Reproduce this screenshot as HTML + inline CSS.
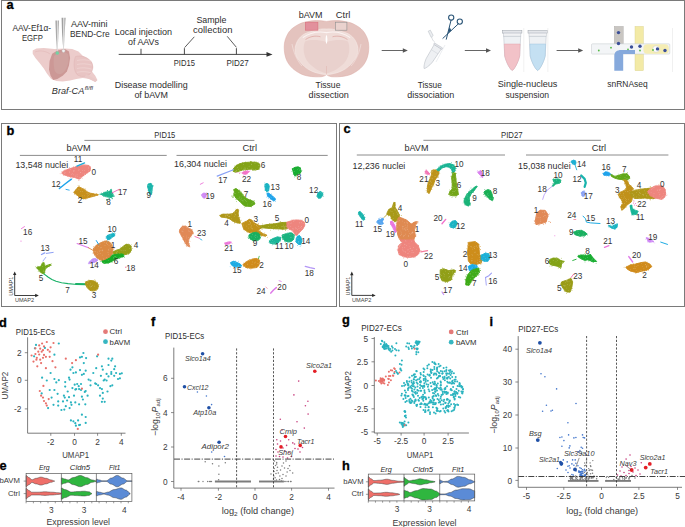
<!DOCTYPE html>
<html><head><meta charset="utf-8"><style>
html,body{margin:0;padding:0;background:#fff;width:685px;height:527px;overflow:hidden}
svg{display:block;font-family:"Liberation Sans", sans-serif}
</style></head><body>
<svg width="685" height="527" viewBox="0 0 685 527">
<rect x="1.5" y="0.5" width="683" height="109" fill="none" stroke="#7a7a7a" stroke-width="1"/>
<rect x="1.5" y="123.5" width="335" height="183" fill="none" stroke="#7a7a7a" stroke-width="1"/>
<rect x="339.5" y="123.5" width="345" height="183" fill="none" stroke="#7a7a7a" stroke-width="1"/>
<text x="6.6" y="9.3" font-size="12.8" fill="#000" text-anchor="start" font-weight="bold" stroke="#000" stroke-width="0.3">a</text>
<text x="12.5" y="30.6" font-size="8.6" fill="#2e2e2e" text-anchor="start" font-weight="normal" textLength="38.5" lengthAdjust="spacingAndGlyphs">AAV-Ef1α-</text>
<text x="21.9" y="40.6" font-size="8.6" fill="#2e2e2e" text-anchor="start" font-weight="normal" textLength="21" lengthAdjust="spacingAndGlyphs">EGFP</text>
<text x="71" y="26.8" font-size="8.6" fill="#2e2e2e" text-anchor="start" font-weight="normal" textLength="36.5" lengthAdjust="spacingAndGlyphs">AAV-mini</text>
<text x="70" y="36.8" font-size="8.6" fill="#2e2e2e" text-anchor="start" font-weight="normal" textLength="39.6" lengthAdjust="spacingAndGlyphs">BEND-Cre</text>
<polygon points="32.7,50.5 36.4,48.4 43.8,47.9 54.3,48.9 64.8,48.4 72.2,48.9 78.5,51.6 82.7,55.8 87.9,58.4 92.1,62.6 93.2,67.3 91.1,70.5 95.3,75.8 97.4,80.0 95.3,82.1 90.0,78.9 82.7,77.9 76.4,78.9 70.1,80.5 62.7,81.5 56.4,81.0 51.1,78.9 46.9,73.6 43.8,68.4 39.6,63.1 35.4,57.9 32.7,53.7" fill="#eccccb"/>
<path d="M75.5,56.5 C81,55 87.5,57 91,61.5 C93.8,65.5 93.2,71 90,74 C86,77 80.5,77.3 77,74.5 C73.8,71 73.2,62 75.5,56.5 Z" fill="#e8c4c3" stroke="#dcaeae" stroke-width="0.4"/>
<path d="M77,60.5 C82,59.3 87,59.7 91.5,61.1" fill="none" stroke="#f2dcdb" stroke-width="0.5"/>
<path d="M77,64.5 C82,63.3 87,63.7 91.5,65.1" fill="none" stroke="#f2dcdb" stroke-width="0.5"/>
<path d="M77,68.5 C82,67.3 87,67.7 91.5,69.1" fill="none" stroke="#f2dcdb" stroke-width="0.5"/>
<path d="M77,72.3 C82,71.1 87,71.5 91.5,72.89999999999999" fill="none" stroke="#f2dcdb" stroke-width="0.5"/>
<path d="M86,74.5 C90,76 94,78.5 97.4,80.2 L95.3,82.1 C92,80 88,78.5 84.5,77.5 Z" fill="#e9c9c8" stroke="none" stroke-width="1"/>
<path d="M35,52 C40,50 46,51 50,54" fill="none" stroke="#dcaeae" stroke-width="0.4"/>
<polygon points="52.2,53.7 57.4,50.5 64.8,48.9 69.0,51.6 70.1,57.9 69.0,65.2 66.9,71.5 62.7,75.8 57.4,78.9 53.2,80.0 50.6,75.8 49.0,69.4 49.6,61.0" fill="#cc9896"/>
<path d="M54,56 C58,52 65,51 68,54 C69.5,60 68,67 64,72 C61,75 56,75 54.5,70 C53.5,65 53.5,60 54,56 Z" fill="#cfa29f" stroke="none" stroke-width="1"/>
<defs><linearGradient id="ng" x1="0" x2="1"><stop offset="0" stop-color="#f2f2f2"/><stop offset="0.35" stop-color="#9c9c9c"/><stop offset="0.6" stop-color="#e6e6e6"/><stop offset="1" stop-color="#8a8a8a"/></linearGradient></defs>
<path d="M54.9,20.4 L58.9,20.4 L57.7,51.5 L57.0,51.5 Z" fill="url(#ng)" stroke="none" stroke-width="1"/>
<path d="M61,17.8 L65.5,17.8 L63.9,49 L63.2,49 Z" fill="url(#ng)" stroke="none" stroke-width="1"/>
<circle cx="57.3" cy="53.0" r="1.8" fill="#74d1a4"/>
<circle cx="63.5" cy="50.8" r="1.6" fill="#f2f2f2"/>
<circle cx="63.5" cy="50.8" r="1.6" fill="none" stroke="#bbb" stroke-width="0.4"/>
<text x="51.8" y="94" font-size="8.6" fill="#2e2e2e" text-anchor="start" font-weight="normal" font-style="italic" textLength="32.5" lengthAdjust="spacingAndGlyphs">Braf-CA</text>
<text x="84.8" y="89.6" font-size="5.8" fill="#2e2e2e" text-anchor="start" font-weight="normal" font-style="italic" textLength="8.2" lengthAdjust="spacingAndGlyphs">fl/fl</text>
<line x1="118.7" y1="54.4" x2="268.5" y2="54.4" stroke="#333" stroke-width="0.9"/>
<path d="M272.5,54.4 L266.5,52.1 L266.5,56.7 Z" fill="#333" stroke="none" stroke-width="1"/>
<line x1="141" y1="54.4" x2="141" y2="48.8" stroke="#333" stroke-width="0.9"/>
<line x1="184.4" y1="54.4" x2="184.4" y2="48.2" stroke="#333" stroke-width="0.9"/>
<line x1="236.4" y1="54.4" x2="236.4" y2="48.2" stroke="#333" stroke-width="0.9"/>
<line x1="184.6" y1="47.6" x2="194.3" y2="36.8" stroke="#333" stroke-width="0.8"/>
<line x1="236.4" y1="47.3" x2="227.2" y2="36.3" stroke="#333" stroke-width="0.8"/>
<text x="114.7" y="34.8" font-size="8.6" fill="#2e2e2e" text-anchor="start" font-weight="normal" textLength="57.3" lengthAdjust="spacingAndGlyphs">Local injection</text>
<text x="128" y="45.0" font-size="8.6" fill="#2e2e2e" text-anchor="start" font-weight="normal" textLength="31" lengthAdjust="spacingAndGlyphs">of AAVs</text>
<text x="196.4" y="23.3" font-size="8.6" fill="#2e2e2e" text-anchor="start" font-weight="normal" textLength="30" lengthAdjust="spacingAndGlyphs">Sample</text>
<text x="193" y="32.8" font-size="8.6" fill="#2e2e2e" text-anchor="start" font-weight="normal" textLength="39.4" lengthAdjust="spacingAndGlyphs">collection</text>
<text x="173.8" y="66.3" font-size="8.6" fill="#2e2e2e" text-anchor="start" font-weight="normal" textLength="21.1" lengthAdjust="spacingAndGlyphs">PID15</text>
<text x="226.4" y="66.3" font-size="8.6" fill="#2e2e2e" text-anchor="start" font-weight="normal" textLength="22.3" lengthAdjust="spacingAndGlyphs">PID27</text>
<text x="114.7" y="87.6" font-size="8.6" fill="#2e2e2e" text-anchor="start" font-weight="normal" textLength="73.1" lengthAdjust="spacingAndGlyphs">Disease modelling</text>
<text x="134.4" y="97.6" font-size="8.6" fill="#2e2e2e" text-anchor="start" font-weight="normal" textLength="33.6" lengthAdjust="spacingAndGlyphs">of bAVM</text>
<text x="298.8" y="18.3" font-size="8.6" fill="#2e2e2e" text-anchor="start" font-weight="normal" textLength="23.8" lengthAdjust="spacingAndGlyphs">bAVM</text>
<text x="335.8" y="18.3" font-size="8.6" fill="#2e2e2e" text-anchor="start" font-weight="normal" textLength="14.6" lengthAdjust="spacingAndGlyphs">Ctrl</text>
<path d="M326.2,21.4 C320,20.2 312,20.4 307.7,21.6 C303,22.4 300.5,23.3 298,24.7 C293,27.5 290,30 288.3,33 C285.6,37.5 284.2,42 284.2,46.9 C284.2,52 285,56.5 286.9,60.8 C289,65 292,68.3 295.3,70.5 C299.5,73.5 303.5,75.4 307.7,76 C313,76.9 318,77 321.6,76.7 C323.8,76.4 325.4,75.6 326.5,74.6 C327.6,75.6 329.2,76.4 331.3,76.7 C335,77 340,76.9 345.2,76 C349.5,75.4 353.5,73.5 357.7,70.5 C361,68.3 364,65 366,60.8 C368,56.5 368.8,52 368.8,46.9 C368.8,42 367.5,37.5 364.6,33 C362.9,30 360,27.5 354.9,24.7 C352.4,23.3 350,22.4 345.2,21.6 C341,20.4 333,20.2 326.8,21.4 Z" fill="#e4c3be" stroke="#dba8a2" stroke-width="0.5"/>
<path d="M326.5,29 C322,28.6 319,29.4 316.1,30.3 C311,31.5 306.5,32.8 303.6,34.4 C299,37.5 296.5,41.5 295.3,46.9 C294.5,52 296,56.8 299.4,60.8 C302.5,65 306,68.3 310.5,70.5 C315.5,73 321,74.2 326.5,74.6 C332,74.2 337.5,73 342.5,70.5 C347,68.3 350.5,65 353.6,60.8 C357,56.8 358.5,52 357.7,46.9 C356.5,41.5 354,37.5 349.4,34.4 C346.5,32.8 342,31.5 336.9,30.3 C334,29.4 331,28.6 326.5,29 Z" fill="#efdcd8" stroke="#f6ecea" stroke-width="0.6"/>
<path d="M305,41.5 C310,39.5 318,39.6 326.5,42 C335,39.6 343,39.5 348,41.5 C350.5,48 349.5,56 345,62 C340,68 333,72 326.5,73.3 C320,72 313,68 308,62 C303.5,56 302.5,48 305,41.5 Z" fill="#e9d1cd" stroke="none" stroke-width="1"/>
<path d="M302.8,37.6 C310,32.6 319,31.2 326.5,32.6 C334,31.2 343,32.6 350.2,37.6" fill="none" stroke="#fbf3f2" stroke-width="1.1"/>
<path d="M305.5,39.6 C310,36.2 316,35.4 320.5,36.8" fill="none" stroke="#d99893" stroke-width="0.6"/>
<path d="M347.5,39.6 C343,36.2 337,35.4 332.5,36.8" fill="none" stroke="#d99893" stroke-width="0.6"/>
<path d="M326.5,34.6 C325.3,37.5 325.3,41.5 326.5,44.3 C327.7,41.5 327.7,37.5 326.5,34.6 Z" fill="#ffffff" stroke="none" stroke-width="1"/>
<path d="M326.5,66 L326.5,74.3" fill="none" stroke="#deb2ad" stroke-width="0.5"/>
<path d="M292,44 C293.5,52 296.5,60 302,66" fill="none" stroke="#f7eceb" stroke-width="0.5"/>
<path d="M361,44 C359.5,52 356.5,60 351,66" fill="none" stroke="#f7eceb" stroke-width="0.5"/>
<rect x="305.3" y="22.2" width="12.6" height="8.0" fill="#e2909c" stroke="#d9707e" stroke-width="0.6"/>
<rect x="335.3" y="22.2" width="11.6" height="8.0" fill="#ead2ce" stroke="#8e8e8e" stroke-width="0.6"/>
<text x="315.5" y="87.6" font-size="8.6" fill="#2e2e2e" text-anchor="start" font-weight="normal" textLength="24.9" lengthAdjust="spacingAndGlyphs">Tissue</text>
<text x="308.6" y="97.6" font-size="8.6" fill="#2e2e2e" text-anchor="start" font-weight="normal" textLength="40.3" lengthAdjust="spacingAndGlyphs">dissection</text>
<line x1="381.7" y1="50.5" x2="403.8" y2="50.5" stroke="#555" stroke-width="0.9"/>
<path d="M407.8,50.5 L402.8,48.3 L402.8,52.7 Z" fill="#555" stroke="none" stroke-width="1"/>
<line x1="464.8" y1="50.5" x2="487" y2="50.5" stroke="#555" stroke-width="0.9"/>
<path d="M491,50.5 L486,48.3 L486,52.7 Z" fill="#555" stroke="none" stroke-width="1"/>
<line x1="556.6" y1="50.5" x2="579.2" y2="50.5" stroke="#555" stroke-width="0.9"/>
<path d="M583.2,50.5 L578.2,48.3 L578.2,52.7 Z" fill="#555" stroke="none" stroke-width="1"/>
<g transform="translate(432,56) rotate(32)">
<path d="M-4.2,-11 L4.2,-11 L3.6,5 C3,10 1,14 0,14.8 C-1,14 -3,10 -3.6,5 Z" fill="#eef0f3" stroke="#b4bac2" stroke-width="0.5"/>
<path d="M-3.9,-5 L3.9,-5" fill="none" stroke="#c6cbd2" stroke-width="0.4"/>
<rect x="-4.8" y="-12.4" width="9.6" height="1.6" fill="#e6e8ec" stroke="#a8aeb6" stroke-width="0.4"/>
</g>
<line x1="436" y1="62" x2="445" y2="45" stroke="#d8dde3" stroke-width="0.5"/>
<path d="M428.2,31.2 L430.4,30.2 L433.2,35.6 L431.2,37.4 Z" fill="#eceef1" stroke="#aab0b8" stroke-width="0.45"/>
<path d="M431.8,37.2 C432.2,39.5 433.2,41 434.8,42.2" fill="none" stroke="#b0b6be" stroke-width="0.45"/>
<path d="M451.2,19.6 L446.2,39.6" fill="none" stroke="#2b5577" stroke-width="1.0"/>
<path d="M458.6,23.6 L442.6,38.6" fill="none" stroke="#2b5577" stroke-width="1.0"/>
<path d="M449.5,27 L447.8,33.5 L451.5,30.5 Z" fill="#2b5577" stroke="none" stroke-width="1"/>
<circle cx="451.2" cy="17.6" r="2.6" fill="none" stroke="#2b5577" stroke-width="1.1"/>
<circle cx="459.8" cy="21.6" r="2.6" fill="none" stroke="#2b5577" stroke-width="1.1"/>
<text x="417.7" y="87.6" font-size="8.6" fill="#2e2e2e" text-anchor="start" font-weight="normal" textLength="24.1" lengthAdjust="spacingAndGlyphs">Tissue</text>
<text x="407.2" y="97.6" font-size="8.6" fill="#2e2e2e" text-anchor="start" font-weight="normal" textLength="47.1" lengthAdjust="spacingAndGlyphs">dissociation</text>
<path d="M503.7,36 L520.7,36 L519.7,56 C517.7,64 513.7,70 512.2,70.5 C510.7,70 506.7,64 504.7,56 Z" fill="#eef1f4" stroke="#b6bcc4" stroke-width="0.5"/>
<path d="M504.3,44 L520.1,44 L519.7,56 C517.7,64 513.7,70 512.2,70.5 C510.7,70 506.7,64 504.7,56 Z" fill="#f2c2c8" stroke="#e09aa4" stroke-width="0.4"/>
<rect x="502.5" y="30.5" width="19.4" height="2.6" fill="#e4e6ea" stroke="#9aa0a8" stroke-width="0.5"/>
<rect x="503.5" y="33.1" width="17.4" height="3" fill="#f1f2f4" stroke="#b0b6be" stroke-width="0.4"/>
<path d="M529.2,36 L546.2,36 L545.2,56 C543.2,64 539.2,70 537.7,70.5 C536.2,70 532.2,64 530.2,56 Z" fill="#eef1f4" stroke="#b6bcc4" stroke-width="0.5"/>
<path d="M529.8000000000001,44 L545.6,44 L545.2,56 C543.2,64 539.2,70 537.7,70.5 C536.2,70 532.2,64 530.2,56 Z" fill="#c4e0f2" stroke="#94bedc" stroke-width="0.4"/>
<rect x="528.0" y="30.5" width="19.4" height="2.6" fill="#e4e6ea" stroke="#9aa0a8" stroke-width="0.5"/>
<rect x="529.0" y="33.1" width="17.4" height="3" fill="#f1f2f4" stroke="#b0b6be" stroke-width="0.4"/>
<line x1="523.8" y1="28" x2="523.8" y2="72" stroke="#e6e6e6" stroke-width="0.6"/>
<line x1="547.9" y1="28" x2="547.9" y2="72" stroke="#e6e6e6" stroke-width="0.6"/>
<text x="497.8" y="87.4" font-size="8.6" fill="#2e2e2e" text-anchor="start" font-weight="normal" textLength="59.6" lengthAdjust="spacingAndGlyphs">Single-nucleus</text>
<text x="505.5" y="97.6" font-size="8.6" fill="#2e2e2e" text-anchor="start" font-weight="normal" textLength="43.5" lengthAdjust="spacingAndGlyphs">suspension</text>
<rect x="614.3" y="26.4" width="8.9" height="17.4" fill="#c9c6c2" stroke="#a9a6a2" stroke-width="0.4"/>
<rect x="635" y="26.4" width="8.4" height="44.3" fill="#f3eaa6" stroke="#d8cf8c" stroke-width="0.4"/>
<rect x="591.5" y="43.8" width="78.3" height="10.3" fill="#f3f5f7" stroke="#c4c8cc" stroke-width="0.5" rx="1"/>
<rect x="643.4" y="44.2" width="25.4" height="9.5" fill="#f5edb4" stroke="none" stroke-width="1" rx="4"/>
<circle cx="656" cy="49" r="3.2" fill="#fff" stroke="#bbb" stroke-width="0.4"/>
<path d="M614.3,70.7 L614.3,56 C614.3,52 617,50 621,50 L635,50 L635,54.1 L623.2,54.1 L623.2,70.7 Z" fill="#86a9dc" stroke="none" stroke-width="1"/>
<circle cx="618.5" cy="32.6" r="1.7" fill="#3b4f98"/>
<circle cx="618.5" cy="43.5" r="1.7" fill="#3b4f98"/>
<circle cx="631.5" cy="47.0" r="1.7" fill="#3b4f98"/>
<circle cx="640.0" cy="46.2" r="1.7" fill="#3b4f98"/>
<circle cx="657.5" cy="48.9" r="1.7" fill="#3b4f98"/>
<circle cx="665.0" cy="50.5" r="1.7" fill="#3b4f98"/>
<circle cx="598.8" cy="50.5" r="0.9" fill="#55bb44"/>
<circle cx="611.0" cy="47.7" r="0.9" fill="#55bb44"/>
<circle cx="628.0" cy="49.3" r="0.9" fill="#55bb44"/>
<circle cx="640.0" cy="50.5" r="0.9" fill="#55bb44"/>
<circle cx="653.0" cy="50.0" r="0.9" fill="#55bb44"/>
<line x1="672.5" y1="28" x2="672.5" y2="72" stroke="#e6e6e6" stroke-width="0.6"/>
<text x="607.3" y="87.4" font-size="8.6" fill="#2e2e2e" text-anchor="start" font-weight="normal" textLength="40.3" lengthAdjust="spacingAndGlyphs">snRNAseq</text>
<text x="6.6" y="134.9" font-size="12.8" fill="#000" text-anchor="start" font-weight="bold" stroke="#000" stroke-width="0.3">b</text>
<text x="343.4" y="133.0" font-size="12.8" fill="#000" text-anchor="start" font-weight="bold" stroke="#000" stroke-width="0.3">c</text>
<text x="154.3" y="137.9" font-size="8.6" fill="#2e2e2e" text-anchor="start" font-weight="normal" textLength="21" lengthAdjust="spacingAndGlyphs">PID15</text>
<line x1="84.4" y1="140.4" x2="254.4" y2="140.4" stroke="#666" stroke-width="0.75"/>
<text x="66.5" y="151.3" font-size="8.6" fill="#2e2e2e" text-anchor="start" font-weight="normal" textLength="24.1" lengthAdjust="spacingAndGlyphs">bAVM</text>
<line x1="19.9" y1="155.4" x2="166.7" y2="155.4" stroke="#666" stroke-width="0.75"/>
<text x="242.4" y="151.0" font-size="8.6" fill="#2e2e2e" text-anchor="start" font-weight="normal" textLength="14.6" lengthAdjust="spacingAndGlyphs">Ctrl</text>
<line x1="176.5" y1="155.4" x2="327.7" y2="155.4" stroke="#666" stroke-width="0.75"/>
<text x="15.4" y="167.6" font-size="8.6" fill="#2e2e2e" text-anchor="start" font-weight="normal" textLength="52.8" lengthAdjust="spacingAndGlyphs">13,548 nuclei</text>
<text x="174" y="167.3" font-size="8.6" fill="#2e2e2e" text-anchor="start" font-weight="normal" textLength="53" lengthAdjust="spacingAndGlyphs">16,304 nuclei</text>
<text x="501.0" y="137.9" font-size="8.6" fill="#2e2e2e" text-anchor="start" font-weight="normal" textLength="21.5" lengthAdjust="spacingAndGlyphs">PID27</text>
<line x1="423.4" y1="140.3" x2="600.9" y2="140.3" stroke="#666" stroke-width="0.75"/>
<text x="404.5" y="151.4" font-size="8.6" fill="#2e2e2e" text-anchor="start" font-weight="normal" textLength="23.9" lengthAdjust="spacingAndGlyphs">bAVM</text>
<line x1="356.8" y1="155.0" x2="505" y2="155.0" stroke="#666" stroke-width="0.75"/>
<text x="591.7" y="151.0" font-size="8.6" fill="#2e2e2e" text-anchor="start" font-weight="normal" textLength="14.5" lengthAdjust="spacingAndGlyphs">Ctrl</text>
<line x1="526" y1="155.0" x2="668.4" y2="155.0" stroke="#666" stroke-width="0.75"/>
<text x="352.6" y="168.6" font-size="8.6" fill="#2e2e2e" text-anchor="start" font-weight="normal" textLength="52.7" lengthAdjust="spacingAndGlyphs">12,236 nuclei</text>
<text x="518.1" y="168.6" font-size="8.6" fill="#2e2e2e" text-anchor="start" font-weight="normal" textLength="52.6" lengthAdjust="spacingAndGlyphs">15,038 nuclei</text>
<polygon points="61.6,173.1 63.8,171.0 69.2,168.8 76.9,166.6 84.6,164.9 89.0,165.5 90.6,167.7 90.0,171.0 86.8,173.1 82.4,176.4 79.1,179.2 74.7,177.5 69.2,176.4 63.8,174.8" fill="#ee857e" stroke="#ee857e" stroke-width="0.9" stroke-linejoin="round"/>
<g fill="#ee857e"><circle cx="75.5" cy="166.6" r="0.42"/><circle cx="85.2" cy="174.0" r="0.42"/><circle cx="62.5" cy="172.0" r="0.42"/><circle cx="76.7" cy="166.9" r="0.42"/><circle cx="70.8" cy="177.1" r="0.42"/><circle cx="69.5" cy="167.4" r="0.42"/><circle cx="89.8" cy="170.0" r="0.42"/><circle cx="65.0" cy="169.6" r="0.42"/><circle cx="81.7" cy="166.1" r="0.42"/><circle cx="90.3" cy="166.4" r="0.42"/><circle cx="80.2" cy="178.5" r="0.42"/><circle cx="72.6" cy="178.0" r="0.42"/><circle cx="69.3" cy="176.6" r="0.42"/><circle cx="75.5" cy="167.0" r="0.42"/><circle cx="83.9" cy="175.9" r="0.42"/><circle cx="85.4" cy="165.8" r="0.42"/><circle cx="87.3" cy="172.8" r="0.42"/><circle cx="67.1" cy="173.7" r="0.42"/><circle cx="82.5" cy="178.1" r="0.42"/><circle cx="64.2" cy="174.1" r="0.42"/><circle cx="79.9" cy="180.1" r="0.42"/><circle cx="87.0" cy="173.2" r="0.42"/><circle cx="70.9" cy="176.7" r="0.42"/><circle cx="73.8" cy="177.6" r="0.42"/><circle cx="80.0" cy="164.5" r="0.42"/><circle cx="63.6" cy="170.9" r="0.42"/><circle cx="78.6" cy="180.3" r="0.42"/><circle cx="60.1" cy="173.8" r="0.42"/><circle cx="81.7" cy="166.2" r="0.42"/><circle cx="63.4" cy="172.3" r="0.42"/><circle cx="85.2" cy="174.6" r="0.42"/><circle cx="69.0" cy="178.1" r="0.42"/><circle cx="67.3" cy="176.5" r="0.42"/><circle cx="89.4" cy="170.2" r="0.42"/><circle cx="86.6" cy="171.3" r="0.42"/><circle cx="89.2" cy="170.5" r="0.42"/><circle cx="75.5" cy="168.7" r="0.42"/><circle cx="89.9" cy="171.0" r="0.42"/><circle cx="87.8" cy="165.3" r="0.42"/><circle cx="84.6" cy="174.5" r="0.42"/><circle cx="83.1" cy="175.3" r="0.42"/><circle cx="83.4" cy="164.0" r="0.42"/><circle cx="63.7" cy="172.5" r="0.42"/><circle cx="63.6" cy="175.4" r="0.42"/><circle cx="85.7" cy="174.3" r="0.42"/><circle cx="80.4" cy="166.4" r="0.42"/><circle cx="79.4" cy="166.7" r="0.42"/><circle cx="61.9" cy="171.4" r="0.42"/><circle cx="81.1" cy="167.0" r="0.42"/><circle cx="76.5" cy="167.5" r="0.42"/><circle cx="80.9" cy="178.5" r="0.42"/><circle cx="82.8" cy="164.7" r="0.42"/><circle cx="70.8" cy="177.2" r="0.42"/><circle cx="83.5" cy="175.5" r="0.42"/><circle cx="75.9" cy="167.6" r="0.42"/><circle cx="73.6" cy="166.4" r="0.42"/><circle cx="72.4" cy="169.1" r="0.42"/><circle cx="83.6" cy="175.1" r="0.42"/><circle cx="68.8" cy="170.0" r="0.42"/><circle cx="77.9" cy="166.9" r="0.42"/></g>
<g fill="#fff" fill-opacity="0.45"><circle cx="73.8" cy="170.8" r="0.35"/><circle cx="88.3" cy="167.1" r="0.35"/><circle cx="88.5" cy="168.1" r="0.35"/><circle cx="80.8" cy="172.3" r="0.35"/><circle cx="70.0" cy="169.8" r="0.35"/><circle cx="78.7" cy="169.0" r="0.35"/><circle cx="85.1" cy="165.5" r="0.35"/><circle cx="80.8" cy="172.4" r="0.35"/><circle cx="79.4" cy="169.8" r="0.35"/><circle cx="75.4" cy="176.1" r="0.35"/><circle cx="77.1" cy="176.6" r="0.35"/><circle cx="79.8" cy="177.2" r="0.35"/><circle cx="69.4" cy="172.4" r="0.35"/><circle cx="73.9" cy="171.7" r="0.35"/><circle cx="64.1" cy="172.1" r="0.35"/><circle cx="70.8" cy="169.4" r="0.35"/><circle cx="71.8" cy="174.2" r="0.35"/><circle cx="78.6" cy="170.1" r="0.35"/><circle cx="65.2" cy="172.8" r="0.35"/><circle cx="82.4" cy="170.3" r="0.35"/><circle cx="72.4" cy="173.5" r="0.35"/><circle cx="84.3" cy="170.3" r="0.35"/><circle cx="84.8" cy="173.8" r="0.35"/><circle cx="74.1" cy="170.2" r="0.35"/><circle cx="76.0" cy="175.0" r="0.35"/><circle cx="73.8" cy="174.8" r="0.35"/><circle cx="75.0" cy="168.4" r="0.35"/><circle cx="77.1" cy="174.8" r="0.35"/><circle cx="88.8" cy="170.3" r="0.35"/><circle cx="69.2" cy="171.5" r="0.35"/><circle cx="80.8" cy="177.6" r="0.35"/><circle cx="84.6" cy="174.4" r="0.35"/><circle cx="82.9" cy="173.0" r="0.35"/><circle cx="64.6" cy="173.3" r="0.35"/></g>
<polyline points="76.9,166.2 84.6,162.9" fill="none" stroke="#1caedc" stroke-width="1.3" stroke-linecap="round" stroke-linejoin="round"/>
<polyline points="59.4,188.5 65.0,184.0 71.4,179.2" fill="none" stroke="#1ea4eb" stroke-width="1.5" stroke-linecap="round" stroke-linejoin="round"/>
<polyline points="66.0,189.4 69.2,190.1" fill="none" stroke="#1ea4eb" stroke-width="0.9" stroke-linecap="round" stroke-linejoin="round"/>
<polygon points="74.2,191.8 76.9,188.5 78.5,186.8 81.3,187.9 84.6,190.1 89.0,192.9 94.4,194.0 98.3,194.8 94.4,196.1 87.9,197.8 83.5,198.9 79.6,197.2 76.4,194.5 74.2,192.9" fill="#c7901b" stroke="#c7901b" stroke-width="0.9" stroke-linejoin="round"/>
<g fill="#c7901b"><circle cx="75.1" cy="192.5" r="0.42"/><circle cx="76.0" cy="190.1" r="0.42"/><circle cx="78.7" cy="196.5" r="0.42"/><circle cx="81.4" cy="198.5" r="0.42"/><circle cx="90.2" cy="196.0" r="0.42"/><circle cx="94.5" cy="195.9" r="0.42"/><circle cx="83.1" cy="198.6" r="0.42"/><circle cx="78.1" cy="185.6" r="0.42"/><circle cx="76.0" cy="190.0" r="0.42"/><circle cx="81.1" cy="198.3" r="0.42"/><circle cx="84.1" cy="189.5" r="0.42"/><circle cx="91.7" cy="194.1" r="0.42"/><circle cx="89.5" cy="193.2" r="0.42"/><circle cx="98.7" cy="194.6" r="0.42"/><circle cx="85.9" cy="199.4" r="0.42"/><circle cx="84.4" cy="197.8" r="0.42"/><circle cx="96.2" cy="193.4" r="0.42"/><circle cx="81.1" cy="188.1" r="0.42"/><circle cx="76.3" cy="195.0" r="0.42"/><circle cx="87.1" cy="198.6" r="0.42"/><circle cx="82.0" cy="188.4" r="0.42"/><circle cx="83.5" cy="188.2" r="0.42"/><circle cx="86.9" cy="191.0" r="0.42"/><circle cx="79.3" cy="197.0" r="0.42"/><circle cx="84.2" cy="189.4" r="0.42"/><circle cx="91.9" cy="194.0" r="0.42"/><circle cx="88.4" cy="192.1" r="0.42"/><circle cx="73.3" cy="192.4" r="0.42"/><circle cx="96.9" cy="193.3" r="0.42"/><circle cx="94.5" cy="195.8" r="0.42"/><circle cx="78.7" cy="197.9" r="0.42"/><circle cx="74.6" cy="193.7" r="0.42"/><circle cx="84.0" cy="188.8" r="0.42"/><circle cx="75.5" cy="193.2" r="0.42"/><circle cx="82.1" cy="188.9" r="0.42"/><circle cx="88.6" cy="196.7" r="0.42"/><circle cx="85.6" cy="190.0" r="0.42"/><circle cx="93.7" cy="193.6" r="0.42"/><circle cx="77.8" cy="187.3" r="0.42"/><circle cx="89.2" cy="192.6" r="0.42"/><circle cx="74.1" cy="192.1" r="0.42"/><circle cx="97.4" cy="195.5" r="0.42"/><circle cx="74.7" cy="194.3" r="0.42"/><circle cx="78.4" cy="187.8" r="0.42"/><circle cx="79.5" cy="186.0" r="0.42"/><circle cx="78.3" cy="187.4" r="0.42"/><circle cx="84.0" cy="198.2" r="0.42"/><circle cx="88.5" cy="196.4" r="0.42"/><circle cx="85.7" cy="189.0" r="0.42"/><circle cx="89.0" cy="197.3" r="0.42"/></g>
<g fill="#fff" fill-opacity="0.45"><circle cx="86.1" cy="191.1" r="0.35"/><circle cx="91.5" cy="195.0" r="0.35"/><circle cx="89.8" cy="194.4" r="0.35"/><circle cx="82.2" cy="195.5" r="0.35"/><circle cx="88.6" cy="193.5" r="0.35"/><circle cx="81.7" cy="188.9" r="0.35"/><circle cx="80.6" cy="191.4" r="0.35"/><circle cx="82.2" cy="191.7" r="0.35"/><circle cx="87.3" cy="196.1" r="0.35"/><circle cx="82.7" cy="197.0" r="0.35"/><circle cx="76.9" cy="190.1" r="0.35"/><circle cx="93.0" cy="195.6" r="0.35"/><circle cx="78.7" cy="189.1" r="0.35"/><circle cx="84.2" cy="195.8" r="0.35"/><circle cx="93.9" cy="195.9" r="0.35"/><circle cx="86.9" cy="193.7" r="0.35"/><circle cx="79.1" cy="189.8" r="0.35"/><circle cx="87.5" cy="193.9" r="0.35"/><circle cx="88.7" cy="195.6" r="0.35"/></g>
<polygon points="101.0,194.2 104.0,193.0 108.7,191.5 110.6,190.6 112.4,192.4 113.2,195.8 111.6,197.6 108.7,197.2 105.4,196.6 102.6,195.4" fill="#19b48b" stroke="#19b48b" stroke-width="0.9" stroke-linejoin="round"/>
<g fill="#19b48b"><circle cx="101.2" cy="193.2" r="0.42"/><circle cx="112.1" cy="194.2" r="0.42"/><circle cx="106.3" cy="192.2" r="0.42"/><circle cx="112.4" cy="194.0" r="0.42"/><circle cx="114.2" cy="195.9" r="0.42"/><circle cx="105.1" cy="191.8" r="0.42"/><circle cx="102.1" cy="194.0" r="0.42"/><circle cx="101.6" cy="192.9" r="0.42"/><circle cx="110.8" cy="190.1" r="0.42"/><circle cx="105.4" cy="192.0" r="0.42"/><circle cx="102.5" cy="194.4" r="0.42"/><circle cx="111.2" cy="189.1" r="0.42"/><circle cx="103.5" cy="196.7" r="0.42"/><circle cx="113.0" cy="194.2" r="0.42"/><circle cx="103.3" cy="193.7" r="0.42"/><circle cx="112.6" cy="193.6" r="0.42"/><circle cx="112.0" cy="191.8" r="0.42"/><circle cx="112.7" cy="192.8" r="0.42"/><circle cx="107.0" cy="191.7" r="0.42"/><circle cx="110.5" cy="191.8" r="0.42"/><circle cx="112.1" cy="197.1" r="0.42"/><circle cx="107.0" cy="191.7" r="0.42"/><circle cx="112.8" cy="193.8" r="0.42"/><circle cx="105.5" cy="192.7" r="0.42"/><circle cx="102.1" cy="194.2" r="0.42"/><circle cx="113.0" cy="194.3" r="0.42"/><circle cx="111.6" cy="193.6" r="0.42"/></g>
<g fill="#fff" fill-opacity="0.45"><circle cx="102.2" cy="193.9" r="0.35"/><circle cx="103.0" cy="195.0" r="0.35"/><circle cx="104.4" cy="196.1" r="0.35"/><circle cx="108.7" cy="193.0" r="0.35"/><circle cx="112.8" cy="194.7" r="0.35"/><circle cx="109.0" cy="196.9" r="0.35"/><circle cx="106.8" cy="196.2" r="0.35"/></g>
<circle cx="100.2" cy="194.3" r="0.7" fill="#19b48b"/>
<circle cx="110.9" cy="189.6" r="0.7" fill="#19b48b"/>
<circle cx="111.5" cy="190.2" r="0.7" fill="#19b48b"/>
<circle cx="113.8" cy="196.3" r="0.7" fill="#19b48b"/>
<circle cx="112.2" cy="198.6" r="0.7" fill="#19b48b"/>
<circle cx="106.8" cy="199.8" r="0.7" fill="#19b48b"/>
<circle cx="109.2" cy="198.6" r="0.7" fill="#19b48b"/>
<circle cx="104" cy="192.5" r="0.7" fill="#19b48b"/>
<circle cx="107.5" cy="190.6" r="0.7" fill="#19b48b"/>
<polyline points="112.0,192.9 119.0,189.4" fill="none" stroke="#f374bf" stroke-width="1.0" stroke-linecap="round" stroke-linejoin="round"/>
<polygon points="148.0,184.0 151.0,183.3 152.6,186.0 152.0,190.0 151.5,194.4 149.5,194.0 148.5,190.0 147.6,187.0" fill="#19b4aa" stroke="#19b4aa" stroke-width="0.9" stroke-linejoin="round"/>
<g fill="#19b4aa"><circle cx="147.9" cy="186.1" r="0.42"/><circle cx="151.0" cy="186.9" r="0.42"/><circle cx="149.9" cy="184.8" r="0.42"/><circle cx="150.5" cy="183.7" r="0.42"/><circle cx="149.5" cy="192.2" r="0.42"/><circle cx="148.6" cy="189.5" r="0.42"/><circle cx="151.8" cy="194.0" r="0.42"/><circle cx="152.1" cy="192.1" r="0.42"/><circle cx="151.6" cy="193.1" r="0.42"/><circle cx="148.0" cy="190.7" r="0.42"/><circle cx="151.6" cy="190.2" r="0.42"/><circle cx="149.7" cy="191.7" r="0.42"/><circle cx="148.4" cy="190.1" r="0.42"/><circle cx="153.1" cy="185.4" r="0.42"/><circle cx="148.2" cy="186.7" r="0.42"/><circle cx="147.6" cy="186.1" r="0.42"/><circle cx="152.7" cy="190.0" r="0.42"/><circle cx="148.6" cy="185.7" r="0.42"/><circle cx="151.8" cy="183.8" r="0.42"/><circle cx="152.9" cy="186.4" r="0.42"/><circle cx="149.2" cy="193.3" r="0.42"/><circle cx="153.1" cy="185.9" r="0.42"/><circle cx="149.9" cy="194.9" r="0.42"/><circle cx="150.1" cy="193.2" r="0.42"/></g>
<g fill="#fff" fill-opacity="0.45"><circle cx="148.5" cy="185.3" r="0.35"/><circle cx="149.9" cy="185.8" r="0.35"/><circle cx="151.7" cy="190.1" r="0.35"/><circle cx="150.8" cy="191.8" r="0.35"/><circle cx="152.0" cy="187.1" r="0.35"/></g>
<polyline points="21.3,228.7 24.5,226.6" fill="none" stroke="#ed75d9" stroke-width="0.9" stroke-linecap="round" stroke-linejoin="round"/>
<circle cx="21" cy="241.1" r="0.6" fill="#ed75d9"/>
<polyline points="41.5,254.5 44.7,252.9" fill="none" stroke="#8ea0f5" stroke-width="1.3" stroke-linecap="round" stroke-linejoin="round"/>
<polyline points="46.3,253.4 53.2,252.4" fill="none" stroke="#8ea0f5" stroke-width="1.0" stroke-linecap="round" stroke-linejoin="round"/>
<polyline points="43.0,261.0 45.8,257.3" fill="none" stroke="#8ea0f5" stroke-width="0.8" stroke-linecap="round" stroke-linejoin="round"/>
<polygon points="36.6,267.4 40.6,266.6 42.3,263.4 43.9,262.6 44.7,266.3 50.3,264.2 51.1,265.0 45.5,268.2 44.7,271.5 43.9,273.9 41.5,273.1 39.0,270.6" fill="#71a618" stroke="#71a618" stroke-width="0.9" stroke-linejoin="round"/>
<g fill="#71a618"><circle cx="46.1" cy="267.8" r="0.42"/><circle cx="40.1" cy="272.0" r="0.42"/><circle cx="42.5" cy="262.7" r="0.42"/><circle cx="45.0" cy="272.7" r="0.42"/><circle cx="51.6" cy="265.6" r="0.42"/><circle cx="43.4" cy="273.2" r="0.42"/><circle cx="46.4" cy="268.4" r="0.42"/><circle cx="36.3" cy="268.2" r="0.42"/><circle cx="40.2" cy="267.1" r="0.42"/><circle cx="38.2" cy="268.4" r="0.42"/><circle cx="35.7" cy="266.8" r="0.42"/><circle cx="47.4" cy="267.1" r="0.42"/><circle cx="39.9" cy="270.5" r="0.42"/><circle cx="41.5" cy="275.1" r="0.42"/><circle cx="38.2" cy="271.7" r="0.42"/><circle cx="43.4" cy="263.9" r="0.42"/><circle cx="43.6" cy="265.5" r="0.42"/><circle cx="38.3" cy="266.5" r="0.42"/><circle cx="49.0" cy="265.4" r="0.42"/><circle cx="44.1" cy="273.5" r="0.42"/><circle cx="44.4" cy="266.0" r="0.42"/><circle cx="41.9" cy="263.3" r="0.42"/><circle cx="38.6" cy="268.0" r="0.42"/><circle cx="47.5" cy="265.9" r="0.42"/><circle cx="49.8" cy="264.5" r="0.42"/><circle cx="47.0" cy="265.1" r="0.42"/><circle cx="51.7" cy="263.8" r="0.42"/><circle cx="44.6" cy="267.0" r="0.42"/><circle cx="37.6" cy="267.9" r="0.42"/><circle cx="49.0" cy="266.5" r="0.42"/><circle cx="43.3" cy="262.2" r="0.42"/><circle cx="37.6" cy="266.2" r="0.42"/><circle cx="38.1" cy="267.2" r="0.42"/><circle cx="49.5" cy="264.7" r="0.42"/><circle cx="49.0" cy="266.8" r="0.42"/><circle cx="44.4" cy="263.0" r="0.42"/><circle cx="45.0" cy="264.4" r="0.42"/><circle cx="44.8" cy="266.9" r="0.42"/></g>
<g fill="#fff" fill-opacity="0.45"><circle cx="48.3" cy="265.4" r="0.35"/><circle cx="43.4" cy="270.1" r="0.35"/><circle cx="45.3" cy="267.3" r="0.35"/><circle cx="44.1" cy="264.5" r="0.35"/><circle cx="39.3" cy="270.3" r="0.35"/><circle cx="42.5" cy="266.6" r="0.35"/><circle cx="43.2" cy="271.7" r="0.35"/><circle cx="43.2" cy="273.4" r="0.35"/></g>
<polyline points="43.9,273.9 48.0,277.0 51.9,279.5 56.0,281.3 61.6,282.7 68.0,283.6 74.5,284.2 80.0,284.3 86.0,284.2" fill="none" stroke="#19b167" stroke-width="1.15" stroke-linecap="round" stroke-linejoin="round"/>
<polyline points="76.0,284.0 86.0,284.2" fill="none" stroke="#19b167" stroke-width="2.0" stroke-linecap="round" stroke-linejoin="round"/>
<polygon points="85.7,281.9 89.2,280.5 93.5,280.8 97.0,282.6 98.5,286.2 97.0,289.7 93.5,291.1 89.9,290.4 87.1,287.6 85.7,284.7" fill="#b09719" stroke="#b09719" stroke-width="0.9" stroke-linejoin="round"/>
<g fill="#b09719"><circle cx="90.9" cy="281.4" r="0.42"/><circle cx="99.0" cy="284.6" r="0.42"/><circle cx="85.6" cy="284.3" r="0.42"/><circle cx="94.7" cy="290.1" r="0.42"/><circle cx="95.2" cy="280.4" r="0.42"/><circle cx="88.9" cy="279.9" r="0.42"/><circle cx="98.6" cy="288.1" r="0.42"/><circle cx="93.6" cy="292.5" r="0.42"/><circle cx="91.2" cy="281.6" r="0.42"/><circle cx="96.5" cy="284.2" r="0.42"/><circle cx="85.4" cy="284.6" r="0.42"/><circle cx="96.0" cy="282.3" r="0.42"/><circle cx="86.1" cy="282.9" r="0.42"/><circle cx="93.6" cy="281.2" r="0.42"/><circle cx="90.1" cy="289.3" r="0.42"/><circle cx="88.2" cy="288.1" r="0.42"/><circle cx="86.2" cy="283.6" r="0.42"/><circle cx="97.6" cy="288.9" r="0.42"/><circle cx="87.5" cy="283.0" r="0.42"/><circle cx="91.1" cy="280.4" r="0.42"/><circle cx="85.2" cy="281.3" r="0.42"/><circle cx="91.8" cy="281.0" r="0.42"/><circle cx="92.4" cy="281.9" r="0.42"/><circle cx="88.2" cy="286.9" r="0.42"/><circle cx="96.6" cy="290.0" r="0.42"/><circle cx="98.5" cy="284.8" r="0.42"/><circle cx="90.5" cy="280.9" r="0.42"/><circle cx="97.7" cy="283.4" r="0.42"/><circle cx="94.8" cy="279.8" r="0.42"/><circle cx="85.7" cy="283.3" r="0.42"/><circle cx="84.6" cy="283.8" r="0.42"/><circle cx="97.3" cy="282.5" r="0.42"/><circle cx="89.6" cy="289.1" r="0.42"/></g>
<g fill="#fff" fill-opacity="0.45"><circle cx="91.6" cy="286.2" r="0.35"/><circle cx="91.4" cy="286.2" r="0.35"/><circle cx="96.4" cy="282.6" r="0.35"/><circle cx="93.3" cy="290.4" r="0.35"/><circle cx="96.6" cy="282.4" r="0.35"/><circle cx="87.8" cy="283.3" r="0.35"/><circle cx="88.3" cy="281.1" r="0.35"/><circle cx="94.5" cy="286.1" r="0.35"/><circle cx="92.6" cy="285.2" r="0.35"/><circle cx="87.6" cy="286.9" r="0.35"/><circle cx="89.8" cy="285.9" r="0.35"/><circle cx="90.5" cy="283.9" r="0.35"/><circle cx="90.3" cy="286.9" r="0.35"/><circle cx="96.7" cy="289.4" r="0.35"/></g>
<polyline points="77.1,243.5 88.5,247.8" fill="none" stroke="#dc7eed" stroke-width="1.1" stroke-linecap="round" stroke-linejoin="round"/>
<polyline points="88.5,247.8 93.5,250.6" fill="none" stroke="#db8a43" stroke-width="0.9" stroke-linecap="round" stroke-linejoin="round"/>
<polygon points="112.8,252.0 116.0,250.5 120.0,249.0 122.8,246.6 125.5,244.6 128.5,244.3 131.0,246.0 131.3,250.0 129.5,253.3 126.0,254.5 121.0,254.4 117.0,254.6 114.0,254.2" fill="#959e17" stroke="#959e17" stroke-width="0.9" stroke-linejoin="round"/>
<g fill="#959e17"><circle cx="124.9" cy="245.4" r="0.42"/><circle cx="117.0" cy="249.7" r="0.42"/><circle cx="126.3" cy="244.0" r="0.42"/><circle cx="112.8" cy="253.6" r="0.42"/><circle cx="132.7" cy="248.6" r="0.42"/><circle cx="130.4" cy="250.2" r="0.42"/><circle cx="114.5" cy="251.2" r="0.42"/><circle cx="123.2" cy="254.9" r="0.42"/><circle cx="129.3" cy="244.3" r="0.42"/><circle cx="120.3" cy="247.1" r="0.42"/><circle cx="131.2" cy="244.8" r="0.42"/><circle cx="127.3" cy="245.2" r="0.42"/><circle cx="128.5" cy="245.5" r="0.42"/><circle cx="117.0" cy="254.4" r="0.42"/><circle cx="121.2" cy="248.1" r="0.42"/><circle cx="119.4" cy="249.7" r="0.42"/><circle cx="125.1" cy="245.7" r="0.42"/><circle cx="114.1" cy="254.1" r="0.42"/><circle cx="120.3" cy="253.2" r="0.42"/><circle cx="130.7" cy="245.6" r="0.42"/><circle cx="116.5" cy="255.1" r="0.42"/><circle cx="116.5" cy="255.0" r="0.42"/><circle cx="119.5" cy="254.3" r="0.42"/><circle cx="113.9" cy="251.5" r="0.42"/><circle cx="119.6" cy="255.0" r="0.42"/><circle cx="128.1" cy="244.5" r="0.42"/><circle cx="128.3" cy="252.9" r="0.42"/><circle cx="118.0" cy="250.0" r="0.42"/><circle cx="115.3" cy="250.8" r="0.42"/><circle cx="113.1" cy="252.4" r="0.42"/><circle cx="129.8" cy="248.3" r="0.42"/><circle cx="119.2" cy="255.1" r="0.42"/><circle cx="130.5" cy="251.8" r="0.42"/><circle cx="129.8" cy="245.1" r="0.42"/><circle cx="114.7" cy="251.1" r="0.42"/><circle cx="130.8" cy="252.0" r="0.42"/><circle cx="131.6" cy="246.4" r="0.42"/><circle cx="125.3" cy="245.4" r="0.42"/><circle cx="131.5" cy="250.4" r="0.42"/><circle cx="116.8" cy="255.1" r="0.42"/><circle cx="128.4" cy="254.4" r="0.42"/><circle cx="116.4" cy="253.5" r="0.42"/></g>
<g fill="#fff" fill-opacity="0.45"><circle cx="116.4" cy="253.3" r="0.35"/><circle cx="116.8" cy="252.8" r="0.35"/><circle cx="130.1" cy="245.5" r="0.35"/><circle cx="129.7" cy="248.4" r="0.35"/><circle cx="119.9" cy="253.1" r="0.35"/><circle cx="128.2" cy="244.9" r="0.35"/><circle cx="117.7" cy="251.4" r="0.35"/><circle cx="123.2" cy="246.8" r="0.35"/><circle cx="125.7" cy="246.5" r="0.35"/><circle cx="125.2" cy="250.6" r="0.35"/><circle cx="116.1" cy="252.0" r="0.35"/><circle cx="120.1" cy="249.9" r="0.35"/><circle cx="123.9" cy="250.8" r="0.35"/><circle cx="127.4" cy="253.2" r="0.35"/><circle cx="121.9" cy="250.3" r="0.35"/><circle cx="117.8" cy="253.6" r="0.35"/></g>
<polygon points="102.0,259.1 106.3,257.0 112.0,254.9 117.7,254.2 123.4,254.2 124.1,256.3 119.1,257.7 113.4,260.6 109.1,262.7 104.2,263.4 102.0,262.0" fill="#18ad28" stroke="#18ad28" stroke-width="0.9" stroke-linejoin="round"/>
<g fill="#18ad28"><circle cx="114.4" cy="261.5" r="0.42"/><circle cx="100.7" cy="261.7" r="0.42"/><circle cx="124.3" cy="257.4" r="0.42"/><circle cx="118.4" cy="253.3" r="0.42"/><circle cx="105.7" cy="256.5" r="0.42"/><circle cx="122.7" cy="256.0" r="0.42"/><circle cx="122.7" cy="254.8" r="0.42"/><circle cx="107.8" cy="263.2" r="0.42"/><circle cx="110.2" cy="261.7" r="0.42"/><circle cx="104.9" cy="262.8" r="0.42"/><circle cx="102.6" cy="258.7" r="0.42"/><circle cx="117.1" cy="254.5" r="0.42"/><circle cx="111.5" cy="262.0" r="0.42"/><circle cx="119.7" cy="258.6" r="0.42"/><circle cx="119.6" cy="257.7" r="0.42"/><circle cx="119.8" cy="258.4" r="0.42"/><circle cx="109.8" cy="255.9" r="0.42"/><circle cx="121.8" cy="254.0" r="0.42"/><circle cx="104.1" cy="257.9" r="0.42"/><circle cx="122.9" cy="257.0" r="0.42"/><circle cx="122.4" cy="256.5" r="0.42"/><circle cx="122.0" cy="257.0" r="0.42"/><circle cx="114.7" cy="256.0" r="0.42"/><circle cx="108.2" cy="256.3" r="0.42"/><circle cx="123.2" cy="256.0" r="0.42"/><circle cx="110.0" cy="255.0" r="0.42"/><circle cx="111.8" cy="257.1" r="0.42"/><circle cx="109.2" cy="261.1" r="0.42"/><circle cx="106.2" cy="255.8" r="0.42"/><circle cx="110.9" cy="255.3" r="0.42"/><circle cx="117.9" cy="253.8" r="0.42"/><circle cx="114.9" cy="260.6" r="0.42"/><circle cx="121.0" cy="253.4" r="0.42"/><circle cx="122.5" cy="256.0" r="0.42"/><circle cx="108.7" cy="263.6" r="0.42"/><circle cx="118.6" cy="258.0" r="0.42"/><circle cx="109.7" cy="255.3" r="0.42"/><circle cx="109.1" cy="261.8" r="0.42"/><circle cx="106.4" cy="262.4" r="0.42"/><circle cx="102.9" cy="257.7" r="0.42"/><circle cx="103.1" cy="263.0" r="0.42"/><circle cx="101.9" cy="259.3" r="0.42"/><circle cx="112.3" cy="262.1" r="0.42"/><circle cx="114.6" cy="259.5" r="0.42"/><circle cx="107.4" cy="255.2" r="0.42"/><circle cx="108.8" cy="256.2" r="0.42"/></g>
<g fill="#fff" fill-opacity="0.45"><circle cx="115.5" cy="256.6" r="0.35"/><circle cx="108.2" cy="260.6" r="0.35"/><circle cx="113.5" cy="257.2" r="0.35"/><circle cx="123.5" cy="255.1" r="0.35"/><circle cx="116.7" cy="257.2" r="0.35"/><circle cx="107.0" cy="258.4" r="0.35"/><circle cx="119.7" cy="257.4" r="0.35"/><circle cx="107.1" cy="258.0" r="0.35"/><circle cx="114.7" cy="259.2" r="0.35"/><circle cx="115.2" cy="256.9" r="0.35"/><circle cx="109.5" cy="256.0" r="0.35"/><circle cx="114.6" cy="256.6" r="0.35"/><circle cx="113.5" cy="258.1" r="0.35"/><circle cx="104.2" cy="262.7" r="0.35"/><circle cx="111.7" cy="255.4" r="0.35"/></g>
<polygon points="93.6,248.2 96.5,245.0 100.0,243.0 103.4,241.8 106.5,240.8 109.5,242.0 111.8,245.0 113.0,249.5 112.4,253.6 109.5,257.0 105.0,259.4 100.6,260.0 97.0,258.0 94.5,254.5 93.4,251.0" fill="#db8a43" stroke="#db8a43" stroke-width="0.9" stroke-linejoin="round"/>
<g fill="#db8a43"><circle cx="93.9" cy="248.8" r="0.42"/><circle cx="94.2" cy="248.8" r="0.42"/><circle cx="112.8" cy="252.9" r="0.42"/><circle cx="113.3" cy="247.6" r="0.42"/><circle cx="93.4" cy="246.6" r="0.42"/><circle cx="95.3" cy="254.0" r="0.42"/><circle cx="108.7" cy="242.0" r="0.42"/><circle cx="110.0" cy="242.7" r="0.42"/><circle cx="97.6" cy="244.5" r="0.42"/><circle cx="93.6" cy="250.6" r="0.42"/><circle cx="99.8" cy="259.7" r="0.42"/><circle cx="112.3" cy="252.8" r="0.42"/><circle cx="103.4" cy="259.2" r="0.42"/><circle cx="94.8" cy="248.4" r="0.42"/><circle cx="92.9" cy="253.1" r="0.42"/><circle cx="110.1" cy="256.0" r="0.42"/><circle cx="109.6" cy="257.4" r="0.42"/><circle cx="101.4" cy="260.7" r="0.42"/><circle cx="106.0" cy="241.7" r="0.42"/><circle cx="101.8" cy="259.7" r="0.42"/><circle cx="103.5" cy="241.9" r="0.42"/><circle cx="104.9" cy="240.6" r="0.42"/><circle cx="105.9" cy="241.3" r="0.42"/><circle cx="101.7" cy="242.2" r="0.42"/><circle cx="94.2" cy="254.6" r="0.42"/><circle cx="113.8" cy="248.8" r="0.42"/><circle cx="99.9" cy="260.8" r="0.42"/><circle cx="107.6" cy="241.7" r="0.42"/><circle cx="102.5" cy="241.2" r="0.42"/><circle cx="103.0" cy="260.5" r="0.42"/><circle cx="112.1" cy="251.8" r="0.42"/><circle cx="113.0" cy="249.3" r="0.42"/><circle cx="106.3" cy="257.0" r="0.42"/><circle cx="104.1" cy="241.1" r="0.42"/><circle cx="103.3" cy="259.6" r="0.42"/><circle cx="99.6" cy="259.1" r="0.42"/><circle cx="109.9" cy="256.9" r="0.42"/><circle cx="96.4" cy="255.9" r="0.42"/><circle cx="100.6" cy="244.2" r="0.42"/><circle cx="112.3" cy="248.7" r="0.42"/><circle cx="93.8" cy="252.6" r="0.42"/><circle cx="93.2" cy="251.9" r="0.42"/><circle cx="93.4" cy="249.9" r="0.42"/><circle cx="94.7" cy="255.2" r="0.42"/><circle cx="93.9" cy="253.4" r="0.42"/><circle cx="110.3" cy="243.7" r="0.42"/><circle cx="110.8" cy="254.5" r="0.42"/><circle cx="112.1" cy="254.3" r="0.42"/><circle cx="93.8" cy="250.8" r="0.42"/><circle cx="96.4" cy="245.5" r="0.42"/><circle cx="102.4" cy="242.4" r="0.42"/><circle cx="93.8" cy="253.1" r="0.42"/><circle cx="114.1" cy="248.8" r="0.42"/></g>
<g fill="#fff" fill-opacity="0.45"><circle cx="98.6" cy="246.3" r="0.35"/><circle cx="111.5" cy="246.8" r="0.35"/><circle cx="106.4" cy="242.8" r="0.35"/><circle cx="111.0" cy="248.5" r="0.35"/><circle cx="100.2" cy="253.4" r="0.35"/><circle cx="105.0" cy="245.6" r="0.35"/><circle cx="95.8" cy="251.8" r="0.35"/><circle cx="100.1" cy="244.1" r="0.35"/><circle cx="99.6" cy="251.2" r="0.35"/><circle cx="101.4" cy="247.2" r="0.35"/><circle cx="99.1" cy="250.1" r="0.35"/><circle cx="108.7" cy="249.2" r="0.35"/><circle cx="108.5" cy="250.1" r="0.35"/><circle cx="110.0" cy="250.0" r="0.35"/><circle cx="100.9" cy="250.7" r="0.35"/><circle cx="110.0" cy="248.0" r="0.35"/><circle cx="100.5" cy="247.8" r="0.35"/><circle cx="93.6" cy="251.3" r="0.35"/><circle cx="102.8" cy="250.3" r="0.35"/><circle cx="102.3" cy="249.9" r="0.35"/><circle cx="107.4" cy="244.4" r="0.35"/><circle cx="110.4" cy="244.2" r="0.35"/><circle cx="109.0" cy="245.8" r="0.35"/><circle cx="94.9" cy="251.2" r="0.35"/><circle cx="94.4" cy="248.1" r="0.35"/><circle cx="95.5" cy="255.3" r="0.35"/><circle cx="102.2" cy="255.1" r="0.35"/><circle cx="106.7" cy="257.6" r="0.35"/><circle cx="104.2" cy="242.3" r="0.35"/><circle cx="98.9" cy="253.5" r="0.35"/><circle cx="107.4" cy="241.5" r="0.35"/><circle cx="103.4" cy="258.8" r="0.35"/><circle cx="97.6" cy="254.3" r="0.35"/><circle cx="108.0" cy="252.7" r="0.35"/><circle cx="108.4" cy="254.2" r="0.35"/><circle cx="103.9" cy="259.4" r="0.35"/><circle cx="97.7" cy="252.1" r="0.35"/><circle cx="102.1" cy="250.8" r="0.35"/><circle cx="106.5" cy="243.4" r="0.35"/></g>
<polygon points="107.0,235.7 110.6,234.2 114.1,233.3 114.8,235.7 112.7,237.1 109.9,239.2 107.7,239.9 106.6,237.8" fill="#1ab3c5" stroke="#1ab3c5" stroke-width="0.9" stroke-linejoin="round"/>
<g fill="#1ab3c5"><circle cx="109.7" cy="238.1" r="0.42"/><circle cx="113.1" cy="234.0" r="0.42"/><circle cx="106.0" cy="238.2" r="0.42"/><circle cx="113.0" cy="236.2" r="0.42"/><circle cx="114.3" cy="232.3" r="0.42"/><circle cx="114.8" cy="234.2" r="0.42"/><circle cx="108.7" cy="239.0" r="0.42"/><circle cx="106.4" cy="236.8" r="0.42"/><circle cx="108.6" cy="235.6" r="0.42"/><circle cx="115.3" cy="233.8" r="0.42"/><circle cx="113.9" cy="235.2" r="0.42"/><circle cx="110.6" cy="238.1" r="0.42"/><circle cx="114.0" cy="236.0" r="0.42"/><circle cx="107.7" cy="241.1" r="0.42"/><circle cx="107.8" cy="235.1" r="0.42"/><circle cx="109.8" cy="239.8" r="0.42"/><circle cx="109.0" cy="234.2" r="0.42"/><circle cx="107.2" cy="236.1" r="0.42"/><circle cx="105.9" cy="236.9" r="0.42"/><circle cx="112.5" cy="232.4" r="0.42"/></g>
<g fill="#fff" fill-opacity="0.45"><circle cx="110.2" cy="236.5" r="0.35"/><circle cx="109.2" cy="235.2" r="0.35"/><circle cx="111.7" cy="237.2" r="0.35"/><circle cx="110.9" cy="235.6" r="0.35"/></g>
<polyline points="96.3,240.6 98.5,244.2" fill="none" stroke="#1ea4eb" stroke-width="1.0" stroke-linecap="round" stroke-linejoin="round"/>
<polygon points="88.5,263.4 92.1,259.1 95.6,258.4 97.8,259.9 96.3,261.7 92.1,262.7" fill="#bf90f5" stroke="#bf90f5" stroke-width="0.9" stroke-linejoin="round"/>
<g fill="#bf90f5"><circle cx="88.8" cy="262.1" r="0.42"/><circle cx="97.7" cy="260.0" r="0.42"/><circle cx="89.2" cy="263.0" r="0.42"/><circle cx="91.3" cy="262.5" r="0.42"/><circle cx="94.6" cy="261.9" r="0.42"/><circle cx="94.2" cy="264.7" r="0.42"/><circle cx="90.4" cy="261.5" r="0.42"/><circle cx="91.9" cy="262.0" r="0.42"/><circle cx="89.6" cy="261.3" r="0.42"/><circle cx="90.5" cy="261.8" r="0.42"/><circle cx="89.7" cy="262.2" r="0.42"/><circle cx="89.0" cy="263.9" r="0.42"/><circle cx="90.8" cy="262.4" r="0.42"/><circle cx="89.8" cy="261.1" r="0.42"/><circle cx="91.2" cy="261.8" r="0.42"/><circle cx="92.4" cy="262.9" r="0.42"/><circle cx="93.7" cy="259.0" r="0.42"/><circle cx="91.0" cy="261.3" r="0.42"/><circle cx="94.6" cy="262.6" r="0.42"/></g>
<g fill="#fff" fill-opacity="0.45"><circle cx="91.9" cy="260.2" r="0.35"/><circle cx="94.2" cy="259.5" r="0.35"/><circle cx="94.5" cy="260.8" r="0.35"/></g>
<circle cx="125.8" cy="267.2" r="0.7" fill="#f47ba2"/>
<text x="73.80000000000001" y="162.29999999999998" font-size="8.2" fill="#333" text-anchor="start" font-weight="normal">11</text>
<text x="91.45" y="174.7" font-size="8.2" fill="#333" text-anchor="start" font-weight="normal">0</text>
<text x="51.5" y="186.6" font-size="8.2" fill="#333" text-anchor="start" font-weight="normal">12</text>
<text x="77.85000000000001" y="202.5" font-size="8.2" fill="#333" text-anchor="start" font-weight="normal">2</text>
<text x="106.35000000000001" y="204.5" font-size="8.2" fill="#333" text-anchor="start" font-weight="normal">8</text>
<text x="118.0" y="195.29999999999998" font-size="8.2" fill="#333" text-anchor="start" font-weight="normal">17</text>
<text x="146.55" y="197.79999999999998" font-size="8.2" fill="#333" text-anchor="start" font-weight="normal">9</text>
<text x="23.099999999999998" y="234.9" font-size="8.2" fill="#333" text-anchor="start" font-weight="normal">16</text>
<text x="40.5" y="250.6" font-size="8.2" fill="#333" text-anchor="start" font-weight="normal">13</text>
<text x="38.65" y="280.90000000000003" font-size="8.2" fill="#333" text-anchor="start" font-weight="normal">5</text>
<text x="65.25" y="292.5" font-size="8.2" fill="#333" text-anchor="start" font-weight="normal">7</text>
<text x="91.75" y="297.6" font-size="8.2" fill="#333" text-anchor="start" font-weight="normal">3</text>
<text x="110.7" y="247.6" font-size="8.2" fill="#333" text-anchor="start" font-weight="normal">1</text>
<text x="107.4" y="232.2" font-size="8.2" fill="#333" text-anchor="start" font-weight="normal">10</text>
<text x="133.65" y="247.9" font-size="8.2" fill="#333" text-anchor="start" font-weight="normal">4</text>
<text x="113.75" y="263.8" font-size="8.2" fill="#333" text-anchor="start" font-weight="normal">6</text>
<text x="78.4" y="243.6" font-size="8.2" fill="#333" text-anchor="start" font-weight="normal">15</text>
<text x="89.80000000000001" y="268.1" font-size="8.2" fill="#333" text-anchor="start" font-weight="normal">14</text>
<text x="126.30000000000001" y="270.90000000000003" font-size="8.2" fill="#333" text-anchor="start" font-weight="normal">18</text>
<polygon points="233.2,169.0 236.0,165.6 240.0,163.6 245.0,162.5 250.5,162.1 256.5,162.3 259.6,164.0 260.0,167.0 258.5,169.3 255.0,170.0 251.5,169.2 247.0,169.4 242.5,170.0 238.8,171.2 235.5,172.3 233.2,171.4" fill="#83a317" stroke="#83a317" stroke-width="0.9" stroke-linejoin="round"/>
<g fill="#83a317"><circle cx="242.7" cy="162.5" r="0.42"/><circle cx="233.9" cy="170.8" r="0.42"/><circle cx="238.9" cy="171.0" r="0.42"/><circle cx="242.3" cy="168.5" r="0.42"/><circle cx="245.1" cy="169.9" r="0.42"/><circle cx="252.5" cy="170.5" r="0.42"/><circle cx="257.3" cy="169.0" r="0.42"/><circle cx="251.0" cy="161.5" r="0.42"/><circle cx="254.2" cy="162.0" r="0.42"/><circle cx="252.2" cy="169.4" r="0.42"/><circle cx="234.1" cy="169.5" r="0.42"/><circle cx="249.0" cy="163.3" r="0.42"/><circle cx="241.3" cy="169.9" r="0.42"/><circle cx="247.2" cy="169.3" r="0.42"/><circle cx="255.1" cy="170.1" r="0.42"/><circle cx="246.3" cy="169.5" r="0.42"/><circle cx="258.2" cy="169.2" r="0.42"/><circle cx="256.8" cy="169.5" r="0.42"/><circle cx="242.7" cy="169.2" r="0.42"/><circle cx="250.4" cy="161.9" r="0.42"/><circle cx="259.3" cy="169.6" r="0.42"/><circle cx="241.5" cy="170.2" r="0.42"/><circle cx="254.9" cy="162.2" r="0.42"/><circle cx="239.5" cy="169.8" r="0.42"/><circle cx="236.8" cy="165.1" r="0.42"/><circle cx="257.3" cy="169.5" r="0.42"/><circle cx="258.3" cy="162.2" r="0.42"/><circle cx="251.1" cy="161.5" r="0.42"/><circle cx="236.8" cy="171.9" r="0.42"/><circle cx="233.7" cy="171.0" r="0.42"/><circle cx="245.4" cy="170.3" r="0.42"/><circle cx="238.8" cy="170.7" r="0.42"/><circle cx="246.0" cy="168.8" r="0.42"/><circle cx="253.4" cy="170.4" r="0.42"/><circle cx="233.2" cy="169.5" r="0.42"/><circle cx="243.6" cy="164.1" r="0.42"/><circle cx="244.3" cy="163.8" r="0.42"/><circle cx="242.5" cy="163.1" r="0.42"/><circle cx="237.2" cy="171.4" r="0.42"/><circle cx="243.4" cy="170.1" r="0.42"/><circle cx="234.8" cy="165.9" r="0.42"/><circle cx="250.4" cy="161.7" r="0.42"/><circle cx="259.4" cy="163.9" r="0.42"/><circle cx="237.4" cy="171.5" r="0.42"/><circle cx="245.6" cy="162.0" r="0.42"/><circle cx="239.0" cy="172.1" r="0.42"/><circle cx="254.4" cy="169.2" r="0.42"/><circle cx="236.4" cy="166.5" r="0.42"/><circle cx="235.2" cy="168.5" r="0.42"/><circle cx="239.0" cy="170.4" r="0.42"/><circle cx="259.0" cy="168.6" r="0.42"/><circle cx="257.9" cy="169.5" r="0.42"/><circle cx="237.1" cy="165.8" r="0.42"/><circle cx="239.8" cy="164.0" r="0.42"/><circle cx="247.0" cy="169.1" r="0.42"/><circle cx="238.2" cy="171.4" r="0.42"/></g>
<g fill="#fff" fill-opacity="0.45"><circle cx="236.6" cy="170.3" r="0.35"/><circle cx="244.1" cy="168.2" r="0.35"/><circle cx="244.4" cy="169.7" r="0.35"/><circle cx="235.6" cy="171.6" r="0.35"/><circle cx="239.6" cy="170.5" r="0.35"/><circle cx="245.8" cy="169.2" r="0.35"/><circle cx="236.1" cy="171.1" r="0.35"/><circle cx="249.1" cy="162.7" r="0.35"/><circle cx="258.4" cy="165.3" r="0.35"/><circle cx="255.2" cy="169.4" r="0.35"/><circle cx="243.5" cy="164.7" r="0.35"/><circle cx="237.4" cy="167.7" r="0.35"/><circle cx="238.7" cy="169.6" r="0.35"/><circle cx="241.8" cy="168.0" r="0.35"/><circle cx="247.8" cy="168.5" r="0.35"/><circle cx="251.7" cy="164.3" r="0.35"/><circle cx="251.5" cy="164.1" r="0.35"/><circle cx="247.1" cy="168.0" r="0.35"/><circle cx="245.6" cy="168.8" r="0.35"/><circle cx="255.0" cy="163.6" r="0.35"/><circle cx="252.0" cy="168.5" r="0.35"/><circle cx="243.2" cy="169.3" r="0.35"/><circle cx="249.1" cy="166.2" r="0.35"/><circle cx="245.0" cy="167.8" r="0.35"/><circle cx="259.6" cy="167.5" r="0.35"/></g>
<polyline points="217.2,176.1 233.5,169.7" fill="none" stroke="#89a1f5" stroke-width="1.2" stroke-linecap="round" stroke-linejoin="round"/>
<polygon points="242.9,172.0 246.4,171.1 249.3,171.4 247.0,173.8 245.2,174.4 242.3,173.4" fill="#f373c7" stroke="#f373c7" stroke-width="0.9" stroke-linejoin="round"/>
<g fill="#f373c7"><circle cx="243.7" cy="175.1" r="0.42"/><circle cx="246.9" cy="172.4" r="0.42"/><circle cx="245.1" cy="171.5" r="0.42"/><circle cx="246.7" cy="171.2" r="0.42"/><circle cx="247.1" cy="170.2" r="0.42"/><circle cx="243.1" cy="173.9" r="0.42"/><circle cx="247.9" cy="171.4" r="0.42"/><circle cx="247.6" cy="170.3" r="0.42"/><circle cx="247.6" cy="170.9" r="0.42"/><circle cx="247.2" cy="173.9" r="0.42"/><circle cx="247.5" cy="172.2" r="0.42"/><circle cx="250.0" cy="170.8" r="0.42"/><circle cx="247.1" cy="171.4" r="0.42"/><circle cx="249.5" cy="171.8" r="0.42"/></g>
<g fill="#fff" fill-opacity="0.45"><circle cx="247.2" cy="171.7" r="0.35"/></g>
<circle cx="237" cy="172.5" r="0.5" fill="#f373c7"/>
<circle cx="239.5" cy="173.2" r="0.5" fill="#f373c7"/>
<circle cx="241" cy="172.8" r="0.5" fill="#f373c7"/>
<polygon points="201.4,194.8 203.8,193.0 206.1,193.6 206.1,196.5 204.3,198.3 202.6,197.1" fill="#ce88f5" stroke="#ce88f5" stroke-width="0.9" stroke-linejoin="round"/>
<g fill="#ce88f5"><circle cx="205.8" cy="193.4" r="0.42"/><circle cx="206.0" cy="197.4" r="0.42"/><circle cx="204.6" cy="197.1" r="0.42"/><circle cx="204.4" cy="196.9" r="0.42"/><circle cx="206.1" cy="195.4" r="0.42"/><circle cx="204.3" cy="198.1" r="0.42"/><circle cx="205.0" cy="193.2" r="0.42"/><circle cx="202.6" cy="197.1" r="0.42"/><circle cx="206.4" cy="197.6" r="0.42"/><circle cx="206.8" cy="192.7" r="0.42"/><circle cx="202.8" cy="193.8" r="0.42"/><circle cx="203.8" cy="197.9" r="0.42"/><circle cx="203.2" cy="193.3" r="0.42"/></g>
<g fill="#fff" fill-opacity="0.45"><circle cx="202.9" cy="195.4" r="0.35"/><circle cx="204.0" cy="195.2" r="0.35"/></g>
<polyline points="200.3,184.3 203.2,182.8" fill="none" stroke="#ec75d9" stroke-width="0.9" stroke-linecap="round" stroke-linejoin="round"/>
<polygon points="233.6,189.6 236.2,188.6 239.5,191.0 241.5,193.0 242.8,195.2 245.2,197.4 249.0,199.8 253.8,201.4 255.0,203.8 251.0,206.5 245.5,206.2 242.4,204.2 240.2,201.8 237.4,199.4 235.2,197.0 233.8,194.4 234.4,191.8" fill="#61a818" stroke="#61a818" stroke-width="0.9" stroke-linejoin="round"/>
<g fill="#61a818"><circle cx="233.8" cy="193.3" r="0.42"/><circle cx="235.4" cy="197.7" r="0.42"/><circle cx="235.9" cy="199.7" r="0.42"/><circle cx="236.6" cy="199.4" r="0.42"/><circle cx="239.4" cy="190.0" r="0.42"/><circle cx="249.7" cy="200.4" r="0.42"/><circle cx="235.6" cy="197.3" r="0.42"/><circle cx="245.3" cy="206.1" r="0.42"/><circle cx="253.1" cy="202.2" r="0.42"/><circle cx="233.9" cy="195.2" r="0.42"/><circle cx="234.0" cy="195.0" r="0.42"/><circle cx="246.5" cy="205.4" r="0.42"/><circle cx="239.7" cy="190.8" r="0.42"/><circle cx="250.8" cy="199.9" r="0.42"/><circle cx="241.2" cy="202.3" r="0.42"/><circle cx="254.0" cy="201.1" r="0.42"/><circle cx="234.7" cy="193.8" r="0.42"/><circle cx="233.9" cy="195.7" r="0.42"/><circle cx="236.6" cy="201.6" r="0.42"/><circle cx="236.3" cy="196.6" r="0.42"/><circle cx="242.2" cy="193.9" r="0.42"/><circle cx="253.5" cy="204.2" r="0.42"/><circle cx="243.2" cy="194.5" r="0.42"/><circle cx="239.9" cy="190.6" r="0.42"/><circle cx="243.3" cy="205.2" r="0.42"/><circle cx="249.2" cy="199.3" r="0.42"/><circle cx="233.4" cy="196.0" r="0.42"/><circle cx="241.7" cy="194.0" r="0.42"/><circle cx="240.3" cy="192.3" r="0.42"/><circle cx="251.4" cy="206.9" r="0.42"/><circle cx="248.6" cy="199.2" r="0.42"/><circle cx="254.2" cy="200.6" r="0.42"/><circle cx="245.4" cy="197.3" r="0.42"/><circle cx="241.2" cy="192.0" r="0.42"/><circle cx="235.4" cy="197.9" r="0.42"/><circle cx="238.2" cy="200.0" r="0.42"/><circle cx="244.8" cy="205.7" r="0.42"/><circle cx="239.7" cy="191.5" r="0.42"/><circle cx="254.6" cy="204.2" r="0.42"/><circle cx="242.8" cy="204.2" r="0.42"/><circle cx="250.9" cy="200.6" r="0.42"/><circle cx="244.3" cy="207.0" r="0.42"/><circle cx="250.1" cy="200.4" r="0.42"/><circle cx="240.3" cy="192.9" r="0.42"/><circle cx="252.0" cy="202.0" r="0.42"/><circle cx="234.3" cy="191.0" r="0.42"/><circle cx="248.1" cy="199.6" r="0.42"/><circle cx="249.9" cy="200.6" r="0.42"/><circle cx="239.7" cy="201.4" r="0.42"/><circle cx="253.8" cy="203.4" r="0.42"/><circle cx="235.3" cy="188.5" r="0.42"/><circle cx="250.6" cy="199.7" r="0.42"/><circle cx="250.7" cy="200.2" r="0.42"/></g>
<g fill="#fff" fill-opacity="0.45"><circle cx="235.4" cy="193.6" r="0.35"/><circle cx="238.7" cy="192.2" r="0.35"/><circle cx="241.6" cy="200.0" r="0.35"/><circle cx="242.7" cy="200.4" r="0.35"/><circle cx="243.3" cy="200.0" r="0.35"/><circle cx="239.7" cy="197.9" r="0.35"/><circle cx="242.1" cy="194.9" r="0.35"/><circle cx="240.5" cy="192.5" r="0.35"/><circle cx="244.4" cy="199.3" r="0.35"/><circle cx="253.0" cy="202.7" r="0.35"/><circle cx="247.2" cy="206.1" r="0.35"/><circle cx="245.5" cy="200.7" r="0.35"/><circle cx="247.6" cy="204.0" r="0.35"/><circle cx="238.0" cy="198.4" r="0.35"/><circle cx="252.0" cy="203.8" r="0.35"/><circle cx="239.5" cy="192.0" r="0.35"/><circle cx="243.0" cy="201.8" r="0.35"/><circle cx="239.9" cy="196.9" r="0.35"/><circle cx="234.3" cy="193.2" r="0.35"/><circle cx="241.6" cy="198.1" r="0.35"/><circle cx="246.2" cy="201.4" r="0.35"/><circle cx="240.2" cy="199.8" r="0.35"/></g>
<circle cx="232" cy="196" r="0.6" fill="#61a818"/>
<circle cx="233" cy="197.2" r="0.6" fill="#61a818"/>
<polygon points="264.9,184.3 267.0,183.4 268.7,184.3 269.2,187.0 268.7,190.8 267.0,191.9 265.4,190.3 265.1,187.0" fill="#1ab3c2" stroke="#1ab3c2" stroke-width="0.9" stroke-linejoin="round"/>
<g fill="#1ab3c2"><circle cx="269.1" cy="185.8" r="0.42"/><circle cx="266.5" cy="193.0" r="0.42"/><circle cx="265.6" cy="190.1" r="0.42"/><circle cx="265.0" cy="186.0" r="0.42"/><circle cx="265.4" cy="185.7" r="0.42"/><circle cx="265.8" cy="188.8" r="0.42"/><circle cx="264.9" cy="190.1" r="0.42"/><circle cx="268.4" cy="190.8" r="0.42"/><circle cx="266.1" cy="190.7" r="0.42"/><circle cx="266.2" cy="184.2" r="0.42"/><circle cx="264.8" cy="182.9" r="0.42"/><circle cx="265.8" cy="190.1" r="0.42"/><circle cx="266.3" cy="183.6" r="0.42"/><circle cx="264.9" cy="186.9" r="0.42"/><circle cx="264.9" cy="186.2" r="0.42"/><circle cx="269.7" cy="186.7" r="0.42"/><circle cx="267.2" cy="192.2" r="0.42"/><circle cx="266.2" cy="184.2" r="0.42"/></g>
<g fill="#fff" fill-opacity="0.45"><circle cx="267.4" cy="191.4" r="0.35"/><circle cx="265.2" cy="185.6" r="0.35"/><circle cx="267.6" cy="189.0" r="0.35"/></g>
<polygon points="267.0,193.6 268.7,193.0 271.4,195.2 275.8,199.1 274.7,200.7 272.5,200.2 269.2,197.4 267.6,196.3" fill="#1ea3eb" stroke="#1ea3eb" stroke-width="0.9" stroke-linejoin="round"/>
<g fill="#1ea3eb"><circle cx="270.6" cy="197.3" r="0.42"/><circle cx="273.0" cy="196.6" r="0.42"/><circle cx="270.2" cy="198.9" r="0.42"/><circle cx="271.9" cy="195.0" r="0.42"/><circle cx="269.7" cy="195.0" r="0.42"/><circle cx="273.1" cy="197.0" r="0.42"/><circle cx="272.5" cy="199.5" r="0.42"/><circle cx="268.7" cy="196.2" r="0.42"/><circle cx="268.5" cy="194.0" r="0.42"/><circle cx="267.9" cy="195.7" r="0.42"/><circle cx="275.3" cy="201.3" r="0.42"/><circle cx="267.3" cy="194.5" r="0.42"/><circle cx="267.9" cy="196.3" r="0.42"/><circle cx="271.6" cy="193.9" r="0.42"/><circle cx="266.8" cy="197.1" r="0.42"/><circle cx="268.3" cy="198.2" r="0.42"/><circle cx="274.5" cy="198.0" r="0.42"/><circle cx="270.7" cy="198.5" r="0.42"/><circle cx="268.2" cy="193.5" r="0.42"/><circle cx="270.9" cy="199.5" r="0.42"/><circle cx="273.6" cy="201.7" r="0.42"/></g>
<g fill="#fff" fill-opacity="0.45"><circle cx="270.8" cy="196.9" r="0.35"/><circle cx="273.6" cy="197.2" r="0.35"/><circle cx="271.4" cy="197.8" r="0.35"/><circle cx="275.6" cy="199.2" r="0.35"/></g>
<polygon points="292.2,168.9 295.0,167.3 298.2,166.8 300.4,167.9 301.0,171.1 300.4,173.3 297.2,174.4 295.0,176.1 293.9,174.4 293.3,171.7" fill="#18ad31" stroke="#18ad31" stroke-width="0.9" stroke-linejoin="round"/>
<g fill="#18ad31"><circle cx="297.2" cy="173.7" r="0.42"/><circle cx="294.0" cy="173.2" r="0.42"/><circle cx="294.6" cy="173.3" r="0.42"/><circle cx="292.8" cy="169.7" r="0.42"/><circle cx="301.9" cy="170.5" r="0.42"/><circle cx="296.1" cy="176.3" r="0.42"/><circle cx="296.6" cy="175.1" r="0.42"/><circle cx="297.2" cy="167.2" r="0.42"/><circle cx="294.8" cy="167.8" r="0.42"/><circle cx="294.4" cy="176.9" r="0.42"/><circle cx="293.8" cy="173.4" r="0.42"/><circle cx="296.2" cy="174.4" r="0.42"/><circle cx="293.9" cy="171.7" r="0.42"/><circle cx="293.2" cy="172.4" r="0.42"/><circle cx="300.2" cy="167.3" r="0.42"/><circle cx="301.4" cy="171.5" r="0.42"/><circle cx="293.2" cy="174.7" r="0.42"/><circle cx="294.2" cy="168.2" r="0.42"/><circle cx="299.4" cy="173.5" r="0.42"/><circle cx="297.6" cy="174.9" r="0.42"/><circle cx="292.5" cy="168.6" r="0.42"/><circle cx="292.0" cy="171.5" r="0.42"/><circle cx="300.3" cy="172.7" r="0.42"/><circle cx="298.4" cy="167.3" r="0.42"/><circle cx="292.2" cy="168.8" r="0.42"/></g>
<g fill="#fff" fill-opacity="0.45"><circle cx="299.7" cy="170.2" r="0.35"/><circle cx="293.3" cy="169.3" r="0.35"/><circle cx="298.9" cy="168.5" r="0.35"/><circle cx="300.0" cy="169.3" r="0.35"/><circle cx="298.3" cy="173.3" r="0.35"/><circle cx="294.3" cy="171.6" r="0.35"/><circle cx="297.7" cy="169.3" r="0.35"/></g>
<polygon points="318.0,193.0 320.1,191.4 322.3,192.5 322.9,195.2 320.7,198.0 318.5,198.3 316.9,196.3" fill="#19b4ad" stroke="#19b4ad" stroke-width="0.9" stroke-linejoin="round"/>
<g fill="#19b4ad"><circle cx="320.1" cy="196.0" r="0.42"/><circle cx="322.8" cy="193.7" r="0.42"/><circle cx="318.8" cy="198.2" r="0.42"/><circle cx="320.5" cy="192.0" r="0.42"/><circle cx="320.5" cy="192.2" r="0.42"/><circle cx="323.1" cy="192.7" r="0.42"/><circle cx="317.9" cy="194.2" r="0.42"/><circle cx="317.9" cy="194.1" r="0.42"/><circle cx="319.8" cy="192.0" r="0.42"/><circle cx="323.7" cy="196.6" r="0.42"/><circle cx="317.4" cy="191.7" r="0.42"/><circle cx="320.7" cy="198.2" r="0.42"/><circle cx="322.9" cy="193.9" r="0.42"/><circle cx="320.2" cy="192.8" r="0.42"/><circle cx="317.3" cy="195.2" r="0.42"/><circle cx="321.1" cy="195.7" r="0.42"/><circle cx="321.6" cy="193.3" r="0.42"/></g>
<g fill="#fff" fill-opacity="0.45"><circle cx="321.9" cy="193.8" r="0.35"/><circle cx="322.2" cy="192.6" r="0.35"/><circle cx="320.7" cy="192.3" r="0.35"/></g>
<polygon points="179.7,229.5 182.0,226.6 185.5,226.0 189.0,228.4 191.9,230.1 193.1,233.0 190.8,235.9 189.0,238.9 188.4,242.4 189.6,246.5 187.3,245.9 184.9,242.4 183.2,238.9 180.8,234.8 179.4,231.9" fill="#e18956" stroke="#e18956" stroke-width="0.9" stroke-linejoin="round"/>
<g fill="#e18956"><circle cx="191.5" cy="229.7" r="0.42"/><circle cx="188.8" cy="237.9" r="0.42"/><circle cx="184.7" cy="240.9" r="0.42"/><circle cx="184.3" cy="240.2" r="0.42"/><circle cx="188.2" cy="244.9" r="0.42"/><circle cx="186.1" cy="245.4" r="0.42"/><circle cx="184.2" cy="243.8" r="0.42"/><circle cx="191.8" cy="231.8" r="0.42"/><circle cx="189.9" cy="247.0" r="0.42"/><circle cx="183.8" cy="226.0" r="0.42"/><circle cx="187.4" cy="242.6" r="0.42"/><circle cx="190.4" cy="228.4" r="0.42"/><circle cx="190.0" cy="241.2" r="0.42"/><circle cx="189.6" cy="229.4" r="0.42"/><circle cx="189.8" cy="229.5" r="0.42"/><circle cx="187.7" cy="243.3" r="0.42"/><circle cx="180.5" cy="232.7" r="0.42"/><circle cx="186.4" cy="243.6" r="0.42"/><circle cx="191.3" cy="236.9" r="0.42"/><circle cx="186.7" cy="246.7" r="0.42"/><circle cx="182.3" cy="225.2" r="0.42"/><circle cx="180.3" cy="231.8" r="0.42"/><circle cx="184.4" cy="240.9" r="0.42"/><circle cx="188.0" cy="227.8" r="0.42"/><circle cx="192.6" cy="229.6" r="0.42"/><circle cx="183.8" cy="239.3" r="0.42"/><circle cx="182.9" cy="236.4" r="0.42"/><circle cx="193.4" cy="233.7" r="0.42"/><circle cx="191.7" cy="235.7" r="0.42"/><circle cx="188.4" cy="246.6" r="0.42"/><circle cx="188.5" cy="239.6" r="0.42"/><circle cx="189.1" cy="245.4" r="0.42"/><circle cx="189.7" cy="236.7" r="0.42"/><circle cx="193.2" cy="233.9" r="0.42"/><circle cx="185.4" cy="242.6" r="0.42"/><circle cx="189.4" cy="243.3" r="0.42"/><circle cx="189.7" cy="236.7" r="0.42"/><circle cx="181.9" cy="227.2" r="0.42"/><circle cx="180.0" cy="231.4" r="0.42"/><circle cx="193.2" cy="232.1" r="0.42"/><circle cx="185.6" cy="241.1" r="0.42"/><circle cx="192.3" cy="233.4" r="0.42"/><circle cx="192.0" cy="233.3" r="0.42"/><circle cx="191.9" cy="231.8" r="0.42"/><circle cx="182.8" cy="239.7" r="0.42"/><circle cx="187.6" cy="243.8" r="0.42"/><circle cx="184.1" cy="226.4" r="0.42"/><circle cx="191.1" cy="235.6" r="0.42"/></g>
<g fill="#fff" fill-opacity="0.45"><circle cx="188.1" cy="245.2" r="0.35"/><circle cx="190.7" cy="232.0" r="0.35"/><circle cx="182.4" cy="237.0" r="0.35"/><circle cx="180.5" cy="234.0" r="0.35"/><circle cx="189.3" cy="231.2" r="0.35"/><circle cx="187.8" cy="244.2" r="0.35"/><circle cx="186.7" cy="236.0" r="0.35"/><circle cx="182.9" cy="227.2" r="0.35"/><circle cx="186.8" cy="237.9" r="0.35"/><circle cx="183.0" cy="231.8" r="0.35"/><circle cx="188.4" cy="239.9" r="0.35"/><circle cx="182.5" cy="231.1" r="0.35"/><circle cx="186.4" cy="227.2" r="0.35"/><circle cx="187.5" cy="227.8" r="0.35"/><circle cx="185.3" cy="242.2" r="0.35"/><circle cx="185.6" cy="240.9" r="0.35"/><circle cx="188.6" cy="237.4" r="0.35"/><circle cx="181.8" cy="231.0" r="0.35"/><circle cx="183.6" cy="229.0" r="0.35"/><circle cx="183.3" cy="236.3" r="0.35"/><circle cx="188.5" cy="230.9" r="0.35"/></g>
<polyline points="194.9,236.5 199.5,238.3" fill="none" stroke="#f377b2" stroke-width="1.0" stroke-linecap="round" stroke-linejoin="round"/>
<polyline points="200.1,238.9 201.9,240.0" fill="none" stroke="#1dabe3" stroke-width="0.8" stroke-linecap="round" stroke-linejoin="round"/>
<polygon points="220.0,215.5 222.9,214.1 227.6,214.3 232.2,213.8 234.6,212.0 236.3,209.7 237.5,209.1 238.6,210.3 238.1,213.2 238.6,216.7 239.8,220.2 240.4,223.1 237.5,223.1 233.4,221.4 229.9,219.0 226.4,217.8 222.9,217.3 220.5,216.7" fill="#af9719" stroke="#af9719" stroke-width="0.9" stroke-linejoin="round"/>
<g fill="#af9719"><circle cx="221.7" cy="217.3" r="0.42"/><circle cx="231.6" cy="220.2" r="0.42"/><circle cx="230.0" cy="218.3" r="0.42"/><circle cx="222.5" cy="215.1" r="0.42"/><circle cx="234.7" cy="223.0" r="0.42"/><circle cx="231.0" cy="219.0" r="0.42"/><circle cx="221.5" cy="215.6" r="0.42"/><circle cx="237.9" cy="213.8" r="0.42"/><circle cx="230.2" cy="218.9" r="0.42"/><circle cx="222.9" cy="214.9" r="0.42"/><circle cx="222.3" cy="217.7" r="0.42"/><circle cx="230.3" cy="214.5" r="0.42"/><circle cx="235.3" cy="210.7" r="0.42"/><circle cx="235.9" cy="209.1" r="0.42"/><circle cx="225.6" cy="216.5" r="0.42"/><circle cx="237.5" cy="213.8" r="0.42"/><circle cx="221.1" cy="215.8" r="0.42"/><circle cx="239.9" cy="217.6" r="0.42"/><circle cx="239.7" cy="223.3" r="0.42"/><circle cx="238.3" cy="215.2" r="0.42"/><circle cx="233.5" cy="212.2" r="0.42"/><circle cx="221.0" cy="215.6" r="0.42"/><circle cx="234.6" cy="222.0" r="0.42"/><circle cx="233.7" cy="214.1" r="0.42"/><circle cx="233.1" cy="213.5" r="0.42"/><circle cx="230.8" cy="214.1" r="0.42"/><circle cx="239.3" cy="217.2" r="0.42"/><circle cx="241.1" cy="220.2" r="0.42"/><circle cx="233.5" cy="213.3" r="0.42"/><circle cx="239.9" cy="221.7" r="0.42"/><circle cx="234.8" cy="212.6" r="0.42"/><circle cx="234.9" cy="222.2" r="0.42"/><circle cx="232.4" cy="220.4" r="0.42"/><circle cx="220.0" cy="215.1" r="0.42"/><circle cx="237.0" cy="209.6" r="0.42"/><circle cx="239.9" cy="223.0" r="0.42"/><circle cx="230.0" cy="214.4" r="0.42"/><circle cx="227.2" cy="213.7" r="0.42"/><circle cx="237.9" cy="216.7" r="0.42"/><circle cx="238.1" cy="213.1" r="0.42"/><circle cx="227.5" cy="216.7" r="0.42"/><circle cx="232.9" cy="221.5" r="0.42"/><circle cx="227.5" cy="219.1" r="0.42"/><circle cx="232.0" cy="213.3" r="0.42"/><circle cx="238.2" cy="209.5" r="0.42"/><circle cx="219.7" cy="215.7" r="0.42"/><circle cx="225.2" cy="215.0" r="0.42"/><circle cx="226.9" cy="217.1" r="0.42"/><circle cx="223.4" cy="214.7" r="0.42"/><circle cx="221.6" cy="214.2" r="0.42"/><circle cx="230.9" cy="219.4" r="0.42"/></g>
<g fill="#fff" fill-opacity="0.45"><circle cx="227.0" cy="215.4" r="0.35"/><circle cx="235.1" cy="214.9" r="0.35"/><circle cx="235.4" cy="221.8" r="0.35"/><circle cx="225.2" cy="216.7" r="0.35"/><circle cx="238.1" cy="216.4" r="0.35"/><circle cx="236.6" cy="211.6" r="0.35"/><circle cx="235.2" cy="214.4" r="0.35"/><circle cx="234.2" cy="216.6" r="0.35"/><circle cx="234.5" cy="212.9" r="0.35"/><circle cx="229.8" cy="216.2" r="0.35"/><circle cx="229.4" cy="216.4" r="0.35"/><circle cx="231.6" cy="218.8" r="0.35"/><circle cx="225.5" cy="215.7" r="0.35"/><circle cx="231.4" cy="214.8" r="0.35"/><circle cx="227.5" cy="215.4" r="0.35"/><circle cx="228.5" cy="216.3" r="0.35"/><circle cx="238.4" cy="216.3" r="0.35"/></g>
<polygon points="241.8,223.4 245.8,221.7 249.3,219.3 251.7,219.9 254.0,222.8 257.5,224.6 261.0,226.4 260.4,228.7 257.5,230.4 263.4,233.9 266.9,235.1 265.7,236.3 259.9,235.1 255.2,232.2 250.5,232.8 247.0,231.6 243.5,228.7" fill="#c1911a" stroke="#c1911a" stroke-width="0.9" stroke-linejoin="round"/>
<g fill="#c1911a"><circle cx="255.2" cy="233.3" r="0.42"/><circle cx="244.2" cy="230.8" r="0.42"/><circle cx="258.4" cy="223.6" r="0.42"/><circle cx="261.9" cy="232.3" r="0.42"/><circle cx="260.5" cy="231.2" r="0.42"/><circle cx="245.8" cy="222.6" r="0.42"/><circle cx="261.9" cy="228.2" r="0.42"/><circle cx="261.5" cy="226.4" r="0.42"/><circle cx="251.7" cy="222.0" r="0.42"/><circle cx="243.9" cy="229.2" r="0.42"/><circle cx="265.3" cy="235.2" r="0.42"/><circle cx="243.9" cy="223.4" r="0.42"/><circle cx="253.1" cy="233.4" r="0.42"/><circle cx="244.9" cy="221.4" r="0.42"/><circle cx="255.6" cy="233.2" r="0.42"/><circle cx="249.6" cy="232.8" r="0.42"/><circle cx="249.4" cy="219.3" r="0.42"/><circle cx="245.6" cy="221.5" r="0.42"/><circle cx="259.1" cy="230.8" r="0.42"/><circle cx="260.0" cy="230.5" r="0.42"/><circle cx="248.2" cy="231.5" r="0.42"/><circle cx="267.6" cy="237.2" r="0.42"/><circle cx="249.6" cy="219.3" r="0.42"/><circle cx="245.8" cy="221.2" r="0.42"/><circle cx="265.1" cy="235.9" r="0.42"/><circle cx="255.2" cy="234.2" r="0.42"/><circle cx="262.1" cy="235.2" r="0.42"/><circle cx="243.8" cy="229.5" r="0.42"/><circle cx="258.8" cy="230.5" r="0.42"/><circle cx="261.3" cy="232.6" r="0.42"/><circle cx="248.2" cy="220.0" r="0.42"/><circle cx="259.0" cy="235.4" r="0.42"/><circle cx="248.2" cy="231.6" r="0.42"/><circle cx="245.6" cy="222.1" r="0.42"/><circle cx="258.0" cy="224.0" r="0.42"/><circle cx="261.3" cy="236.3" r="0.42"/><circle cx="258.2" cy="230.1" r="0.42"/><circle cx="255.6" cy="231.8" r="0.42"/><circle cx="246.6" cy="222.3" r="0.42"/><circle cx="261.6" cy="228.9" r="0.42"/><circle cx="260.5" cy="232.1" r="0.42"/><circle cx="264.8" cy="233.0" r="0.42"/><circle cx="249.7" cy="231.9" r="0.42"/><circle cx="249.2" cy="232.7" r="0.42"/><circle cx="254.3" cy="222.9" r="0.42"/><circle cx="247.2" cy="232.2" r="0.42"/><circle cx="248.6" cy="230.7" r="0.42"/><circle cx="260.8" cy="232.1" r="0.42"/><circle cx="260.5" cy="225.4" r="0.42"/><circle cx="259.0" cy="231.6" r="0.42"/><circle cx="251.9" cy="232.4" r="0.42"/><circle cx="266.8" cy="235.4" r="0.42"/><circle cx="251.9" cy="221.7" r="0.42"/><circle cx="261.6" cy="227.1" r="0.42"/><circle cx="259.7" cy="227.7" r="0.42"/><circle cx="263.8" cy="233.7" r="0.42"/><circle cx="264.7" cy="235.2" r="0.42"/><circle cx="260.6" cy="228.0" r="0.42"/><circle cx="259.3" cy="227.0" r="0.42"/><circle cx="247.6" cy="221.1" r="0.42"/><circle cx="256.6" cy="232.9" r="0.42"/><circle cx="258.1" cy="229.6" r="0.42"/><circle cx="249.3" cy="219.3" r="0.42"/></g>
<g fill="#fff" fill-opacity="0.45"><circle cx="252.6" cy="228.5" r="0.35"/><circle cx="246.7" cy="226.1" r="0.35"/><circle cx="252.7" cy="229.0" r="0.35"/><circle cx="243.4" cy="224.9" r="0.35"/><circle cx="256.2" cy="225.1" r="0.35"/><circle cx="250.7" cy="222.4" r="0.35"/><circle cx="251.8" cy="228.6" r="0.35"/><circle cx="251.8" cy="232.2" r="0.35"/><circle cx="251.2" cy="225.3" r="0.35"/><circle cx="254.7" cy="224.6" r="0.35"/><circle cx="265.5" cy="235.6" r="0.35"/><circle cx="249.3" cy="221.6" r="0.35"/><circle cx="259.0" cy="227.2" r="0.35"/><circle cx="250.2" cy="224.0" r="0.35"/><circle cx="251.1" cy="226.4" r="0.35"/><circle cx="257.2" cy="226.3" r="0.35"/><circle cx="250.3" cy="223.1" r="0.35"/><circle cx="248.8" cy="228.1" r="0.35"/><circle cx="248.7" cy="224.7" r="0.35"/><circle cx="258.4" cy="233.5" r="0.35"/><circle cx="249.8" cy="224.2" r="0.35"/><circle cx="251.0" cy="227.4" r="0.35"/><circle cx="243.0" cy="225.9" r="0.35"/><circle cx="249.7" cy="221.2" r="0.35"/><circle cx="256.7" cy="225.3" r="0.35"/><circle cx="263.4" cy="234.5" r="0.35"/></g>
<polygon points="261.0,225.8 266.9,224.6 275.0,223.8 280.9,222.6 286.7,222.3 287.9,225.2 287.3,228.7 283.2,229.3 277.4,228.7 270.4,228.5 264.5,228.1 261.0,227.5" fill="#9a9c17" stroke="#9a9c17" stroke-width="0.9" stroke-linejoin="round"/>
<g fill="#9a9c17"><circle cx="270.6" cy="230.1" r="0.42"/><circle cx="283.0" cy="227.9" r="0.42"/><circle cx="279.0" cy="223.8" r="0.42"/><circle cx="278.6" cy="223.2" r="0.42"/><circle cx="285.6" cy="230.5" r="0.42"/><circle cx="260.7" cy="226.3" r="0.42"/><circle cx="283.6" cy="228.4" r="0.42"/><circle cx="268.4" cy="228.0" r="0.42"/><circle cx="282.7" cy="229.8" r="0.42"/><circle cx="274.2" cy="224.7" r="0.42"/><circle cx="286.7" cy="223.1" r="0.42"/><circle cx="260.6" cy="227.7" r="0.42"/><circle cx="280.8" cy="222.1" r="0.42"/><circle cx="261.7" cy="226.9" r="0.42"/><circle cx="282.4" cy="222.6" r="0.42"/><circle cx="261.7" cy="227.9" r="0.42"/><circle cx="273.4" cy="228.8" r="0.42"/><circle cx="282.4" cy="222.7" r="0.42"/><circle cx="274.7" cy="224.3" r="0.42"/><circle cx="271.0" cy="224.1" r="0.42"/><circle cx="273.8" cy="223.4" r="0.42"/><circle cx="283.5" cy="222.4" r="0.42"/><circle cx="260.5" cy="225.4" r="0.42"/><circle cx="264.5" cy="225.2" r="0.42"/><circle cx="261.2" cy="225.4" r="0.42"/><circle cx="274.8" cy="227.3" r="0.42"/><circle cx="273.4" cy="229.1" r="0.42"/><circle cx="285.8" cy="229.3" r="0.42"/><circle cx="287.1" cy="225.2" r="0.42"/><circle cx="262.3" cy="229.1" r="0.42"/><circle cx="269.4" cy="223.6" r="0.42"/><circle cx="284.3" cy="222.5" r="0.42"/><circle cx="273.8" cy="224.1" r="0.42"/><circle cx="268.3" cy="227.5" r="0.42"/><circle cx="277.8" cy="228.8" r="0.42"/><circle cx="266.3" cy="224.3" r="0.42"/><circle cx="260.7" cy="228.0" r="0.42"/><circle cx="281.0" cy="228.4" r="0.42"/><circle cx="287.5" cy="225.9" r="0.42"/><circle cx="265.6" cy="227.7" r="0.42"/><circle cx="269.9" cy="223.8" r="0.42"/><circle cx="274.4" cy="228.8" r="0.42"/><circle cx="276.0" cy="229.6" r="0.42"/><circle cx="271.1" cy="224.2" r="0.42"/><circle cx="274.0" cy="223.6" r="0.42"/><circle cx="267.9" cy="224.6" r="0.42"/><circle cx="287.7" cy="228.5" r="0.42"/><circle cx="277.2" cy="228.8" r="0.42"/><circle cx="260.7" cy="228.7" r="0.42"/><circle cx="278.3" cy="229.9" r="0.42"/><circle cx="262.4" cy="224.0" r="0.42"/><circle cx="280.1" cy="228.0" r="0.42"/><circle cx="286.2" cy="222.8" r="0.42"/><circle cx="280.2" cy="221.5" r="0.42"/></g>
<g fill="#fff" fill-opacity="0.45"><circle cx="287.1" cy="224.6" r="0.35"/><circle cx="285.0" cy="228.6" r="0.35"/><circle cx="261.5" cy="226.1" r="0.35"/><circle cx="272.9" cy="227.2" r="0.35"/><circle cx="274.0" cy="226.1" r="0.35"/><circle cx="281.3" cy="226.8" r="0.35"/><circle cx="284.1" cy="227.9" r="0.35"/><circle cx="283.4" cy="226.8" r="0.35"/><circle cx="284.0" cy="222.5" r="0.35"/><circle cx="283.6" cy="225.1" r="0.35"/><circle cx="282.2" cy="226.4" r="0.35"/><circle cx="270.6" cy="226.0" r="0.35"/><circle cx="284.5" cy="226.8" r="0.35"/><circle cx="278.4" cy="227.5" r="0.35"/><circle cx="284.4" cy="227.9" r="0.35"/><circle cx="268.5" cy="226.3" r="0.35"/><circle cx="285.2" cy="226.6" r="0.35"/><circle cx="276.7" cy="225.3" r="0.35"/></g>
<polygon points="286.7,222.3 291.4,220.7 296.1,219.9 300.7,220.3 304.2,222.3 304.8,225.2 303.1,228.7 299.6,232.2 296.1,235.7 294.3,233.4 293.1,230.4 289.1,229.3 287.3,227.5" fill="#ee857e" stroke="#ee857e" stroke-width="0.9" stroke-linejoin="round"/>
<g fill="#ee857e"><circle cx="295.5" cy="221.9" r="0.42"/><circle cx="286.6" cy="226.3" r="0.42"/><circle cx="298.5" cy="220.1" r="0.42"/><circle cx="288.2" cy="223.9" r="0.42"/><circle cx="299.3" cy="232.9" r="0.42"/><circle cx="287.9" cy="222.0" r="0.42"/><circle cx="304.1" cy="222.5" r="0.42"/><circle cx="297.7" cy="234.7" r="0.42"/><circle cx="293.0" cy="231.5" r="0.42"/><circle cx="301.4" cy="220.6" r="0.42"/><circle cx="301.1" cy="219.9" r="0.42"/><circle cx="297.1" cy="235.1" r="0.42"/><circle cx="304.1" cy="226.4" r="0.42"/><circle cx="300.5" cy="231.0" r="0.42"/><circle cx="294.0" cy="230.8" r="0.42"/><circle cx="302.5" cy="220.1" r="0.42"/><circle cx="301.2" cy="229.7" r="0.42"/><circle cx="292.9" cy="232.3" r="0.42"/><circle cx="303.4" cy="221.7" r="0.42"/><circle cx="299.3" cy="231.8" r="0.42"/><circle cx="292.3" cy="231.7" r="0.42"/><circle cx="297.4" cy="234.3" r="0.42"/><circle cx="291.6" cy="221.3" r="0.42"/><circle cx="302.2" cy="220.7" r="0.42"/><circle cx="299.7" cy="232.0" r="0.42"/><circle cx="293.7" cy="233.9" r="0.42"/><circle cx="303.7" cy="221.9" r="0.42"/><circle cx="291.6" cy="230.8" r="0.42"/><circle cx="287.7" cy="228.6" r="0.42"/><circle cx="292.8" cy="233.6" r="0.42"/><circle cx="286.0" cy="225.8" r="0.42"/><circle cx="292.9" cy="220.0" r="0.42"/><circle cx="289.4" cy="221.9" r="0.42"/><circle cx="292.3" cy="229.8" r="0.42"/><circle cx="297.8" cy="220.3" r="0.42"/><circle cx="297.7" cy="234.7" r="0.42"/><circle cx="291.9" cy="219.8" r="0.42"/><circle cx="286.6" cy="226.5" r="0.42"/><circle cx="289.8" cy="221.9" r="0.42"/><circle cx="304.1" cy="225.5" r="0.42"/><circle cx="288.0" cy="230.0" r="0.42"/><circle cx="301.6" cy="222.1" r="0.42"/><circle cx="293.1" cy="221.8" r="0.42"/><circle cx="302.2" cy="229.2" r="0.42"/><circle cx="286.8" cy="228.8" r="0.42"/><circle cx="293.8" cy="219.9" r="0.42"/><circle cx="304.9" cy="224.4" r="0.42"/></g>
<g fill="#fff" fill-opacity="0.45"><circle cx="293.8" cy="221.7" r="0.35"/><circle cx="297.3" cy="229.7" r="0.35"/><circle cx="300.8" cy="227.6" r="0.35"/><circle cx="301.7" cy="222.4" r="0.35"/><circle cx="299.0" cy="228.3" r="0.35"/><circle cx="290.3" cy="223.5" r="0.35"/><circle cx="295.7" cy="227.8" r="0.35"/><circle cx="299.5" cy="230.5" r="0.35"/><circle cx="299.6" cy="222.5" r="0.35"/><circle cx="301.4" cy="226.6" r="0.35"/><circle cx="290.8" cy="226.6" r="0.35"/><circle cx="288.4" cy="228.1" r="0.35"/><circle cx="296.4" cy="232.9" r="0.35"/><circle cx="298.8" cy="226.2" r="0.35"/><circle cx="303.7" cy="223.5" r="0.35"/><circle cx="292.4" cy="228.8" r="0.35"/><circle cx="293.4" cy="228.9" r="0.35"/><circle cx="288.8" cy="223.8" r="0.35"/><circle cx="291.3" cy="222.9" r="0.35"/><circle cx="299.7" cy="223.0" r="0.35"/><circle cx="301.9" cy="228.3" r="0.35"/><circle cx="296.7" cy="228.5" r="0.35"/><circle cx="287.8" cy="225.9" r="0.35"/><circle cx="301.3" cy="226.5" r="0.35"/><circle cx="295.9" cy="228.8" r="0.35"/></g>
<polygon points="249.3,234.5 252.8,232.8 256.4,232.2 259.3,233.9 260.4,238.0 257.5,240.6 254.0,240.9 250.5,239.2 248.8,236.9" fill="#19b060" stroke="#19b060" stroke-width="0.9" stroke-linejoin="round"/>
<g fill="#19b060"><circle cx="251.1" cy="234.7" r="0.42"/><circle cx="258.9" cy="235.8" r="0.42"/><circle cx="253.0" cy="240.1" r="0.42"/><circle cx="257.4" cy="240.7" r="0.42"/><circle cx="250.3" cy="239.5" r="0.42"/><circle cx="249.5" cy="237.2" r="0.42"/><circle cx="258.5" cy="240.4" r="0.42"/><circle cx="260.5" cy="238.2" r="0.42"/><circle cx="248.9" cy="235.6" r="0.42"/><circle cx="252.8" cy="240.1" r="0.42"/><circle cx="249.6" cy="235.6" r="0.42"/><circle cx="253.3" cy="240.9" r="0.42"/><circle cx="259.2" cy="236.7" r="0.42"/><circle cx="250.9" cy="237.9" r="0.42"/><circle cx="259.5" cy="239.2" r="0.42"/><circle cx="248.4" cy="238.1" r="0.42"/><circle cx="260.1" cy="234.3" r="0.42"/><circle cx="248.0" cy="237.2" r="0.42"/><circle cx="250.5" cy="238.4" r="0.42"/><circle cx="249.7" cy="237.6" r="0.42"/><circle cx="250.6" cy="234.3" r="0.42"/><circle cx="252.0" cy="239.4" r="0.42"/><circle cx="259.8" cy="239.6" r="0.42"/><circle cx="248.4" cy="238.5" r="0.42"/><circle cx="258.4" cy="232.8" r="0.42"/><circle cx="249.3" cy="235.8" r="0.42"/><circle cx="258.3" cy="239.0" r="0.42"/><circle cx="259.7" cy="235.3" r="0.42"/></g>
<g fill="#fff" fill-opacity="0.45"><circle cx="252.6" cy="234.7" r="0.35"/><circle cx="251.3" cy="236.9" r="0.35"/><circle cx="255.8" cy="235.1" r="0.35"/><circle cx="255.9" cy="235.1" r="0.35"/><circle cx="257.8" cy="240.0" r="0.35"/><circle cx="255.5" cy="237.7" r="0.35"/><circle cx="249.9" cy="236.6" r="0.35"/><circle cx="257.2" cy="236.9" r="0.35"/><circle cx="254.4" cy="236.0" r="0.35"/><circle cx="254.1" cy="239.8" r="0.35"/></g>
<polygon points="269.2,240.9 272.7,238.6 277.4,236.9 280.9,237.4 280.3,240.4 277.4,243.3 273.9,243.9 270.4,243.3" fill="#19b597" stroke="#19b597" stroke-width="0.9" stroke-linejoin="round"/>
<g fill="#19b597"><circle cx="270.7" cy="239.5" r="0.42"/><circle cx="272.2" cy="244.9" r="0.42"/><circle cx="277.1" cy="236.3" r="0.42"/><circle cx="269.0" cy="242.2" r="0.42"/><circle cx="280.5" cy="241.2" r="0.42"/><circle cx="278.6" cy="237.4" r="0.42"/><circle cx="276.7" cy="243.0" r="0.42"/><circle cx="270.0" cy="243.5" r="0.42"/><circle cx="274.6" cy="244.1" r="0.42"/><circle cx="280.0" cy="237.8" r="0.42"/><circle cx="276.0" cy="244.1" r="0.42"/><circle cx="278.5" cy="237.6" r="0.42"/><circle cx="278.8" cy="242.2" r="0.42"/><circle cx="276.8" cy="244.3" r="0.42"/><circle cx="278.6" cy="242.2" r="0.42"/><circle cx="273.5" cy="243.8" r="0.42"/><circle cx="280.1" cy="240.0" r="0.42"/><circle cx="275.6" cy="244.5" r="0.42"/><circle cx="269.3" cy="241.6" r="0.42"/><circle cx="274.4" cy="238.3" r="0.42"/><circle cx="272.9" cy="244.4" r="0.42"/><circle cx="278.1" cy="237.1" r="0.42"/><circle cx="269.5" cy="242.8" r="0.42"/><circle cx="278.5" cy="242.6" r="0.42"/><circle cx="281.1" cy="237.3" r="0.42"/><circle cx="276.4" cy="238.1" r="0.42"/></g>
<g fill="#fff" fill-opacity="0.45"><circle cx="272.4" cy="240.6" r="0.35"/><circle cx="273.0" cy="242.6" r="0.35"/><circle cx="271.7" cy="242.2" r="0.35"/><circle cx="270.1" cy="240.3" r="0.35"/><circle cx="274.1" cy="241.5" r="0.35"/><circle cx="273.9" cy="243.3" r="0.35"/><circle cx="275.1" cy="242.9" r="0.35"/></g>
<polygon points="282.0,235.1 286.7,233.4 291.4,232.8 294.3,235.1 293.7,239.2 291.4,241.5 287.9,242.1 284.4,240.4 282.6,238.0" fill="#19b37e" stroke="#19b37e" stroke-width="0.9" stroke-linejoin="round"/>
<g fill="#19b37e"><circle cx="293.5" cy="239.6" r="0.42"/><circle cx="283.5" cy="239.7" r="0.42"/><circle cx="291.4" cy="240.6" r="0.42"/><circle cx="282.4" cy="236.7" r="0.42"/><circle cx="289.1" cy="233.2" r="0.42"/><circle cx="289.3" cy="233.6" r="0.42"/><circle cx="292.2" cy="233.5" r="0.42"/><circle cx="282.8" cy="235.9" r="0.42"/><circle cx="282.6" cy="236.4" r="0.42"/><circle cx="283.1" cy="235.3" r="0.42"/><circle cx="283.1" cy="235.4" r="0.42"/><circle cx="285.3" cy="242.1" r="0.42"/><circle cx="284.4" cy="239.8" r="0.42"/><circle cx="294.0" cy="237.4" r="0.42"/><circle cx="289.7" cy="241.8" r="0.42"/><circle cx="293.7" cy="237.0" r="0.42"/><circle cx="289.6" cy="233.1" r="0.42"/><circle cx="292.9" cy="239.8" r="0.42"/><circle cx="287.8" cy="233.1" r="0.42"/><circle cx="282.5" cy="239.5" r="0.42"/><circle cx="290.0" cy="232.6" r="0.42"/><circle cx="284.8" cy="239.7" r="0.42"/><circle cx="282.2" cy="235.1" r="0.42"/><circle cx="285.7" cy="241.3" r="0.42"/><circle cx="282.7" cy="237.9" r="0.42"/><circle cx="284.3" cy="241.5" r="0.42"/><circle cx="285.4" cy="240.2" r="0.42"/><circle cx="285.1" cy="239.3" r="0.42"/><circle cx="294.3" cy="234.3" r="0.42"/><circle cx="282.3" cy="238.9" r="0.42"/></g>
<g fill="#fff" fill-opacity="0.45"><circle cx="293.4" cy="237.0" r="0.35"/><circle cx="291.0" cy="237.2" r="0.35"/><circle cx="290.9" cy="237.7" r="0.35"/><circle cx="283.8" cy="235.7" r="0.35"/><circle cx="289.8" cy="234.3" r="0.35"/><circle cx="288.9" cy="240.9" r="0.35"/><circle cx="291.0" cy="234.2" r="0.35"/><circle cx="287.0" cy="233.7" r="0.35"/><circle cx="283.5" cy="239.0" r="0.35"/><circle cx="282.3" cy="235.5" r="0.35"/><circle cx="293.6" cy="235.1" r="0.35"/></g>
<polygon points="297.2,236.3 299.6,235.7 301.3,238.0 301.9,241.5 300.7,244.5 298.4,244.5 296.1,242.1 296.1,239.2" fill="#1cb0d4" stroke="#1cb0d4" stroke-width="0.9" stroke-linejoin="round"/>
<g fill="#1cb0d4"><circle cx="296.6" cy="239.7" r="0.42"/><circle cx="298.2" cy="235.1" r="0.42"/><circle cx="296.5" cy="240.6" r="0.42"/><circle cx="299.5" cy="235.8" r="0.42"/><circle cx="295.5" cy="241.5" r="0.42"/><circle cx="297.2" cy="238.6" r="0.42"/><circle cx="302.7" cy="240.8" r="0.42"/><circle cx="299.5" cy="238.3" r="0.42"/><circle cx="297.8" cy="236.2" r="0.42"/><circle cx="300.8" cy="236.5" r="0.42"/><circle cx="297.5" cy="245.4" r="0.42"/><circle cx="300.9" cy="242.3" r="0.42"/><circle cx="296.8" cy="242.5" r="0.42"/><circle cx="299.6" cy="235.5" r="0.42"/><circle cx="296.1" cy="238.7" r="0.42"/><circle cx="301.0" cy="245.0" r="0.42"/><circle cx="296.3" cy="240.4" r="0.42"/><circle cx="300.1" cy="246.3" r="0.42"/><circle cx="299.6" cy="235.7" r="0.42"/><circle cx="300.7" cy="237.4" r="0.42"/><circle cx="298.4" cy="236.3" r="0.42"/></g>
<g fill="#fff" fill-opacity="0.45"><circle cx="298.7" cy="241.7" r="0.35"/><circle cx="298.9" cy="241.8" r="0.35"/><circle cx="297.9" cy="238.4" r="0.35"/><circle cx="298.2" cy="243.0" r="0.35"/><circle cx="298.2" cy="242.5" r="0.35"/></g>
<polygon points="224.6,243.5 227.6,242.1 230.5,241.8 231.1,242.6 228.7,244.1 225.2,244.5" fill="#ec75d9" stroke="#ec75d9" stroke-width="0.9" stroke-linejoin="round"/>
<g fill="#ec75d9"><circle cx="226.4" cy="243.1" r="0.42"/><circle cx="228.0" cy="242.7" r="0.42"/><circle cx="225.6" cy="242.5" r="0.42"/><circle cx="228.8" cy="242.5" r="0.42"/><circle cx="232.0" cy="243.5" r="0.42"/><circle cx="231.3" cy="242.0" r="0.42"/><circle cx="230.8" cy="242.4" r="0.42"/><circle cx="229.8" cy="244.0" r="0.42"/><circle cx="228.7" cy="242.2" r="0.42"/><circle cx="227.2" cy="242.4" r="0.42"/><circle cx="229.2" cy="243.4" r="0.42"/><circle cx="224.7" cy="242.6" r="0.42"/><circle cx="230.1" cy="242.5" r="0.42"/></g>
<g fill="#fff" fill-opacity="0.45"><circle cx="228.6" cy="242.7" r="0.35"/></g>
<polygon points="230.5,262.6 233.3,261.2 237.5,262.6 241.0,264.7 241.6,266.1 237.5,266.8 233.3,266.4 231.2,264.7" fill="#1dabe3" stroke="#1dabe3" stroke-width="0.9" stroke-linejoin="round"/>
<g fill="#1dabe3"><circle cx="234.0" cy="266.1" r="0.42"/><circle cx="235.0" cy="261.6" r="0.42"/><circle cx="235.0" cy="262.1" r="0.42"/><circle cx="239.1" cy="264.6" r="0.42"/><circle cx="233.7" cy="261.9" r="0.42"/><circle cx="239.7" cy="263.3" r="0.42"/><circle cx="232.4" cy="262.8" r="0.42"/><circle cx="231.2" cy="262.2" r="0.42"/><circle cx="236.9" cy="267.6" r="0.42"/><circle cx="233.8" cy="261.5" r="0.42"/><circle cx="240.9" cy="266.2" r="0.42"/><circle cx="230.1" cy="266.8" r="0.42"/><circle cx="236.2" cy="267.9" r="0.42"/><circle cx="233.4" cy="261.4" r="0.42"/><circle cx="235.8" cy="262.1" r="0.42"/><circle cx="235.1" cy="261.0" r="0.42"/><circle cx="235.6" cy="261.3" r="0.42"/><circle cx="238.6" cy="261.2" r="0.42"/><circle cx="238.9" cy="263.2" r="0.42"/><circle cx="233.4" cy="266.2" r="0.42"/><circle cx="239.6" cy="265.1" r="0.42"/><circle cx="239.7" cy="264.9" r="0.42"/><circle cx="239.6" cy="263.9" r="0.42"/></g>
<g fill="#fff" fill-opacity="0.45"><circle cx="233.5" cy="266.3" r="0.35"/><circle cx="233.9" cy="262.4" r="0.35"/><circle cx="238.5" cy="266.2" r="0.35"/><circle cx="235.7" cy="262.7" r="0.35"/><circle cx="238.3" cy="265.3" r="0.35"/></g>
<polygon points="243.0,264.7 247.2,261.2 252.0,259.2 256.9,258.5 259.7,260.5 259.0,264.7 256.9,267.5 251.4,268.2 245.8,267.5" fill="#d08b1b" stroke="#d08b1b" stroke-width="0.9" stroke-linejoin="round"/>
<g fill="#d08b1b"><circle cx="253.3" cy="259.0" r="0.42"/><circle cx="253.8" cy="266.4" r="0.42"/><circle cx="252.5" cy="259.2" r="0.42"/><circle cx="254.4" cy="258.3" r="0.42"/><circle cx="258.8" cy="258.3" r="0.42"/><circle cx="258.4" cy="264.8" r="0.42"/><circle cx="259.0" cy="259.7" r="0.42"/><circle cx="244.6" cy="263.2" r="0.42"/><circle cx="259.2" cy="263.8" r="0.42"/><circle cx="258.6" cy="262.8" r="0.42"/><circle cx="246.0" cy="267.3" r="0.42"/><circle cx="255.7" cy="258.7" r="0.42"/><circle cx="247.3" cy="268.3" r="0.42"/><circle cx="249.2" cy="259.6" r="0.42"/><circle cx="246.0" cy="261.7" r="0.42"/><circle cx="244.2" cy="263.6" r="0.42"/><circle cx="258.6" cy="266.6" r="0.42"/><circle cx="244.9" cy="265.7" r="0.42"/><circle cx="246.9" cy="266.7" r="0.42"/><circle cx="254.7" cy="260.1" r="0.42"/><circle cx="242.8" cy="264.9" r="0.42"/><circle cx="253.0" cy="259.0" r="0.42"/><circle cx="257.0" cy="267.3" r="0.42"/><circle cx="258.6" cy="258.8" r="0.42"/><circle cx="243.6" cy="266.2" r="0.42"/><circle cx="249.4" cy="259.9" r="0.42"/><circle cx="249.0" cy="267.4" r="0.42"/><circle cx="249.4" cy="268.4" r="0.42"/><circle cx="250.9" cy="269.0" r="0.42"/><circle cx="254.3" cy="259.0" r="0.42"/><circle cx="259.5" cy="260.4" r="0.42"/><circle cx="244.1" cy="263.3" r="0.42"/><circle cx="243.6" cy="266.0" r="0.42"/><circle cx="259.1" cy="265.1" r="0.42"/><circle cx="243.9" cy="263.0" r="0.42"/><circle cx="249.9" cy="260.9" r="0.42"/><circle cx="245.7" cy="266.9" r="0.42"/></g>
<g fill="#fff" fill-opacity="0.45"><circle cx="252.6" cy="261.9" r="0.35"/><circle cx="249.6" cy="260.3" r="0.35"/><circle cx="251.8" cy="259.4" r="0.35"/><circle cx="245.4" cy="265.9" r="0.35"/><circle cx="257.4" cy="263.4" r="0.35"/><circle cx="252.0" cy="264.4" r="0.35"/><circle cx="255.5" cy="262.1" r="0.35"/><circle cx="259.1" cy="261.0" r="0.35"/><circle cx="258.5" cy="263.8" r="0.35"/><circle cx="257.4" cy="260.0" r="0.35"/><circle cx="255.7" cy="266.9" r="0.35"/><circle cx="247.8" cy="264.2" r="0.35"/><circle cx="254.5" cy="262.9" r="0.35"/><circle cx="249.9" cy="267.1" r="0.35"/><circle cx="247.3" cy="264.0" r="0.35"/><circle cx="259.2" cy="262.3" r="0.35"/></g>
<polyline points="258.5,258.5 259.2,256.3" fill="none" stroke="#18ad31" stroke-width="0.7" stroke-linecap="round" stroke-linejoin="round"/>
<polyline points="305.2,266.4 310.0,267.6 314.5,268.6" fill="none" stroke="#b396f6" stroke-width="1.2" stroke-linecap="round" stroke-linejoin="round"/>
<polyline points="270.8,293.1 273.5,290.0 276.3,287.6" fill="none" stroke="#df7be9" stroke-width="1.5" stroke-linecap="round" stroke-linejoin="round"/>
<polyline points="279.1,280.7 281.2,281.4" fill="none" stroke="#df7be9" stroke-width="0.8" stroke-linecap="round" stroke-linejoin="round"/>
<polyline points="265.9,287.2 267.3,288.3" fill="none" stroke="#f47d9a" stroke-width="0.7" stroke-linecap="round" stroke-linejoin="round"/>
<text x="260.65" y="168.4" font-size="8.2" fill="#333" text-anchor="start" font-weight="normal">6</text>
<text x="218.3" y="182.6" font-size="8.2" fill="#333" text-anchor="start" font-weight="normal">17</text>
<text x="241.95000000000002" y="181.5" font-size="8.2" fill="#333" text-anchor="start" font-weight="normal">22</text>
<text x="296.84999999999997" y="179.79999999999998" font-size="8.2" fill="#333" text-anchor="start" font-weight="normal">8</text>
<text x="270.59999999999997" y="189.6" font-size="8.2" fill="#333" text-anchor="start" font-weight="normal">13</text>
<text x="309.09999999999997" y="192.9" font-size="8.2" fill="#333" text-anchor="start" font-weight="normal">12</text>
<text x="205.5" y="199.2" font-size="8.2" fill="#333" text-anchor="start" font-weight="normal">19</text>
<text x="243.75" y="197.2" font-size="8.2" fill="#333" text-anchor="start" font-weight="normal">7</text>
<text x="262.59999999999997" y="206.79999999999998" font-size="8.2" fill="#333" text-anchor="start" font-weight="normal">16</text>
<text x="187.5" y="227.1" font-size="8.2" fill="#333" text-anchor="start" font-weight="normal">1</text>
<text x="197.05" y="235.7" font-size="8.2" fill="#333" text-anchor="start" font-weight="normal">23</text>
<text x="224.25" y="225.5" font-size="8.2" fill="#333" text-anchor="start" font-weight="normal">4</text>
<text x="253.45000000000002" y="221.79999999999998" font-size="8.2" fill="#333" text-anchor="start" font-weight="normal">3</text>
<text x="274.65" y="221.4" font-size="8.2" fill="#333" text-anchor="start" font-weight="normal">5</text>
<text x="304.45" y="222.9" font-size="8.2" fill="#333" text-anchor="start" font-weight="normal">0</text>
<text x="252.75" y="245.7" font-size="8.2" fill="#333" text-anchor="start" font-weight="normal">9</text>
<text x="275.0" y="249.0" font-size="8.2" fill="#333" text-anchor="start" font-weight="normal">11</text>
<text x="284.4" y="249.0" font-size="8.2" fill="#333" text-anchor="start" font-weight="normal">10</text>
<text x="301.29999999999995" y="244.0" font-size="8.2" fill="#333" text-anchor="start" font-weight="normal">14</text>
<text x="224.25" y="251.2" font-size="8.2" fill="#333" text-anchor="start" font-weight="normal">21</text>
<text x="232.4" y="273.1" font-size="8.2" fill="#333" text-anchor="start" font-weight="normal">15</text>
<text x="259.34999999999997" y="267.90000000000003" font-size="8.2" fill="#333" text-anchor="start" font-weight="normal">2</text>
<text x="304.79999999999995" y="275.90000000000003" font-size="8.2" fill="#333" text-anchor="start" font-weight="normal">18</text>
<text x="277.34999999999997" y="289.8" font-size="8.2" fill="#333" text-anchor="start" font-weight="normal">20</text>
<text x="256.54999999999995" y="293.70000000000005" font-size="8.2" fill="#333" text-anchor="start" font-weight="normal">24</text>
<polygon points="431.7,170.4 435.5,169.8 439.2,171.6 438.0,175.4 434.9,180.3 433.6,184.1 431.1,189.0 429.3,193.4 427.4,192.1 427.4,186.5 428.6,181.6 430.5,177.9 431.7,174.1" fill="#bd931a" stroke="#bd931a" stroke-width="0.9" stroke-linejoin="round"/>
<g fill="#bd931a"><circle cx="427.5" cy="185.3" r="0.42"/><circle cx="433.8" cy="184.2" r="0.42"/><circle cx="433.3" cy="169.7" r="0.42"/><circle cx="426.8" cy="192.1" r="0.42"/><circle cx="427.6" cy="186.3" r="0.42"/><circle cx="439.0" cy="173.8" r="0.42"/><circle cx="426.8" cy="188.5" r="0.42"/><circle cx="437.3" cy="177.5" r="0.42"/><circle cx="432.4" cy="174.7" r="0.42"/><circle cx="430.3" cy="172.2" r="0.42"/><circle cx="438.6" cy="173.5" r="0.42"/><circle cx="437.9" cy="175.7" r="0.42"/><circle cx="427.8" cy="184.0" r="0.42"/><circle cx="427.8" cy="186.2" r="0.42"/><circle cx="439.8" cy="173.8" r="0.42"/><circle cx="431.9" cy="189.5" r="0.42"/><circle cx="431.5" cy="173.8" r="0.42"/><circle cx="434.4" cy="180.1" r="0.42"/><circle cx="429.9" cy="179.0" r="0.42"/><circle cx="435.8" cy="178.6" r="0.42"/><circle cx="429.1" cy="191.6" r="0.42"/><circle cx="430.0" cy="177.6" r="0.42"/><circle cx="431.3" cy="173.5" r="0.42"/><circle cx="430.3" cy="190.0" r="0.42"/><circle cx="438.1" cy="176.9" r="0.42"/><circle cx="433.9" cy="183.3" r="0.42"/><circle cx="427.7" cy="192.1" r="0.42"/><circle cx="437.1" cy="170.0" r="0.42"/><circle cx="432.8" cy="185.6" r="0.42"/><circle cx="430.0" cy="177.2" r="0.42"/><circle cx="432.9" cy="185.2" r="0.42"/><circle cx="438.6" cy="177.0" r="0.42"/><circle cx="427.5" cy="189.1" r="0.42"/><circle cx="427.9" cy="182.3" r="0.42"/><circle cx="435.3" cy="177.3" r="0.42"/><circle cx="428.9" cy="184.4" r="0.42"/><circle cx="434.5" cy="181.8" r="0.42"/><circle cx="428.5" cy="193.5" r="0.42"/><circle cx="431.1" cy="189.7" r="0.42"/><circle cx="428.0" cy="192.1" r="0.42"/><circle cx="430.3" cy="180.1" r="0.42"/><circle cx="434.8" cy="170.3" r="0.42"/><circle cx="430.5" cy="176.9" r="0.42"/><circle cx="428.5" cy="187.0" r="0.42"/><circle cx="430.2" cy="179.8" r="0.42"/><circle cx="433.9" cy="186.0" r="0.42"/><circle cx="438.2" cy="174.2" r="0.42"/><circle cx="435.0" cy="171.5" r="0.42"/><circle cx="431.5" cy="176.6" r="0.42"/><circle cx="426.1" cy="190.7" r="0.42"/><circle cx="436.6" cy="170.7" r="0.42"/></g>
<g fill="#fff" fill-opacity="0.45"><circle cx="432.7" cy="171.9" r="0.35"/><circle cx="436.9" cy="173.1" r="0.35"/><circle cx="430.1" cy="181.4" r="0.35"/><circle cx="431.6" cy="185.4" r="0.35"/><circle cx="428.3" cy="190.1" r="0.35"/><circle cx="429.5" cy="184.7" r="0.35"/><circle cx="431.2" cy="182.5" r="0.35"/><circle cx="435.3" cy="176.3" r="0.35"/><circle cx="432.4" cy="178.8" r="0.35"/><circle cx="436.2" cy="170.5" r="0.35"/><circle cx="432.4" cy="175.1" r="0.35"/><circle cx="432.3" cy="186.4" r="0.35"/><circle cx="434.8" cy="176.5" r="0.35"/><circle cx="431.9" cy="178.1" r="0.35"/><circle cx="430.7" cy="180.9" r="0.35"/><circle cx="432.8" cy="171.2" r="0.35"/><circle cx="432.9" cy="185.1" r="0.35"/></g>
<polygon points="424.9,171.6 426.8,170.4 429.9,174.1 426.2,174.1" fill="#f376b6" stroke="#f376b6" stroke-width="0.9" stroke-linejoin="round"/>
<g fill="#f376b6"><circle cx="424.9" cy="173.6" r="0.42"/><circle cx="425.4" cy="173.9" r="0.42"/><circle cx="426.1" cy="169.5" r="0.42"/><circle cx="427.7" cy="171.4" r="0.42"/><circle cx="425.7" cy="171.6" r="0.42"/><circle cx="428.7" cy="174.5" r="0.42"/><circle cx="427.4" cy="174.4" r="0.42"/><circle cx="428.2" cy="173.6" r="0.42"/><circle cx="428.7" cy="173.9" r="0.42"/><circle cx="425.6" cy="170.8" r="0.42"/><circle cx="429.7" cy="174.9" r="0.42"/><circle cx="427.3" cy="175.1" r="0.42"/></g>
<g fill="#fff" fill-opacity="0.45"><circle cx="426.6" cy="172.9" r="0.35"/></g>
<polygon points="436.7,169.8 439.8,166.7 444.8,164.2 449.7,163.6 453.5,164.8 455.3,167.3 454.7,171.6 452.8,172.9 451.6,169.8 449.7,167.3 446.0,166.7 442.3,167.9 439.8,170.4 438.0,171.0" fill="#19b494" stroke="#19b494" stroke-width="0.9" stroke-linejoin="round"/>
<g fill="#19b494"><circle cx="455.9" cy="168.5" r="0.42"/><circle cx="439.2" cy="168.7" r="0.42"/><circle cx="440.1" cy="165.8" r="0.42"/><circle cx="450.8" cy="165.0" r="0.42"/><circle cx="453.5" cy="172.3" r="0.42"/><circle cx="451.6" cy="172.9" r="0.42"/><circle cx="454.3" cy="166.4" r="0.42"/><circle cx="455.4" cy="168.4" r="0.42"/><circle cx="442.7" cy="166.0" r="0.42"/><circle cx="454.7" cy="171.6" r="0.42"/><circle cx="456.4" cy="168.6" r="0.42"/><circle cx="455.8" cy="170.6" r="0.42"/><circle cx="447.3" cy="163.9" r="0.42"/><circle cx="443.5" cy="165.3" r="0.42"/><circle cx="442.2" cy="165.4" r="0.42"/><circle cx="455.3" cy="170.1" r="0.42"/><circle cx="439.5" cy="167.1" r="0.42"/><circle cx="449.0" cy="167.1" r="0.42"/><circle cx="453.6" cy="167.2" r="0.42"/><circle cx="438.6" cy="166.9" r="0.42"/><circle cx="454.5" cy="169.3" r="0.42"/><circle cx="454.1" cy="164.3" r="0.42"/><circle cx="446.5" cy="164.4" r="0.42"/><circle cx="444.7" cy="166.9" r="0.42"/><circle cx="452.7" cy="172.2" r="0.42"/><circle cx="449.7" cy="167.9" r="0.42"/><circle cx="454.5" cy="167.3" r="0.42"/><circle cx="449.3" cy="163.6" r="0.42"/><circle cx="452.8" cy="172.7" r="0.42"/><circle cx="438.8" cy="169.0" r="0.42"/><circle cx="437.0" cy="169.2" r="0.42"/><circle cx="453.5" cy="173.3" r="0.42"/><circle cx="451.5" cy="162.7" r="0.42"/><circle cx="452.6" cy="171.3" r="0.42"/><circle cx="437.2" cy="169.1" r="0.42"/><circle cx="442.9" cy="164.0" r="0.42"/><circle cx="450.3" cy="167.3" r="0.42"/><circle cx="440.7" cy="165.8" r="0.42"/><circle cx="438.5" cy="170.4" r="0.42"/><circle cx="443.4" cy="166.1" r="0.42"/><circle cx="454.3" cy="174.4" r="0.42"/><circle cx="449.0" cy="164.6" r="0.42"/><circle cx="451.6" cy="168.9" r="0.42"/><circle cx="440.4" cy="169.4" r="0.42"/></g>
<g fill="#fff" fill-opacity="0.45"><circle cx="443.6" cy="164.9" r="0.35"/><circle cx="453.5" cy="170.2" r="0.35"/><circle cx="443.6" cy="166.7" r="0.35"/><circle cx="451.6" cy="168.3" r="0.35"/><circle cx="439.4" cy="167.8" r="0.35"/><circle cx="452.7" cy="166.1" r="0.35"/><circle cx="449.5" cy="165.8" r="0.35"/><circle cx="453.0" cy="166.6" r="0.35"/><circle cx="441.4" cy="168.3" r="0.35"/></g>
<polygon points="452.8,172.9 455.3,172.9 455.9,179.1 456.6,185.3 457.8,190.3 458.4,194.6 455.9,195.8 452.2,195.8 449.1,194.6 449.7,191.5 452.2,189.0 452.2,182.8 451.6,177.9" fill="#73a618" stroke="#73a618" stroke-width="0.9" stroke-linejoin="round"/>
<g fill="#73a618"><circle cx="452.0" cy="197.7" r="0.42"/><circle cx="456.3" cy="179.0" r="0.42"/><circle cx="453.1" cy="172.6" r="0.42"/><circle cx="453.3" cy="172.5" r="0.42"/><circle cx="455.3" cy="177.3" r="0.42"/><circle cx="455.0" cy="174.8" r="0.42"/><circle cx="455.5" cy="190.1" r="0.42"/><circle cx="448.7" cy="193.8" r="0.42"/><circle cx="456.5" cy="196.8" r="0.42"/><circle cx="452.2" cy="176.2" r="0.42"/><circle cx="451.9" cy="190.0" r="0.42"/><circle cx="452.3" cy="175.9" r="0.42"/><circle cx="451.6" cy="172.7" r="0.42"/><circle cx="452.1" cy="181.2" r="0.42"/><circle cx="455.6" cy="185.7" r="0.42"/><circle cx="452.3" cy="188.5" r="0.42"/><circle cx="452.3" cy="184.2" r="0.42"/><circle cx="458.1" cy="189.6" r="0.42"/><circle cx="453.4" cy="173.2" r="0.42"/><circle cx="455.8" cy="173.5" r="0.42"/><circle cx="451.7" cy="176.3" r="0.42"/><circle cx="457.6" cy="192.1" r="0.42"/><circle cx="451.0" cy="195.8" r="0.42"/><circle cx="455.6" cy="197.4" r="0.42"/><circle cx="456.2" cy="186.0" r="0.42"/><circle cx="451.5" cy="187.3" r="0.42"/><circle cx="458.4" cy="194.2" r="0.42"/><circle cx="451.4" cy="194.7" r="0.42"/><circle cx="455.0" cy="194.7" r="0.42"/><circle cx="456.4" cy="188.1" r="0.42"/><circle cx="449.9" cy="195.9" r="0.42"/><circle cx="457.6" cy="189.7" r="0.42"/><circle cx="449.4" cy="189.9" r="0.42"/><circle cx="457.0" cy="183.6" r="0.42"/><circle cx="458.1" cy="194.1" r="0.42"/><circle cx="452.3" cy="185.7" r="0.42"/><circle cx="453.1" cy="173.9" r="0.42"/><circle cx="456.1" cy="173.5" r="0.42"/><circle cx="455.0" cy="184.9" r="0.42"/><circle cx="452.2" cy="186.7" r="0.42"/><circle cx="452.2" cy="177.0" r="0.42"/><circle cx="450.7" cy="195.3" r="0.42"/><circle cx="452.7" cy="183.9" r="0.42"/><circle cx="451.3" cy="195.3" r="0.42"/><circle cx="452.5" cy="187.6" r="0.42"/><circle cx="450.9" cy="176.2" r="0.42"/><circle cx="454.6" cy="174.0" r="0.42"/><circle cx="455.2" cy="195.8" r="0.42"/><circle cx="448.6" cy="194.5" r="0.42"/><circle cx="457.2" cy="184.5" r="0.42"/><circle cx="451.6" cy="182.2" r="0.42"/></g>
<g fill="#fff" fill-opacity="0.45"><circle cx="453.1" cy="179.3" r="0.35"/><circle cx="454.0" cy="181.2" r="0.35"/><circle cx="454.4" cy="191.7" r="0.35"/><circle cx="455.0" cy="182.4" r="0.35"/><circle cx="453.8" cy="191.2" r="0.35"/><circle cx="452.6" cy="191.3" r="0.35"/><circle cx="453.0" cy="187.0" r="0.35"/><circle cx="452.7" cy="186.5" r="0.35"/><circle cx="455.8" cy="190.3" r="0.35"/><circle cx="455.0" cy="187.5" r="0.35"/><circle cx="452.6" cy="193.4" r="0.35"/><circle cx="453.6" cy="173.4" r="0.35"/><circle cx="456.5" cy="188.6" r="0.35"/><circle cx="453.1" cy="178.2" r="0.35"/><circle cx="454.0" cy="187.8" r="0.35"/><circle cx="451.0" cy="194.7" r="0.35"/></g>
<polygon points="464.4,199.2 466.6,194.6 469.6,191.4 473.2,188.6 476.2,186.0 477.2,186.6 474.2,190.4 471.2,193.8 469.4,197.5 469.5,201.5 470.4,204.3 468.0,205.9 465.4,204.6 464.0,202.0" fill="#19b378" stroke="#19b378" stroke-width="0.9" stroke-linejoin="round"/>
<g fill="#19b378"><circle cx="464.9" cy="198.2" r="0.42"/><circle cx="473.1" cy="192.6" r="0.42"/><circle cx="473.4" cy="190.3" r="0.42"/><circle cx="468.7" cy="191.5" r="0.42"/><circle cx="468.3" cy="206.4" r="0.42"/><circle cx="471.0" cy="188.0" r="0.42"/><circle cx="474.5" cy="186.9" r="0.42"/><circle cx="463.9" cy="198.7" r="0.42"/><circle cx="466.3" cy="195.0" r="0.42"/><circle cx="464.6" cy="202.8" r="0.42"/><circle cx="470.6" cy="194.9" r="0.42"/><circle cx="476.2" cy="186.8" r="0.42"/><circle cx="474.4" cy="189.7" r="0.42"/><circle cx="469.5" cy="200.7" r="0.42"/><circle cx="467.6" cy="204.4" r="0.42"/><circle cx="463.1" cy="202.9" r="0.42"/><circle cx="469.0" cy="205.7" r="0.42"/><circle cx="473.3" cy="190.8" r="0.42"/><circle cx="469.4" cy="203.1" r="0.42"/><circle cx="472.4" cy="190.6" r="0.42"/><circle cx="466.0" cy="204.5" r="0.42"/><circle cx="471.3" cy="192.7" r="0.42"/><circle cx="464.6" cy="204.4" r="0.42"/><circle cx="464.4" cy="201.3" r="0.42"/><circle cx="465.3" cy="202.8" r="0.42"/><circle cx="469.2" cy="200.5" r="0.42"/><circle cx="465.8" cy="202.3" r="0.42"/><circle cx="469.5" cy="190.1" r="0.42"/><circle cx="466.8" cy="205.1" r="0.42"/><circle cx="469.2" cy="200.1" r="0.42"/><circle cx="473.5" cy="192.1" r="0.42"/><circle cx="474.9" cy="189.3" r="0.42"/><circle cx="473.3" cy="191.0" r="0.42"/><circle cx="471.4" cy="190.1" r="0.42"/><circle cx="472.8" cy="192.2" r="0.42"/><circle cx="465.1" cy="205.3" r="0.42"/><circle cx="469.3" cy="204.8" r="0.42"/><circle cx="465.3" cy="203.5" r="0.42"/><circle cx="473.4" cy="187.7" r="0.42"/><circle cx="469.0" cy="201.7" r="0.42"/><circle cx="464.2" cy="200.7" r="0.42"/><circle cx="470.4" cy="205.2" r="0.42"/><circle cx="474.4" cy="190.5" r="0.42"/><circle cx="477.4" cy="186.4" r="0.42"/><circle cx="472.4" cy="189.0" r="0.42"/><circle cx="467.0" cy="193.5" r="0.42"/></g>
<g fill="#fff" fill-opacity="0.45"><circle cx="465.8" cy="200.0" r="0.35"/><circle cx="472.2" cy="191.6" r="0.35"/><circle cx="467.0" cy="195.4" r="0.35"/><circle cx="469.1" cy="198.4" r="0.35"/><circle cx="466.1" cy="196.8" r="0.35"/><circle cx="467.2" cy="194.3" r="0.35"/><circle cx="470.6" cy="191.6" r="0.35"/><circle cx="470.6" cy="193.6" r="0.35"/><circle cx="469.0" cy="199.7" r="0.35"/><circle cx="467.9" cy="196.7" r="0.35"/><circle cx="467.5" cy="198.0" r="0.35"/></g>
<polygon points="485.1,190.9 488.2,189.6 490.7,190.5 491.9,194.0 493.2,198.9 492.5,200.8 489.4,198.9 487.0,196.5 485.1,194.6 483.9,192.7" fill="#19af55" stroke="#19af55" stroke-width="0.9" stroke-linejoin="round"/>
<g fill="#19af55"><circle cx="487.6" cy="189.5" r="0.42"/><circle cx="484.8" cy="193.9" r="0.42"/><circle cx="489.2" cy="198.9" r="0.42"/><circle cx="493.2" cy="197.8" r="0.42"/><circle cx="487.2" cy="192.4" r="0.42"/><circle cx="492.3" cy="194.7" r="0.42"/><circle cx="484.6" cy="191.4" r="0.42"/><circle cx="486.6" cy="190.2" r="0.42"/><circle cx="486.9" cy="197.3" r="0.42"/><circle cx="484.8" cy="189.5" r="0.42"/><circle cx="493.3" cy="197.7" r="0.42"/><circle cx="491.6" cy="194.5" r="0.42"/><circle cx="484.9" cy="191.2" r="0.42"/><circle cx="490.4" cy="199.8" r="0.42"/><circle cx="485.7" cy="196.0" r="0.42"/><circle cx="484.9" cy="196.2" r="0.42"/><circle cx="488.1" cy="191.4" r="0.42"/><circle cx="489.4" cy="199.2" r="0.42"/><circle cx="492.1" cy="193.1" r="0.42"/><circle cx="483.5" cy="194.5" r="0.42"/><circle cx="484.6" cy="191.5" r="0.42"/><circle cx="493.7" cy="198.0" r="0.42"/><circle cx="490.5" cy="191.0" r="0.42"/><circle cx="487.2" cy="189.9" r="0.42"/><circle cx="492.1" cy="197.9" r="0.42"/><circle cx="491.3" cy="195.8" r="0.42"/><circle cx="489.5" cy="190.3" r="0.42"/></g>
<g fill="#fff" fill-opacity="0.45"><circle cx="492.7" cy="200.3" r="0.35"/><circle cx="487.9" cy="193.7" r="0.35"/><circle cx="487.4" cy="194.8" r="0.35"/><circle cx="489.4" cy="190.2" r="0.35"/><circle cx="490.1" cy="198.3" r="0.35"/><circle cx="488.4" cy="195.4" r="0.35"/><circle cx="487.8" cy="189.8" r="0.35"/><circle cx="492.1" cy="198.4" r="0.35"/></g>
<polygon points="477.7,172.3 480.8,170.4 482.6,174.1 482.6,177.9 481.4,176.6" fill="#d981ef" stroke="#d981ef" stroke-width="0.9" stroke-linejoin="round"/>
<g fill="#d981ef"><circle cx="477.7" cy="170.6" r="0.42"/><circle cx="481.9" cy="176.9" r="0.42"/><circle cx="482.3" cy="174.0" r="0.42"/><circle cx="481.9" cy="173.1" r="0.42"/><circle cx="481.5" cy="175.5" r="0.42"/><circle cx="480.1" cy="171.9" r="0.42"/><circle cx="483.1" cy="173.6" r="0.42"/><circle cx="482.2" cy="172.4" r="0.42"/><circle cx="481.0" cy="172.7" r="0.42"/><circle cx="480.9" cy="171.5" r="0.42"/><circle cx="482.5" cy="170.9" r="0.42"/><circle cx="483.1" cy="176.7" r="0.42"/><circle cx="477.2" cy="171.7" r="0.42"/><circle cx="480.1" cy="177.4" r="0.42"/><circle cx="478.9" cy="173.3" r="0.42"/><circle cx="478.5" cy="173.3" r="0.42"/><circle cx="479.6" cy="174.2" r="0.42"/></g>
<g fill="#fff" fill-opacity="0.45"><circle cx="480.6" cy="174.5" r="0.35"/><circle cx="482.5" cy="177.1" r="0.35"/></g>
<polygon points="358.7,211.9 360.2,211.4 363.3,214.9 364.8,219.5 363.3,220.0 360.7,217.5 358.7,214.4" fill="#19b4ad" stroke="#19b4ad" stroke-width="0.9" stroke-linejoin="round"/>
<g fill="#19b4ad"><circle cx="361.5" cy="219.0" r="0.42"/><circle cx="358.4" cy="213.1" r="0.42"/><circle cx="364.5" cy="217.6" r="0.42"/><circle cx="364.5" cy="214.7" r="0.42"/><circle cx="361.5" cy="213.6" r="0.42"/><circle cx="361.9" cy="218.1" r="0.42"/><circle cx="364.7" cy="217.7" r="0.42"/><circle cx="358.6" cy="212.6" r="0.42"/><circle cx="362.8" cy="219.7" r="0.42"/><circle cx="362.2" cy="213.8" r="0.42"/><circle cx="363.5" cy="217.2" r="0.42"/><circle cx="364.4" cy="217.0" r="0.42"/><circle cx="358.1" cy="214.0" r="0.42"/><circle cx="364.3" cy="218.2" r="0.42"/><circle cx="362.1" cy="217.5" r="0.42"/><circle cx="361.3" cy="218.0" r="0.42"/><circle cx="363.1" cy="220.3" r="0.42"/><circle cx="365.1" cy="217.6" r="0.42"/><circle cx="360.4" cy="212.1" r="0.42"/><circle cx="358.8" cy="212.9" r="0.42"/></g>
<g fill="#fff" fill-opacity="0.45"><circle cx="358.8" cy="213.9" r="0.35"/><circle cx="359.4" cy="215.0" r="0.35"/><circle cx="361.5" cy="215.9" r="0.35"/></g>
<polygon points="376.6,222.1 378.1,220.0 380.7,219.5 382.7,218.0 383.7,219.0 382.2,221.6 383.2,223.6 381.7,224.6 378.6,224.1" fill="#54a4f0" stroke="#54a4f0" stroke-width="0.9" stroke-linejoin="round"/>
<g fill="#54a4f0"><circle cx="379.4" cy="218.1" r="0.42"/><circle cx="380.9" cy="217.3" r="0.42"/><circle cx="379.9" cy="218.8" r="0.42"/><circle cx="383.5" cy="223.3" r="0.42"/><circle cx="380.0" cy="219.5" r="0.42"/><circle cx="377.9" cy="223.1" r="0.42"/><circle cx="379.0" cy="224.7" r="0.42"/><circle cx="382.8" cy="220.4" r="0.42"/><circle cx="382.4" cy="222.8" r="0.42"/><circle cx="383.4" cy="219.2" r="0.42"/><circle cx="382.1" cy="220.7" r="0.42"/><circle cx="383.0" cy="223.8" r="0.42"/><circle cx="378.4" cy="218.7" r="0.42"/><circle cx="382.3" cy="223.8" r="0.42"/><circle cx="382.4" cy="220.7" r="0.42"/><circle cx="383.0" cy="222.6" r="0.42"/><circle cx="382.6" cy="221.3" r="0.42"/><circle cx="382.5" cy="221.1" r="0.42"/><circle cx="381.4" cy="218.2" r="0.42"/></g>
<g fill="#fff" fill-opacity="0.45"><circle cx="379.8" cy="221.5" r="0.35"/><circle cx="380.9" cy="222.1" r="0.35"/><circle cx="381.5" cy="223.9" r="0.35"/></g>
<polyline points="384.0,217.5 387.5,214.0" fill="none" stroke="#a89918" stroke-width="0.8" stroke-linecap="round" stroke-linejoin="round"/>
<polygon points="386.8,213.4 388.8,209.3 391.9,208.1 392.9,205.2 393.9,202.2 395.0,202.7 395.0,207.3 397.0,210.3 399.6,215.4 398.0,220.0 395.0,221.6 391.9,219.5 390.4,215.4 387.8,214.9" fill="#a89918" stroke="#a89918" stroke-width="0.9" stroke-linejoin="round"/>
<g fill="#a89918"><circle cx="397.2" cy="217.6" r="0.42"/><circle cx="396.0" cy="209.2" r="0.42"/><circle cx="397.4" cy="216.9" r="0.42"/><circle cx="388.4" cy="211.4" r="0.42"/><circle cx="393.3" cy="220.1" r="0.42"/><circle cx="388.5" cy="214.8" r="0.42"/><circle cx="391.4" cy="218.7" r="0.42"/><circle cx="399.2" cy="219.8" r="0.42"/><circle cx="388.7" cy="214.6" r="0.42"/><circle cx="395.1" cy="221.1" r="0.42"/><circle cx="391.8" cy="218.4" r="0.42"/><circle cx="399.3" cy="214.4" r="0.42"/><circle cx="393.8" cy="206.0" r="0.42"/><circle cx="388.9" cy="214.5" r="0.42"/><circle cx="395.7" cy="204.1" r="0.42"/><circle cx="394.3" cy="206.2" r="0.42"/><circle cx="398.4" cy="218.3" r="0.42"/><circle cx="397.3" cy="211.0" r="0.42"/><circle cx="399.3" cy="217.9" r="0.42"/><circle cx="395.5" cy="209.2" r="0.42"/><circle cx="390.9" cy="218.5" r="0.42"/><circle cx="396.2" cy="221.6" r="0.42"/><circle cx="395.6" cy="220.4" r="0.42"/><circle cx="391.5" cy="218.1" r="0.42"/><circle cx="386.7" cy="214.7" r="0.42"/><circle cx="394.8" cy="203.1" r="0.42"/><circle cx="394.7" cy="221.7" r="0.42"/><circle cx="394.0" cy="222.2" r="0.42"/><circle cx="393.7" cy="203.8" r="0.42"/><circle cx="395.2" cy="205.1" r="0.42"/><circle cx="394.2" cy="221.3" r="0.42"/><circle cx="388.5" cy="215.9" r="0.42"/><circle cx="396.1" cy="222.2" r="0.42"/><circle cx="392.4" cy="220.2" r="0.42"/><circle cx="390.6" cy="208.1" r="0.42"/><circle cx="398.1" cy="212.6" r="0.42"/><circle cx="393.6" cy="207.6" r="0.42"/><circle cx="388.3" cy="215.7" r="0.42"/><circle cx="401.4" cy="215.5" r="0.42"/><circle cx="391.6" cy="208.2" r="0.42"/><circle cx="395.0" cy="205.2" r="0.42"/><circle cx="392.6" cy="219.6" r="0.42"/><circle cx="395.3" cy="202.7" r="0.42"/><circle cx="399.3" cy="216.9" r="0.42"/><circle cx="395.5" cy="207.7" r="0.42"/></g>
<g fill="#fff" fill-opacity="0.45"><circle cx="393.1" cy="218.3" r="0.35"/><circle cx="390.8" cy="210.9" r="0.35"/><circle cx="396.8" cy="212.2" r="0.35"/><circle cx="397.0" cy="211.5" r="0.35"/><circle cx="394.5" cy="209.5" r="0.35"/><circle cx="398.8" cy="214.9" r="0.35"/><circle cx="397.6" cy="213.8" r="0.35"/><circle cx="392.2" cy="219.6" r="0.35"/><circle cx="395.9" cy="209.7" r="0.35"/><circle cx="395.1" cy="210.3" r="0.35"/><circle cx="393.2" cy="215.1" r="0.35"/><circle cx="393.5" cy="206.1" r="0.35"/><circle cx="393.5" cy="213.8" r="0.35"/><circle cx="392.1" cy="207.9" r="0.35"/><circle cx="397.5" cy="219.4" r="0.35"/><circle cx="397.3" cy="214.6" r="0.35"/><circle cx="392.0" cy="211.3" r="0.35"/></g>
<polygon points="390.4,221.6 391.9,221.1 395.0,225.7 396.5,231.3 395.0,232.3 392.9,227.7 390.9,224.6" fill="#e876df" stroke="#e876df" stroke-width="0.9" stroke-linejoin="round"/>
<g fill="#e876df"><circle cx="394.6" cy="226.0" r="0.42"/><circle cx="392.8" cy="221.2" r="0.42"/><circle cx="390.5" cy="222.3" r="0.42"/><circle cx="393.6" cy="222.6" r="0.42"/><circle cx="392.6" cy="227.6" r="0.42"/><circle cx="390.7" cy="222.7" r="0.42"/><circle cx="391.8" cy="224.9" r="0.42"/><circle cx="395.6" cy="232.2" r="0.42"/><circle cx="395.0" cy="223.8" r="0.42"/><circle cx="394.7" cy="224.9" r="0.42"/><circle cx="390.8" cy="221.9" r="0.42"/><circle cx="390.5" cy="224.1" r="0.42"/><circle cx="395.3" cy="230.8" r="0.42"/><circle cx="396.4" cy="231.5" r="0.42"/><circle cx="395.4" cy="232.5" r="0.42"/><circle cx="393.9" cy="224.2" r="0.42"/><circle cx="395.2" cy="231.5" r="0.42"/><circle cx="390.4" cy="224.0" r="0.42"/><circle cx="393.0" cy="228.9" r="0.42"/><circle cx="391.8" cy="221.3" r="0.42"/><circle cx="391.9" cy="222.7" r="0.42"/><circle cx="393.2" cy="226.5" r="0.42"/><circle cx="395.0" cy="232.1" r="0.42"/></g>
<g fill="#fff" fill-opacity="0.45"><circle cx="391.7" cy="225.1" r="0.35"/><circle cx="392.0" cy="223.6" r="0.35"/><circle cx="393.1" cy="227.1" r="0.35"/></g>
<polygon points="399.0,217.0 403.1,218.5 407.2,220.5 411.3,224.1 414.4,222.1 417.4,221.6 415.4,225.7 414.4,229.7 415.4,235.9 413.4,240.0 400.1,240.0 398.0,235.9 396.5,228.7 397.0,222.6" fill="#df8a51" stroke="#df8a51" stroke-width="0.9" stroke-linejoin="round"/>
<g fill="#df8a51"><circle cx="398.3" cy="219.5" r="0.42"/><circle cx="405.2" cy="219.2" r="0.42"/><circle cx="398.0" cy="222.9" r="0.42"/><circle cx="415.7" cy="226.6" r="0.42"/><circle cx="415.4" cy="228.7" r="0.42"/><circle cx="416.1" cy="234.9" r="0.42"/><circle cx="395.6" cy="228.9" r="0.42"/><circle cx="407.4" cy="240.7" r="0.42"/><circle cx="399.0" cy="238.8" r="0.42"/><circle cx="408.6" cy="223.9" r="0.42"/><circle cx="415.4" cy="236.7" r="0.42"/><circle cx="398.5" cy="236.1" r="0.42"/><circle cx="415.9" cy="236.2" r="0.42"/><circle cx="415.5" cy="236.0" r="0.42"/><circle cx="397.6" cy="233.7" r="0.42"/><circle cx="408.9" cy="222.2" r="0.42"/><circle cx="397.5" cy="231.6" r="0.42"/><circle cx="405.0" cy="240.5" r="0.42"/><circle cx="417.8" cy="223.3" r="0.42"/><circle cx="414.3" cy="231.5" r="0.42"/><circle cx="397.4" cy="221.3" r="0.42"/><circle cx="416.1" cy="229.6" r="0.42"/><circle cx="407.9" cy="221.8" r="0.42"/><circle cx="414.3" cy="236.9" r="0.42"/><circle cx="408.4" cy="239.6" r="0.42"/><circle cx="397.8" cy="219.0" r="0.42"/><circle cx="397.8" cy="220.2" r="0.42"/><circle cx="415.7" cy="222.1" r="0.42"/><circle cx="396.6" cy="223.5" r="0.42"/><circle cx="414.2" cy="230.2" r="0.42"/><circle cx="418.4" cy="221.9" r="0.42"/><circle cx="414.0" cy="234.9" r="0.42"/><circle cx="409.0" cy="240.2" r="0.42"/><circle cx="412.3" cy="241.0" r="0.42"/><circle cx="405.2" cy="219.5" r="0.42"/><circle cx="414.1" cy="240.0" r="0.42"/><circle cx="414.8" cy="226.6" r="0.42"/><circle cx="405.9" cy="219.7" r="0.42"/><circle cx="398.7" cy="237.4" r="0.42"/><circle cx="409.6" cy="240.2" r="0.42"/><circle cx="408.8" cy="239.7" r="0.42"/><circle cx="402.5" cy="218.9" r="0.42"/><circle cx="411.2" cy="223.5" r="0.42"/><circle cx="413.9" cy="240.5" r="0.42"/><circle cx="406.9" cy="220.1" r="0.42"/><circle cx="415.8" cy="222.0" r="0.42"/><circle cx="405.3" cy="219.3" r="0.42"/><circle cx="417.1" cy="222.7" r="0.42"/><circle cx="414.5" cy="229.2" r="0.42"/><circle cx="414.1" cy="236.2" r="0.42"/><circle cx="397.4" cy="218.3" r="0.42"/><circle cx="400.5" cy="217.7" r="0.42"/><circle cx="396.4" cy="225.7" r="0.42"/><circle cx="397.1" cy="221.0" r="0.42"/><circle cx="401.0" cy="241.5" r="0.42"/><circle cx="413.5" cy="222.3" r="0.42"/><circle cx="403.4" cy="240.8" r="0.42"/><circle cx="414.4" cy="239.9" r="0.42"/><circle cx="398.9" cy="236.2" r="0.42"/><circle cx="404.3" cy="239.8" r="0.42"/><circle cx="415.6" cy="225.2" r="0.42"/><circle cx="397.5" cy="222.6" r="0.42"/><circle cx="414.9" cy="227.4" r="0.42"/><circle cx="414.5" cy="238.8" r="0.42"/><circle cx="397.9" cy="234.4" r="0.42"/><circle cx="400.4" cy="237.6" r="0.42"/><circle cx="397.1" cy="230.1" r="0.42"/><circle cx="403.0" cy="219.5" r="0.42"/><circle cx="413.4" cy="230.5" r="0.42"/><circle cx="414.6" cy="232.0" r="0.42"/></g>
<g fill="#fff" fill-opacity="0.45"><circle cx="412.1" cy="232.7" r="0.35"/><circle cx="403.8" cy="226.3" r="0.35"/><circle cx="407.0" cy="228.9" r="0.35"/><circle cx="405.7" cy="234.1" r="0.35"/><circle cx="402.3" cy="227.0" r="0.35"/><circle cx="412.6" cy="232.0" r="0.35"/><circle cx="410.6" cy="234.1" r="0.35"/><circle cx="398.9" cy="221.1" r="0.35"/><circle cx="401.2" cy="232.9" r="0.35"/><circle cx="407.4" cy="222.3" r="0.35"/><circle cx="403.3" cy="236.4" r="0.35"/><circle cx="403.9" cy="235.3" r="0.35"/><circle cx="399.5" cy="225.0" r="0.35"/><circle cx="404.9" cy="228.6" r="0.35"/><circle cx="404.4" cy="222.8" r="0.35"/><circle cx="406.0" cy="227.4" r="0.35"/><circle cx="409.7" cy="233.3" r="0.35"/><circle cx="399.4" cy="238.1" r="0.35"/><circle cx="407.3" cy="225.1" r="0.35"/><circle cx="401.4" cy="234.4" r="0.35"/><circle cx="407.2" cy="223.4" r="0.35"/><circle cx="399.4" cy="220.7" r="0.35"/><circle cx="407.4" cy="226.9" r="0.35"/><circle cx="415.6" cy="224.8" r="0.35"/><circle cx="408.6" cy="236.6" r="0.35"/><circle cx="412.6" cy="232.1" r="0.35"/><circle cx="413.9" cy="232.5" r="0.35"/><circle cx="400.9" cy="231.0" r="0.35"/><circle cx="412.0" cy="232.9" r="0.35"/><circle cx="408.7" cy="235.7" r="0.35"/><circle cx="406.7" cy="222.1" r="0.35"/><circle cx="400.6" cy="235.7" r="0.35"/><circle cx="397.1" cy="227.1" r="0.35"/><circle cx="402.5" cy="226.2" r="0.35"/><circle cx="411.9" cy="233.7" r="0.35"/><circle cx="397.7" cy="221.6" r="0.35"/><circle cx="402.4" cy="221.0" r="0.35"/><circle cx="404.6" cy="235.5" r="0.35"/><circle cx="405.9" cy="230.7" r="0.35"/><circle cx="403.0" cy="229.8" r="0.35"/><circle cx="402.9" cy="228.4" r="0.35"/><circle cx="405.6" cy="229.8" r="0.35"/><circle cx="408.4" cy="231.0" r="0.35"/><circle cx="405.1" cy="225.1" r="0.35"/><circle cx="404.7" cy="229.1" r="0.35"/><circle cx="397.5" cy="231.7" r="0.35"/><circle cx="414.1" cy="226.8" r="0.35"/><circle cx="416.5" cy="222.8" r="0.35"/><circle cx="407.6" cy="229.3" r="0.35"/></g>
<polygon points="398.6,245.7 402.3,242.6 408.5,240.7 414.6,242.0 418.3,245.7 419.9,250.6 417.7,254.9 414.6,256.8 409.7,257.4 403.5,256.8 399.2,254.3 398.0,250.6" fill="#ee857e" stroke="#ee857e" stroke-width="0.9" stroke-linejoin="round"/>
<g fill="#ee857e"><circle cx="413.6" cy="243.0" r="0.42"/><circle cx="399.5" cy="244.5" r="0.42"/><circle cx="417.2" cy="254.2" r="0.42"/><circle cx="400.7" cy="255.0" r="0.42"/><circle cx="411.6" cy="240.3" r="0.42"/><circle cx="418.8" cy="253.8" r="0.42"/><circle cx="414.9" cy="243.3" r="0.42"/><circle cx="411.9" cy="240.8" r="0.42"/><circle cx="418.6" cy="245.3" r="0.42"/><circle cx="403.7" cy="258.0" r="0.42"/><circle cx="419.2" cy="251.5" r="0.42"/><circle cx="418.6" cy="245.2" r="0.42"/><circle cx="401.5" cy="243.6" r="0.42"/><circle cx="406.4" cy="241.7" r="0.42"/><circle cx="418.4" cy="252.4" r="0.42"/><circle cx="400.7" cy="243.6" r="0.42"/><circle cx="399.6" cy="255.1" r="0.42"/><circle cx="398.9" cy="250.2" r="0.42"/><circle cx="404.1" cy="243.4" r="0.42"/><circle cx="398.4" cy="252.8" r="0.42"/><circle cx="419.4" cy="253.0" r="0.42"/><circle cx="401.5" cy="244.1" r="0.42"/><circle cx="400.5" cy="244.2" r="0.42"/><circle cx="413.4" cy="240.0" r="0.42"/><circle cx="412.3" cy="241.6" r="0.42"/><circle cx="406.4" cy="240.9" r="0.42"/><circle cx="399.0" cy="254.2" r="0.42"/><circle cx="407.8" cy="258.0" r="0.42"/><circle cx="418.1" cy="252.4" r="0.42"/><circle cx="414.6" cy="256.8" r="0.42"/><circle cx="399.3" cy="254.5" r="0.42"/><circle cx="418.5" cy="245.6" r="0.42"/><circle cx="420.5" cy="251.1" r="0.42"/><circle cx="412.8" cy="241.6" r="0.42"/><circle cx="397.8" cy="250.1" r="0.42"/><circle cx="415.1" cy="257.8" r="0.42"/><circle cx="421.1" cy="250.3" r="0.42"/><circle cx="413.7" cy="257.4" r="0.42"/><circle cx="419.6" cy="249.9" r="0.42"/><circle cx="399.1" cy="254.0" r="0.42"/><circle cx="398.1" cy="246.8" r="0.42"/><circle cx="400.8" cy="254.0" r="0.42"/><circle cx="398.2" cy="246.7" r="0.42"/><circle cx="397.2" cy="249.2" r="0.42"/><circle cx="398.4" cy="246.0" r="0.42"/><circle cx="399.1" cy="252.5" r="0.42"/><circle cx="419.6" cy="249.3" r="0.42"/><circle cx="407.3" cy="258.0" r="0.42"/><circle cx="410.4" cy="242.1" r="0.42"/><circle cx="413.2" cy="241.5" r="0.42"/><circle cx="416.5" cy="253.3" r="0.42"/><circle cx="413.6" cy="241.7" r="0.42"/><circle cx="409.4" cy="240.6" r="0.42"/><circle cx="398.7" cy="249.0" r="0.42"/><circle cx="406.8" cy="257.6" r="0.42"/></g>
<g fill="#fff" fill-opacity="0.45"><circle cx="405.5" cy="251.5" r="0.35"/><circle cx="412.0" cy="252.4" r="0.35"/><circle cx="399.3" cy="245.8" r="0.35"/><circle cx="399.0" cy="246.9" r="0.35"/><circle cx="413.7" cy="247.7" r="0.35"/><circle cx="409.6" cy="256.3" r="0.35"/><circle cx="404.0" cy="251.2" r="0.35"/><circle cx="403.4" cy="256.3" r="0.35"/><circle cx="398.9" cy="247.3" r="0.35"/><circle cx="404.8" cy="244.0" r="0.35"/><circle cx="404.9" cy="244.4" r="0.35"/><circle cx="405.5" cy="252.5" r="0.35"/><circle cx="403.0" cy="250.3" r="0.35"/><circle cx="416.5" cy="249.2" r="0.35"/><circle cx="400.1" cy="244.8" r="0.35"/><circle cx="400.7" cy="245.5" r="0.35"/><circle cx="413.8" cy="252.3" r="0.35"/><circle cx="407.9" cy="241.5" r="0.35"/><circle cx="410.6" cy="256.5" r="0.35"/><circle cx="407.8" cy="249.9" r="0.35"/><circle cx="410.1" cy="248.4" r="0.35"/><circle cx="407.3" cy="256.3" r="0.35"/><circle cx="410.2" cy="248.2" r="0.35"/><circle cx="401.1" cy="244.5" r="0.35"/><circle cx="399.3" cy="246.4" r="0.35"/><circle cx="409.9" cy="246.5" r="0.35"/><circle cx="398.7" cy="248.1" r="0.35"/><circle cx="404.8" cy="247.6" r="0.35"/><circle cx="412.0" cy="250.2" r="0.35"/><circle cx="407.8" cy="253.6" r="0.35"/><circle cx="410.7" cy="242.0" r="0.35"/><circle cx="399.7" cy="253.4" r="0.35"/><circle cx="409.3" cy="251.5" r="0.35"/><circle cx="406.4" cy="245.3" r="0.35"/><circle cx="402.8" cy="249.1" r="0.35"/><circle cx="408.2" cy="249.8" r="0.35"/><circle cx="408.4" cy="253.1" r="0.35"/><circle cx="402.3" cy="247.6" r="0.35"/><circle cx="409.0" cy="243.0" r="0.35"/><circle cx="412.1" cy="250.2" r="0.35"/></g>
<polygon points="400.0,240.0 413.4,240.0 414.6,242.0 402.3,242.6" fill="#ee857e" stroke="#ee857e" stroke-width="0.9" stroke-linejoin="round"/>
<g fill="#ee857e"><circle cx="402.7" cy="243.2" r="0.42"/><circle cx="408.5" cy="241.0" r="0.42"/><circle cx="401.8" cy="241.9" r="0.42"/><circle cx="413.7" cy="240.7" r="0.42"/><circle cx="414.0" cy="241.4" r="0.42"/><circle cx="406.9" cy="240.5" r="0.42"/><circle cx="404.6" cy="239.7" r="0.42"/><circle cx="410.9" cy="242.7" r="0.42"/><circle cx="404.9" cy="240.6" r="0.42"/><circle cx="413.0" cy="242.1" r="0.42"/><circle cx="410.1" cy="239.8" r="0.42"/><circle cx="410.1" cy="241.4" r="0.42"/><circle cx="410.7" cy="241.1" r="0.42"/><circle cx="410.2" cy="242.8" r="0.42"/><circle cx="406.1" cy="242.9" r="0.42"/><circle cx="411.5" cy="243.7" r="0.42"/><circle cx="410.2" cy="239.4" r="0.42"/><circle cx="404.1" cy="240.3" r="0.42"/><circle cx="408.0" cy="242.2" r="0.42"/><circle cx="405.5" cy="240.3" r="0.42"/><circle cx="412.2" cy="238.1" r="0.42"/><circle cx="404.4" cy="240.7" r="0.42"/><circle cx="410.1" cy="241.4" r="0.42"/><circle cx="404.0" cy="242.5" r="0.42"/><circle cx="412.7" cy="239.9" r="0.42"/><circle cx="405.4" cy="242.3" r="0.42"/><circle cx="400.4" cy="239.1" r="0.42"/><circle cx="407.8" cy="243.0" r="0.42"/></g>
<g fill="#fff" fill-opacity="0.45"><circle cx="405.4" cy="240.8" r="0.35"/><circle cx="406.0" cy="241.0" r="0.35"/><circle cx="411.8" cy="241.1" r="0.35"/><circle cx="402.1" cy="242.0" r="0.35"/></g>
<polyline points="420.8,251.9 427.6,250.6" fill="none" stroke="#f47d9c" stroke-width="1.1" stroke-linecap="round" stroke-linejoin="round"/>
<polyline points="442.0,223.7 445.7,219.4" fill="none" stroke="#f273cc" stroke-width="1.4" stroke-linecap="round" stroke-linejoin="round"/>
<polygon points="449.6,224.5 452.2,221.1 455.6,220.6 457.3,222.8 455.6,227.1 453.0,227.9 450.5,227.1" fill="#1ab3c3" stroke="#1ab3c3" stroke-width="0.9" stroke-linejoin="round"/>
<g fill="#1ab3c3"><circle cx="455.2" cy="227.0" r="0.42"/><circle cx="450.8" cy="225.6" r="0.42"/><circle cx="454.0" cy="227.8" r="0.42"/><circle cx="451.0" cy="222.5" r="0.42"/><circle cx="450.7" cy="222.9" r="0.42"/><circle cx="449.0" cy="222.8" r="0.42"/><circle cx="449.4" cy="226.6" r="0.42"/><circle cx="450.6" cy="227.4" r="0.42"/><circle cx="452.3" cy="221.9" r="0.42"/><circle cx="451.3" cy="227.6" r="0.42"/><circle cx="457.8" cy="223.6" r="0.42"/><circle cx="450.3" cy="225.3" r="0.42"/><circle cx="452.2" cy="223.3" r="0.42"/><circle cx="454.9" cy="221.0" r="0.42"/><circle cx="450.9" cy="223.9" r="0.42"/><circle cx="450.8" cy="226.7" r="0.42"/><circle cx="452.6" cy="227.1" r="0.42"/><circle cx="452.9" cy="227.0" r="0.42"/><circle cx="453.7" cy="228.7" r="0.42"/><circle cx="455.5" cy="228.3" r="0.42"/></g>
<g fill="#fff" fill-opacity="0.45"><circle cx="450.5" cy="226.1" r="0.35"/><circle cx="452.1" cy="226.2" r="0.35"/><circle cx="452.6" cy="224.3" r="0.35"/><circle cx="453.1" cy="221.1" r="0.35"/><circle cx="453.3" cy="223.9" r="0.35"/></g>
<polygon points="468.4,242.4 475.2,241.6 478.7,244.1 479.5,254.4 482.9,257.8 481.2,262.9 476.1,264.6 471.0,263.8 468.4,261.2 467.6,252.7" fill="#cd8d1b" stroke="#cd8d1b" stroke-width="0.9" stroke-linejoin="round"/>
<g fill="#cd8d1b"><circle cx="468.2" cy="259.4" r="0.42"/><circle cx="467.7" cy="253.7" r="0.42"/><circle cx="479.0" cy="244.7" r="0.42"/><circle cx="478.2" cy="252.0" r="0.42"/><circle cx="471.0" cy="263.2" r="0.42"/><circle cx="467.7" cy="242.8" r="0.42"/><circle cx="469.9" cy="262.5" r="0.42"/><circle cx="468.0" cy="252.2" r="0.42"/><circle cx="479.4" cy="248.3" r="0.42"/><circle cx="481.3" cy="261.6" r="0.42"/><circle cx="483.1" cy="258.0" r="0.42"/><circle cx="470.0" cy="262.9" r="0.42"/><circle cx="468.0" cy="246.3" r="0.42"/><circle cx="466.8" cy="248.8" r="0.42"/><circle cx="480.7" cy="263.8" r="0.42"/><circle cx="479.8" cy="255.6" r="0.42"/><circle cx="469.3" cy="243.4" r="0.42"/><circle cx="480.9" cy="264.2" r="0.42"/><circle cx="480.5" cy="246.7" r="0.42"/><circle cx="475.5" cy="265.1" r="0.42"/><circle cx="472.5" cy="264.2" r="0.42"/><circle cx="467.7" cy="251.0" r="0.42"/><circle cx="480.1" cy="249.8" r="0.42"/><circle cx="481.1" cy="255.1" r="0.42"/><circle cx="477.9" cy="246.2" r="0.42"/><circle cx="468.6" cy="255.7" r="0.42"/><circle cx="468.7" cy="256.6" r="0.42"/><circle cx="479.0" cy="253.1" r="0.42"/><circle cx="481.4" cy="256.6" r="0.42"/><circle cx="476.4" cy="264.0" r="0.42"/><circle cx="480.4" cy="249.5" r="0.42"/><circle cx="467.7" cy="254.8" r="0.42"/><circle cx="479.1" cy="250.8" r="0.42"/><circle cx="477.7" cy="243.4" r="0.42"/><circle cx="468.6" cy="254.0" r="0.42"/><circle cx="476.2" cy="264.5" r="0.42"/><circle cx="469.5" cy="259.4" r="0.42"/><circle cx="477.4" cy="249.0" r="0.42"/><circle cx="475.4" cy="264.8" r="0.42"/><circle cx="481.8" cy="263.2" r="0.42"/><circle cx="468.1" cy="249.1" r="0.42"/><circle cx="470.1" cy="262.2" r="0.42"/><circle cx="479.0" cy="254.1" r="0.42"/><circle cx="470.2" cy="262.2" r="0.42"/><circle cx="468.1" cy="252.1" r="0.42"/><circle cx="470.6" cy="263.3" r="0.42"/><circle cx="470.9" cy="242.9" r="0.42"/><circle cx="470.6" cy="264.0" r="0.42"/><circle cx="467.4" cy="254.6" r="0.42"/><circle cx="467.5" cy="250.8" r="0.42"/><circle cx="482.4" cy="258.8" r="0.42"/><circle cx="478.6" cy="247.0" r="0.42"/><circle cx="479.8" cy="252.0" r="0.42"/><circle cx="469.0" cy="257.9" r="0.42"/><circle cx="481.7" cy="257.6" r="0.42"/><circle cx="468.9" cy="246.0" r="0.42"/><circle cx="466.5" cy="254.7" r="0.42"/><circle cx="467.8" cy="245.6" r="0.42"/></g>
<g fill="#fff" fill-opacity="0.45"><circle cx="472.0" cy="258.2" r="0.35"/><circle cx="471.4" cy="261.0" r="0.35"/><circle cx="475.0" cy="261.1" r="0.35"/><circle cx="474.3" cy="246.3" r="0.35"/><circle cx="477.7" cy="260.0" r="0.35"/><circle cx="474.7" cy="252.2" r="0.35"/><circle cx="480.7" cy="262.4" r="0.35"/><circle cx="469.7" cy="255.8" r="0.35"/><circle cx="477.7" cy="262.6" r="0.35"/><circle cx="475.8" cy="242.5" r="0.35"/><circle cx="478.6" cy="255.0" r="0.35"/><circle cx="472.0" cy="254.6" r="0.35"/><circle cx="474.4" cy="248.6" r="0.35"/><circle cx="473.1" cy="247.2" r="0.35"/><circle cx="469.0" cy="261.0" r="0.35"/><circle cx="479.9" cy="261.7" r="0.35"/><circle cx="477.2" cy="247.3" r="0.35"/><circle cx="471.5" cy="260.3" r="0.35"/><circle cx="470.4" cy="246.6" r="0.35"/><circle cx="480.0" cy="261.2" r="0.35"/><circle cx="471.3" cy="246.5" r="0.35"/><circle cx="477.8" cy="263.1" r="0.35"/><circle cx="468.9" cy="245.4" r="0.35"/><circle cx="476.1" cy="246.3" r="0.35"/><circle cx="481.7" cy="257.6" r="0.35"/><circle cx="471.7" cy="247.0" r="0.35"/><circle cx="475.7" cy="252.1" r="0.35"/><circle cx="472.3" cy="249.1" r="0.35"/><circle cx="479.2" cy="257.6" r="0.35"/><circle cx="476.6" cy="245.8" r="0.35"/><circle cx="477.2" cy="254.4" r="0.35"/><circle cx="472.4" cy="260.8" r="0.35"/><circle cx="479.4" cy="259.5" r="0.35"/><circle cx="474.4" cy="248.0" r="0.35"/><circle cx="472.4" cy="255.5" r="0.35"/><circle cx="480.0" cy="261.3" r="0.35"/><circle cx="478.2" cy="245.9" r="0.35"/></g>
<polygon points="481.2,255.2 485.5,253.0 488.9,254.0 489.8,257.8 488.1,261.2 483.8,261.2 481.2,259.5" fill="#1cb0d7" stroke="#1cb0d7" stroke-width="0.9" stroke-linejoin="round"/>
<g fill="#1cb0d7"><circle cx="486.3" cy="260.9" r="0.42"/><circle cx="485.8" cy="252.1" r="0.42"/><circle cx="484.6" cy="253.5" r="0.42"/><circle cx="480.9" cy="255.0" r="0.42"/><circle cx="488.9" cy="253.3" r="0.42"/><circle cx="487.9" cy="260.7" r="0.42"/><circle cx="481.3" cy="254.8" r="0.42"/><circle cx="480.5" cy="258.4" r="0.42"/><circle cx="480.5" cy="256.3" r="0.42"/><circle cx="482.7" cy="259.6" r="0.42"/><circle cx="488.7" cy="255.6" r="0.42"/><circle cx="480.7" cy="259.9" r="0.42"/><circle cx="485.5" cy="261.2" r="0.42"/><circle cx="481.7" cy="259.5" r="0.42"/><circle cx="489.0" cy="256.7" r="0.42"/><circle cx="487.0" cy="261.3" r="0.42"/><circle cx="481.9" cy="259.2" r="0.42"/><circle cx="488.1" cy="253.7" r="0.42"/><circle cx="481.9" cy="256.5" r="0.42"/><circle cx="484.4" cy="261.7" r="0.42"/><circle cx="489.8" cy="257.2" r="0.42"/><circle cx="481.2" cy="261.7" r="0.42"/><circle cx="487.1" cy="254.0" r="0.42"/><circle cx="489.5" cy="259.1" r="0.42"/><circle cx="489.7" cy="255.7" r="0.42"/></g>
<g fill="#fff" fill-opacity="0.45"><circle cx="487.0" cy="254.5" r="0.35"/><circle cx="489.2" cy="257.4" r="0.35"/><circle cx="483.9" cy="256.2" r="0.35"/><circle cx="487.8" cy="258.0" r="0.35"/><circle cx="485.2" cy="258.3" r="0.35"/><circle cx="485.7" cy="260.8" r="0.35"/><circle cx="482.8" cy="259.2" r="0.35"/><circle cx="488.3" cy="260.6" r="0.35"/></g>
<polygon points="468.4,266.3 471.8,264.6 477.0,265.5 477.0,269.8 472.7,271.5 469.3,270.6" fill="#1daae7" stroke="#1daae7" stroke-width="0.9" stroke-linejoin="round"/>
<g fill="#1daae7"><circle cx="472.4" cy="264.2" r="0.42"/><circle cx="476.7" cy="267.5" r="0.42"/><circle cx="469.1" cy="267.4" r="0.42"/><circle cx="472.6" cy="264.2" r="0.42"/><circle cx="473.4" cy="271.1" r="0.42"/><circle cx="468.0" cy="266.6" r="0.42"/><circle cx="476.7" cy="267.3" r="0.42"/><circle cx="474.2" cy="265.7" r="0.42"/><circle cx="468.7" cy="267.0" r="0.42"/><circle cx="472.0" cy="265.3" r="0.42"/><circle cx="469.1" cy="269.2" r="0.42"/><circle cx="470.0" cy="269.9" r="0.42"/><circle cx="468.8" cy="267.0" r="0.42"/><circle cx="476.5" cy="269.2" r="0.42"/><circle cx="473.8" cy="264.2" r="0.42"/><circle cx="473.5" cy="271.5" r="0.42"/><circle cx="475.8" cy="264.5" r="0.42"/><circle cx="468.3" cy="267.9" r="0.42"/><circle cx="469.6" cy="266.0" r="0.42"/><circle cx="473.0" cy="271.2" r="0.42"/><circle cx="475.8" cy="265.5" r="0.42"/><circle cx="477.5" cy="266.2" r="0.42"/><circle cx="478.0" cy="267.5" r="0.42"/></g>
<g fill="#fff" fill-opacity="0.45"><circle cx="472.1" cy="267.3" r="0.35"/><circle cx="475.9" cy="266.7" r="0.35"/><circle cx="475.4" cy="265.6" r="0.35"/><circle cx="471.4" cy="268.5" r="0.35"/><circle cx="473.9" cy="270.4" r="0.35"/><circle cx="470.8" cy="269.4" r="0.35"/></g>
<polygon points="467.6,274.9 471.0,270.6 475.2,268.9 478.7,268.0 479.5,272.3 476.9,275.7 473.5,278.3 471.0,281.7 469.3,285.1 465.9,285.1 465.9,280.0" fill="#3eab18" stroke="#3eab18" stroke-width="0.9" stroke-linejoin="round"/>
<g fill="#3eab18"><circle cx="479.0" cy="274.5" r="0.42"/><circle cx="465.6" cy="279.2" r="0.42"/><circle cx="474.6" cy="278.0" r="0.42"/><circle cx="465.9" cy="283.7" r="0.42"/><circle cx="471.7" cy="282.2" r="0.42"/><circle cx="473.8" cy="268.0" r="0.42"/><circle cx="478.1" cy="275.5" r="0.42"/><circle cx="468.1" cy="285.7" r="0.42"/><circle cx="470.5" cy="273.4" r="0.42"/><circle cx="465.7" cy="283.3" r="0.42"/><circle cx="480.3" cy="270.5" r="0.42"/><circle cx="466.9" cy="274.4" r="0.42"/><circle cx="473.8" cy="279.5" r="0.42"/><circle cx="476.6" cy="276.1" r="0.42"/><circle cx="478.4" cy="270.1" r="0.42"/><circle cx="468.5" cy="274.5" r="0.42"/><circle cx="478.7" cy="269.6" r="0.42"/><circle cx="466.2" cy="280.0" r="0.42"/><circle cx="468.5" cy="285.5" r="0.42"/><circle cx="473.3" cy="279.4" r="0.42"/><circle cx="476.5" cy="276.4" r="0.42"/><circle cx="468.0" cy="284.9" r="0.42"/><circle cx="472.4" cy="279.0" r="0.42"/><circle cx="471.6" cy="279.4" r="0.42"/><circle cx="466.6" cy="280.1" r="0.42"/><circle cx="466.0" cy="276.9" r="0.42"/><circle cx="472.0" cy="281.2" r="0.42"/><circle cx="470.5" cy="281.9" r="0.42"/><circle cx="469.8" cy="284.8" r="0.42"/><circle cx="471.0" cy="280.0" r="0.42"/><circle cx="465.7" cy="284.4" r="0.42"/><circle cx="480.0" cy="268.7" r="0.42"/><circle cx="465.5" cy="276.1" r="0.42"/><circle cx="478.3" cy="272.0" r="0.42"/><circle cx="479.6" cy="272.2" r="0.42"/><circle cx="473.4" cy="278.9" r="0.42"/><circle cx="466.0" cy="280.1" r="0.42"/><circle cx="472.6" cy="278.8" r="0.42"/><circle cx="476.0" cy="269.8" r="0.42"/><circle cx="465.0" cy="279.5" r="0.42"/><circle cx="480.3" cy="270.7" r="0.42"/><circle cx="478.4" cy="273.7" r="0.42"/><circle cx="467.4" cy="276.2" r="0.42"/></g>
<g fill="#fff" fill-opacity="0.45"><circle cx="476.6" cy="274.9" r="0.35"/><circle cx="473.0" cy="272.5" r="0.35"/><circle cx="475.9" cy="272.7" r="0.35"/><circle cx="473.7" cy="276.3" r="0.35"/><circle cx="470.4" cy="278.3" r="0.35"/><circle cx="470.5" cy="273.6" r="0.35"/><circle cx="472.1" cy="276.4" r="0.35"/><circle cx="470.5" cy="274.1" r="0.35"/><circle cx="469.5" cy="273.8" r="0.35"/><circle cx="478.1" cy="272.6" r="0.35"/><circle cx="471.7" cy="271.0" r="0.35"/><circle cx="467.2" cy="283.4" r="0.35"/><circle cx="478.7" cy="272.7" r="0.35"/><circle cx="472.3" cy="275.9" r="0.35"/><circle cx="469.6" cy="283.5" r="0.35"/><circle cx="478.3" cy="273.8" r="0.35"/></g>
<polygon points="440.2,269.8 443.7,268.9 448.8,270.6 453.9,269.8 455.6,270.6 452.2,275.7 451.3,280.0 447.1,281.7 442.0,280.8 440.2,276.6" fill="#919f17" stroke="#919f17" stroke-width="0.9" stroke-linejoin="round"/>
<g fill="#919f17"><circle cx="446.3" cy="269.7" r="0.42"/><circle cx="453.5" cy="276.0" r="0.42"/><circle cx="442.3" cy="267.9" r="0.42"/><circle cx="445.6" cy="269.6" r="0.42"/><circle cx="452.2" cy="270.5" r="0.42"/><circle cx="445.9" cy="270.1" r="0.42"/><circle cx="452.6" cy="279.7" r="0.42"/><circle cx="439.8" cy="275.0" r="0.42"/><circle cx="441.9" cy="277.2" r="0.42"/><circle cx="455.3" cy="272.1" r="0.42"/><circle cx="441.2" cy="277.1" r="0.42"/><circle cx="445.8" cy="280.9" r="0.42"/><circle cx="454.5" cy="271.1" r="0.42"/><circle cx="445.0" cy="271.9" r="0.42"/><circle cx="450.9" cy="270.0" r="0.42"/><circle cx="451.5" cy="270.6" r="0.42"/><circle cx="450.3" cy="270.6" r="0.42"/><circle cx="455.0" cy="272.0" r="0.42"/><circle cx="446.6" cy="270.7" r="0.42"/><circle cx="444.0" cy="268.8" r="0.42"/><circle cx="445.1" cy="282.3" r="0.42"/><circle cx="445.6" cy="282.7" r="0.42"/><circle cx="447.2" cy="282.2" r="0.42"/><circle cx="454.2" cy="274.5" r="0.42"/><circle cx="442.6" cy="268.6" r="0.42"/><circle cx="441.4" cy="279.0" r="0.42"/><circle cx="440.8" cy="271.0" r="0.42"/><circle cx="451.8" cy="278.4" r="0.42"/><circle cx="451.0" cy="278.0" r="0.42"/><circle cx="446.9" cy="281.0" r="0.42"/><circle cx="441.8" cy="279.5" r="0.42"/><circle cx="455.3" cy="272.0" r="0.42"/><circle cx="441.0" cy="276.0" r="0.42"/><circle cx="443.9" cy="269.0" r="0.42"/><circle cx="453.9" cy="274.9" r="0.42"/><circle cx="453.4" cy="270.3" r="0.42"/><circle cx="451.8" cy="268.8" r="0.42"/><circle cx="450.8" cy="271.0" r="0.42"/><circle cx="455.0" cy="270.8" r="0.42"/><circle cx="447.4" cy="282.2" r="0.42"/><circle cx="451.0" cy="277.7" r="0.42"/><circle cx="441.9" cy="279.5" r="0.42"/></g>
<g fill="#fff" fill-opacity="0.45"><circle cx="448.4" cy="277.8" r="0.35"/><circle cx="441.0" cy="270.8" r="0.35"/><circle cx="452.7" cy="272.9" r="0.35"/><circle cx="448.4" cy="273.4" r="0.35"/><circle cx="440.7" cy="274.3" r="0.35"/><circle cx="449.8" cy="271.2" r="0.35"/><circle cx="444.1" cy="276.1" r="0.35"/><circle cx="449.2" cy="276.8" r="0.35"/><circle cx="442.3" cy="279.0" r="0.35"/><circle cx="447.0" cy="281.5" r="0.35"/><circle cx="442.6" cy="269.5" r="0.35"/><circle cx="444.2" cy="274.4" r="0.35"/><circle cx="449.9" cy="276.7" r="0.35"/><circle cx="441.6" cy="275.7" r="0.35"/><circle cx="445.4" cy="271.1" r="0.35"/><circle cx="448.3" cy="273.4" r="0.35"/><circle cx="452.4" cy="271.3" r="0.35"/><circle cx="450.2" cy="278.8" r="0.35"/><circle cx="443.7" cy="273.5" r="0.35"/></g>
<polyline points="485.5,277.4 488.9,275.7 491.5,273.2" fill="none" stroke="#9c9ef6" stroke-width="1.1" stroke-linecap="round" stroke-linejoin="round"/>
<polyline points="485.5,277.4 486.3,285.1" fill="none" stroke="#9c9ef6" stroke-width="0.9" stroke-linecap="round" stroke-linejoin="round"/>
<polyline points="442.0,292.0 443.7,294.5" fill="none" stroke="#c18ff5" stroke-width="1.2" stroke-linecap="round" stroke-linejoin="round"/>
<text x="454.4" y="166.79999999999998" font-size="8.2" fill="#333" text-anchor="start" font-weight="normal">10</text>
<text x="419.34999999999997" y="181.7" font-size="8.2" fill="#333" text-anchor="start" font-weight="normal">21</text>
<text x="435.45" y="186.4" font-size="8.2" fill="#333" text-anchor="start" font-weight="normal">3</text>
<text x="456.84999999999997" y="188.2" font-size="8.2" fill="#333" text-anchor="start" font-weight="normal">6</text>
<text x="480.79999999999995" y="175.7" font-size="8.2" fill="#333" text-anchor="start" font-weight="normal">18</text>
<text x="492.84999999999997" y="193.79999999999998" font-size="8.2" fill="#333" text-anchor="start" font-weight="normal">8</text>
<text x="472.34999999999997" y="200.9" font-size="8.2" fill="#333" text-anchor="start" font-weight="normal">9</text>
<text x="355.0" y="226.79999999999998" font-size="8.2" fill="#333" text-anchor="start" font-weight="normal">11</text>
<text x="372.9" y="232.4" font-size="8.2" fill="#333" text-anchor="start" font-weight="normal">15</text>
<text x="385.7" y="236.5" font-size="8.2" fill="#333" text-anchor="start" font-weight="normal">19</text>
<text x="397.65" y="211.2" font-size="8.2" fill="#333" text-anchor="start" font-weight="normal">4</text>
<text x="414.79999999999995" y="231.7" font-size="8.2" fill="#333" text-anchor="start" font-weight="normal">1</text>
<text x="403.45" y="267.1" font-size="8.2" fill="#333" text-anchor="start" font-weight="normal">0</text>
<text x="423.95" y="259.1" font-size="8.2" fill="#333" text-anchor="start" font-weight="normal">22</text>
<text x="433.45" y="220.7" font-size="8.2" fill="#333" text-anchor="start" font-weight="normal">20</text>
<text x="455.9" y="229.2" font-size="8.2" fill="#333" text-anchor="start" font-weight="normal">12</text>
<text x="462.65" y="256.5" font-size="8.2" fill="#333" text-anchor="start" font-weight="normal">2</text>
<text x="488.29999999999995" y="257.90000000000003" font-size="8.2" fill="#333" text-anchor="start" font-weight="normal">13</text>
<text x="458.4" y="271.1" font-size="8.2" fill="#333" text-anchor="start" font-weight="normal">14</text>
<text x="434.75" y="280.40000000000003" font-size="8.2" fill="#333" text-anchor="start" font-weight="normal">5</text>
<text x="471.95" y="286.40000000000003" font-size="8.2" fill="#333" text-anchor="start" font-weight="normal">7</text>
<text x="488.29999999999995" y="283.5" font-size="8.2" fill="#333" text-anchor="start" font-weight="normal">16</text>
<text x="443.09999999999997" y="292.90000000000003" font-size="8.2" fill="#333" text-anchor="start" font-weight="normal">17</text>
<polygon points="571.0,161.3 573.3,160.1 575.5,160.7 576.1,163.0 575.0,164.7 572.7,164.1" fill="#1cb0d4" stroke="#1cb0d4" stroke-width="0.9" stroke-linejoin="round"/>
<g fill="#1cb0d4"><circle cx="572.7" cy="163.2" r="0.42"/><circle cx="575.4" cy="164.3" r="0.42"/><circle cx="572.1" cy="164.1" r="0.42"/><circle cx="575.0" cy="162.6" r="0.42"/><circle cx="572.7" cy="161.6" r="0.42"/><circle cx="575.5" cy="163.4" r="0.42"/><circle cx="574.1" cy="160.9" r="0.42"/><circle cx="572.0" cy="162.0" r="0.42"/><circle cx="572.9" cy="163.6" r="0.42"/><circle cx="573.2" cy="163.0" r="0.42"/><circle cx="574.8" cy="164.3" r="0.42"/><circle cx="572.0" cy="162.1" r="0.42"/><circle cx="572.1" cy="162.8" r="0.42"/></g>
<g fill="#fff" fill-opacity="0.45"><circle cx="573.3" cy="163.9" r="0.35"/><circle cx="572.1" cy="160.8" r="0.35"/></g>
<polyline points="575.0,164.7 576.7,169.8" fill="none" stroke="#1cb0d4" stroke-width="0.9" stroke-linecap="round" stroke-linejoin="round"/>
<polyline points="581.2,175.5 584.6,178.9 585.8,182.9 584.6,186.9" fill="none" stroke="#19b4ad" stroke-width="2.2" stroke-linecap="round" stroke-linejoin="round"/>
<polygon points="581.2,192.6 583.5,190.9 585.2,192.6 584.6,196.0 582.4,196.2" fill="#89a1f5" stroke="#89a1f5" stroke-width="0.9" stroke-linejoin="round"/>
<g fill="#89a1f5"><circle cx="582.6" cy="193.8" r="0.42"/><circle cx="581.9" cy="195.5" r="0.42"/><circle cx="584.7" cy="190.6" r="0.42"/><circle cx="586.4" cy="193.0" r="0.42"/><circle cx="584.8" cy="191.6" r="0.42"/><circle cx="581.2" cy="193.3" r="0.42"/><circle cx="583.9" cy="196.4" r="0.42"/><circle cx="582.0" cy="195.2" r="0.42"/><circle cx="582.5" cy="196.0" r="0.42"/><circle cx="584.7" cy="194.6" r="0.42"/><circle cx="583.5" cy="192.3" r="0.42"/><circle cx="582.6" cy="195.4" r="0.42"/><circle cx="582.7" cy="193.9" r="0.42"/></g>
<g fill="#fff" fill-opacity="0.45"><circle cx="583.1" cy="193.4" r="0.35"/><circle cx="583.3" cy="194.5" r="0.35"/></g>
<polygon points="553.3,179.5 557.3,178.9 560.2,179.5 560.7,182.3 558.5,183.5 555.6,184.0 553.3,186.3 552.2,185.7 554.5,182.9 553.3,181.2" fill="#19b37e" stroke="#19b37e" stroke-width="0.9" stroke-linejoin="round"/>
<g fill="#19b37e"><circle cx="554.0" cy="183.2" r="0.42"/><circle cx="555.3" cy="179.1" r="0.42"/><circle cx="553.0" cy="186.0" r="0.42"/><circle cx="552.8" cy="179.5" r="0.42"/><circle cx="555.8" cy="183.6" r="0.42"/><circle cx="555.9" cy="183.4" r="0.42"/><circle cx="560.4" cy="182.5" r="0.42"/><circle cx="556.9" cy="179.2" r="0.42"/><circle cx="552.2" cy="186.7" r="0.42"/><circle cx="558.8" cy="177.6" r="0.42"/><circle cx="558.6" cy="180.2" r="0.42"/><circle cx="555.3" cy="179.7" r="0.42"/><circle cx="559.0" cy="183.2" r="0.42"/><circle cx="561.1" cy="180.6" r="0.42"/><circle cx="559.7" cy="181.6" r="0.42"/><circle cx="553.4" cy="178.5" r="0.42"/><circle cx="553.3" cy="179.4" r="0.42"/><circle cx="553.7" cy="180.6" r="0.42"/><circle cx="552.8" cy="183.4" r="0.42"/><circle cx="553.8" cy="185.1" r="0.42"/><circle cx="558.0" cy="178.8" r="0.42"/><circle cx="560.7" cy="180.0" r="0.42"/><circle cx="559.4" cy="183.2" r="0.42"/><circle cx="554.4" cy="184.5" r="0.42"/></g>
<g fill="#fff" fill-opacity="0.45"><circle cx="556.6" cy="180.3" r="0.35"/><circle cx="556.5" cy="179.0" r="0.35"/><circle cx="559.2" cy="181.9" r="0.35"/><circle cx="554.1" cy="181.2" r="0.35"/></g>
<polyline points="552.2,186.3 547.1,190.3 544.2,194.8 542.7,199.4" fill="none" stroke="#b396f6" stroke-width="0.8" stroke-linecap="round" stroke-linejoin="round"/>
<polygon points="603.2,173.4 605.5,171.7 608.4,172.3 610.8,174.0 609.6,175.8 606.1,175.2 603.8,175.2" fill="#1ea3eb" stroke="#1ea3eb" stroke-width="0.9" stroke-linejoin="round"/>
<g fill="#1ea3eb"><circle cx="603.9" cy="170.5" r="0.42"/><circle cx="611.9" cy="174.3" r="0.42"/><circle cx="604.6" cy="175.6" r="0.42"/><circle cx="607.3" cy="169.9" r="0.42"/><circle cx="605.5" cy="172.2" r="0.42"/><circle cx="605.6" cy="172.4" r="0.42"/><circle cx="602.9" cy="173.1" r="0.42"/><circle cx="611.4" cy="174.2" r="0.42"/><circle cx="607.3" cy="172.3" r="0.42"/><circle cx="603.0" cy="173.4" r="0.42"/><circle cx="608.6" cy="175.9" r="0.42"/><circle cx="606.7" cy="175.9" r="0.42"/><circle cx="609.2" cy="172.9" r="0.42"/><circle cx="607.0" cy="172.1" r="0.42"/><circle cx="605.1" cy="173.4" r="0.42"/><circle cx="605.7" cy="175.3" r="0.42"/></g>
<g fill="#fff" fill-opacity="0.45"><circle cx="609.7" cy="175.4" r="0.35"/><circle cx="609.1" cy="175.5" r="0.35"/></g>
<polygon points="610.8,174.6 614.9,176.4 618.9,175.2 623.0,173.8 627.1,174.0 629.5,176.4 629.5,178.7 626.5,179.9 623.0,179.6 618.4,179.3 614.9,178.1 611.4,176.4" fill="#61a818" stroke="#61a818" stroke-width="0.9" stroke-linejoin="round"/>
<g fill="#61a818"><circle cx="625.9" cy="180.5" r="0.42"/><circle cx="622.9" cy="179.0" r="0.42"/><circle cx="612.8" cy="176.8" r="0.42"/><circle cx="622.8" cy="180.1" r="0.42"/><circle cx="618.2" cy="174.1" r="0.42"/><circle cx="621.1" cy="175.0" r="0.42"/><circle cx="621.0" cy="179.6" r="0.42"/><circle cx="611.4" cy="174.4" r="0.42"/><circle cx="627.2" cy="174.0" r="0.42"/><circle cx="614.9" cy="175.9" r="0.42"/><circle cx="621.5" cy="175.3" r="0.42"/><circle cx="615.3" cy="178.2" r="0.42"/><circle cx="620.4" cy="178.8" r="0.42"/><circle cx="617.5" cy="176.0" r="0.42"/><circle cx="618.5" cy="175.3" r="0.42"/><circle cx="629.3" cy="177.6" r="0.42"/><circle cx="627.1" cy="180.3" r="0.42"/><circle cx="615.9" cy="176.2" r="0.42"/><circle cx="626.2" cy="180.4" r="0.42"/><circle cx="617.4" cy="178.3" r="0.42"/><circle cx="629.0" cy="180.8" r="0.42"/><circle cx="613.9" cy="176.1" r="0.42"/><circle cx="612.3" cy="174.3" r="0.42"/><circle cx="626.1" cy="173.8" r="0.42"/><circle cx="626.5" cy="173.7" r="0.42"/><circle cx="629.5" cy="176.3" r="0.42"/><circle cx="627.9" cy="174.7" r="0.42"/><circle cx="630.0" cy="178.1" r="0.42"/><circle cx="622.2" cy="174.5" r="0.42"/><circle cx="628.4" cy="176.8" r="0.42"/><circle cx="626.8" cy="173.7" r="0.42"/><circle cx="611.3" cy="175.3" r="0.42"/><circle cx="612.4" cy="176.1" r="0.42"/><circle cx="623.9" cy="172.3" r="0.42"/><circle cx="615.0" cy="177.8" r="0.42"/><circle cx="614.2" cy="177.9" r="0.42"/><circle cx="619.4" cy="176.7" r="0.42"/><circle cx="626.1" cy="179.4" r="0.42"/><circle cx="627.6" cy="172.4" r="0.42"/></g>
<g fill="#fff" fill-opacity="0.45"><circle cx="625.1" cy="179.1" r="0.35"/><circle cx="626.7" cy="178.5" r="0.35"/><circle cx="627.8" cy="178.5" r="0.35"/><circle cx="620.9" cy="175.3" r="0.35"/><circle cx="626.8" cy="175.7" r="0.35"/><circle cx="620.0" cy="177.5" r="0.35"/><circle cx="629.0" cy="178.1" r="0.35"/><circle cx="615.9" cy="176.7" r="0.35"/><circle cx="625.0" cy="177.3" r="0.35"/><circle cx="617.4" cy="177.7" r="0.35"/></g>
<polygon points="623.6,179.9 627.1,180.4 628.9,184.5 633.5,188.6 630.0,193.3 632.4,197.4 631.2,202.0 627.7,204.4 624.8,207.9 621.9,210.2 620.7,206.7 623.0,203.2 621.3,199.7 618.4,195.0 619.5,192.7 624.2,190.4 626.5,188.0 626.0,184.5" fill="#c1911a" stroke="#c1911a" stroke-width="0.9" stroke-linejoin="round"/>
<g fill="#c1911a"><circle cx="629.0" cy="184.8" r="0.42"/><circle cx="625.6" cy="185.1" r="0.42"/><circle cx="619.2" cy="195.2" r="0.42"/><circle cx="632.5" cy="198.8" r="0.42"/><circle cx="618.5" cy="193.7" r="0.42"/><circle cx="632.4" cy="191.6" r="0.42"/><circle cx="630.0" cy="186.1" r="0.42"/><circle cx="620.9" cy="191.9" r="0.42"/><circle cx="621.4" cy="192.3" r="0.42"/><circle cx="630.2" cy="201.5" r="0.42"/><circle cx="619.0" cy="196.3" r="0.42"/><circle cx="633.7" cy="189.8" r="0.42"/><circle cx="626.7" cy="183.8" r="0.42"/><circle cx="621.3" cy="210.1" r="0.42"/><circle cx="623.5" cy="202.3" r="0.42"/><circle cx="634.0" cy="189.9" r="0.42"/><circle cx="631.2" cy="187.5" r="0.42"/><circle cx="633.0" cy="200.4" r="0.42"/><circle cx="630.9" cy="185.3" r="0.42"/><circle cx="631.7" cy="186.1" r="0.42"/><circle cx="626.2" cy="207.1" r="0.42"/><circle cx="631.4" cy="195.1" r="0.42"/><circle cx="629.9" cy="202.6" r="0.42"/><circle cx="623.8" cy="208.1" r="0.42"/><circle cx="617.2" cy="194.3" r="0.42"/><circle cx="625.7" cy="188.3" r="0.42"/><circle cx="620.8" cy="198.1" r="0.42"/><circle cx="622.8" cy="209.2" r="0.42"/><circle cx="623.1" cy="180.0" r="0.42"/><circle cx="625.3" cy="180.5" r="0.42"/><circle cx="632.4" cy="191.3" r="0.42"/><circle cx="630.7" cy="201.4" r="0.42"/><circle cx="631.7" cy="195.3" r="0.42"/><circle cx="627.5" cy="194.5" r="0.42"/><circle cx="627.9" cy="182.9" r="0.42"/><circle cx="632.1" cy="199.6" r="0.42"/><circle cx="625.0" cy="190.3" r="0.42"/><circle cx="630.2" cy="185.9" r="0.42"/><circle cx="619.2" cy="197.9" r="0.42"/><circle cx="622.3" cy="202.4" r="0.42"/><circle cx="628.1" cy="204.1" r="0.42"/><circle cx="622.0" cy="205.3" r="0.42"/><circle cx="629.4" cy="192.0" r="0.42"/><circle cx="631.3" cy="192.0" r="0.42"/><circle cx="624.7" cy="183.8" r="0.42"/><circle cx="628.8" cy="182.0" r="0.42"/><circle cx="631.8" cy="189.8" r="0.42"/><circle cx="630.6" cy="194.5" r="0.42"/><circle cx="630.5" cy="185.4" r="0.42"/><circle cx="619.4" cy="197.8" r="0.42"/><circle cx="624.3" cy="183.4" r="0.42"/><circle cx="625.1" cy="180.7" r="0.42"/><circle cx="627.0" cy="203.0" r="0.42"/><circle cx="630.2" cy="186.3" r="0.42"/><circle cx="618.5" cy="191.6" r="0.42"/><circle cx="623.7" cy="191.4" r="0.42"/><circle cx="622.7" cy="209.8" r="0.42"/><circle cx="628.8" cy="184.4" r="0.42"/><circle cx="630.8" cy="193.2" r="0.42"/><circle cx="625.0" cy="184.3" r="0.42"/><circle cx="621.5" cy="204.4" r="0.42"/><circle cx="628.1" cy="182.1" r="0.42"/><circle cx="632.6" cy="197.0" r="0.42"/><circle cx="626.0" cy="179.9" r="0.42"/><circle cx="631.7" cy="188.2" r="0.42"/><circle cx="619.2" cy="197.5" r="0.42"/><circle cx="622.3" cy="202.3" r="0.42"/><circle cx="622.6" cy="201.5" r="0.42"/><circle cx="619.7" cy="192.9" r="0.42"/><circle cx="621.7" cy="202.8" r="0.42"/><circle cx="629.0" cy="203.4" r="0.42"/></g>
<g fill="#fff" fill-opacity="0.45"><circle cx="622.5" cy="208.8" r="0.35"/><circle cx="629.4" cy="190.5" r="0.35"/><circle cx="630.6" cy="191.8" r="0.35"/><circle cx="626.4" cy="201.3" r="0.35"/><circle cx="625.8" cy="200.5" r="0.35"/><circle cx="620.5" cy="193.7" r="0.35"/><circle cx="619.4" cy="195.7" r="0.35"/><circle cx="628.7" cy="185.4" r="0.35"/><circle cx="623.3" cy="198.0" r="0.35"/><circle cx="624.6" cy="203.7" r="0.35"/><circle cx="624.5" cy="196.9" r="0.35"/><circle cx="625.4" cy="189.5" r="0.35"/><circle cx="626.1" cy="206.3" r="0.35"/><circle cx="623.3" cy="193.4" r="0.35"/><circle cx="629.7" cy="192.9" r="0.35"/><circle cx="621.9" cy="195.5" r="0.35"/><circle cx="626.5" cy="205.0" r="0.35"/><circle cx="623.3" cy="195.0" r="0.35"/><circle cx="622.1" cy="199.4" r="0.35"/><circle cx="633.0" cy="188.8" r="0.35"/><circle cx="626.0" cy="189.5" r="0.35"/><circle cx="626.5" cy="199.3" r="0.35"/><circle cx="622.1" cy="208.2" r="0.35"/><circle cx="628.3" cy="199.2" r="0.35"/><circle cx="625.2" cy="191.7" r="0.35"/><circle cx="621.8" cy="197.3" r="0.35"/><circle cx="627.8" cy="191.7" r="0.35"/><circle cx="628.0" cy="191.8" r="0.35"/><circle cx="625.2" cy="198.6" r="0.35"/><circle cx="629.1" cy="202.5" r="0.35"/></g>
<polygon points="630.0,192.1 634.7,190.4 640.5,189.2 646.4,188.6 651.1,188.0 653.4,190.4 654.6,195.0 654.6,198.5 649.9,198.5 644.0,198.0 639.4,198.5 634.7,198.5 631.2,196.2" fill="#af9719" stroke="#af9719" stroke-width="0.9" stroke-linejoin="round"/>
<g fill="#af9719"><circle cx="633.2" cy="191.4" r="0.42"/><circle cx="654.5" cy="192.4" r="0.42"/><circle cx="655.2" cy="198.4" r="0.42"/><circle cx="647.1" cy="198.9" r="0.42"/><circle cx="653.5" cy="191.9" r="0.42"/><circle cx="655.7" cy="197.3" r="0.42"/><circle cx="655.4" cy="195.6" r="0.42"/><circle cx="644.5" cy="197.1" r="0.42"/><circle cx="653.7" cy="198.7" r="0.42"/><circle cx="653.8" cy="196.9" r="0.42"/><circle cx="647.0" cy="198.5" r="0.42"/><circle cx="650.3" cy="199.9" r="0.42"/><circle cx="632.0" cy="191.4" r="0.42"/><circle cx="652.8" cy="193.9" r="0.42"/><circle cx="645.8" cy="197.1" r="0.42"/><circle cx="640.9" cy="189.0" r="0.42"/><circle cx="640.3" cy="187.9" r="0.42"/><circle cx="631.6" cy="197.0" r="0.42"/><circle cx="637.2" cy="190.5" r="0.42"/><circle cx="631.9" cy="192.0" r="0.42"/><circle cx="648.2" cy="188.5" r="0.42"/><circle cx="644.9" cy="188.5" r="0.42"/><circle cx="639.6" cy="198.8" r="0.42"/><circle cx="650.1" cy="186.6" r="0.42"/><circle cx="630.6" cy="192.7" r="0.42"/><circle cx="631.3" cy="194.3" r="0.42"/><circle cx="649.3" cy="188.6" r="0.42"/><circle cx="630.5" cy="192.5" r="0.42"/><circle cx="640.5" cy="190.2" r="0.42"/><circle cx="651.3" cy="187.3" r="0.42"/><circle cx="651.1" cy="189.2" r="0.42"/><circle cx="632.2" cy="197.3" r="0.42"/><circle cx="643.1" cy="198.2" r="0.42"/><circle cx="636.5" cy="190.0" r="0.42"/><circle cx="649.6" cy="188.7" r="0.42"/><circle cx="635.6" cy="192.4" r="0.42"/><circle cx="645.9" cy="197.7" r="0.42"/><circle cx="650.7" cy="186.9" r="0.42"/><circle cx="655.3" cy="195.4" r="0.42"/><circle cx="646.4" cy="196.9" r="0.42"/><circle cx="631.6" cy="194.5" r="0.42"/><circle cx="653.6" cy="193.9" r="0.42"/><circle cx="649.8" cy="199.0" r="0.42"/><circle cx="651.4" cy="188.8" r="0.42"/><circle cx="647.5" cy="190.0" r="0.42"/><circle cx="654.1" cy="194.9" r="0.42"/><circle cx="650.6" cy="199.0" r="0.42"/><circle cx="645.8" cy="197.2" r="0.42"/><circle cx="641.3" cy="198.6" r="0.42"/><circle cx="653.0" cy="199.2" r="0.42"/><circle cx="634.1" cy="197.8" r="0.42"/><circle cx="643.8" cy="198.2" r="0.42"/><circle cx="630.6" cy="195.1" r="0.42"/><circle cx="652.6" cy="190.7" r="0.42"/><circle cx="635.4" cy="189.9" r="0.42"/></g>
<g fill="#fff" fill-opacity="0.45"><circle cx="646.9" cy="196.0" r="0.35"/><circle cx="648.8" cy="190.2" r="0.35"/><circle cx="645.8" cy="193.1" r="0.35"/><circle cx="639.4" cy="192.9" r="0.35"/><circle cx="652.4" cy="190.2" r="0.35"/><circle cx="643.3" cy="195.2" r="0.35"/><circle cx="639.1" cy="195.5" r="0.35"/><circle cx="646.4" cy="195.8" r="0.35"/><circle cx="639.5" cy="198.2" r="0.35"/><circle cx="642.7" cy="194.7" r="0.35"/><circle cx="634.8" cy="197.1" r="0.35"/><circle cx="644.4" cy="190.8" r="0.35"/><circle cx="638.3" cy="194.5" r="0.35"/><circle cx="649.2" cy="188.3" r="0.35"/><circle cx="636.4" cy="192.6" r="0.35"/><circle cx="651.9" cy="193.8" r="0.35"/><circle cx="640.4" cy="193.7" r="0.35"/><circle cx="639.6" cy="190.5" r="0.35"/><circle cx="643.5" cy="194.4" r="0.35"/><circle cx="632.1" cy="193.6" r="0.35"/><circle cx="633.7" cy="195.4" r="0.35"/><circle cx="651.7" cy="195.7" r="0.35"/><circle cx="633.9" cy="194.2" r="0.35"/><circle cx="638.9" cy="191.0" r="0.35"/><circle cx="638.5" cy="198.0" r="0.35"/><circle cx="639.8" cy="192.7" r="0.35"/><circle cx="633.4" cy="197.2" r="0.35"/><circle cx="637.8" cy="190.8" r="0.35"/><circle cx="636.4" cy="196.9" r="0.35"/></g>
<polygon points="647.6,191.5 651.1,188.0 654.6,186.3 658.6,185.7 662.7,186.3 665.1,189.2 665.7,193.9 664.5,197.4 661.6,199.1 656.9,198.5 653.4,197.4 649.9,195.0" fill="#ee857e" stroke="#ee857e" stroke-width="0.9" stroke-linejoin="round"/>
<g fill="#ee857e"><circle cx="652.1" cy="187.8" r="0.42"/><circle cx="658.9" cy="184.5" r="0.42"/><circle cx="653.9" cy="186.3" r="0.42"/><circle cx="651.2" cy="196.1" r="0.42"/><circle cx="650.6" cy="196.7" r="0.42"/><circle cx="656.4" cy="185.2" r="0.42"/><circle cx="655.2" cy="185.8" r="0.42"/><circle cx="655.1" cy="198.8" r="0.42"/><circle cx="665.7" cy="192.6" r="0.42"/><circle cx="647.6" cy="193.4" r="0.42"/><circle cx="664.4" cy="189.8" r="0.42"/><circle cx="661.2" cy="199.3" r="0.42"/><circle cx="661.4" cy="199.5" r="0.42"/><circle cx="649.1" cy="195.1" r="0.42"/><circle cx="648.9" cy="193.7" r="0.42"/><circle cx="662.0" cy="197.4" r="0.42"/><circle cx="647.1" cy="191.7" r="0.42"/><circle cx="659.9" cy="199.0" r="0.42"/><circle cx="652.7" cy="187.6" r="0.42"/><circle cx="654.4" cy="197.1" r="0.42"/><circle cx="650.4" cy="189.2" r="0.42"/><circle cx="658.2" cy="187.4" r="0.42"/><circle cx="667.0" cy="194.9" r="0.42"/><circle cx="663.0" cy="186.5" r="0.42"/><circle cx="662.3" cy="185.9" r="0.42"/><circle cx="666.2" cy="195.4" r="0.42"/><circle cx="649.6" cy="195.3" r="0.42"/><circle cx="655.1" cy="185.9" r="0.42"/><circle cx="663.6" cy="188.3" r="0.42"/><circle cx="663.4" cy="198.1" r="0.42"/><circle cx="663.8" cy="187.2" r="0.42"/><circle cx="651.1" cy="188.8" r="0.42"/><circle cx="650.1" cy="189.9" r="0.42"/><circle cx="661.2" cy="185.9" r="0.42"/><circle cx="662.8" cy="199.4" r="0.42"/><circle cx="650.9" cy="188.4" r="0.42"/><circle cx="653.5" cy="187.0" r="0.42"/><circle cx="650.5" cy="189.2" r="0.42"/><circle cx="665.0" cy="196.8" r="0.42"/><circle cx="650.1" cy="194.4" r="0.42"/><circle cx="663.7" cy="196.2" r="0.42"/><circle cx="659.6" cy="198.6" r="0.42"/><circle cx="660.4" cy="199.7" r="0.42"/><circle cx="652.5" cy="198.2" r="0.42"/></g>
<g fill="#fff" fill-opacity="0.45"><circle cx="663.8" cy="193.5" r="0.35"/><circle cx="654.1" cy="187.3" r="0.35"/><circle cx="660.1" cy="189.4" r="0.35"/><circle cx="662.8" cy="196.6" r="0.35"/><circle cx="651.3" cy="189.2" r="0.35"/><circle cx="654.0" cy="193.3" r="0.35"/><circle cx="660.8" cy="198.2" r="0.35"/><circle cx="648.2" cy="192.2" r="0.35"/><circle cx="659.3" cy="190.4" r="0.35"/><circle cx="659.9" cy="189.4" r="0.35"/><circle cx="659.7" cy="194.5" r="0.35"/><circle cx="653.4" cy="187.4" r="0.35"/><circle cx="661.8" cy="197.1" r="0.35"/><circle cx="657.2" cy="190.6" r="0.35"/><circle cx="657.9" cy="189.8" r="0.35"/><circle cx="664.0" cy="195.8" r="0.35"/><circle cx="651.1" cy="192.5" r="0.35"/><circle cx="659.1" cy="196.0" r="0.35"/><circle cx="658.9" cy="192.2" r="0.35"/><circle cx="653.4" cy="196.0" r="0.35"/><circle cx="661.7" cy="186.5" r="0.35"/><circle cx="665.1" cy="191.3" r="0.35"/><circle cx="652.2" cy="188.5" r="0.35"/><circle cx="660.0" cy="194.0" r="0.35"/><circle cx="664.2" cy="188.1" r="0.35"/></g>
<circle cx="634" cy="201" r="0.55" fill="#f373c7"/>
<circle cx="635.5" cy="203.5" r="0.55" fill="#f373c7"/>
<circle cx="636.5" cy="205.5" r="0.55" fill="#f373c7"/>
<circle cx="634.5" cy="205" r="0.55" fill="#f373c7"/>
<circle cx="633.5" cy="203" r="0.55" fill="#f373c7"/>
<polygon points="630.0,205.5 631.8,205.0 632.4,209.1 635.3,210.2 638.2,211.4 636.5,214.3 632.4,214.9 631.2,212.0" fill="#19b597" stroke="#19b597" stroke-width="0.9" stroke-linejoin="round"/>
<g fill="#19b597"><circle cx="637.6" cy="212.1" r="0.42"/><circle cx="633.5" cy="214.8" r="0.42"/><circle cx="632.6" cy="213.0" r="0.42"/><circle cx="631.8" cy="215.0" r="0.42"/><circle cx="636.8" cy="210.3" r="0.42"/><circle cx="632.1" cy="213.2" r="0.42"/><circle cx="637.2" cy="214.0" r="0.42"/><circle cx="632.6" cy="213.3" r="0.42"/><circle cx="630.6" cy="206.5" r="0.42"/><circle cx="632.7" cy="213.8" r="0.42"/><circle cx="630.5" cy="207.6" r="0.42"/><circle cx="636.1" cy="211.6" r="0.42"/><circle cx="637.8" cy="210.9" r="0.42"/><circle cx="636.7" cy="214.7" r="0.42"/><circle cx="632.7" cy="213.2" r="0.42"/><circle cx="631.9" cy="211.4" r="0.42"/><circle cx="632.0" cy="214.5" r="0.42"/><circle cx="633.9" cy="208.6" r="0.42"/><circle cx="632.3" cy="209.3" r="0.42"/><circle cx="631.8" cy="208.3" r="0.42"/><circle cx="630.8" cy="209.3" r="0.42"/><circle cx="633.8" cy="214.2" r="0.42"/><circle cx="632.8" cy="211.3" r="0.42"/><circle cx="631.7" cy="205.3" r="0.42"/><circle cx="631.0" cy="208.4" r="0.42"/><circle cx="630.6" cy="207.1" r="0.42"/></g>
<g fill="#fff" fill-opacity="0.45"><circle cx="637.2" cy="212.3" r="0.35"/><circle cx="634.1" cy="214.4" r="0.35"/><circle cx="635.1" cy="211.0" r="0.35"/><circle cx="633.4" cy="214.5" r="0.35"/><circle cx="631.1" cy="209.1" r="0.35"/></g>
<polygon points="536.8,212.7 540.3,210.1 545.4,210.5 547.9,214.4 547.1,218.7 546.2,222.1 540.3,223.8 536.0,224.6 535.1,221.2 536.0,217.0" fill="#e18956" stroke="#e18956" stroke-width="0.9" stroke-linejoin="round"/>
<g fill="#e18956"><circle cx="544.5" cy="210.1" r="0.42"/><circle cx="544.1" cy="222.1" r="0.42"/><circle cx="536.1" cy="224.0" r="0.42"/><circle cx="538.7" cy="222.8" r="0.42"/><circle cx="535.6" cy="220.2" r="0.42"/><circle cx="534.6" cy="221.7" r="0.42"/><circle cx="538.8" cy="225.3" r="0.42"/><circle cx="540.8" cy="223.5" r="0.42"/><circle cx="536.4" cy="214.7" r="0.42"/><circle cx="546.4" cy="220.5" r="0.42"/><circle cx="543.6" cy="210.2" r="0.42"/><circle cx="538.1" cy="212.7" r="0.42"/><circle cx="534.2" cy="220.6" r="0.42"/><circle cx="546.9" cy="214.0" r="0.42"/><circle cx="548.4" cy="216.4" r="0.42"/><circle cx="535.3" cy="217.1" r="0.42"/><circle cx="538.3" cy="212.5" r="0.42"/><circle cx="546.5" cy="218.2" r="0.42"/><circle cx="549.4" cy="213.9" r="0.42"/><circle cx="539.9" cy="211.0" r="0.42"/><circle cx="542.0" cy="223.4" r="0.42"/><circle cx="546.2" cy="219.3" r="0.42"/><circle cx="536.7" cy="223.1" r="0.42"/><circle cx="548.4" cy="214.7" r="0.42"/><circle cx="539.3" cy="224.8" r="0.42"/><circle cx="535.5" cy="219.5" r="0.42"/><circle cx="534.2" cy="223.6" r="0.42"/><circle cx="543.3" cy="224.7" r="0.42"/><circle cx="537.5" cy="213.7" r="0.42"/><circle cx="535.5" cy="221.1" r="0.42"/><circle cx="545.5" cy="223.6" r="0.42"/><circle cx="545.0" cy="221.1" r="0.42"/><circle cx="546.0" cy="220.2" r="0.42"/><circle cx="547.4" cy="217.5" r="0.42"/><circle cx="543.8" cy="223.9" r="0.42"/><circle cx="536.6" cy="213.2" r="0.42"/><circle cx="545.7" cy="223.8" r="0.42"/><circle cx="537.4" cy="214.2" r="0.42"/><circle cx="548.2" cy="215.8" r="0.42"/><circle cx="536.2" cy="214.9" r="0.42"/></g>
<g fill="#fff" fill-opacity="0.45"><circle cx="543.3" cy="222.9" r="0.35"/><circle cx="540.0" cy="217.8" r="0.35"/><circle cx="540.3" cy="217.5" r="0.35"/><circle cx="544.4" cy="212.3" r="0.35"/><circle cx="546.2" cy="217.1" r="0.35"/><circle cx="540.8" cy="221.7" r="0.35"/><circle cx="538.1" cy="217.6" r="0.35"/><circle cx="536.9" cy="223.0" r="0.35"/><circle cx="537.3" cy="212.6" r="0.35"/><circle cx="544.5" cy="215.6" r="0.35"/><circle cx="543.6" cy="216.3" r="0.35"/><circle cx="536.9" cy="217.1" r="0.35"/><circle cx="542.4" cy="212.3" r="0.35"/><circle cx="540.8" cy="219.9" r="0.35"/><circle cx="544.5" cy="212.1" r="0.35"/><circle cx="545.6" cy="215.3" r="0.35"/><circle cx="536.6" cy="213.7" r="0.35"/><circle cx="544.8" cy="211.6" r="0.35"/><circle cx="540.0" cy="223.7" r="0.35"/></g>
<circle cx="549" cy="221.5" r="0.5" fill="#e18956"/>
<circle cx="550.5" cy="222.3" r="0.5" fill="#e18956"/>
<polyline points="573.8,219.5 575.8,219.5" fill="none" stroke="#f47d9a" stroke-width="0.8" stroke-linecap="round" stroke-linejoin="round"/>
<polyline points="583.0,216.1 585.5,218.7 586.4,222.1 590.7,222.9 600.0,223.5" fill="none" stroke="#1dabe3" stroke-width="1.0" stroke-linecap="round" stroke-linejoin="round"/>
<polygon points="608.6,225.2 612.0,226.4 615.4,224.6 617.5,223.8 617.1,227.2 614.6,228.9 611.2,228.1" fill="#1ab3c2" stroke="#1ab3c2" stroke-width="0.9" stroke-linejoin="round"/>
<g fill="#1ab3c2"><circle cx="616.9" cy="227.5" r="0.42"/><circle cx="608.2" cy="226.0" r="0.42"/><circle cx="612.8" cy="224.2" r="0.42"/><circle cx="616.1" cy="227.9" r="0.42"/><circle cx="608.6" cy="225.9" r="0.42"/><circle cx="616.7" cy="225.0" r="0.42"/><circle cx="615.2" cy="227.7" r="0.42"/><circle cx="612.9" cy="224.5" r="0.42"/><circle cx="615.7" cy="224.9" r="0.42"/><circle cx="614.3" cy="226.0" r="0.42"/><circle cx="609.4" cy="226.7" r="0.42"/><circle cx="613.4" cy="225.2" r="0.42"/><circle cx="610.9" cy="224.9" r="0.42"/><circle cx="608.5" cy="226.9" r="0.42"/><circle cx="616.3" cy="224.8" r="0.42"/><circle cx="616.5" cy="224.1" r="0.42"/><circle cx="610.7" cy="226.8" r="0.42"/><circle cx="609.7" cy="227.2" r="0.42"/><circle cx="614.0" cy="225.5" r="0.42"/><circle cx="615.1" cy="229.1" r="0.42"/><circle cx="614.9" cy="229.2" r="0.42"/></g>
<g fill="#fff" fill-opacity="0.45"><circle cx="614.2" cy="226.0" r="0.35"/><circle cx="616.6" cy="224.6" r="0.35"/><circle cx="613.2" cy="227.4" r="0.35"/></g>
<polygon points="573.6,232.3 577.0,230.6 581.3,230.3 584.7,232.0 587.2,234.0 584.7,235.8 579.5,236.1 575.3,234.9" fill="#19b060" stroke="#19b060" stroke-width="0.9" stroke-linejoin="round"/>
<g fill="#19b060"><circle cx="580.8" cy="230.6" r="0.42"/><circle cx="574.1" cy="231.9" r="0.42"/><circle cx="576.5" cy="230.9" r="0.42"/><circle cx="584.2" cy="231.7" r="0.42"/><circle cx="580.7" cy="236.7" r="0.42"/><circle cx="579.2" cy="232.0" r="0.42"/><circle cx="577.8" cy="231.9" r="0.42"/><circle cx="578.3" cy="235.5" r="0.42"/><circle cx="587.4" cy="235.0" r="0.42"/><circle cx="572.6" cy="233.5" r="0.42"/><circle cx="585.0" cy="232.4" r="0.42"/><circle cx="577.5" cy="230.6" r="0.42"/><circle cx="582.9" cy="230.3" r="0.42"/><circle cx="584.6" cy="236.1" r="0.42"/><circle cx="580.0" cy="235.9" r="0.42"/><circle cx="573.8" cy="233.0" r="0.42"/><circle cx="573.1" cy="232.0" r="0.42"/><circle cx="583.6" cy="237.2" r="0.42"/><circle cx="579.8" cy="236.6" r="0.42"/><circle cx="584.3" cy="234.4" r="0.42"/><circle cx="574.7" cy="234.4" r="0.42"/><circle cx="584.7" cy="232.6" r="0.42"/><circle cx="580.7" cy="230.7" r="0.42"/><circle cx="581.0" cy="230.5" r="0.42"/><circle cx="576.4" cy="231.4" r="0.42"/><circle cx="579.8" cy="231.1" r="0.42"/><circle cx="581.3" cy="230.2" r="0.42"/></g>
<g fill="#fff" fill-opacity="0.45"><circle cx="578.0" cy="231.7" r="0.35"/><circle cx="578.7" cy="233.7" r="0.35"/><circle cx="583.7" cy="233.9" r="0.35"/><circle cx="582.7" cy="235.0" r="0.35"/><circle cx="580.3" cy="230.4" r="0.35"/><circle cx="579.6" cy="234.9" r="0.35"/><circle cx="577.8" cy="230.6" r="0.35"/></g>
<circle cx="554.8" cy="235.8" r="0.5" fill="#ec75d9"/>
<polyline points="604.5,247.4 608.9,245.7" fill="none" stroke="#ec75d9" stroke-width="1.3" stroke-linecap="round" stroke-linejoin="round"/>
<polygon points="646.3,237.6 648.6,238.3 651.6,240.6 653.9,241.4 650.9,242.1 648.6,242.1" fill="#ce88f5" stroke="#ce88f5" stroke-width="0.9" stroke-linejoin="round"/>
<g fill="#ce88f5"><circle cx="652.6" cy="241.4" r="0.42"/><circle cx="646.4" cy="238.2" r="0.42"/><circle cx="654.8" cy="242.9" r="0.42"/><circle cx="647.5" cy="241.9" r="0.42"/><circle cx="649.9" cy="237.6" r="0.42"/><circle cx="647.9" cy="240.6" r="0.42"/><circle cx="650.0" cy="239.9" r="0.42"/><circle cx="645.9" cy="239.6" r="0.42"/><circle cx="647.8" cy="241.1" r="0.42"/><circle cx="653.5" cy="242.2" r="0.42"/><circle cx="646.9" cy="237.7" r="0.42"/><circle cx="649.9" cy="242.1" r="0.42"/><circle cx="652.4" cy="240.8" r="0.42"/><circle cx="646.1" cy="238.4" r="0.42"/><circle cx="648.6" cy="239.1" r="0.42"/><circle cx="650.5" cy="239.0" r="0.42"/><circle cx="649.2" cy="240.4" r="0.42"/></g>
<g fill="#fff" fill-opacity="0.45"><circle cx="651.6" cy="241.1" r="0.35"/></g>
<polyline points="660.7,242.1 667.5,244.4" fill="none" stroke="#1dabe3" stroke-width="1.0" stroke-linecap="round" stroke-linejoin="round"/>
<polygon points="577.8,256.3 581.3,254.9 586.4,255.4 590.7,254.5 592.4,257.1 594.9,259.7 596.6,261.4 592.4,261.7 588.1,259.7 584.7,260.5 581.3,258.8 579.5,258.0" fill="#18ad31" stroke="#18ad31" stroke-width="0.9" stroke-linejoin="round"/>
<g fill="#18ad31"><circle cx="594.9" cy="261.2" r="0.42"/><circle cx="581.1" cy="256.0" r="0.42"/><circle cx="582.1" cy="258.7" r="0.42"/><circle cx="583.4" cy="254.8" r="0.42"/><circle cx="584.8" cy="253.8" r="0.42"/><circle cx="593.3" cy="262.7" r="0.42"/><circle cx="578.7" cy="255.6" r="0.42"/><circle cx="578.3" cy="255.8" r="0.42"/><circle cx="593.4" cy="261.8" r="0.42"/><circle cx="581.9" cy="259.4" r="0.42"/><circle cx="585.4" cy="254.7" r="0.42"/><circle cx="592.7" cy="261.3" r="0.42"/><circle cx="594.2" cy="261.0" r="0.42"/><circle cx="592.2" cy="257.4" r="0.42"/><circle cx="594.8" cy="260.8" r="0.42"/><circle cx="587.8" cy="254.4" r="0.42"/><circle cx="590.6" cy="254.6" r="0.42"/><circle cx="584.1" cy="259.2" r="0.42"/><circle cx="593.7" cy="261.3" r="0.42"/><circle cx="586.0" cy="255.4" r="0.42"/><circle cx="588.1" cy="259.5" r="0.42"/><circle cx="588.9" cy="261.1" r="0.42"/><circle cx="582.1" cy="255.5" r="0.42"/><circle cx="585.3" cy="255.0" r="0.42"/><circle cx="579.0" cy="256.6" r="0.42"/><circle cx="578.2" cy="255.1" r="0.42"/><circle cx="588.4" cy="259.0" r="0.42"/><circle cx="596.2" cy="261.5" r="0.42"/><circle cx="590.1" cy="254.7" r="0.42"/><circle cx="591.5" cy="257.2" r="0.42"/><circle cx="591.4" cy="261.2" r="0.42"/><circle cx="578.8" cy="257.0" r="0.42"/><circle cx="585.0" cy="261.9" r="0.42"/><circle cx="580.1" cy="254.4" r="0.42"/><circle cx="578.2" cy="256.4" r="0.42"/><circle cx="596.1" cy="263.2" r="0.42"/><circle cx="588.4" cy="260.5" r="0.42"/><circle cx="578.8" cy="256.6" r="0.42"/></g>
<g fill="#fff" fill-opacity="0.45"><circle cx="580.5" cy="257.9" r="0.35"/><circle cx="583.6" cy="257.0" r="0.35"/><circle cx="591.8" cy="260.2" r="0.35"/><circle cx="592.1" cy="259.7" r="0.35"/><circle cx="587.3" cy="257.4" r="0.35"/><circle cx="584.0" cy="260.0" r="0.35"/><circle cx="592.5" cy="258.5" r="0.35"/><circle cx="591.5" cy="255.8" r="0.35"/><circle cx="585.5" cy="258.7" r="0.35"/><circle cx="594.3" cy="260.2" r="0.35"/></g>
<polyline points="572.7,260.5 576.1,259.3" fill="none" stroke="#18ad31" stroke-width="0.9" stroke-linecap="round" stroke-linejoin="round"/>
<polygon points="549.6,259.7 553.1,258.0 557.3,258.3 560.8,260.5 564.2,261.4 561.6,263.9 560.8,268.2 558.2,266.5 554.8,265.7 550.5,264.8 548.8,262.2" fill="#83a317" stroke="#83a317" stroke-width="0.9" stroke-linejoin="round"/>
<g fill="#83a317"><circle cx="552.7" cy="258.7" r="0.42"/><circle cx="564.4" cy="261.6" r="0.42"/><circle cx="551.7" cy="264.7" r="0.42"/><circle cx="549.9" cy="266.1" r="0.42"/><circle cx="558.0" cy="259.2" r="0.42"/><circle cx="549.0" cy="259.4" r="0.42"/><circle cx="558.3" cy="266.1" r="0.42"/><circle cx="560.6" cy="268.6" r="0.42"/><circle cx="554.7" cy="265.7" r="0.42"/><circle cx="552.3" cy="265.6" r="0.42"/><circle cx="560.7" cy="267.2" r="0.42"/><circle cx="556.8" cy="257.4" r="0.42"/><circle cx="554.0" cy="258.4" r="0.42"/><circle cx="556.0" cy="264.9" r="0.42"/><circle cx="551.4" cy="264.2" r="0.42"/><circle cx="549.6" cy="263.0" r="0.42"/><circle cx="550.8" cy="258.8" r="0.42"/><circle cx="552.7" cy="264.9" r="0.42"/><circle cx="551.9" cy="266.2" r="0.42"/><circle cx="561.1" cy="260.6" r="0.42"/><circle cx="559.3" cy="266.1" r="0.42"/><circle cx="559.2" cy="266.7" r="0.42"/><circle cx="549.5" cy="260.4" r="0.42"/><circle cx="563.3" cy="262.8" r="0.42"/><circle cx="561.3" cy="258.2" r="0.42"/><circle cx="553.3" cy="258.3" r="0.42"/><circle cx="558.9" cy="258.6" r="0.42"/><circle cx="562.0" cy="261.7" r="0.42"/><circle cx="561.3" cy="266.2" r="0.42"/><circle cx="554.0" cy="264.9" r="0.42"/><circle cx="560.6" cy="262.6" r="0.42"/><circle cx="548.7" cy="261.9" r="0.42"/><circle cx="560.8" cy="260.5" r="0.42"/><circle cx="558.4" cy="267.1" r="0.42"/><circle cx="551.6" cy="259.8" r="0.42"/><circle cx="558.2" cy="268.1" r="0.42"/></g>
<g fill="#fff" fill-opacity="0.45"><circle cx="556.8" cy="258.9" r="0.35"/><circle cx="562.7" cy="262.7" r="0.35"/><circle cx="553.2" cy="260.4" r="0.35"/><circle cx="560.1" cy="267.4" r="0.35"/><circle cx="550.3" cy="262.2" r="0.35"/><circle cx="560.3" cy="267.4" r="0.35"/><circle cx="559.5" cy="266.5" r="0.35"/><circle cx="557.6" cy="260.2" r="0.35"/><circle cx="552.1" cy="264.8" r="0.35"/><circle cx="562.5" cy="262.2" r="0.35"/><circle cx="556.0" cy="261.8" r="0.35"/><circle cx="560.8" cy="262.2" r="0.35"/></g>
<polyline points="628.8,256.6 632.6,261.9" fill="none" stroke="#df7be9" stroke-width="1.5" stroke-linecap="round" stroke-linejoin="round"/>
<polygon points="625.8,267.2 630.4,264.9 634.9,264.2 641.0,262.6 645.5,261.9 650.1,264.2 651.6,266.4 648.6,269.5 642.5,271.0 636.4,272.5 630.4,271.0 627.3,269.2" fill="#d08b1b" stroke="#d08b1b" stroke-width="0.9" stroke-linejoin="round"/>
<g fill="#d08b1b"><circle cx="630.6" cy="264.3" r="0.42"/><circle cx="628.3" cy="268.5" r="0.42"/><circle cx="634.1" cy="271.9" r="0.42"/><circle cx="629.8" cy="265.7" r="0.42"/><circle cx="634.1" cy="271.3" r="0.42"/><circle cx="647.1" cy="262.1" r="0.42"/><circle cx="631.5" cy="271.0" r="0.42"/><circle cx="636.1" cy="272.9" r="0.42"/><circle cx="648.6" cy="270.2" r="0.42"/><circle cx="636.6" cy="272.2" r="0.42"/><circle cx="640.2" cy="263.7" r="0.42"/><circle cx="626.7" cy="266.2" r="0.42"/><circle cx="638.4" cy="271.9" r="0.42"/><circle cx="651.8" cy="266.2" r="0.42"/><circle cx="630.7" cy="271.1" r="0.42"/><circle cx="632.0" cy="264.5" r="0.42"/><circle cx="627.8" cy="268.9" r="0.42"/><circle cx="644.2" cy="270.7" r="0.42"/><circle cx="636.8" cy="263.5" r="0.42"/><circle cx="642.2" cy="272.0" r="0.42"/><circle cx="630.3" cy="265.1" r="0.42"/><circle cx="630.5" cy="270.2" r="0.42"/><circle cx="650.3" cy="267.5" r="0.42"/><circle cx="643.4" cy="262.3" r="0.42"/><circle cx="646.7" cy="270.3" r="0.42"/><circle cx="646.2" cy="270.1" r="0.42"/><circle cx="650.9" cy="267.6" r="0.42"/><circle cx="638.3" cy="272.0" r="0.42"/><circle cx="636.8" cy="270.4" r="0.42"/><circle cx="646.2" cy="270.5" r="0.42"/><circle cx="633.2" cy="263.4" r="0.42"/><circle cx="636.2" cy="272.5" r="0.42"/><circle cx="633.4" cy="271.3" r="0.42"/><circle cx="644.9" cy="270.6" r="0.42"/><circle cx="624.1" cy="267.2" r="0.42"/><circle cx="648.4" cy="264.6" r="0.42"/><circle cx="648.2" cy="264.0" r="0.42"/><circle cx="635.4" cy="273.1" r="0.42"/><circle cx="638.6" cy="263.4" r="0.42"/><circle cx="651.4" cy="266.9" r="0.42"/><circle cx="633.7" cy="271.4" r="0.42"/><circle cx="644.4" cy="271.2" r="0.42"/><circle cx="648.7" cy="263.6" r="0.42"/><circle cx="643.1" cy="270.1" r="0.42"/><circle cx="636.2" cy="270.8" r="0.42"/><circle cx="633.3" cy="264.8" r="0.42"/><circle cx="641.9" cy="270.0" r="0.42"/><circle cx="648.8" cy="264.5" r="0.42"/><circle cx="630.6" cy="270.6" r="0.42"/><circle cx="627.4" cy="267.2" r="0.42"/><circle cx="637.9" cy="272.6" r="0.42"/></g>
<g fill="#fff" fill-opacity="0.45"><circle cx="646.5" cy="267.6" r="0.35"/><circle cx="634.2" cy="265.0" r="0.35"/><circle cx="640.3" cy="270.6" r="0.35"/><circle cx="636.1" cy="270.6" r="0.35"/><circle cx="630.7" cy="269.8" r="0.35"/><circle cx="641.3" cy="263.7" r="0.35"/><circle cx="645.6" cy="264.6" r="0.35"/><circle cx="647.9" cy="264.9" r="0.35"/><circle cx="634.3" cy="266.8" r="0.35"/><circle cx="646.3" cy="265.8" r="0.35"/><circle cx="648.1" cy="266.1" r="0.35"/><circle cx="636.1" cy="266.7" r="0.35"/><circle cx="645.4" cy="264.5" r="0.35"/><circle cx="633.6" cy="268.6" r="0.35"/><circle cx="635.6" cy="268.2" r="0.35"/><circle cx="646.3" cy="266.8" r="0.35"/><circle cx="634.7" cy="268.5" r="0.35"/><circle cx="642.5" cy="266.5" r="0.35"/><circle cx="643.9" cy="268.8" r="0.35"/><circle cx="638.0" cy="271.2" r="0.35"/><circle cx="646.4" cy="266.4" r="0.35"/><circle cx="641.2" cy="270.7" r="0.35"/><circle cx="638.0" cy="265.4" r="0.35"/><circle cx="632.4" cy="264.7" r="0.35"/></g>
<polyline points="571.0,277.6 573.6,274.2" fill="none" stroke="#f377b2" stroke-width="1.0" stroke-linecap="round" stroke-linejoin="round"/>
<polygon points="561.6,281.9 566.7,280.2 571.0,278.5 572.7,281.9 571.9,287.0 570.2,292.1 566.7,292.1 563.3,288.7 560.8,284.4" fill="#9a9c17" stroke="#9a9c17" stroke-width="0.9" stroke-linejoin="round"/>
<g fill="#9a9c17"><circle cx="562.9" cy="283.2" r="0.42"/><circle cx="570.4" cy="278.7" r="0.42"/><circle cx="562.5" cy="285.8" r="0.42"/><circle cx="564.2" cy="282.2" r="0.42"/><circle cx="568.6" cy="280.6" r="0.42"/><circle cx="562.3" cy="285.4" r="0.42"/><circle cx="560.1" cy="284.1" r="0.42"/><circle cx="567.2" cy="291.4" r="0.42"/><circle cx="571.6" cy="288.6" r="0.42"/><circle cx="572.0" cy="278.9" r="0.42"/><circle cx="569.0" cy="279.1" r="0.42"/><circle cx="571.6" cy="287.1" r="0.42"/><circle cx="572.0" cy="290.7" r="0.42"/><circle cx="564.4" cy="281.0" r="0.42"/><circle cx="569.7" cy="292.1" r="0.42"/><circle cx="562.0" cy="284.7" r="0.42"/><circle cx="565.3" cy="290.0" r="0.42"/><circle cx="562.5" cy="286.7" r="0.42"/><circle cx="566.3" cy="291.3" r="0.42"/><circle cx="562.9" cy="287.2" r="0.42"/><circle cx="566.5" cy="293.2" r="0.42"/><circle cx="571.7" cy="286.1" r="0.42"/><circle cx="569.9" cy="280.2" r="0.42"/><circle cx="564.1" cy="288.9" r="0.42"/><circle cx="564.6" cy="291.6" r="0.42"/><circle cx="563.8" cy="287.8" r="0.42"/><circle cx="563.0" cy="281.6" r="0.42"/><circle cx="569.1" cy="278.8" r="0.42"/><circle cx="561.6" cy="282.5" r="0.42"/><circle cx="564.3" cy="290.5" r="0.42"/><circle cx="565.7" cy="291.1" r="0.42"/><circle cx="572.5" cy="288.6" r="0.42"/><circle cx="561.8" cy="282.2" r="0.42"/><circle cx="564.2" cy="290.2" r="0.42"/><circle cx="565.3" cy="291.3" r="0.42"/><circle cx="563.0" cy="281.8" r="0.42"/></g>
<g fill="#fff" fill-opacity="0.45"><circle cx="565.8" cy="285.8" r="0.35"/><circle cx="567.7" cy="281.8" r="0.35"/><circle cx="568.2" cy="290.6" r="0.35"/><circle cx="565.5" cy="282.5" r="0.35"/><circle cx="566.2" cy="280.8" r="0.35"/><circle cx="564.8" cy="286.1" r="0.35"/><circle cx="567.3" cy="280.0" r="0.35"/><circle cx="570.6" cy="283.9" r="0.35"/><circle cx="567.7" cy="284.7" r="0.35"/><circle cx="566.6" cy="288.0" r="0.35"/><circle cx="569.5" cy="285.1" r="0.35"/><circle cx="566.6" cy="281.0" r="0.35"/><circle cx="569.0" cy="281.2" r="0.35"/><circle cx="564.2" cy="285.4" r="0.35"/><circle cx="563.3" cy="285.6" r="0.35"/></g>
<text x="577.0" y="167.1" font-size="8.2" fill="#333" text-anchor="start" font-weight="normal">14</text>
<text x="553.5" y="177.9" font-size="8.2" fill="#333" text-anchor="start" font-weight="normal">10</text>
<text x="572.4" y="182.4" font-size="8.2" fill="#333" text-anchor="start" font-weight="normal">12</text>
<text x="537.6" y="191.5" font-size="8.2" fill="#333" text-anchor="start" font-weight="normal">18</text>
<text x="583.8" y="198.9" font-size="8.2" fill="#333" text-anchor="start" font-weight="normal">17</text>
<text x="601.4" y="170.0" font-size="8.2" fill="#333" text-anchor="start" font-weight="normal">16</text>
<text x="622.05" y="171.79999999999998" font-size="8.2" fill="#333" text-anchor="start" font-weight="normal">7</text>
<text x="636.65" y="187.5" font-size="8.2" fill="#333" text-anchor="start" font-weight="normal">4</text>
<text x="615.05" y="192.6" font-size="8.2" fill="#333" text-anchor="start" font-weight="normal">3</text>
<text x="660.05" y="186.7" font-size="8.2" fill="#333" text-anchor="start" font-weight="normal">0</text>
<text x="637.25" y="206.79999999999998" font-size="8.2" fill="#333" text-anchor="start" font-weight="normal">22</text>
<text x="635.9" y="220.1" font-size="8.2" fill="#333" text-anchor="start" font-weight="normal">11</text>
<text x="533.6999999999999" y="212.7" font-size="8.2" fill="#333" text-anchor="start" font-weight="normal">1</text>
<text x="567.25" y="217.9" font-size="8.2" fill="#333" text-anchor="start" font-weight="normal">24</text>
<text x="586.1" y="220.79999999999998" font-size="8.2" fill="#333" text-anchor="start" font-weight="normal">15</text>
<text x="605.9" y="224.2" font-size="8.2" fill="#333" text-anchor="start" font-weight="normal">13</text>
<text x="568.9499999999999" y="235.29999999999998" font-size="8.2" fill="#333" text-anchor="start" font-weight="normal">9</text>
<text x="603.15" y="244.4" font-size="8.2" fill="#333" text-anchor="start" font-weight="normal">21</text>
<text x="648.3" y="239.5" font-size="8.2" fill="#333" text-anchor="start" font-weight="normal">19</text>
<text x="585.15" y="254.1" font-size="8.2" fill="#333" text-anchor="start" font-weight="normal">8</text>
<text x="544.65" y="264.0" font-size="8.2" fill="#333" text-anchor="start" font-weight="normal">6</text>
<text x="632.05" y="257.90000000000003" font-size="8.2" fill="#333" text-anchor="start" font-weight="normal">20</text>
<text x="642.35" y="277.6" font-size="8.2" fill="#333" text-anchor="start" font-weight="normal">2</text>
<text x="573.25" y="279.40000000000003" font-size="8.2" fill="#333" text-anchor="start" font-weight="normal">23</text>
<text x="556.9499999999999" y="290.5" font-size="8.2" fill="#333" text-anchor="start" font-weight="normal">5</text>
<line x1="14.7" y1="295.5" x2="14.7" y2="274.0" stroke="#2a2a2a" stroke-width="0.9"/>
<line x1="14.7" y1="295.5" x2="36.3" y2="295.5" stroke="#2a2a2a" stroke-width="0.9"/>
<path d="M14.7,271.5 L13.0,275.1 L16.4,275.1 Z" fill="#2a2a2a" stroke="none" stroke-width="1"/>
<path d="M38.8,295.5 L35.199999999999996,293.8 L35.199999999999996,297.2 Z" fill="#2a2a2a" stroke="none" stroke-width="1"/>
<text transform="translate(12.5,295.7) rotate(-90)" font-size="5.9" fill="#444" textLength="19" lengthAdjust="spacingAndGlyphs">UMAP1</text>
<text x="14.899999999999999" y="302.2" font-size="5.9" fill="#444" text-anchor="start" font-weight="normal" textLength="19.3" lengthAdjust="spacingAndGlyphs">UMAP2</text>
<line x1="351.8" y1="295.4" x2="351.8" y2="274.1" stroke="#2a2a2a" stroke-width="0.9"/>
<line x1="351.8" y1="295.4" x2="373.2" y2="295.4" stroke="#2a2a2a" stroke-width="0.9"/>
<path d="M351.8,271.6 L350.1,275.20000000000005 L353.5,275.20000000000005 Z" fill="#2a2a2a" stroke="none" stroke-width="1"/>
<path d="M375.7,295.4 L372.09999999999997,293.7 L372.09999999999997,297.09999999999997 Z" fill="#2a2a2a" stroke="none" stroke-width="1"/>
<text transform="translate(349.6,295.59999999999997) rotate(-90)" font-size="5.9" fill="#444" textLength="19" lengthAdjust="spacingAndGlyphs">UMAP1</text>
<text x="352.0" y="302.09999999999997" font-size="5.9" fill="#444" text-anchor="start" font-weight="normal" textLength="19.3" lengthAdjust="spacingAndGlyphs">UMAP2</text>
<text x="-0.9" y="326.6" font-size="12.8" fill="#000" text-anchor="start" font-weight="bold" stroke="#000" stroke-width="0.3">d</text>
<text x="151.0" y="325.5" font-size="12.8" fill="#000" text-anchor="start" font-weight="bold" stroke="#000" stroke-width="0.3">f</text>
<text x="342.0" y="324.3" font-size="12.8" fill="#000" text-anchor="start" font-weight="bold" stroke="#000" stroke-width="0.3">g</text>
<text x="489.6" y="325.7" font-size="12.8" fill="#000" text-anchor="start" font-weight="bold" stroke="#000" stroke-width="0.3">i</text>
<text x="-0.6" y="470.4" font-size="12.8" fill="#000" text-anchor="start" font-weight="bold" stroke="#000" stroke-width="0.3">e</text>
<text x="342.0" y="469.9" font-size="12.8" fill="#000" text-anchor="start" font-weight="bold" stroke="#000" stroke-width="0.3">h</text>
<text x="15.8" y="335.2" font-size="8.8" fill="#2e2e2e" text-anchor="start" font-weight="normal" textLength="39.2" lengthAdjust="spacingAndGlyphs">PID15-ECs</text>
<circle cx="105.5" cy="331.7" r="2.4" fill="#e47a78"/>
<text x="109.6" y="334.4" font-size="8.0" fill="#2e2e2e" text-anchor="start" font-weight="normal" textLength="12.3" lengthAdjust="spacingAndGlyphs">Ctrl</text>
<circle cx="105.5" cy="341.7" r="2.4" fill="#36b6c1"/>
<text x="109.6" y="344.6" font-size="8.0" fill="#2e2e2e" text-anchor="start" font-weight="normal" textLength="20.5" lengthAdjust="spacingAndGlyphs">bAVM</text>
<circle cx="36.0" cy="344.9" r="1.1" fill="#2ab3bf"/>
<circle cx="34.9" cy="348.3" r="1.1" fill="#2ab3bf"/>
<circle cx="58.8" cy="343.5" r="1.1" fill="#2ab3bf"/>
<circle cx="44.9" cy="347.9" r="1.1" fill="#2ab3bf"/>
<circle cx="54.4" cy="354.7" r="1.1" fill="#2ab3bf"/>
<circle cx="34.1" cy="356.3" r="1.1" fill="#2ab3bf"/>
<circle cx="80.0" cy="357.4" r="1.1" fill="#2ab3bf"/>
<circle cx="81.9" cy="356.8" r="1.1" fill="#2ab3bf"/>
<circle cx="83.4" cy="353.0" r="1.1" fill="#2ab3bf"/>
<circle cx="86.1" cy="358.1" r="1.1" fill="#2ab3bf"/>
<circle cx="83.8" cy="363.1" r="1.1" fill="#2ab3bf"/>
<circle cx="97.1" cy="356.3" r="1.1" fill="#2ab3bf"/>
<circle cx="108.5" cy="358.7" r="1.1" fill="#2ab3bf"/>
<circle cx="112.3" cy="358.7" r="1.1" fill="#2ab3bf"/>
<circle cx="111.3" cy="360.6" r="1.1" fill="#2ab3bf"/>
<circle cx="108.5" cy="365.0" r="1.1" fill="#2ab3bf"/>
<circle cx="115.1" cy="366.3" r="1.1" fill="#2ab3bf"/>
<circle cx="101.9" cy="366.3" r="1.1" fill="#2ab3bf"/>
<circle cx="96.2" cy="368.2" r="1.1" fill="#2ab3bf"/>
<circle cx="102.8" cy="369.7" r="1.1" fill="#2ab3bf"/>
<circle cx="114.2" cy="369.2" r="1.1" fill="#2ab3bf"/>
<circle cx="111.3" cy="372.0" r="1.1" fill="#2ab3bf"/>
<circle cx="106.6" cy="373.9" r="1.1" fill="#2ab3bf"/>
<circle cx="108.5" cy="376.4" r="1.1" fill="#2ab3bf"/>
<circle cx="100.9" cy="375.8" r="1.1" fill="#2ab3bf"/>
<circle cx="104.7" cy="379.6" r="1.1" fill="#2ab3bf"/>
<circle cx="111.3" cy="373.9" r="1.1" fill="#2ab3bf"/>
<circle cx="114.2" cy="375.8" r="1.1" fill="#2ab3bf"/>
<circle cx="119.9" cy="373.9" r="1.1" fill="#2ab3bf"/>
<circle cx="121.8" cy="373.3" r="1.1" fill="#2ab3bf"/>
<circle cx="118.0" cy="379.0" r="1.1" fill="#2ab3bf"/>
<circle cx="119.9" cy="378.3" r="1.1" fill="#2ab3bf"/>
<circle cx="110.4" cy="386.2" r="1.1" fill="#2ab3bf"/>
<circle cx="112.3" cy="385.3" r="1.1" fill="#2ab3bf"/>
<circle cx="103.7" cy="380.5" r="1.1" fill="#2ab3bf"/>
<circle cx="96.2" cy="384.0" r="1.1" fill="#2ab3bf"/>
<circle cx="98.1" cy="385.3" r="1.1" fill="#2ab3bf"/>
<circle cx="101.9" cy="389.1" r="1.1" fill="#2ab3bf"/>
<circle cx="107.5" cy="391.5" r="1.1" fill="#2ab3bf"/>
<circle cx="102.8" cy="392.9" r="1.1" fill="#2ab3bf"/>
<circle cx="100.0" cy="395.7" r="1.1" fill="#2ab3bf"/>
<circle cx="102.8" cy="398.6" r="1.1" fill="#2ab3bf"/>
<circle cx="101.9" cy="401.8" r="1.1" fill="#2ab3bf"/>
<circle cx="104.7" cy="401.8" r="1.1" fill="#2ab3bf"/>
<circle cx="42.1" cy="377.7" r="1.1" fill="#2ab3bf"/>
<circle cx="46.8" cy="380.5" r="1.1" fill="#2ab3bf"/>
<circle cx="50.6" cy="373.0" r="1.1" fill="#2ab3bf"/>
<circle cx="54.4" cy="379.0" r="1.1" fill="#2ab3bf"/>
<circle cx="56.3" cy="382.4" r="1.1" fill="#2ab3bf"/>
<circle cx="58.8" cy="380.2" r="1.1" fill="#2ab3bf"/>
<circle cx="41.7" cy="393.4" r="1.1" fill="#2ab3bf"/>
<circle cx="49.7" cy="390.0" r="1.1" fill="#2ab3bf"/>
<circle cx="57.6" cy="393.8" r="1.1" fill="#2ab3bf"/>
<circle cx="48.1" cy="408.1" r="1.1" fill="#2ab3bf"/>
<circle cx="53.5" cy="404.8" r="1.1" fill="#2ab3bf"/>
<circle cx="58.2" cy="401.4" r="1.1" fill="#2ab3bf"/>
<circle cx="58.2" cy="405.6" r="1.1" fill="#2ab3bf"/>
<circle cx="61.4" cy="410.0" r="1.1" fill="#2ab3bf"/>
<circle cx="64.3" cy="409.6" r="1.1" fill="#2ab3bf"/>
<circle cx="64.8" cy="397.6" r="1.1" fill="#2ab3bf"/>
<circle cx="63.9" cy="395.7" r="1.1" fill="#2ab3bf"/>
<circle cx="63.0" cy="401.4" r="1.1" fill="#2ab3bf"/>
<circle cx="67.1" cy="400.5" r="1.1" fill="#2ab3bf"/>
<circle cx="65.8" cy="406.2" r="1.1" fill="#2ab3bf"/>
<circle cx="69.6" cy="408.1" r="1.1" fill="#2ab3bf"/>
<circle cx="70.9" cy="402.4" r="1.1" fill="#2ab3bf"/>
<circle cx="71.5" cy="404.8" r="1.1" fill="#2ab3bf"/>
<circle cx="75.3" cy="402.4" r="1.1" fill="#2ab3bf"/>
<circle cx="74.0" cy="395.7" r="1.1" fill="#2ab3bf"/>
<circle cx="67.7" cy="391.5" r="1.1" fill="#2ab3bf"/>
<circle cx="69.0" cy="397.2" r="1.1" fill="#2ab3bf"/>
<circle cx="65.2" cy="382.1" r="1.1" fill="#2ab3bf"/>
<circle cx="69.0" cy="377.7" r="1.1" fill="#2ab3bf"/>
<circle cx="69.6" cy="379.6" r="1.1" fill="#2ab3bf"/>
<circle cx="65.2" cy="386.6" r="1.1" fill="#2ab3bf"/>
<circle cx="70.5" cy="369.7" r="1.1" fill="#2ab3bf"/>
<circle cx="72.4" cy="367.3" r="1.1" fill="#2ab3bf"/>
<circle cx="73.4" cy="373.0" r="1.1" fill="#2ab3bf"/>
<circle cx="75.9" cy="372.4" r="1.1" fill="#2ab3bf"/>
<circle cx="74.7" cy="384.7" r="1.1" fill="#2ab3bf"/>
<circle cx="77.2" cy="384.0" r="1.1" fill="#2ab3bf"/>
<circle cx="81.0" cy="384.0" r="1.1" fill="#2ab3bf"/>
<circle cx="81.9" cy="374.8" r="1.1" fill="#2ab3bf"/>
<circle cx="83.8" cy="373.9" r="1.1" fill="#2ab3bf"/>
<circle cx="85.7" cy="370.7" r="1.1" fill="#2ab3bf"/>
<circle cx="80.0" cy="370.1" r="1.1" fill="#2ab3bf"/>
<circle cx="81.9" cy="396.7" r="1.1" fill="#2ab3bf"/>
<circle cx="84.8" cy="391.9" r="1.1" fill="#2ab3bf"/>
<circle cx="85.7" cy="391.0" r="1.1" fill="#2ab3bf"/>
<circle cx="87.6" cy="395.7" r="1.1" fill="#2ab3bf"/>
<circle cx="88.6" cy="379.6" r="1.1" fill="#2ab3bf"/>
<circle cx="90.5" cy="385.3" r="1.1" fill="#2ab3bf"/>
<circle cx="78.7" cy="386.2" r="1.1" fill="#2ab3bf"/>
<circle cx="72.4" cy="388.1" r="1.1" fill="#2ab3bf"/>
<circle cx="75.3" cy="389.6" r="1.1" fill="#2ab3bf"/>
<circle cx="76.2" cy="389.1" r="1.1" fill="#2ab3bf"/>
<circle cx="79.1" cy="389.1" r="1.1" fill="#2ab3bf"/>
<circle cx="81.0" cy="390.0" r="1.1" fill="#2ab3bf"/>
<circle cx="85.3" cy="404.3" r="1.1" fill="#2ab3bf"/>
<circle cx="79.1" cy="404.3" r="1.1" fill="#2ab3bf"/>
<circle cx="82.9" cy="399.5" r="1.1" fill="#2ab3bf"/>
<circle cx="70.9" cy="420.4" r="1.1" fill="#2ab3bf"/>
<circle cx="73.4" cy="421.3" r="1.1" fill="#2ab3bf"/>
<circle cx="75.3" cy="423.2" r="1.1" fill="#2ab3bf"/>
<circle cx="75.9" cy="425.7" r="1.1" fill="#2ab3bf"/>
<circle cx="79.1" cy="425.1" r="1.1" fill="#2ab3bf"/>
<circle cx="80.0" cy="424.8" r="1.1" fill="#2ab3bf"/>
<circle cx="81.9" cy="414.7" r="1.1" fill="#2ab3bf"/>
<circle cx="85.7" cy="417.0" r="1.1" fill="#2ab3bf"/>
<circle cx="85.7" cy="422.9" r="1.1" fill="#2ab3bf"/>
<circle cx="78.1" cy="420.4" r="1.1" fill="#2ab3bf"/>
<circle cx="95.2" cy="383.4" r="1.1" fill="#2ab3bf"/>
<circle cx="106.6" cy="380.5" r="1.1" fill="#2ab3bf"/>
<circle cx="100.0" cy="388.1" r="1.1" fill="#2ab3bf"/>
<circle cx="116.1" cy="373.0" r="1.1" fill="#2ab3bf"/>
<circle cx="90.5" cy="380.5" r="1.1" fill="#2ab3bf"/>
<circle cx="93.3" cy="373.0" r="1.1" fill="#2ab3bf"/>
<circle cx="54.4" cy="390.0" r="1.1" fill="#2ab3bf"/>
<circle cx="51.6" cy="397.6" r="1.1" fill="#2ab3bf"/>
<circle cx="42.1" cy="343.5" r="1.1" fill="#e8706a"/>
<circle cx="46.8" cy="342.0" r="1.1" fill="#e8706a"/>
<circle cx="53.5" cy="343.0" r="1.1" fill="#e8706a"/>
<circle cx="39.2" cy="345.4" r="1.1" fill="#e8706a"/>
<circle cx="44.0" cy="346.4" r="1.1" fill="#e8706a"/>
<circle cx="50.6" cy="347.3" r="1.1" fill="#e8706a"/>
<circle cx="35.4" cy="348.3" r="1.1" fill="#e8706a"/>
<circle cx="40.2" cy="348.7" r="1.1" fill="#e8706a"/>
<circle cx="43.0" cy="350.2" r="1.1" fill="#e8706a"/>
<circle cx="47.8" cy="349.8" r="1.1" fill="#e8706a"/>
<circle cx="31.6" cy="355.5" r="1.1" fill="#e8706a"/>
<circle cx="35.4" cy="354.0" r="1.1" fill="#e8706a"/>
<circle cx="39.2" cy="354.5" r="1.1" fill="#e8706a"/>
<circle cx="41.7" cy="351.7" r="1.1" fill="#e8706a"/>
<circle cx="44.0" cy="354.9" r="1.1" fill="#e8706a"/>
<circle cx="45.9" cy="356.8" r="1.1" fill="#e8706a"/>
<circle cx="49.7" cy="356.8" r="1.1" fill="#e8706a"/>
<circle cx="33.5" cy="361.6" r="1.1" fill="#e8706a"/>
<circle cx="36.4" cy="359.7" r="1.1" fill="#e8706a"/>
<circle cx="40.2" cy="359.7" r="1.1" fill="#e8706a"/>
<circle cx="43.0" cy="357.8" r="1.1" fill="#e8706a"/>
<circle cx="52.5" cy="361.2" r="1.1" fill="#e8706a"/>
<circle cx="37.3" cy="366.3" r="1.1" fill="#e8706a"/>
<circle cx="41.1" cy="363.1" r="1.1" fill="#e8706a"/>
<circle cx="45.9" cy="368.2" r="1.1" fill="#e8706a"/>
<circle cx="65.8" cy="358.7" r="1.1" fill="#e8706a"/>
<circle cx="72.1" cy="363.1" r="1.1" fill="#e8706a"/>
<circle cx="75.9" cy="360.2" r="1.1" fill="#e8706a"/>
<circle cx="98.1" cy="354.7" r="1.1" fill="#e8706a"/>
<circle cx="39.8" cy="391.0" r="1.1" fill="#e8706a"/>
<circle cx="41.1" cy="395.7" r="1.1" fill="#e8706a"/>
<circle cx="43.0" cy="397.6" r="1.1" fill="#e8706a"/>
<circle cx="44.0" cy="401.0" r="1.1" fill="#e8706a"/>
<circle cx="45.9" cy="403.3" r="1.1" fill="#e8706a"/>
<circle cx="46.8" cy="405.6" r="1.1" fill="#e8706a"/>
<circle cx="48.7" cy="399.1" r="1.1" fill="#e8706a"/>
<circle cx="43.4" cy="385.9" r="1.1" fill="#e8706a"/>
<circle cx="81.9" cy="388.7" r="1.1" fill="#e8706a"/>
<circle cx="77.8" cy="428.9" r="1.1" fill="#e8706a"/>
<circle cx="36.8" cy="357.8" r="1.1" fill="#e8706a"/>
<circle cx="38.3" cy="351.7" r="1.1" fill="#e8706a"/>
<circle cx="49.7" cy="351.7" r="1.1" fill="#e8706a"/>
<circle cx="55.4" cy="367.3" r="1.1" fill="#e8706a"/>
<line x1="27.6" y1="337.3" x2="27.6" y2="433.2" stroke="#5a5a5a" stroke-width="0.8"/>
<line x1="27.6" y1="433.2" x2="125.5" y2="433.2" stroke="#5a5a5a" stroke-width="0.8"/>
<line x1="24.8" y1="352.7" x2="27.6" y2="352.7" stroke="#5a5a5a" stroke-width="0.7"/>
<text x="21.5" y="355.8" font-size="8.3" fill="#3a3a3a" text-anchor="end" font-weight="normal">2</text>
<line x1="24.8" y1="380.3" x2="27.6" y2="380.3" stroke="#5a5a5a" stroke-width="0.7"/>
<text x="21.5" y="383.40000000000003" font-size="8.3" fill="#3a3a3a" text-anchor="end" font-weight="normal">0</text>
<line x1="24.8" y1="408.9" x2="27.6" y2="408.9" stroke="#5a5a5a" stroke-width="0.7"/>
<text x="21.5" y="412.0" font-size="8.3" fill="#3a3a3a" text-anchor="end" font-weight="normal">-2</text>
<line x1="50.8" y1="433.2" x2="50.8" y2="435.8" stroke="#5a5a5a" stroke-width="0.7"/>
<text x="50.8" y="444.59999999999997" font-size="8.3" fill="#3a3a3a" text-anchor="middle" font-weight="normal">-2</text>
<line x1="74.5" y1="433.2" x2="74.5" y2="435.8" stroke="#5a5a5a" stroke-width="0.7"/>
<text x="74.5" y="444.59999999999997" font-size="8.3" fill="#3a3a3a" text-anchor="middle" font-weight="normal">0</text>
<line x1="97.6" y1="433.2" x2="97.6" y2="435.8" stroke="#5a5a5a" stroke-width="0.7"/>
<text x="97.6" y="444.59999999999997" font-size="8.3" fill="#3a3a3a" text-anchor="middle" font-weight="normal">2</text>
<line x1="121.3" y1="433.2" x2="121.3" y2="435.8" stroke="#5a5a5a" stroke-width="0.7"/>
<text x="121.3" y="444.59999999999997" font-size="8.3" fill="#3a3a3a" text-anchor="middle" font-weight="normal">4</text>
<text x="62.2" y="457.6" font-size="9.2" fill="#3a3a3a" text-anchor="start" font-weight="normal" textLength="27" lengthAdjust="spacingAndGlyphs">UMAP1</text>
<text transform="translate(7.7,399.5) rotate(-90)" font-size="9.0" fill="#3a3a3a" textLength="27.8" lengthAdjust="spacingAndGlyphs">UMAP2</text>
<polygon points="26.1,475.50 26.5,475.58 26.8,475.81 27.2,476.15 27.6,476.55 27.9,476.95 28.3,477.29 28.6,477.52 29.0,477.60 29.4,477.68 29.8,477.91 30.1,478.25 30.5,478.65 30.9,479.05 31.2,479.39 31.6,479.62 32.0,479.70 32.5,479.65 33.0,479.49 33.5,479.27 34.0,479.00 34.5,478.73 35.0,478.51 35.5,478.35 36.0,478.30 36.6,478.25 37.2,478.12 37.8,477.93 38.5,477.70 39.1,477.47 39.7,477.28 40.3,477.15 40.9,477.10 41.5,477.15 42.2,477.28 42.8,477.47 43.5,477.70 44.1,477.93 44.7,478.12 45.4,478.25 46.0,478.30 46.6,478.36 47.2,478.53 47.9,478.79 48.5,479.10 49.1,479.41 49.8,479.67 50.4,479.84 51.0,479.90 51.4,479.94 51.9,480.05 52.3,480.21 52.8,480.40 53.2,480.59 53.6,480.75 54.1,480.86 54.5,480.90 54.5,481.30 54.1,481.34 53.6,481.45 53.2,481.61 52.8,481.80 52.3,481.99 51.9,482.15 51.4,482.26 51.0,482.30 50.4,482.36 49.8,482.53 49.1,482.79 48.5,483.10 47.9,483.41 47.2,483.67 46.6,483.84 46.0,483.90 45.4,483.95 44.7,484.08 44.1,484.27 43.5,484.50 42.8,484.73 42.2,484.92 41.5,485.05 40.9,485.10 40.3,485.05 39.7,484.92 39.1,484.73 38.5,484.50 37.8,484.27 37.2,484.08 36.6,483.95 36.0,483.90 35.5,483.85 35.0,483.69 34.5,483.47 34.0,483.20 33.5,482.93 33.0,482.71 32.5,482.55 32.0,482.50 31.6,482.58 31.2,482.81 30.9,483.15 30.5,483.55 30.1,483.95 29.8,484.29 29.4,484.52 29.0,484.60 28.6,484.68 28.3,484.91 27.9,485.25 27.6,485.65 27.2,486.05 26.8,486.39 26.5,486.62 26.1,486.70" fill="#ef6f69" stroke="#333" stroke-width="0.45" stroke-linejoin="round"/>
<polygon points="26.1,488.30 26.5,488.39 26.8,488.64 27.2,489.01 27.6,489.45 27.9,489.89 28.3,490.26 28.6,490.51 29.0,490.60 29.4,490.66 29.8,490.83 30.1,491.09 30.5,491.40 30.9,491.71 31.2,491.97 31.6,492.14 32.0,492.20 32.8,492.20 33.5,492.20 34.2,492.20 35.0,492.20 35.8,492.20 36.5,492.20 37.2,492.20 38.0,492.20 38.9,492.18 39.8,492.14 40.6,492.08 41.5,492.00 42.4,491.92 43.2,491.86 44.1,491.82 45.0,491.80 45.9,491.82 46.8,491.86 47.6,491.92 48.5,492.00 49.4,492.08 50.2,492.14 51.1,492.18 52.0,492.20 52.8,492.22 53.5,492.27 54.2,492.35 55.0,492.45 55.8,492.55 56.5,492.63 57.2,492.68 58.0,492.70 58.4,492.72 58.9,492.76 59.3,492.82 59.7,492.90 60.1,492.98 60.5,493.04 61.0,493.08 61.4,493.10 61.4,494.10 61.0,494.12 60.5,494.16 60.1,494.22 59.7,494.30 59.3,494.38 58.9,494.44 58.4,494.48 58.0,494.50 57.2,494.52 56.5,494.57 55.8,494.65 55.0,494.75 54.2,494.85 53.5,494.93 52.8,494.98 52.0,495.00 51.1,495.02 50.2,495.06 49.4,495.12 48.5,495.20 47.6,495.28 46.8,495.34 45.9,495.38 45.0,495.40 44.1,495.38 43.2,495.34 42.4,495.28 41.5,495.20 40.6,495.12 39.8,495.06 38.9,495.02 38.0,495.00 37.2,495.00 36.5,495.00 35.8,495.00 35.0,495.00 34.2,495.00 33.5,495.00 32.8,495.00 32.0,495.00 31.6,495.06 31.2,495.23 30.9,495.49 30.5,495.80 30.1,496.11 29.8,496.37 29.4,496.54 29.0,496.60 28.6,496.69 28.3,496.94 27.9,497.31 27.6,497.75 27.2,498.19 26.8,498.56 26.5,498.81 26.1,498.90" fill="#ef6f69" stroke="#333" stroke-width="0.45" stroke-linejoin="round"/>
<polygon points="61.4,477.90 61.8,477.94 62.2,478.05 62.6,478.21 63.0,478.40 63.3,478.59 63.7,478.75 64.1,478.86 64.5,478.90 65.0,478.94 65.4,479.05 65.9,479.21 66.3,479.40 66.8,479.59 67.3,479.75 67.7,479.86 68.2,479.90 68.8,479.81 69.4,479.56 70.0,479.19 70.6,478.75 71.2,478.31 71.8,477.94 72.4,477.69 73.0,477.60 73.9,477.52 74.8,477.29 75.7,476.95 76.6,476.55 77.5,476.15 78.4,475.81 79.3,475.58 80.2,475.50 81.0,475.58 81.9,475.82 82.8,476.18 83.6,476.60 84.5,477.02 85.3,477.38 86.2,477.62 87.0,477.70 87.6,477.78 88.2,478.02 88.9,478.38 89.5,478.80 90.1,479.22 90.8,479.58 91.4,479.82 92.0,479.90 92.5,479.93 93.1,480.03 93.7,480.18 94.2,480.35 94.8,480.52 95.3,480.67 95.9,480.77 96.4,480.80 96.4,481.40 95.9,481.43 95.3,481.53 94.8,481.68 94.2,481.85 93.7,482.02 93.1,482.17 92.5,482.27 92.0,482.30 91.4,482.38 90.8,482.62 90.1,482.98 89.5,483.40 88.9,483.82 88.2,484.18 87.6,484.42 87.0,484.50 86.2,484.58 85.3,484.82 84.5,485.18 83.6,485.60 82.8,486.02 81.9,486.38 81.0,486.62 80.2,486.70 79.3,486.62 78.4,486.39 77.5,486.05 76.6,485.65 75.7,485.25 74.8,484.91 73.9,484.68 73.0,484.60 72.4,484.51 71.8,484.26 71.2,483.89 70.6,483.45 70.0,483.01 69.4,482.64 68.8,482.39 68.2,482.30 67.7,482.34 67.3,482.45 66.8,482.61 66.3,482.80 65.9,482.99 65.4,483.15 65.0,483.26 64.5,483.30 64.1,483.34 63.7,483.45 63.3,483.61 63.0,483.80 62.6,483.99 62.2,484.15 61.8,484.26 61.4,484.30" fill="#2fb63f" stroke="#333" stroke-width="0.45" stroke-linejoin="round"/>
<polygon points="61.4,488.00 61.9,488.06 62.3,488.23 62.8,488.49 63.2,488.80 63.6,489.11 64.1,489.37 64.5,489.54 65.0,489.60 65.8,489.69 66.6,489.95 67.4,490.34 68.2,490.80 69.0,491.26 69.8,491.65 70.6,491.91 71.4,492.00 72.1,491.98 72.8,491.94 73.5,491.88 74.2,491.80 74.9,491.72 75.6,491.66 76.3,491.62 77.0,491.60 77.9,491.58 78.8,491.54 79.7,491.48 80.6,491.40 81.5,491.32 82.4,491.26 83.3,491.22 84.2,491.20 84.8,491.22 85.4,491.29 86.0,491.39 86.6,491.50 87.2,491.61 87.8,491.71 88.4,491.78 89.0,491.80 89.3,491.85 89.6,491.99 89.9,492.20 90.2,492.45 90.6,492.70 90.9,492.91 91.2,493.05 91.5,493.10 91.5,494.10 91.2,494.15 90.9,494.29 90.6,494.50 90.2,494.75 89.9,495.00 89.6,495.21 89.3,495.35 89.0,495.40 88.4,495.42 87.8,495.49 87.2,495.59 86.6,495.70 86.0,495.81 85.4,495.91 84.8,495.98 84.2,496.00 83.3,495.98 82.4,495.94 81.5,495.88 80.6,495.80 79.7,495.72 78.8,495.66 77.9,495.62 77.0,495.60 76.3,495.58 75.6,495.54 74.9,495.48 74.2,495.40 73.5,495.32 72.8,495.26 72.1,495.22 71.4,495.20 70.6,495.29 69.8,495.55 69.0,495.94 68.2,496.40 67.4,496.86 66.6,497.25 65.8,497.51 65.0,497.60 64.5,497.66 64.1,497.83 63.6,498.09 63.2,498.40 62.8,498.71 62.3,498.97 61.9,499.14 61.4,499.20" fill="#2fb63f" stroke="#333" stroke-width="0.45" stroke-linejoin="round"/>
<polygon points="96.4,479.10 96.7,479.13 97.1,479.22 97.4,479.35 97.7,479.50 98.0,479.65 98.3,479.78 98.7,479.87 99.0,479.90 99.5,479.93 99.9,480.03 100.3,480.18 100.8,480.35 101.2,480.52 101.7,480.67 102.1,480.77 102.6,480.80 103.1,480.80 103.6,480.79 104.1,480.77 104.5,480.75 105.0,480.73 105.5,480.71 106.0,480.70 106.5,480.70 107.1,480.60 107.6,480.32 108.2,479.90 108.8,479.40 109.3,478.90 109.9,478.48 110.4,478.20 111.0,478.10 111.8,478.00 112.6,477.70 113.4,477.27 114.2,476.75 114.9,476.23 115.7,475.80 116.5,475.50 117.3,475.40 118.0,475.50 118.7,475.80 119.4,476.23 120.2,476.75 120.9,477.27 121.6,477.70 122.3,478.00 123.0,478.10 123.5,478.20 124.1,478.48 124.7,478.90 125.2,479.40 125.8,479.90 126.3,480.32 126.9,480.60 127.4,480.70 128.0,480.70 128.5,480.71 129.1,480.73 129.7,480.75 130.2,480.77 130.8,480.79 131.3,480.80 131.9,480.80 131.9,481.40 131.3,481.40 130.8,481.41 130.2,481.43 129.7,481.45 129.1,481.47 128.5,481.49 128.0,481.50 127.4,481.50 126.9,481.60 126.3,481.88 125.8,482.30 125.2,482.80 124.7,483.30 124.1,483.72 123.5,484.00 123.0,484.10 122.3,484.20 121.6,484.50 120.9,484.93 120.2,485.45 119.4,485.97 118.7,486.40 118.0,486.70 117.3,486.80 116.5,486.70 115.7,486.40 114.9,485.97 114.2,485.45 113.4,484.93 112.6,484.50 111.8,484.20 111.0,484.10 110.4,484.00 109.9,483.72 109.3,483.30 108.8,482.80 108.2,482.30 107.6,481.88 107.1,481.60 106.5,481.50 106.0,481.50 105.5,481.49 105.0,481.47 104.5,481.45 104.1,481.43 103.6,481.41 103.1,481.40 102.6,481.40 102.1,481.43 101.7,481.53 101.2,481.68 100.8,481.85 100.3,482.02 99.9,482.17 99.5,482.27 99.0,482.30 98.7,482.33 98.3,482.42 98.0,482.55 97.7,482.70 97.4,482.85 97.1,482.98 96.7,483.07 96.4,483.10" fill="#5b8bd6" stroke="#333" stroke-width="0.45" stroke-linejoin="round"/>
<polygon points="96.4,491.40 96.8,491.43 97.2,491.52 97.6,491.65 98.0,491.80 98.3,491.95 98.7,492.08 99.1,492.17 99.5,492.20 100.0,492.23 100.6,492.33 101.2,492.48 101.7,492.65 102.2,492.82 102.8,492.97 103.4,493.07 103.9,493.10 104.4,493.06 104.9,492.95 105.4,492.79 106.0,492.60 106.5,492.41 107.0,492.25 107.5,492.14 108.0,492.10 108.8,492.00 109.5,491.73 110.2,491.33 111.0,490.85 111.8,490.37 112.5,489.97 113.2,489.70 114.0,489.60 114.9,489.54 115.8,489.35 116.7,489.08 117.5,488.75 118.4,488.42 119.3,488.15 120.2,487.96 121.1,487.90 121.7,487.98 122.3,488.22 122.9,488.58 123.5,489.00 124.2,489.42 124.8,489.78 125.4,490.02 126.0,490.10 126.5,490.21 127.0,490.52 127.5,491.00 128.0,491.55 128.5,492.10 129.0,492.58 129.5,492.89 130.0,493.00 130.0,494.20 129.5,494.31 129.0,494.62 128.5,495.10 128.0,495.65 127.5,496.20 127.0,496.68 126.5,496.99 126.0,497.10 125.4,497.18 124.8,497.42 124.2,497.78 123.5,498.20 122.9,498.62 122.3,498.98 121.7,499.22 121.1,499.30 120.2,499.24 119.3,499.05 118.4,498.78 117.5,498.45 116.7,498.12 115.8,497.85 114.9,497.66 114.0,497.60 113.2,497.50 112.5,497.23 111.8,496.83 111.0,496.35 110.2,495.87 109.5,495.47 108.8,495.20 108.0,495.10 107.5,495.06 107.0,494.95 106.5,494.79 106.0,494.60 105.4,494.41 104.9,494.25 104.4,494.14 103.9,494.10 103.4,494.13 102.8,494.23 102.2,494.38 101.7,494.55 101.2,494.72 100.6,494.87 100.0,494.97 99.5,495.00 99.1,495.03 98.7,495.12 98.3,495.25 98.0,495.40 97.6,495.55 97.2,495.68 96.8,495.77 96.4,495.80" fill="#5b8bd6" stroke="#333" stroke-width="0.45" stroke-linejoin="round"/>
<rect x="26.1" y="473.4" width="105.80000000000001" height="28.100000000000023" fill="none" stroke="#5a5a5a" stroke-width="0.7"/>
<line x1="61.4" y1="473.4" x2="61.4" y2="501.5" stroke="#5a5a5a" stroke-width="0.7"/>
<line x1="96.4" y1="473.4" x2="96.4" y2="501.5" stroke="#5a5a5a" stroke-width="0.7"/>
<line x1="26.1" y1="501.5" x2="26.1" y2="503.3" stroke="#5a5a5a" stroke-width="0.6"/>
<line x1="33.4" y1="501.5" x2="33.4" y2="503.3" stroke="#5a5a5a" stroke-width="0.6"/>
<line x1="40.7" y1="501.5" x2="40.7" y2="503.3" stroke="#5a5a5a" stroke-width="0.6"/>
<line x1="48.0" y1="501.5" x2="48.0" y2="503.3" stroke="#5a5a5a" stroke-width="0.6"/>
<line x1="55.3" y1="501.5" x2="55.3" y2="503.3" stroke="#5a5a5a" stroke-width="0.6"/>
<line x1="62.6" y1="501.5" x2="62.6" y2="503.3" stroke="#5a5a5a" stroke-width="0.6"/>
<line x1="69.9" y1="501.5" x2="69.9" y2="503.3" stroke="#5a5a5a" stroke-width="0.6"/>
<line x1="77.2" y1="501.5" x2="77.2" y2="503.3" stroke="#5a5a5a" stroke-width="0.6"/>
<line x1="84.5" y1="501.5" x2="84.5" y2="503.3" stroke="#5a5a5a" stroke-width="0.6"/>
<line x1="91.80000000000001" y1="501.5" x2="91.80000000000001" y2="503.3" stroke="#5a5a5a" stroke-width="0.6"/>
<line x1="99.1" y1="501.5" x2="99.1" y2="503.3" stroke="#5a5a5a" stroke-width="0.6"/>
<line x1="106.4" y1="501.5" x2="106.4" y2="503.3" stroke="#5a5a5a" stroke-width="0.6"/>
<line x1="113.69999999999999" y1="501.5" x2="113.69999999999999" y2="503.3" stroke="#5a5a5a" stroke-width="0.6"/>
<line x1="121.0" y1="501.5" x2="121.0" y2="503.3" stroke="#5a5a5a" stroke-width="0.6"/>
<line x1="128.3" y1="501.5" x2="128.3" y2="503.3" stroke="#5a5a5a" stroke-width="0.6"/>
<line x1="23.700000000000003" y1="481.09999999999997" x2="26.1" y2="481.09999999999997" stroke="#5a5a5a" stroke-width="0.6"/>
<line x1="23.700000000000003" y1="493.59999999999997" x2="26.1" y2="493.59999999999997" stroke="#5a5a5a" stroke-width="0.6"/>
<text x="51.2" y="512.5" font-size="8.3" fill="#3a3a3a" text-anchor="middle" font-weight="normal">3</text>
<text x="84.1" y="512.5" font-size="8.3" fill="#3a3a3a" text-anchor="middle" font-weight="normal">3</text>
<text x="124.3" y="512.5" font-size="8.3" fill="#3a3a3a" text-anchor="middle" font-weight="normal">4</text>
<text x="38.9" y="470.4" font-size="7.3" fill="#2e2e2e" text-anchor="start" font-weight="normal" font-style="italic" textLength="10.8" lengthAdjust="spacingAndGlyphs">Erg</text>
<text x="69.8" y="470.4" font-size="7.3" fill="#2e2e2e" text-anchor="start" font-weight="normal" font-style="italic" textLength="20.3" lengthAdjust="spacingAndGlyphs">Cldn5</text>
<text x="108.9" y="470.4" font-size="7.3" fill="#2e2e2e" text-anchor="start" font-weight="normal" font-style="italic" textLength="11.5" lengthAdjust="spacingAndGlyphs">Flt1</text>
<text x="19.9" y="483.4" font-size="7.6" fill="#3a3a3a" text-anchor="end" font-weight="normal" textLength="20.5" lengthAdjust="spacingAndGlyphs">bAVM</text>
<text x="19.9" y="496.0" font-size="7.6" fill="#3a3a3a" text-anchor="end" font-weight="normal" textLength="12" lengthAdjust="spacingAndGlyphs">Ctrl</text>
<text x="46.5" y="525.3" font-size="8.3" fill="#3a3a3a" text-anchor="start" font-weight="normal" textLength="63.5" lengthAdjust="spacingAndGlyphs">Expression level</text>
<polygon points="368.3,476.60 368.6,476.68 369.0,476.92 369.3,477.28 369.6,477.70 370.0,478.12 370.3,478.48 370.7,478.72 371.0,478.80 371.4,478.87 371.8,479.06 372.1,479.36 372.5,479.70 372.9,480.04 373.2,480.34 373.6,480.53 374.0,480.60 374.8,480.58 375.5,480.54 376.2,480.48 377.0,480.40 377.8,480.32 378.5,480.26 379.2,480.22 380.0,480.20 380.9,480.16 381.8,480.05 382.6,479.89 383.5,479.70 384.4,479.51 385.2,479.35 386.1,479.24 387.0,479.20 387.8,479.25 388.5,479.38 389.2,479.57 390.0,479.80 390.8,480.03 391.5,480.22 392.2,480.35 393.0,480.40 393.8,480.43 394.5,480.52 395.2,480.65 396.0,480.80 396.8,480.95 397.5,481.08 398.2,481.17 399.0,481.20 399.6,481.21 400.2,481.24 400.9,481.29 401.5,481.35 402.1,481.41 402.8,481.46 403.4,481.49 404.0,481.50 404.0,482.10 403.4,482.11 402.8,482.14 402.1,482.19 401.5,482.25 400.9,482.31 400.2,482.36 399.6,482.39 399.0,482.40 398.2,482.43 397.5,482.52 396.8,482.65 396.0,482.80 395.2,482.95 394.5,483.08 393.8,483.17 393.0,483.20 392.2,483.25 391.5,483.38 390.8,483.57 390.0,483.80 389.2,484.03 388.5,484.22 387.8,484.35 387.0,484.40 386.1,484.36 385.2,484.25 384.4,484.09 383.5,483.90 382.6,483.71 381.8,483.55 380.9,483.44 380.0,483.40 379.2,483.38 378.5,483.34 377.8,483.28 377.0,483.20 376.2,483.12 375.5,483.06 374.8,483.02 374.0,483.00 373.6,483.07 373.2,483.26 372.9,483.56 372.5,483.90 372.1,484.24 371.8,484.54 371.4,484.73 371.0,484.80 370.7,484.88 370.3,485.12 370.0,485.48 369.6,485.90 369.3,486.32 369.0,486.68 368.6,486.92 368.3,487.00" fill="#ef6f69" stroke="#333" stroke-width="0.45" stroke-linejoin="round"/>
<polygon points="368.3,489.00 368.6,489.09 369.0,489.34 369.3,489.71 369.6,490.15 370.0,490.59 370.3,490.96 370.7,491.21 371.0,491.30 371.4,491.37 371.8,491.56 372.1,491.86 372.5,492.20 372.9,492.54 373.2,492.84 373.6,493.03 374.0,493.10 374.8,493.09 375.5,493.07 376.2,493.04 377.0,493.00 377.8,492.96 378.5,492.93 379.2,492.91 380.0,492.90 380.8,492.88 381.5,492.81 382.2,492.71 383.0,492.60 383.8,492.49 384.5,492.39 385.2,492.32 386.0,492.30 386.8,492.32 387.5,492.37 388.2,492.45 389.0,492.55 389.8,492.65 390.5,492.73 391.2,492.78 392.0,492.80 392.6,492.83 393.2,492.90 393.9,493.02 394.5,493.15 395.1,493.28 395.8,493.40 396.4,493.47 397.0,493.50 397.3,493.52 397.6,493.57 397.9,493.65 398.2,493.75 398.6,493.85 398.9,493.93 399.2,493.98 399.5,494.00 399.5,494.60 399.2,494.62 398.9,494.67 398.6,494.75 398.2,494.85 397.9,494.95 397.6,495.03 397.3,495.08 397.0,495.10 396.4,495.13 395.8,495.20 395.1,495.32 394.5,495.45 393.9,495.58 393.2,495.70 392.6,495.77 392.0,495.80 391.2,495.82 390.5,495.87 389.8,495.95 389.0,496.05 388.2,496.15 387.5,496.23 386.8,496.28 386.0,496.30 385.2,496.28 384.5,496.21 383.8,496.11 383.0,496.00 382.2,495.89 381.5,495.79 380.8,495.72 380.0,495.70 379.2,495.69 378.5,495.67 377.8,495.64 377.0,495.60 376.2,495.56 375.5,495.53 374.8,495.51 374.0,495.50 373.6,495.57 373.2,495.76 372.9,496.06 372.5,496.40 372.1,496.74 371.8,497.04 371.4,497.23 371.0,497.30 370.7,497.39 370.3,497.64 370.0,498.01 369.6,498.45 369.3,498.89 369.0,499.26 368.6,499.51 368.3,499.60" fill="#ef6f69" stroke="#333" stroke-width="0.45" stroke-linejoin="round"/>
<polygon points="404.0,477.30 404.3,477.37 404.6,477.58 404.9,477.89 405.2,478.25 405.6,478.61 405.9,478.92 406.2,479.13 406.5,479.20 406.8,479.26 407.1,479.43 407.4,479.69 407.8,480.00 408.1,480.31 408.4,480.57 408.7,480.74 409.0,480.80 409.6,480.77 410.2,480.68 410.9,480.55 411.5,480.40 412.1,480.25 412.8,480.12 413.4,480.03 414.0,480.00 414.8,479.95 415.5,479.82 416.2,479.63 417.0,479.40 417.8,479.17 418.5,478.98 419.2,478.85 420.0,478.80 420.8,478.84 421.5,478.95 422.2,479.11 423.0,479.30 423.8,479.49 424.5,479.65 425.2,479.76 426.0,479.80 426.6,479.84 427.2,479.96 427.9,480.14 428.5,480.35 429.1,480.56 429.8,480.74 430.4,480.86 431.0,480.90 431.5,480.92 432.0,480.99 432.5,481.09 433.0,481.20 433.5,481.31 434.0,481.41 434.5,481.48 435.0,481.50 435.0,482.10 434.5,482.12 434.0,482.19 433.5,482.29 433.0,482.40 432.5,482.51 432.0,482.61 431.5,482.68 431.0,482.70 430.4,482.74 429.8,482.86 429.1,483.04 428.5,483.25 427.9,483.46 427.2,483.64 426.6,483.76 426.0,483.80 425.2,483.84 424.5,483.95 423.8,484.11 423.0,484.30 422.2,484.49 421.5,484.65 420.8,484.76 420.0,484.80 419.2,484.75 418.5,484.62 417.8,484.43 417.0,484.20 416.2,483.97 415.5,483.78 414.8,483.65 414.0,483.60 413.4,483.57 412.8,483.48 412.1,483.35 411.5,483.20 410.9,483.05 410.2,482.92 409.6,482.83 409.0,482.80 408.7,482.86 408.4,483.03 408.1,483.29 407.8,483.60 407.4,483.91 407.1,484.17 406.8,484.34 406.5,484.40 406.2,484.47 405.9,484.68 405.6,484.99 405.2,485.35 404.9,485.71 404.6,486.02 404.3,486.23 404.0,486.30" fill="#2fb63f" stroke="#333" stroke-width="0.45" stroke-linejoin="round"/>
<polygon points="404.0,490.30 404.4,490.33 404.8,490.42 405.1,490.55 405.5,490.70 405.9,490.85 406.2,490.98 406.6,491.07 407.0,491.10 407.4,491.15 407.8,491.31 408.1,491.53 408.5,491.80 408.9,492.07 409.2,492.29 409.6,492.45 410.0,492.50 410.8,492.43 411.5,492.24 412.2,491.94 413.0,491.60 413.8,491.26 414.5,490.96 415.2,490.77 416.0,490.70 416.9,490.62 417.8,490.39 418.6,490.05 419.5,489.65 420.4,489.25 421.2,488.91 422.1,488.68 423.0,488.60 424.0,488.62 425.0,488.67 426.0,488.75 427.0,488.85 428.0,488.95 429.0,489.03 430.0,489.08 431.0,489.10 431.6,489.18 432.2,489.39 432.9,489.72 433.5,490.10 434.1,490.48 434.8,490.81 435.4,491.02 436.0,491.10 436.5,491.18 436.9,491.42 437.4,491.78 437.9,492.20 438.3,492.62 438.8,492.98 439.2,493.22 439.7,493.30 439.7,495.30 439.2,495.38 438.8,495.62 438.3,495.98 437.9,496.40 437.4,496.82 436.9,497.18 436.5,497.42 436.0,497.50 435.4,497.58 434.8,497.79 434.1,498.12 433.5,498.50 432.9,498.88 432.2,499.21 431.6,499.42 431.0,499.50 430.0,499.52 429.0,499.57 428.0,499.65 427.0,499.75 426.0,499.85 425.0,499.93 424.0,499.98 423.0,500.00 422.1,499.92 421.2,499.69 420.4,499.35 419.5,498.95 418.6,498.55 417.8,498.21 416.9,497.98 416.0,497.90 415.2,497.83 414.5,497.64 413.8,497.34 413.0,497.00 412.2,496.66 411.5,496.36 410.8,496.17 410.0,496.10 409.6,496.15 409.2,496.31 408.9,496.53 408.5,496.80 408.1,497.07 407.8,497.29 407.4,497.45 407.0,497.50 406.6,497.53 406.2,497.62 405.9,497.75 405.5,497.90 405.1,498.05 404.8,498.18 404.4,498.27 404.0,498.30" fill="#2fb63f" stroke="#333" stroke-width="0.45" stroke-linejoin="round"/>
<polygon points="439.7,479.60 439.9,479.65 440.1,479.78 440.4,479.97 440.6,480.20 440.8,480.43 441.1,480.62 441.3,480.75 441.5,480.80 441.8,480.83 442.0,480.90 442.2,481.02 442.5,481.15 442.8,481.28 443.0,481.40 443.2,481.47 443.5,481.50 443.9,481.49 444.4,481.47 444.8,481.44 445.2,481.40 445.7,481.36 446.1,481.33 446.6,481.31 447.0,481.30 447.6,481.21 448.2,480.96 448.9,480.59 449.5,480.15 450.1,479.71 450.8,479.34 451.4,479.09 452.0,479.00 452.8,478.90 453.5,478.62 454.2,478.20 455.0,477.70 455.8,477.20 456.5,476.78 457.2,476.50 458.0,476.40 458.8,476.43 459.5,476.53 460.2,476.68 461.0,476.85 461.8,477.02 462.5,477.17 463.2,477.27 464.0,477.30 464.8,477.40 465.5,477.67 466.2,478.07 467.0,478.55 467.8,479.03 468.5,479.43 469.2,479.70 470.0,479.80 470.6,479.86 471.2,480.03 471.8,480.29 472.4,480.60 472.9,480.91 473.5,481.17 474.1,481.34 474.7,481.40 474.7,482.20 474.1,482.26 473.5,482.43 472.9,482.69 472.4,483.00 471.8,483.31 471.2,483.57 470.6,483.74 470.0,483.80 469.2,483.90 468.5,484.17 467.8,484.57 467.0,485.05 466.2,485.53 465.5,485.93 464.8,486.20 464.0,486.30 463.2,486.33 462.5,486.43 461.8,486.58 461.0,486.75 460.2,486.92 459.5,487.07 458.8,487.17 458.0,487.20 457.2,487.10 456.5,486.82 455.8,486.40 455.0,485.90 454.2,485.40 453.5,484.98 452.8,484.70 452.0,484.60 451.4,484.51 450.8,484.26 450.1,483.89 449.5,483.45 448.9,483.01 448.2,482.64 447.6,482.39 447.0,482.30 446.6,482.29 446.1,482.27 445.7,482.24 445.2,482.20 444.8,482.16 444.4,482.13 443.9,482.11 443.5,482.10 443.2,482.13 443.0,482.20 442.8,482.32 442.5,482.45 442.2,482.58 442.0,482.70 441.8,482.77 441.5,482.80 441.3,482.85 441.1,482.98 440.8,483.17 440.6,483.40 440.4,483.63 440.1,483.82 439.9,483.95 439.7,484.00" fill="#5b8bd6" stroke="#333" stroke-width="0.45" stroke-linejoin="round"/>
<polygon points="439.7,493.90 440.4,493.90 441.0,493.90 441.7,493.90 442.4,493.90 443.0,493.90 443.7,493.90 444.3,493.90 445.0,493.90 445.6,493.85 446.2,493.69 446.9,493.47 447.5,493.20 448.1,492.93 448.8,492.71 449.4,492.55 450.0,492.50 450.8,492.41 451.5,492.15 452.2,491.76 453.0,491.30 453.8,490.84 454.5,490.45 455.2,490.19 456.0,490.10 456.9,490.05 457.8,489.89 458.6,489.67 459.5,489.40 460.4,489.13 461.2,488.91 462.1,488.75 463.0,488.70 463.8,488.70 464.5,488.71 465.2,488.73 466.0,488.75 466.8,488.77 467.5,488.79 468.2,488.80 469.0,488.80 469.7,488.88 470.4,489.09 471.1,489.42 471.9,489.80 472.6,490.18 473.3,490.51 474.0,490.72 474.7,490.80 474.7,497.80 474.0,497.88 473.3,498.09 472.6,498.42 471.9,498.80 471.1,499.18 470.4,499.51 469.7,499.72 469.0,499.80 468.2,499.80 467.5,499.81 466.8,499.83 466.0,499.85 465.2,499.87 464.5,499.89 463.8,499.90 463.0,499.90 462.1,499.85 461.2,499.69 460.4,499.47 459.5,499.20 458.6,498.93 457.8,498.71 456.9,498.55 456.0,498.50 455.2,498.41 454.5,498.15 453.8,497.76 453.0,497.30 452.2,496.84 451.5,496.45 450.8,496.19 450.0,496.10 449.4,496.05 448.8,495.89 448.1,495.67 447.5,495.40 446.9,495.13 446.2,494.91 445.6,494.75 445.0,494.70 444.3,494.70 443.7,494.70 443.0,494.70 442.4,494.70 441.7,494.70 441.0,494.70 440.4,494.70 439.7,494.70" fill="#5b8bd6" stroke="#333" stroke-width="0.45" stroke-linejoin="round"/>
<rect x="368.3" y="474.1" width="106.39999999999998" height="26.799999999999955" fill="none" stroke="#5a5a5a" stroke-width="0.7"/>
<line x1="404" y1="474.1" x2="404" y2="500.9" stroke="#5a5a5a" stroke-width="0.7"/>
<line x1="439.7" y1="474.1" x2="439.7" y2="500.9" stroke="#5a5a5a" stroke-width="0.7"/>
<line x1="368.3" y1="500.9" x2="368.3" y2="502.7" stroke="#5a5a5a" stroke-width="0.6"/>
<line x1="375.45" y1="500.9" x2="375.45" y2="502.7" stroke="#5a5a5a" stroke-width="0.6"/>
<line x1="382.6" y1="500.9" x2="382.6" y2="502.7" stroke="#5a5a5a" stroke-width="0.6"/>
<line x1="389.75" y1="500.9" x2="389.75" y2="502.7" stroke="#5a5a5a" stroke-width="0.6"/>
<line x1="396.90000000000003" y1="500.9" x2="396.90000000000003" y2="502.7" stroke="#5a5a5a" stroke-width="0.6"/>
<line x1="404.05" y1="500.9" x2="404.05" y2="502.7" stroke="#5a5a5a" stroke-width="0.6"/>
<line x1="411.20000000000005" y1="500.9" x2="411.20000000000005" y2="502.7" stroke="#5a5a5a" stroke-width="0.6"/>
<line x1="418.35" y1="500.9" x2="418.35" y2="502.7" stroke="#5a5a5a" stroke-width="0.6"/>
<line x1="425.5" y1="500.9" x2="425.5" y2="502.7" stroke="#5a5a5a" stroke-width="0.6"/>
<line x1="432.65000000000003" y1="500.9" x2="432.65000000000003" y2="502.7" stroke="#5a5a5a" stroke-width="0.6"/>
<line x1="439.8" y1="500.9" x2="439.8" y2="502.7" stroke="#5a5a5a" stroke-width="0.6"/>
<line x1="446.95000000000005" y1="500.9" x2="446.95000000000005" y2="502.7" stroke="#5a5a5a" stroke-width="0.6"/>
<line x1="454.1" y1="500.9" x2="454.1" y2="502.7" stroke="#5a5a5a" stroke-width="0.6"/>
<line x1="461.25" y1="500.9" x2="461.25" y2="502.7" stroke="#5a5a5a" stroke-width="0.6"/>
<line x1="468.40000000000003" y1="500.9" x2="468.40000000000003" y2="502.7" stroke="#5a5a5a" stroke-width="0.6"/>
<line x1="365.90000000000003" y1="481.8" x2="368.3" y2="481.8" stroke="#5a5a5a" stroke-width="0.6"/>
<line x1="365.90000000000003" y1="494.3" x2="368.3" y2="494.3" stroke="#5a5a5a" stroke-width="0.6"/>
<text x="397" y="511.9" font-size="8.3" fill="#3a3a3a" text-anchor="middle" font-weight="normal">3</text>
<text x="429.6" y="511.9" font-size="8.3" fill="#3a3a3a" text-anchor="middle" font-weight="normal">3</text>
<text x="469" y="511.9" font-size="8.3" fill="#3a3a3a" text-anchor="middle" font-weight="normal">4</text>
<text x="380.5" y="471.8" font-size="7.3" fill="#2e2e2e" text-anchor="start" font-weight="normal" font-style="italic" textLength="11.2" lengthAdjust="spacingAndGlyphs">Erg</text>
<text x="412.7" y="471.8" font-size="7.3" fill="#2e2e2e" text-anchor="start" font-weight="normal" font-style="italic" textLength="20.4" lengthAdjust="spacingAndGlyphs">Cldn5</text>
<text x="452.1" y="471.8" font-size="7.3" fill="#2e2e2e" text-anchor="start" font-weight="normal" font-style="italic" textLength="12.1" lengthAdjust="spacingAndGlyphs">Flt1</text>
<text x="363.5" y="484.1" font-size="7.6" fill="#3a3a3a" text-anchor="end" font-weight="normal" textLength="20.2" lengthAdjust="spacingAndGlyphs">bAVM</text>
<text x="363.5" y="496.4" font-size="7.6" fill="#3a3a3a" text-anchor="end" font-weight="normal" textLength="12.1" lengthAdjust="spacingAndGlyphs">Ctrl</text>
<text x="392.4" y="525.6" font-size="8.3" fill="#3a3a3a" text-anchor="start" font-weight="normal" textLength="64.1" lengthAdjust="spacingAndGlyphs">Expression level</text>
<text x="361.2" y="331.0" font-size="8.8" fill="#2e2e2e" text-anchor="start" font-weight="normal" textLength="40.7" lengthAdjust="spacingAndGlyphs">PID27-ECs</text>
<circle cx="451.2" cy="331.9" r="2.4" fill="#e47a78"/>
<text x="456" y="334.6" font-size="8.0" fill="#2e2e2e" text-anchor="start" font-weight="normal" textLength="12.3" lengthAdjust="spacingAndGlyphs">Ctrl</text>
<circle cx="451.2" cy="342.2" r="2.4" fill="#36b6c1"/>
<text x="456" y="344.9" font-size="8.0" fill="#2e2e2e" text-anchor="start" font-weight="normal" textLength="20.5" lengthAdjust="spacingAndGlyphs">bAVM</text>
<circle cx="429.4" cy="391.3" r="1.0" fill="#2ab3bf"/>
<circle cx="460.1" cy="386.1" r="1.0" fill="#2ab3bf"/>
<circle cx="433.0" cy="392.9" r="1.0" fill="#2ab3bf"/>
<circle cx="412.0" cy="388.7" r="1.0" fill="#2ab3bf"/>
<circle cx="440.9" cy="404.4" r="1.0" fill="#2ab3bf"/>
<circle cx="442.5" cy="394.5" r="1.0" fill="#2ab3bf"/>
<circle cx="434.3" cy="363.3" r="1.0" fill="#2ab3bf"/>
<circle cx="402.0" cy="386.0" r="1.0" fill="#2ab3bf"/>
<circle cx="428.6" cy="407.2" r="1.0" fill="#2ab3bf"/>
<circle cx="433.7" cy="395.9" r="1.0" fill="#2ab3bf"/>
<circle cx="432.5" cy="397.1" r="1.0" fill="#2ab3bf"/>
<circle cx="429.7" cy="375.6" r="1.0" fill="#2ab3bf"/>
<circle cx="454.6" cy="399.6" r="1.0" fill="#2ab3bf"/>
<circle cx="420.5" cy="372.9" r="1.0" fill="#2ab3bf"/>
<circle cx="449.8" cy="382.4" r="1.0" fill="#2ab3bf"/>
<circle cx="455.0" cy="381.6" r="1.0" fill="#2ab3bf"/>
<circle cx="459.2" cy="386.3" r="1.0" fill="#2ab3bf"/>
<circle cx="404.7" cy="395.2" r="1.0" fill="#2ab3bf"/>
<circle cx="450.6" cy="375.1" r="1.0" fill="#2ab3bf"/>
<circle cx="436.4" cy="385.1" r="1.0" fill="#2ab3bf"/>
<circle cx="412.4" cy="401.0" r="1.0" fill="#2ab3bf"/>
<circle cx="408.5" cy="396.0" r="1.0" fill="#2ab3bf"/>
<circle cx="407.6" cy="383.6" r="1.0" fill="#2ab3bf"/>
<circle cx="413.8" cy="375.1" r="1.0" fill="#2ab3bf"/>
<circle cx="413.7" cy="382.1" r="1.0" fill="#2ab3bf"/>
<circle cx="455.5" cy="395.9" r="1.0" fill="#2ab3bf"/>
<circle cx="413.9" cy="374.5" r="1.0" fill="#2ab3bf"/>
<circle cx="450.2" cy="378.4" r="1.0" fill="#2ab3bf"/>
<circle cx="405.9" cy="392.6" r="1.0" fill="#2ab3bf"/>
<circle cx="415.8" cy="393.7" r="1.0" fill="#2ab3bf"/>
<circle cx="424.2" cy="385.4" r="1.0" fill="#2ab3bf"/>
<circle cx="462.3" cy="387.1" r="1.0" fill="#2ab3bf"/>
<circle cx="437.3" cy="408.5" r="1.0" fill="#2ab3bf"/>
<circle cx="457.3" cy="393.8" r="1.0" fill="#2ab3bf"/>
<circle cx="427.4" cy="365.8" r="1.0" fill="#2ab3bf"/>
<circle cx="415.5" cy="399.5" r="1.0" fill="#2ab3bf"/>
<circle cx="416.7" cy="406.1" r="1.0" fill="#2ab3bf"/>
<circle cx="438.8" cy="376.4" r="1.0" fill="#2ab3bf"/>
<circle cx="411.4" cy="400.3" r="1.0" fill="#2ab3bf"/>
<circle cx="436.4" cy="407.7" r="1.0" fill="#2ab3bf"/>
<circle cx="439.9" cy="375.7" r="1.0" fill="#2ab3bf"/>
<circle cx="411.5" cy="380.7" r="1.0" fill="#2ab3bf"/>
<circle cx="437.2" cy="367.4" r="1.0" fill="#2ab3bf"/>
<circle cx="423.5" cy="409.9" r="1.0" fill="#2ab3bf"/>
<circle cx="444.9" cy="392.7" r="1.0" fill="#2ab3bf"/>
<circle cx="401.4" cy="395.6" r="1.0" fill="#2ab3bf"/>
<circle cx="431.3" cy="400.9" r="1.0" fill="#2ab3bf"/>
<circle cx="404.9" cy="390.6" r="1.0" fill="#2ab3bf"/>
<circle cx="447.9" cy="410.4" r="1.0" fill="#2ab3bf"/>
<circle cx="447.9" cy="399.4" r="1.0" fill="#2ab3bf"/>
<circle cx="451.6" cy="411.2" r="1.0" fill="#2ab3bf"/>
<circle cx="422.9" cy="398.4" r="1.0" fill="#2ab3bf"/>
<circle cx="427.1" cy="404.3" r="1.0" fill="#2ab3bf"/>
<circle cx="456.1" cy="392.1" r="1.0" fill="#2ab3bf"/>
<circle cx="440.6" cy="381.4" r="1.0" fill="#2ab3bf"/>
<circle cx="437.9" cy="394.1" r="1.0" fill="#2ab3bf"/>
<circle cx="405.2" cy="395.8" r="1.0" fill="#2ab3bf"/>
<circle cx="447.3" cy="381.8" r="1.0" fill="#2ab3bf"/>
<circle cx="447.8" cy="392.5" r="1.0" fill="#2ab3bf"/>
<circle cx="428.6" cy="406.9" r="1.0" fill="#2ab3bf"/>
<circle cx="405.4" cy="402.0" r="1.0" fill="#2ab3bf"/>
<circle cx="401.9" cy="393.7" r="1.0" fill="#2ab3bf"/>
<circle cx="431.3" cy="372.9" r="1.0" fill="#2ab3bf"/>
<circle cx="445.4" cy="387.8" r="1.0" fill="#2ab3bf"/>
<circle cx="439.9" cy="411.5" r="1.0" fill="#2ab3bf"/>
<circle cx="419.6" cy="398.0" r="1.0" fill="#2ab3bf"/>
<circle cx="458.9" cy="397.0" r="1.0" fill="#2ab3bf"/>
<circle cx="428.7" cy="409.9" r="1.0" fill="#2ab3bf"/>
<circle cx="421.3" cy="397.3" r="1.0" fill="#2ab3bf"/>
<circle cx="412.9" cy="384.1" r="1.0" fill="#2ab3bf"/>
<circle cx="457.2" cy="381.5" r="1.0" fill="#2ab3bf"/>
<circle cx="437.9" cy="377.7" r="1.0" fill="#2ab3bf"/>
<circle cx="408.9" cy="387.8" r="1.0" fill="#2ab3bf"/>
<circle cx="454.4" cy="407.5" r="1.0" fill="#2ab3bf"/>
<circle cx="429.3" cy="375.4" r="1.0" fill="#2ab3bf"/>
<circle cx="413.9" cy="383.2" r="1.0" fill="#2ab3bf"/>
<circle cx="440.7" cy="387.7" r="1.0" fill="#2ab3bf"/>
<circle cx="420.5" cy="407.0" r="1.0" fill="#2ab3bf"/>
<circle cx="446.1" cy="392.0" r="1.0" fill="#2ab3bf"/>
<circle cx="420.1" cy="404.3" r="1.0" fill="#2ab3bf"/>
<circle cx="453.9" cy="373.3" r="1.0" fill="#2ab3bf"/>
<circle cx="440.9" cy="385.0" r="1.0" fill="#2ab3bf"/>
<circle cx="440.9" cy="396.7" r="1.0" fill="#2ab3bf"/>
<circle cx="444.5" cy="371.2" r="1.0" fill="#2ab3bf"/>
<circle cx="430.9" cy="370.0" r="1.0" fill="#2ab3bf"/>
<circle cx="446.4" cy="370.0" r="1.0" fill="#2ab3bf"/>
<circle cx="417.7" cy="379.4" r="1.0" fill="#2ab3bf"/>
<circle cx="445.3" cy="389.1" r="1.0" fill="#2ab3bf"/>
<circle cx="439.9" cy="402.3" r="1.0" fill="#2ab3bf"/>
<circle cx="425.6" cy="404.3" r="1.0" fill="#2ab3bf"/>
<circle cx="408.4" cy="385.4" r="1.0" fill="#2ab3bf"/>
<circle cx="440.7" cy="411.0" r="1.0" fill="#2ab3bf"/>
<circle cx="424.5" cy="391.9" r="1.0" fill="#2ab3bf"/>
<circle cx="457.2" cy="404.6" r="1.0" fill="#2ab3bf"/>
<circle cx="461.4" cy="386.0" r="1.0" fill="#2ab3bf"/>
<circle cx="442.3" cy="371.5" r="1.0" fill="#2ab3bf"/>
<circle cx="446.9" cy="405.8" r="1.0" fill="#2ab3bf"/>
<circle cx="441.7" cy="400.2" r="1.0" fill="#2ab3bf"/>
<circle cx="434.9" cy="404.3" r="1.0" fill="#2ab3bf"/>
<circle cx="455.6" cy="379.5" r="1.0" fill="#2ab3bf"/>
<circle cx="405.4" cy="384.7" r="1.0" fill="#2ab3bf"/>
<circle cx="435.8" cy="403.0" r="1.0" fill="#2ab3bf"/>
<circle cx="421.8" cy="404.1" r="1.0" fill="#2ab3bf"/>
<circle cx="433.6" cy="400.5" r="1.0" fill="#2ab3bf"/>
<circle cx="454.6" cy="398.6" r="1.0" fill="#2ab3bf"/>
<circle cx="461.5" cy="387.6" r="1.0" fill="#2ab3bf"/>
<circle cx="414.4" cy="389.5" r="1.0" fill="#2ab3bf"/>
<circle cx="418.9" cy="400.8" r="1.0" fill="#2ab3bf"/>
<circle cx="441.5" cy="389.3" r="1.0" fill="#2ab3bf"/>
<circle cx="454.8" cy="391.4" r="1.0" fill="#2ab3bf"/>
<circle cx="420.3" cy="381.3" r="1.0" fill="#2ab3bf"/>
<circle cx="462.9" cy="389.4" r="1.0" fill="#2ab3bf"/>
<circle cx="437.2" cy="371.3" r="1.0" fill="#2ab3bf"/>
<circle cx="434.8" cy="388.2" r="1.0" fill="#2ab3bf"/>
<circle cx="463.0" cy="388.9" r="1.0" fill="#2ab3bf"/>
<circle cx="426.0" cy="404.9" r="1.0" fill="#2ab3bf"/>
<circle cx="436.6" cy="387.5" r="1.0" fill="#2ab3bf"/>
<circle cx="435.0" cy="383.2" r="1.0" fill="#2ab3bf"/>
<circle cx="417.5" cy="386.5" r="1.0" fill="#2ab3bf"/>
<circle cx="408.3" cy="384.3" r="1.0" fill="#2ab3bf"/>
<circle cx="453.0" cy="410.4" r="1.0" fill="#2ab3bf"/>
<circle cx="431.0" cy="377.8" r="1.0" fill="#2ab3bf"/>
<circle cx="412.4" cy="394.6" r="1.0" fill="#2ab3bf"/>
<circle cx="444.7" cy="378.0" r="1.0" fill="#2ab3bf"/>
<circle cx="423.1" cy="394.7" r="1.0" fill="#2ab3bf"/>
<circle cx="406.8" cy="400.9" r="1.0" fill="#2ab3bf"/>
<circle cx="408.0" cy="388.6" r="1.0" fill="#2ab3bf"/>
<circle cx="416.3" cy="371.1" r="1.0" fill="#2ab3bf"/>
<circle cx="434.5" cy="384.5" r="1.0" fill="#2ab3bf"/>
<circle cx="424.4" cy="383.2" r="1.0" fill="#2ab3bf"/>
<circle cx="434.4" cy="368.9" r="1.0" fill="#2ab3bf"/>
<circle cx="413.3" cy="395.4" r="1.0" fill="#2ab3bf"/>
<circle cx="441.5" cy="389.7" r="1.0" fill="#2ab3bf"/>
<circle cx="455.3" cy="394.3" r="1.0" fill="#2ab3bf"/>
<circle cx="448.2" cy="405.4" r="1.0" fill="#2ab3bf"/>
<circle cx="415.6" cy="400.7" r="1.0" fill="#2ab3bf"/>
<circle cx="454.1" cy="383.6" r="1.0" fill="#2ab3bf"/>
<circle cx="426.2" cy="398.4" r="1.0" fill="#2ab3bf"/>
<circle cx="444.4" cy="411.0" r="1.0" fill="#2ab3bf"/>
<circle cx="432.9" cy="402.5" r="1.0" fill="#2ab3bf"/>
<circle cx="432.7" cy="398.4" r="1.0" fill="#2ab3bf"/>
<circle cx="435.9" cy="388.8" r="1.0" fill="#2ab3bf"/>
<circle cx="437.0" cy="368.2" r="1.0" fill="#2ab3bf"/>
<circle cx="430.0" cy="402.8" r="1.0" fill="#2ab3bf"/>
<circle cx="421.2" cy="386.1" r="1.0" fill="#2ab3bf"/>
<circle cx="433.5" cy="384.1" r="1.0" fill="#2ab3bf"/>
<circle cx="445.6" cy="407.3" r="1.0" fill="#2ab3bf"/>
<circle cx="411.8" cy="385.4" r="1.0" fill="#2ab3bf"/>
<circle cx="448.1" cy="382.7" r="1.0" fill="#2ab3bf"/>
<circle cx="458.1" cy="404.9" r="1.0" fill="#2ab3bf"/>
<circle cx="445.8" cy="408.2" r="1.0" fill="#2ab3bf"/>
<circle cx="440.9" cy="382.7" r="1.0" fill="#2ab3bf"/>
<circle cx="439.0" cy="388.2" r="1.0" fill="#2ab3bf"/>
<circle cx="448.4" cy="403.6" r="1.0" fill="#2ab3bf"/>
<circle cx="453.0" cy="382.7" r="1.0" fill="#2ab3bf"/>
<circle cx="445.2" cy="403.0" r="1.0" fill="#2ab3bf"/>
<circle cx="449.7" cy="382.7" r="1.0" fill="#2ab3bf"/>
<circle cx="422.2" cy="386.3" r="1.0" fill="#2ab3bf"/>
<circle cx="441.5" cy="394.9" r="1.0" fill="#2ab3bf"/>
<circle cx="443.3" cy="378.9" r="1.0" fill="#2ab3bf"/>
<circle cx="442.9" cy="391.9" r="1.0" fill="#2ab3bf"/>
<circle cx="434.7" cy="381.8" r="1.0" fill="#2ab3bf"/>
<circle cx="445.6" cy="402.7" r="1.0" fill="#2ab3bf"/>
<circle cx="440.0" cy="401.4" r="1.0" fill="#2ab3bf"/>
<circle cx="416.7" cy="382.5" r="1.0" fill="#2ab3bf"/>
<circle cx="435.8" cy="388.4" r="1.0" fill="#2ab3bf"/>
<circle cx="462.9" cy="391.8" r="1.0" fill="#2ab3bf"/>
<circle cx="438.8" cy="402.5" r="1.0" fill="#2ab3bf"/>
<circle cx="410.4" cy="386.4" r="1.0" fill="#2ab3bf"/>
<circle cx="411.0" cy="387.7" r="1.0" fill="#2ab3bf"/>
<circle cx="434.2" cy="393.5" r="1.0" fill="#2ab3bf"/>
<circle cx="423.8" cy="376.0" r="1.0" fill="#2ab3bf"/>
<circle cx="442.6" cy="391.4" r="1.0" fill="#2ab3bf"/>
<circle cx="418.4" cy="400.1" r="1.0" fill="#2ab3bf"/>
<circle cx="410.2" cy="402.3" r="1.0" fill="#2ab3bf"/>
<circle cx="425.3" cy="410.3" r="1.0" fill="#2ab3bf"/>
<circle cx="427.9" cy="386.7" r="1.0" fill="#2ab3bf"/>
<circle cx="434.0" cy="412.5" r="1.0" fill="#2ab3bf"/>
<circle cx="447.0" cy="386.2" r="1.0" fill="#2ab3bf"/>
<circle cx="439.2" cy="366.4" r="1.0" fill="#2ab3bf"/>
<circle cx="440.6" cy="385.5" r="1.0" fill="#2ab3bf"/>
<circle cx="434.3" cy="367.0" r="1.0" fill="#2ab3bf"/>
<circle cx="428.8" cy="397.4" r="1.0" fill="#2ab3bf"/>
<circle cx="429.6" cy="374.7" r="1.0" fill="#2ab3bf"/>
<circle cx="437.8" cy="383.5" r="1.0" fill="#2ab3bf"/>
<circle cx="450.6" cy="389.7" r="1.0" fill="#2ab3bf"/>
<circle cx="447.7" cy="373.4" r="1.0" fill="#2ab3bf"/>
<circle cx="451.0" cy="395.0" r="1.0" fill="#2ab3bf"/>
<circle cx="423.3" cy="375.2" r="1.0" fill="#2ab3bf"/>
<circle cx="444.5" cy="391.6" r="1.0" fill="#2ab3bf"/>
<circle cx="438.5" cy="395.5" r="1.0" fill="#2ab3bf"/>
<circle cx="449.0" cy="370.6" r="1.0" fill="#2ab3bf"/>
<circle cx="417.6" cy="383.8" r="1.0" fill="#2ab3bf"/>
<circle cx="440.5" cy="365.7" r="1.0" fill="#2ab3bf"/>
<circle cx="435.2" cy="364.1" r="1.0" fill="#2ab3bf"/>
<circle cx="405.6" cy="397.9" r="1.0" fill="#2ab3bf"/>
<circle cx="435.8" cy="395.3" r="1.0" fill="#2ab3bf"/>
<circle cx="424.3" cy="386.8" r="1.0" fill="#2ab3bf"/>
<circle cx="413.7" cy="379.2" r="1.0" fill="#2ab3bf"/>
<circle cx="448.4" cy="407.0" r="1.0" fill="#2ab3bf"/>
<circle cx="452.6" cy="394.9" r="1.0" fill="#2ab3bf"/>
<circle cx="450.0" cy="371.9" r="1.0" fill="#2ab3bf"/>
<circle cx="427.6" cy="374.5" r="1.0" fill="#2ab3bf"/>
<circle cx="452.6" cy="380.7" r="1.0" fill="#2ab3bf"/>
<circle cx="421.2" cy="390.7" r="1.0" fill="#2ab3bf"/>
<circle cx="448.5" cy="411.6" r="1.0" fill="#2ab3bf"/>
<circle cx="427.8" cy="380.7" r="1.0" fill="#2ab3bf"/>
<circle cx="436.7" cy="387.2" r="1.0" fill="#2ab3bf"/>
<circle cx="444.5" cy="376.7" r="1.0" fill="#2ab3bf"/>
<circle cx="413.9" cy="397.1" r="1.0" fill="#2ab3bf"/>
<circle cx="447.1" cy="398.9" r="1.0" fill="#2ab3bf"/>
<circle cx="423.3" cy="400.7" r="1.0" fill="#2ab3bf"/>
<circle cx="446.1" cy="391.9" r="1.0" fill="#2ab3bf"/>
<circle cx="459.4" cy="384.5" r="1.0" fill="#2ab3bf"/>
<circle cx="452.2" cy="377.1" r="1.0" fill="#2ab3bf"/>
<circle cx="420.6" cy="382.4" r="1.0" fill="#2ab3bf"/>
<circle cx="416.1" cy="380.3" r="1.0" fill="#2ab3bf"/>
<circle cx="423.8" cy="380.3" r="1.0" fill="#2ab3bf"/>
<circle cx="425.7" cy="381.7" r="1.0" fill="#2ab3bf"/>
<circle cx="412.7" cy="391.6" r="1.0" fill="#2ab3bf"/>
<circle cx="451.8" cy="390.3" r="1.0" fill="#2ab3bf"/>
<circle cx="454.4" cy="391.5" r="1.0" fill="#2ab3bf"/>
<circle cx="411.5" cy="402.5" r="1.0" fill="#2ab3bf"/>
<circle cx="435.4" cy="391.8" r="1.0" fill="#2ab3bf"/>
<circle cx="435.5" cy="404.1" r="1.0" fill="#2ab3bf"/>
<circle cx="447.9" cy="410.3" r="1.0" fill="#2ab3bf"/>
<circle cx="405.5" cy="395.5" r="1.0" fill="#2ab3bf"/>
<circle cx="409.4" cy="401.8" r="1.0" fill="#2ab3bf"/>
<circle cx="442.2" cy="373.7" r="1.0" fill="#2ab3bf"/>
<circle cx="414.3" cy="402.9" r="1.0" fill="#2ab3bf"/>
<circle cx="433.9" cy="402.8" r="1.0" fill="#2ab3bf"/>
<circle cx="425.6" cy="378.9" r="1.0" fill="#2ab3bf"/>
<circle cx="432.1" cy="390.1" r="1.0" fill="#2ab3bf"/>
<circle cx="446.9" cy="399.7" r="1.0" fill="#2ab3bf"/>
<circle cx="459.5" cy="383.0" r="1.0" fill="#2ab3bf"/>
<circle cx="453.7" cy="397.3" r="1.0" fill="#2ab3bf"/>
<circle cx="455.5" cy="405.1" r="1.0" fill="#2ab3bf"/>
<circle cx="454.2" cy="409.8" r="1.0" fill="#2ab3bf"/>
<circle cx="434.1" cy="399.8" r="1.0" fill="#2ab3bf"/>
<circle cx="452.1" cy="383.6" r="1.0" fill="#2ab3bf"/>
<circle cx="427.3" cy="368.2" r="1.0" fill="#2ab3bf"/>
<circle cx="424.4" cy="369.4" r="1.0" fill="#2ab3bf"/>
<circle cx="413.3" cy="383.8" r="1.0" fill="#2ab3bf"/>
<circle cx="407.5" cy="396.3" r="1.0" fill="#2ab3bf"/>
<circle cx="450.4" cy="370.0" r="1.0" fill="#2ab3bf"/>
<circle cx="404.1" cy="385.7" r="1.0" fill="#2ab3bf"/>
<circle cx="438.0" cy="410.9" r="1.0" fill="#2ab3bf"/>
<circle cx="415.3" cy="400.2" r="1.0" fill="#2ab3bf"/>
<circle cx="438.7" cy="372.5" r="1.0" fill="#2ab3bf"/>
<circle cx="412.0" cy="375.7" r="1.0" fill="#2ab3bf"/>
<circle cx="411.2" cy="402.4" r="1.0" fill="#2ab3bf"/>
<circle cx="420.3" cy="390.7" r="1.0" fill="#2ab3bf"/>
<circle cx="453.1" cy="386.9" r="1.0" fill="#2ab3bf"/>
<circle cx="435.6" cy="413.6" r="1.0" fill="#2ab3bf"/>
<circle cx="431.4" cy="372.4" r="1.0" fill="#2ab3bf"/>
<circle cx="452.1" cy="381.6" r="1.0" fill="#2ab3bf"/>
<circle cx="434.3" cy="388.9" r="1.0" fill="#2ab3bf"/>
<circle cx="442.7" cy="373.3" r="1.0" fill="#2ab3bf"/>
<circle cx="424.2" cy="404.6" r="1.0" fill="#2ab3bf"/>
<circle cx="446.4" cy="393.9" r="1.0" fill="#2ab3bf"/>
<circle cx="420.9" cy="374.5" r="1.0" fill="#2ab3bf"/>
<circle cx="456.5" cy="388.9" r="1.0" fill="#2ab3bf"/>
<circle cx="417.3" cy="389.9" r="1.0" fill="#2ab3bf"/>
<circle cx="455.0" cy="406.0" r="1.0" fill="#2ab3bf"/>
<circle cx="431.2" cy="386.2" r="1.0" fill="#2ab3bf"/>
<circle cx="462.1" cy="392.9" r="1.0" fill="#2ab3bf"/>
<circle cx="455.7" cy="377.0" r="1.0" fill="#2ab3bf"/>
<circle cx="451.3" cy="383.4" r="1.0" fill="#2ab3bf"/>
<circle cx="435.3" cy="389.4" r="1.0" fill="#2ab3bf"/>
<circle cx="420.2" cy="377.4" r="1.0" fill="#2ab3bf"/>
<circle cx="430.4" cy="400.0" r="1.0" fill="#2ab3bf"/>
<circle cx="423.4" cy="398.5" r="1.0" fill="#2ab3bf"/>
<circle cx="406.9" cy="382.1" r="1.0" fill="#2ab3bf"/>
<circle cx="430.0" cy="414.1" r="1.0" fill="#2ab3bf"/>
<circle cx="453.9" cy="396.6" r="1.0" fill="#2ab3bf"/>
<circle cx="446.2" cy="373.3" r="1.0" fill="#2ab3bf"/>
<circle cx="436.7" cy="385.7" r="1.0" fill="#2ab3bf"/>
<circle cx="452.0" cy="371.6" r="1.0" fill="#2ab3bf"/>
<circle cx="440.0" cy="376.3" r="1.0" fill="#2ab3bf"/>
<circle cx="424.4" cy="390.2" r="1.0" fill="#2ab3bf"/>
<circle cx="419.4" cy="378.9" r="1.0" fill="#2ab3bf"/>
<circle cx="425.5" cy="397.3" r="1.0" fill="#2ab3bf"/>
<circle cx="416.7" cy="371.2" r="1.0" fill="#2ab3bf"/>
<circle cx="447.5" cy="378.4" r="1.0" fill="#2ab3bf"/>
<circle cx="461.4" cy="391.5" r="1.0" fill="#2ab3bf"/>
<circle cx="447.0" cy="378.6" r="1.0" fill="#2ab3bf"/>
<circle cx="444.1" cy="399.7" r="1.0" fill="#2ab3bf"/>
<circle cx="411.7" cy="382.5" r="1.0" fill="#2ab3bf"/>
<circle cx="454.4" cy="393.2" r="1.0" fill="#2ab3bf"/>
<circle cx="459.8" cy="383.9" r="1.0" fill="#2ab3bf"/>
<circle cx="433.3" cy="396.2" r="1.0" fill="#2ab3bf"/>
<circle cx="449.8" cy="406.0" r="1.0" fill="#2ab3bf"/>
<circle cx="425.1" cy="378.6" r="1.0" fill="#2ab3bf"/>
<circle cx="426.0" cy="399.2" r="1.0" fill="#2ab3bf"/>
<circle cx="442.9" cy="394.1" r="1.0" fill="#2ab3bf"/>
<circle cx="422.2" cy="396.4" r="1.0" fill="#2ab3bf"/>
<circle cx="406.9" cy="381.1" r="1.0" fill="#2ab3bf"/>
<circle cx="433.1" cy="404.2" r="1.0" fill="#2ab3bf"/>
<circle cx="453.6" cy="394.2" r="1.0" fill="#2ab3bf"/>
<circle cx="410.3" cy="402.9" r="1.0" fill="#2ab3bf"/>
<circle cx="458.7" cy="390.7" r="1.0" fill="#2ab3bf"/>
<circle cx="422.9" cy="388.0" r="1.0" fill="#2ab3bf"/>
<circle cx="409.2" cy="400.0" r="1.0" fill="#2ab3bf"/>
<circle cx="446.5" cy="406.8" r="1.0" fill="#2ab3bf"/>
<circle cx="440.8" cy="371.1" r="1.0" fill="#2ab3bf"/>
<circle cx="437.5" cy="399.0" r="1.0" fill="#2ab3bf"/>
<circle cx="423.5" cy="385.9" r="1.0" fill="#2ab3bf"/>
<circle cx="435.3" cy="391.4" r="1.0" fill="#2ab3bf"/>
<circle cx="436.4" cy="374.8" r="1.0" fill="#2ab3bf"/>
<circle cx="453.1" cy="393.7" r="1.0" fill="#2ab3bf"/>
<circle cx="415.7" cy="392.1" r="1.0" fill="#2ab3bf"/>
<circle cx="435.6" cy="364.3" r="1.0" fill="#2ab3bf"/>
<circle cx="442.8" cy="377.2" r="1.0" fill="#2ab3bf"/>
<circle cx="443.6" cy="401.3" r="1.0" fill="#2ab3bf"/>
<circle cx="424.8" cy="393.1" r="1.0" fill="#2ab3bf"/>
<circle cx="413.0" cy="386.2" r="1.0" fill="#2ab3bf"/>
<circle cx="409.3" cy="381.6" r="1.0" fill="#2ab3bf"/>
<circle cx="437.0" cy="369.7" r="1.0" fill="#2ab3bf"/>
<circle cx="433.8" cy="374.8" r="1.0" fill="#2ab3bf"/>
<circle cx="436.9" cy="378.6" r="1.0" fill="#2ab3bf"/>
<circle cx="443.6" cy="368.1" r="1.0" fill="#2ab3bf"/>
<circle cx="462.4" cy="393.6" r="1.0" fill="#2ab3bf"/>
<circle cx="430.5" cy="383.0" r="1.0" fill="#2ab3bf"/>
<circle cx="440.5" cy="398.6" r="1.0" fill="#2ab3bf"/>
<circle cx="449.3" cy="402.1" r="1.0" fill="#2ab3bf"/>
<circle cx="454.5" cy="407.9" r="1.0" fill="#2ab3bf"/>
<circle cx="426.6" cy="384.3" r="1.0" fill="#2ab3bf"/>
<circle cx="436.8" cy="410.7" r="1.0" fill="#2ab3bf"/>
<circle cx="434.2" cy="389.4" r="1.0" fill="#2ab3bf"/>
<circle cx="428.1" cy="410.6" r="1.0" fill="#2ab3bf"/>
<circle cx="447.2" cy="410.4" r="1.0" fill="#2ab3bf"/>
<circle cx="447.6" cy="393.5" r="1.0" fill="#2ab3bf"/>
<circle cx="448.9" cy="377.1" r="1.0" fill="#2ab3bf"/>
<circle cx="438.6" cy="363.9" r="1.0" fill="#2ab3bf"/>
<circle cx="408.1" cy="385.0" r="1.0" fill="#2ab3bf"/>
<circle cx="432.7" cy="382.2" r="1.0" fill="#2ab3bf"/>
<circle cx="403.4" cy="398.9" r="1.0" fill="#2ab3bf"/>
<circle cx="434.2" cy="373.4" r="1.0" fill="#2ab3bf"/>
<circle cx="419.9" cy="382.1" r="1.0" fill="#2ab3bf"/>
<circle cx="443.3" cy="408.5" r="1.0" fill="#2ab3bf"/>
<circle cx="427.4" cy="405.1" r="1.0" fill="#2ab3bf"/>
<circle cx="414.4" cy="401.8" r="1.0" fill="#2ab3bf"/>
<circle cx="436.8" cy="410.6" r="1.0" fill="#2ab3bf"/>
<circle cx="408.0" cy="390.1" r="1.0" fill="#2ab3bf"/>
<circle cx="415.9" cy="376.8" r="1.0" fill="#2ab3bf"/>
<circle cx="425.8" cy="380.0" r="1.0" fill="#2ab3bf"/>
<circle cx="420.0" cy="387.9" r="1.0" fill="#2ab3bf"/>
<circle cx="430.7" cy="371.6" r="1.0" fill="#2ab3bf"/>
<circle cx="454.5" cy="379.8" r="1.0" fill="#2ab3bf"/>
<circle cx="430.7" cy="369.6" r="1.0" fill="#2ab3bf"/>
<circle cx="413.1" cy="395.4" r="1.0" fill="#2ab3bf"/>
<circle cx="447.2" cy="377.5" r="1.0" fill="#2ab3bf"/>
<circle cx="446.4" cy="367.6" r="1.0" fill="#2ab3bf"/>
<circle cx="445.2" cy="412.5" r="1.0" fill="#2ab3bf"/>
<circle cx="428.9" cy="364.4" r="1.0" fill="#2ab3bf"/>
<circle cx="414.5" cy="377.2" r="1.0" fill="#2ab3bf"/>
<circle cx="446.2" cy="371.0" r="1.0" fill="#2ab3bf"/>
<circle cx="443.2" cy="404.3" r="1.0" fill="#2ab3bf"/>
<circle cx="424.2" cy="397.1" r="1.0" fill="#2ab3bf"/>
<circle cx="457.5" cy="393.0" r="1.0" fill="#2ab3bf"/>
<circle cx="414.9" cy="376.9" r="1.0" fill="#2ab3bf"/>
<circle cx="460.2" cy="397.4" r="1.0" fill="#2ab3bf"/>
<circle cx="418.0" cy="395.8" r="1.0" fill="#2ab3bf"/>
<circle cx="428.6" cy="389.6" r="1.0" fill="#2ab3bf"/>
<circle cx="434.5" cy="362.5" r="1.0" fill="#2ab3bf"/>
<circle cx="439.0" cy="375.9" r="1.0" fill="#2ab3bf"/>
<circle cx="416.3" cy="405.0" r="1.0" fill="#2ab3bf"/>
<circle cx="449.1" cy="373.8" r="1.0" fill="#2ab3bf"/>
<circle cx="418.1" cy="390.7" r="1.0" fill="#2ab3bf"/>
<circle cx="430.0" cy="402.0" r="1.0" fill="#2ab3bf"/>
<circle cx="425.0" cy="412.0" r="1.0" fill="#2ab3bf"/>
<circle cx="432.5" cy="370.1" r="1.0" fill="#2ab3bf"/>
<circle cx="436.1" cy="396.1" r="1.0" fill="#2ab3bf"/>
<circle cx="423.4" cy="396.9" r="1.0" fill="#2ab3bf"/>
<circle cx="450.9" cy="388.9" r="1.0" fill="#2ab3bf"/>
<circle cx="432.9" cy="407.3" r="1.0" fill="#2ab3bf"/>
<circle cx="444.5" cy="389.1" r="1.0" fill="#2ab3bf"/>
<circle cx="439.5" cy="373.2" r="1.0" fill="#2ab3bf"/>
<circle cx="428.6" cy="403.3" r="1.0" fill="#2ab3bf"/>
<circle cx="451.1" cy="404.3" r="1.0" fill="#2ab3bf"/>
<circle cx="415.3" cy="387.4" r="1.0" fill="#2ab3bf"/>
<circle cx="414.4" cy="392.5" r="1.0" fill="#2ab3bf"/>
<circle cx="432.4" cy="362.0" r="1.0" fill="#2ab3bf"/>
<circle cx="438.8" cy="400.0" r="1.0" fill="#2ab3bf"/>
<circle cx="437.2" cy="408.9" r="1.0" fill="#2ab3bf"/>
<circle cx="428.3" cy="384.7" r="1.0" fill="#2ab3bf"/>
<circle cx="417.1" cy="404.7" r="1.0" fill="#2ab3bf"/>
<circle cx="437.0" cy="390.4" r="1.0" fill="#2ab3bf"/>
<circle cx="451.5" cy="373.3" r="1.0" fill="#2ab3bf"/>
<circle cx="409.5" cy="377.4" r="1.0" fill="#2ab3bf"/>
<circle cx="440.4" cy="389.4" r="1.0" fill="#2ab3bf"/>
<circle cx="417.2" cy="393.0" r="1.0" fill="#2ab3bf"/>
<circle cx="410.4" cy="398.7" r="1.0" fill="#2ab3bf"/>
<circle cx="454.0" cy="404.1" r="1.0" fill="#2ab3bf"/>
<circle cx="404.0" cy="383.0" r="1.0" fill="#2ab3bf"/>
<circle cx="423.7" cy="372.1" r="1.0" fill="#2ab3bf"/>
<circle cx="431.8" cy="402.6" r="1.0" fill="#2ab3bf"/>
<circle cx="429.6" cy="401.7" r="1.0" fill="#2ab3bf"/>
<circle cx="425.5" cy="376.7" r="1.0" fill="#2ab3bf"/>
<circle cx="449.6" cy="401.1" r="1.0" fill="#2ab3bf"/>
<circle cx="414.9" cy="374.2" r="1.0" fill="#2ab3bf"/>
<circle cx="435.9" cy="373.5" r="1.0" fill="#2ab3bf"/>
<circle cx="430.0" cy="412.2" r="1.0" fill="#2ab3bf"/>
<circle cx="423.7" cy="378.9" r="1.0" fill="#2ab3bf"/>
<circle cx="422.3" cy="398.9" r="1.0" fill="#2ab3bf"/>
<circle cx="456.2" cy="393.1" r="1.0" fill="#2ab3bf"/>
<circle cx="457.6" cy="385.9" r="1.0" fill="#2ab3bf"/>
<circle cx="425.5" cy="407.2" r="1.0" fill="#2ab3bf"/>
<circle cx="424.8" cy="403.8" r="1.0" fill="#2ab3bf"/>
<circle cx="414.0" cy="379.5" r="1.0" fill="#2ab3bf"/>
<circle cx="411.9" cy="390.8" r="1.0" fill="#2ab3bf"/>
<circle cx="413.9" cy="386.2" r="1.0" fill="#2ab3bf"/>
<circle cx="420.1" cy="385.0" r="1.0" fill="#2ab3bf"/>
<circle cx="444.9" cy="380.3" r="1.0" fill="#2ab3bf"/>
<circle cx="425.5" cy="411.7" r="1.0" fill="#2ab3bf"/>
<circle cx="446.5" cy="375.0" r="1.0" fill="#2ab3bf"/>
<circle cx="423.5" cy="368.6" r="1.0" fill="#2ab3bf"/>
<circle cx="449.8" cy="400.5" r="1.0" fill="#2ab3bf"/>
<circle cx="420.9" cy="381.5" r="1.0" fill="#2ab3bf"/>
<circle cx="421.1" cy="403.2" r="1.0" fill="#2ab3bf"/>
<circle cx="384.2" cy="345.4" r="1.0" fill="#2ab3bf"/>
<circle cx="383.5" cy="346.5" r="1.0" fill="#2ab3bf"/>
<circle cx="386.4" cy="345.8" r="1.0" fill="#2ab3bf"/>
<circle cx="384.5" cy="345.2" r="1.0" fill="#2ab3bf"/>
<circle cx="384.0" cy="347.6" r="1.0" fill="#2ab3bf"/>
<circle cx="383.7" cy="345.2" r="1.0" fill="#2ab3bf"/>
<circle cx="384.5" cy="343.9" r="1.0" fill="#2ab3bf"/>
<circle cx="384.4" cy="342.3" r="1.0" fill="#2ab3bf"/>
<circle cx="386.0" cy="346.7" r="1.0" fill="#2ab3bf"/>
<circle cx="384.3" cy="348.9" r="1.0" fill="#2ab3bf"/>
<circle cx="383.0" cy="346.7" r="1.0" fill="#2ab3bf"/>
<circle cx="386.2" cy="344.3" r="1.0" fill="#2ab3bf"/>
<circle cx="384.4" cy="347.5" r="1.0" fill="#2ab3bf"/>
<circle cx="385.2" cy="346.1" r="1.0" fill="#2ab3bf"/>
<circle cx="388.5" cy="346.0" r="1.0" fill="#2ab3bf"/>
<circle cx="380.8" cy="343.9" r="1.0" fill="#2ab3bf"/>
<circle cx="387.1" cy="345.2" r="1.0" fill="#2ab3bf"/>
<circle cx="382.3" cy="341.2" r="1.0" fill="#2ab3bf"/>
<circle cx="385.8" cy="348.8" r="1.0" fill="#2ab3bf"/>
<circle cx="381.9" cy="340.8" r="1.0" fill="#2ab3bf"/>
<circle cx="386.2" cy="344.3" r="1.0" fill="#2ab3bf"/>
<circle cx="384.3" cy="344.8" r="1.0" fill="#2ab3bf"/>
<circle cx="382.8" cy="346.5" r="1.0" fill="#2ab3bf"/>
<circle cx="387.3" cy="346.3" r="1.0" fill="#2ab3bf"/>
<circle cx="383.6" cy="347.8" r="1.0" fill="#2ab3bf"/>
<circle cx="384.7" cy="346.8" r="1.0" fill="#2ab3bf"/>
<circle cx="382.7" cy="346.9" r="1.0" fill="#2ab3bf"/>
<circle cx="386.8" cy="348.3" r="1.0" fill="#2ab3bf"/>
<circle cx="385.1" cy="346.5" r="1.0" fill="#2ab3bf"/>
<circle cx="383.6" cy="347.4" r="1.0" fill="#2ab3bf"/>
<circle cx="389.8" cy="350.6" r="1.0" fill="#2ab3bf"/>
<circle cx="396.4" cy="350.2" r="1.0" fill="#2ab3bf"/>
<circle cx="396.4" cy="343.3" r="1.0" fill="#2ab3bf"/>
<circle cx="392.7" cy="347.7" r="1.0" fill="#2ab3bf"/>
<circle cx="388.8" cy="348.3" r="1.0" fill="#2ab3bf"/>
<circle cx="388.7" cy="349.4" r="1.0" fill="#2ab3bf"/>
<circle cx="395.0" cy="349.1" r="1.0" fill="#2ab3bf"/>
<circle cx="391.9" cy="346.3" r="1.0" fill="#2ab3bf"/>
<circle cx="388.3" cy="347.5" r="1.0" fill="#2ab3bf"/>
<circle cx="398.7" cy="350.4" r="1.0" fill="#2ab3bf"/>
<circle cx="391.1" cy="351.7" r="1.0" fill="#2ab3bf"/>
<circle cx="390.2" cy="349.1" r="1.0" fill="#2ab3bf"/>
<circle cx="395.4" cy="355.4" r="1.0" fill="#2ab3bf"/>
<circle cx="392.4" cy="350.5" r="1.0" fill="#2ab3bf"/>
<circle cx="419.6" cy="341.7" r="1.0" fill="#2ab3bf"/>
<circle cx="416.2" cy="341.2" r="1.0" fill="#2ab3bf"/>
<circle cx="416.4" cy="343.2" r="1.0" fill="#2ab3bf"/>
<circle cx="417.1" cy="344.9" r="1.0" fill="#2ab3bf"/>
<circle cx="418.4" cy="341.6" r="1.0" fill="#2ab3bf"/>
<circle cx="417.8" cy="342.3" r="1.0" fill="#2ab3bf"/>
<circle cx="418.5" cy="343.7" r="1.0" fill="#2ab3bf"/>
<circle cx="417.1" cy="343.6" r="1.0" fill="#2ab3bf"/>
<circle cx="418.2" cy="342.4" r="1.0" fill="#2ab3bf"/>
<circle cx="417.8" cy="343.4" r="1.0" fill="#2ab3bf"/>
<circle cx="417.1" cy="341.6" r="1.0" fill="#2ab3bf"/>
<circle cx="419.1" cy="342.5" r="1.0" fill="#2ab3bf"/>
<circle cx="416.7" cy="343.1" r="1.0" fill="#2ab3bf"/>
<circle cx="415.6" cy="342.6" r="1.0" fill="#2ab3bf"/>
<circle cx="411.7" cy="346.6" r="1.0" fill="#2ab3bf"/>
<circle cx="411.9" cy="348.5" r="1.0" fill="#2ab3bf"/>
<circle cx="417.6" cy="344.0" r="1.0" fill="#2ab3bf"/>
<circle cx="408.9" cy="349.0" r="1.0" fill="#2ab3bf"/>
<circle cx="408.4" cy="347.4" r="1.0" fill="#2ab3bf"/>
<circle cx="413.7" cy="347.2" r="1.0" fill="#2ab3bf"/>
<circle cx="417.5" cy="348.4" r="1.0" fill="#2ab3bf"/>
<circle cx="406.2" cy="346.6" r="1.0" fill="#2ab3bf"/>
<circle cx="410.9" cy="346.1" r="1.0" fill="#2ab3bf"/>
<circle cx="409.2" cy="343.6" r="1.0" fill="#2ab3bf"/>
<circle cx="414.5" cy="345.8" r="1.0" fill="#2ab3bf"/>
<circle cx="407.3" cy="343.2" r="1.0" fill="#2ab3bf"/>
<circle cx="417.0" cy="349.6" r="1.0" fill="#2ab3bf"/>
<circle cx="417.5" cy="349.1" r="1.0" fill="#2ab3bf"/>
<circle cx="416.2" cy="348.6" r="1.0" fill="#2ab3bf"/>
<circle cx="416.3" cy="354.3" r="1.0" fill="#2ab3bf"/>
<circle cx="416.3" cy="352.1" r="1.0" fill="#2ab3bf"/>
<circle cx="418.3" cy="352.3" r="1.0" fill="#2ab3bf"/>
<circle cx="401.3" cy="370.4" r="1.0" fill="#2ab3bf"/>
<circle cx="401.9" cy="360.6" r="1.0" fill="#2ab3bf"/>
<circle cx="400.5" cy="369.6" r="1.0" fill="#2ab3bf"/>
<circle cx="401.5" cy="364.7" r="1.0" fill="#2ab3bf"/>
<circle cx="400.4" cy="368.6" r="1.0" fill="#2ab3bf"/>
<circle cx="399.9" cy="363.9" r="1.0" fill="#2ab3bf"/>
<circle cx="394.3" cy="373.3" r="1.0" fill="#2ab3bf"/>
<circle cx="397.9" cy="373.8" r="1.0" fill="#2ab3bf"/>
<circle cx="396.0" cy="370.9" r="1.0" fill="#2ab3bf"/>
<circle cx="396.9" cy="372.4" r="1.0" fill="#2ab3bf"/>
<circle cx="397.8" cy="373.6" r="1.0" fill="#2ab3bf"/>
<circle cx="404.7" cy="425.6" r="1.0" fill="#2ab3bf"/>
<circle cx="402.9" cy="423.5" r="1.0" fill="#2ab3bf"/>
<circle cx="403.6" cy="424.7" r="1.0" fill="#2ab3bf"/>
<circle cx="399.8" cy="422.6" r="1.0" fill="#2ab3bf"/>
<circle cx="404.4" cy="424.3" r="1.0" fill="#2ab3bf"/>
<circle cx="402.8" cy="423.0" r="1.0" fill="#2ab3bf"/>
<circle cx="402.3" cy="423.3" r="1.0" fill="#2ab3bf"/>
<circle cx="408.4" cy="422.6" r="1.0" fill="#2ab3bf"/>
<circle cx="406.2" cy="425.3" r="1.0" fill="#2ab3bf"/>
<circle cx="403.9" cy="424.8" r="1.0" fill="#2ab3bf"/>
<circle cx="402.8" cy="427.0" r="1.0" fill="#2ab3bf"/>
<circle cx="404.4" cy="424.5" r="1.0" fill="#2ab3bf"/>
<circle cx="403.3" cy="424.8" r="1.0" fill="#2ab3bf"/>
<circle cx="401.5" cy="424.0" r="1.0" fill="#2ab3bf"/>
<circle cx="402.4" cy="425.5" r="1.0" fill="#2ab3bf"/>
<circle cx="404.6" cy="421.6" r="1.0" fill="#2ab3bf"/>
<circle cx="403.1" cy="426.1" r="1.0" fill="#2ab3bf"/>
<circle cx="401.2" cy="422.7" r="1.0" fill="#2ab3bf"/>
<circle cx="406.0" cy="417.6" r="1.0" fill="#2ab3bf"/>
<circle cx="404.9" cy="416.0" r="1.0" fill="#2ab3bf"/>
<circle cx="405.2" cy="411.9" r="1.0" fill="#2ab3bf"/>
<circle cx="404.5" cy="411.2" r="1.0" fill="#2ab3bf"/>
<circle cx="405.7" cy="415.4" r="1.0" fill="#2ab3bf"/>
<circle cx="404.7" cy="411.3" r="1.0" fill="#2ab3bf"/>
<circle cx="404.9" cy="416.2" r="1.0" fill="#2ab3bf"/>
<circle cx="405.2" cy="411.6" r="1.0" fill="#2ab3bf"/>
<circle cx="381.0" cy="379.1" r="1.0" fill="#e8706a"/>
<circle cx="382.3" cy="381.7" r="1.0" fill="#e8706a"/>
<circle cx="381.1" cy="380.9" r="1.0" fill="#e8706a"/>
<circle cx="382.6" cy="380.2" r="1.0" fill="#e8706a"/>
<circle cx="383.2" cy="379.2" r="1.0" fill="#e8706a"/>
<circle cx="383.0" cy="380.5" r="1.0" fill="#e8706a"/>
<circle cx="375.9" cy="380.5" r="1.0" fill="#e8706a"/>
<circle cx="383.1" cy="382.9" r="1.0" fill="#e8706a"/>
<circle cx="380.1" cy="380.2" r="1.0" fill="#e8706a"/>
<circle cx="382.6" cy="378.6" r="1.0" fill="#e8706a"/>
<circle cx="384.1" cy="380.7" r="1.0" fill="#e8706a"/>
<circle cx="380.6" cy="378.3" r="1.0" fill="#e8706a"/>
<circle cx="381.3" cy="383.5" r="1.0" fill="#e8706a"/>
<circle cx="385.8" cy="376.4" r="1.0" fill="#e8706a"/>
<circle cx="378.8" cy="381.0" r="1.0" fill="#e8706a"/>
<circle cx="381.8" cy="379.1" r="1.0" fill="#e8706a"/>
<circle cx="383.1" cy="380.2" r="1.0" fill="#e8706a"/>
<circle cx="382.5" cy="380.4" r="1.0" fill="#e8706a"/>
<circle cx="380.1" cy="381.9" r="1.0" fill="#e8706a"/>
<circle cx="381.2" cy="381.7" r="1.0" fill="#e8706a"/>
<circle cx="383.2" cy="380.1" r="1.0" fill="#e8706a"/>
<circle cx="382.3" cy="379.9" r="1.0" fill="#e8706a"/>
<circle cx="390.3" cy="376.1" r="1.0" fill="#e8706a"/>
<circle cx="392.9" cy="375.4" r="1.0" fill="#e8706a"/>
<circle cx="389.0" cy="376.0" r="1.0" fill="#e8706a"/>
<circle cx="393.3" cy="375.7" r="1.0" fill="#e8706a"/>
<circle cx="394.9" cy="369.0" r="1.0" fill="#e8706a"/>
<circle cx="394.5" cy="372.0" r="1.0" fill="#e8706a"/>
<circle cx="392.1" cy="370.5" r="1.0" fill="#e8706a"/>
<circle cx="394.1" cy="368.2" r="1.0" fill="#e8706a"/>
<circle cx="390.8" cy="370.3" r="1.0" fill="#e8706a"/>
<circle cx="388.9" cy="371.7" r="1.0" fill="#e8706a"/>
<circle cx="387.9" cy="385.1" r="1.0" fill="#e8706a"/>
<circle cx="384.4" cy="383.4" r="1.0" fill="#e8706a"/>
<circle cx="384.2" cy="379.8" r="1.0" fill="#e8706a"/>
<circle cx="390.9" cy="380.2" r="1.0" fill="#e8706a"/>
<circle cx="381.1" cy="380.3" r="1.0" fill="#e8706a"/>
<circle cx="388.9" cy="379.1" r="1.0" fill="#e8706a"/>
<circle cx="388.9" cy="382.5" r="1.0" fill="#e8706a"/>
<circle cx="388.2" cy="378.8" r="1.0" fill="#e8706a"/>
<circle cx="414.5" cy="348.8" r="1.0" fill="#e8706a"/>
<circle cx="404.6" cy="425.0" r="1.0" fill="#e8706a"/>
<circle cx="399.5" cy="372.5" r="1.0" fill="#e8706a"/>
<line x1="374.3" y1="337.0" x2="374.3" y2="433.0" stroke="#5a5a5a" stroke-width="0.8"/>
<line x1="374.3" y1="433.0" x2="468.9" y2="433.0" stroke="#5a5a5a" stroke-width="0.8"/>
<line x1="371.5" y1="338.5" x2="374.3" y2="338.5" stroke="#5a5a5a" stroke-width="0.7"/>
<text x="368.2" y="341.6" font-size="8.3" fill="#3a3a3a" text-anchor="end" font-weight="normal">5</text>
<line x1="371.5" y1="361.8" x2="374.3" y2="361.8" stroke="#5a5a5a" stroke-width="0.7"/>
<text x="368.2" y="364.90000000000003" font-size="8.3" fill="#3a3a3a" text-anchor="end" font-weight="normal">2.5</text>
<line x1="371.5" y1="385.5" x2="374.3" y2="385.5" stroke="#5a5a5a" stroke-width="0.7"/>
<text x="368.2" y="388.6" font-size="8.3" fill="#3a3a3a" text-anchor="end" font-weight="normal">0</text>
<line x1="371.5" y1="408.8" x2="374.3" y2="408.8" stroke="#5a5a5a" stroke-width="0.7"/>
<text x="368.2" y="411.90000000000003" font-size="8.3" fill="#3a3a3a" text-anchor="end" font-weight="normal">-2.5</text>
<line x1="371.5" y1="431.9" x2="374.3" y2="431.9" stroke="#5a5a5a" stroke-width="0.7"/>
<text x="368.2" y="435.0" font-size="8.3" fill="#3a3a3a" text-anchor="end" font-weight="normal">-5</text>
<line x1="377.2" y1="433.0" x2="377.2" y2="435.6" stroke="#5a5a5a" stroke-width="0.7"/>
<text x="377.2" y="444.4" font-size="8.3" fill="#3a3a3a" text-anchor="middle" font-weight="normal">-5</text>
<line x1="401.1" y1="433.0" x2="401.1" y2="435.6" stroke="#5a5a5a" stroke-width="0.7"/>
<text x="401.1" y="444.4" font-size="8.3" fill="#3a3a3a" text-anchor="middle" font-weight="normal">-2.5</text>
<line x1="424.1" y1="433.0" x2="424.1" y2="435.6" stroke="#5a5a5a" stroke-width="0.7"/>
<text x="424.1" y="444.4" font-size="8.3" fill="#3a3a3a" text-anchor="middle" font-weight="normal">0</text>
<line x1="448.1" y1="433.0" x2="448.1" y2="435.6" stroke="#5a5a5a" stroke-width="0.7"/>
<text x="448.1" y="444.4" font-size="8.3" fill="#3a3a3a" text-anchor="middle" font-weight="normal">2.5</text>
<text x="406.8" y="458.4" font-size="9.2" fill="#3a3a3a" text-anchor="start" font-weight="normal" textLength="26.5" lengthAdjust="spacingAndGlyphs">UMAP1</text>
<text transform="translate(350.5,398.9) rotate(-90)" font-size="9.0" fill="#3a3a3a" textLength="27.9" lengthAdjust="spacingAndGlyphs">UMAP2</text>
<text x="165" y="339.0" font-size="8.8" fill="#2e2e2e" text-anchor="start" font-weight="normal" textLength="39.3" lengthAdjust="spacingAndGlyphs">PID15-ECs</text>
<line x1="214.9" y1="481.5" x2="251" y2="481.5" stroke="#7c7c7c" stroke-width="1.9"/>
<line x1="259" y1="481.5" x2="283.9" y2="481.5" stroke="#7c7c7c" stroke-width="1.9"/>
<circle cx="286.0" cy="481.5" r="0.7" fill="#7c7c7c"/>
<circle cx="288.5" cy="481.5" r="0.7" fill="#7c7c7c"/>
<circle cx="290.5" cy="481.5" r="0.7" fill="#7c7c7c"/>
<circle cx="198.3" cy="481.5" r="0.7" fill="#7c7c7c"/>
<circle cx="203.0" cy="481.5" r="0.7" fill="#7c7c7c"/>
<circle cx="209.5" cy="481.5" r="0.7" fill="#7c7c7c"/>
<circle cx="211.5" cy="481.5" r="0.7" fill="#7c7c7c"/>
<circle cx="276.7" cy="462.5" r="0.75" fill="#7c7c7c"/>
<circle cx="289.5" cy="465.7" r="0.75" fill="#7c7c7c"/>
<circle cx="271.0" cy="474.0" r="0.75" fill="#7c7c7c"/>
<circle cx="278.3" cy="472.9" r="0.75" fill="#7c7c7c"/>
<circle cx="287.1" cy="472.1" r="0.75" fill="#7c7c7c"/>
<circle cx="292.7" cy="472.9" r="0.75" fill="#7c7c7c"/>
<circle cx="277.5" cy="467.3" r="0.75" fill="#7c7c7c"/>
<circle cx="279.9" cy="476.1" r="0.75" fill="#7c7c7c"/>
<circle cx="275.1" cy="477.7" r="0.75" fill="#7c7c7c"/>
<circle cx="276.7" cy="464.1" r="0.75" fill="#7c7c7c"/>
<circle cx="282.0" cy="466.0" r="0.75" fill="#7c7c7c"/>
<circle cx="284.5" cy="468.0" r="0.75" fill="#7c7c7c"/>
<circle cx="280.5" cy="470.0" r="0.75" fill="#7c7c7c"/>
<circle cx="277.0" cy="470.5" r="0.75" fill="#7c7c7c"/>
<circle cx="286.0" cy="476.0" r="0.75" fill="#7c7c7c"/>
<circle cx="282.0" cy="478.5" r="0.75" fill="#7c7c7c"/>
<circle cx="273.5" cy="479.0" r="0.75" fill="#7c7c7c"/>
<circle cx="276.5" cy="480.0" r="0.75" fill="#7c7c7c"/>
<circle cx="279.5" cy="479.5" r="0.75" fill="#7c7c7c"/>
<circle cx="283.0" cy="474.5" r="0.75" fill="#7c7c7c"/>
<circle cx="288.0" cy="468.5" r="0.75" fill="#7c7c7c"/>
<circle cx="274.0" cy="471.5" r="0.75" fill="#7c7c7c"/>
<circle cx="205.2" cy="461.7" r="0.75" fill="#7c7c7c"/>
<circle cx="212.5" cy="463.8" r="0.75" fill="#7c7c7c"/>
<circle cx="218.9" cy="466.0" r="0.75" fill="#7c7c7c"/>
<circle cx="225.3" cy="462.8" r="0.75" fill="#7c7c7c"/>
<circle cx="218.9" cy="474.2" r="0.75" fill="#7c7c7c"/>
<circle cx="218.6" cy="479.8" r="0.75" fill="#7c7c7c"/>
<circle cx="198.8" cy="481.5" r="0.75" fill="#7c7c7c"/>
<circle cx="207.7" cy="481.5" r="0.75" fill="#7c7c7c"/>
<circle cx="210.5" cy="481.5" r="0.75" fill="#7c7c7c"/>
<circle cx="274.5" cy="461.0" r="0.75" fill="#7c7c7c"/>
<circle cx="275.5" cy="465.5" r="0.75" fill="#7c7c7c"/>
<circle cx="274.2" cy="468.5" r="0.75" fill="#7c7c7c"/>
<circle cx="276.0" cy="473.5" r="0.75" fill="#7c7c7c"/>
<circle cx="273.8" cy="476.0" r="0.75" fill="#7c7c7c"/>
<circle cx="275.0" cy="481.0" r="0.75" fill="#7c7c7c"/>
<circle cx="283.5" cy="463.0" r="0.75" fill="#7c7c7c"/>
<circle cx="286.0" cy="461.0" r="0.75" fill="#7c7c7c"/>
<circle cx="290.0" cy="470.5" r="0.75" fill="#7c7c7c"/>
<circle cx="281.5" cy="481.0" r="0.75" fill="#7c7c7c"/>
<circle cx="284.8" cy="481.5" r="0.75" fill="#7c7c7c"/>
<circle cx="288.0" cy="481.5" r="0.75" fill="#7c7c7c"/>
<circle cx="291.0" cy="481.5" r="0.75" fill="#7c7c7c"/>
<circle cx="197.4" cy="392.0" r="0.8" fill="#4477cc"/>
<circle cx="206.4" cy="396.0" r="0.8" fill="#4477cc"/>
<circle cx="211.6" cy="404.6" r="0.8" fill="#4477cc"/>
<circle cx="211.7" cy="452.0" r="0.8" fill="#4477cc"/>
<circle cx="224.5" cy="456.5" r="0.8" fill="#4477cc"/>
<circle cx="298.7" cy="381.1" r="0.8" fill="#c8407f"/>
<circle cx="293.9" cy="394.9" r="0.8" fill="#c8407f"/>
<circle cx="307.9" cy="401.2" r="0.8" fill="#c8407f"/>
<circle cx="305.4" cy="405.8" r="0.8" fill="#c8407f"/>
<circle cx="308.1" cy="414.1" r="0.8" fill="#c8407f"/>
<circle cx="280.3" cy="419.3" r="0.8" fill="#c8407f"/>
<circle cx="297.0" cy="421.8" r="0.8" fill="#c8407f"/>
<circle cx="304.3" cy="428.1" r="0.8" fill="#c8407f"/>
<circle cx="276.8" cy="439.8" r="0.8" fill="#c8407f"/>
<circle cx="292.8" cy="442.9" r="0.8" fill="#c8407f"/>
<circle cx="288.7" cy="439.8" r="0.8" fill="#c8407f"/>
<circle cx="286.6" cy="445.4" r="0.8" fill="#c8407f"/>
<circle cx="283.0" cy="448.0" r="0.8" fill="#c8407f"/>
<circle cx="295.0" cy="448.5" r="0.8" fill="#c8407f"/>
<circle cx="278.0" cy="452.0" r="0.8" fill="#c8407f"/>
<circle cx="289.0" cy="452.5" r="0.8" fill="#c8407f"/>
<circle cx="300.0" cy="452.0" r="0.8" fill="#c8407f"/>
<circle cx="276.0" cy="456.0" r="0.8" fill="#c8407f"/>
<circle cx="283.0" cy="457.0" r="0.8" fill="#c8407f"/>
<circle cx="291.5" cy="456.5" r="0.8" fill="#c8407f"/>
<circle cx="282.0" cy="430.0" r="0.8" fill="#c8407f"/>
<circle cx="277.5" cy="444.0" r="0.8" fill="#c8407f"/>
<circle cx="280.5" cy="441.0" r="0.8" fill="#c8407f"/>
<circle cx="285.0" cy="451.0" r="0.8" fill="#c8407f"/>
<circle cx="279.5" cy="456.5" r="0.8" fill="#c8407f"/>
<circle cx="287.5" cy="458.0" r="0.8" fill="#c8407f"/>
<circle cx="294.5" cy="444.0" r="0.8" fill="#c8407f"/>
<circle cx="298.0" cy="449.0" r="0.8" fill="#c8407f"/>
<circle cx="302.5" cy="447.5" r="0.8" fill="#c8407f"/>
<circle cx="276.0" cy="449.5" r="0.8" fill="#c8407f"/>
<circle cx="202.6" cy="353.8" r="1.8" fill="#2050a6"/>
<circle cx="184.5" cy="386.8" r="1.8" fill="#2050a6"/>
<circle cx="208.9" cy="407.7" r="1.8" fill="#2050a6"/>
<circle cx="219.1" cy="442.2" r="1.8" fill="#2050a6"/>
<circle cx="314.8" cy="371.3" r="1.8" fill="#e41e26"/>
<circle cx="285.5" cy="436.5" r="1.8" fill="#e41e26"/>
<circle cx="300.2" cy="445.4" r="1.8" fill="#e41e26"/>
<circle cx="281.0" cy="446.9" r="1.8" fill="#e41e26"/>
<line x1="236.6" y1="348.4" x2="236.6" y2="488" stroke="#222" stroke-width="0.75" stroke-dasharray="2.2,1.6"/>
<line x1="273.5" y1="348.4" x2="273.5" y2="488" stroke="#222" stroke-width="0.75" stroke-dasharray="2.2,1.6"/>
<line x1="174" y1="459.1" x2="334" y2="459.1" stroke="#222" stroke-width="0.85" stroke-dasharray="6,1.5,1.1,1.5"/>
<text x="184.9" y="360.9" font-size="7.4" fill="#3a3a3a" text-anchor="start" font-weight="normal" font-style="italic" textLength="25.7" lengthAdjust="spacingAndGlyphs">Slco1a4</text>
<text x="187.0" y="389.6" font-size="7.4" fill="#3a3a3a" text-anchor="start" font-weight="normal" font-style="italic" textLength="21.5" lengthAdjust="spacingAndGlyphs">Cxcl12</text>
<text x="193.2" y="415.2" font-size="7.4" fill="#3a3a3a" text-anchor="start" font-weight="normal" font-style="italic" textLength="23.0" lengthAdjust="spacingAndGlyphs">Atp10a</text>
<text x="201.5" y="449.3" font-size="7.4" fill="#3a3a3a" text-anchor="start" font-weight="normal" font-style="italic" textLength="27.3" lengthAdjust="spacingAndGlyphs">Adipor2</text>
<text x="306.0" y="368.4" font-size="7.4" fill="#3a3a3a" text-anchor="start" font-weight="normal" font-style="italic" textLength="25.9" lengthAdjust="spacingAndGlyphs">Slco2a1</text>
<text x="279.5" y="434.0" font-size="7.4" fill="#3a3a3a" text-anchor="start" font-weight="normal" font-style="italic" textLength="17.5" lengthAdjust="spacingAndGlyphs">Cmip</text>
<text x="297.0" y="443.8" font-size="7.4" fill="#3a3a3a" text-anchor="start" font-weight="normal" font-style="italic" textLength="17.3" lengthAdjust="spacingAndGlyphs">Tacr1</text>
<text x="278.2" y="454.7" font-size="7.4" fill="#3a3a3a" text-anchor="start" font-weight="normal" font-style="italic" textLength="14.8" lengthAdjust="spacingAndGlyphs">Shoj</text>
<line x1="173.8" y1="347.6" x2="173.8" y2="488.1" stroke="#5a5a5a" stroke-width="0.8"/>
<line x1="173.8" y1="488.1" x2="334.5" y2="488.1" stroke="#5a5a5a" stroke-width="0.8"/>
<line x1="171.0" y1="378.3" x2="173.8" y2="378.3" stroke="#5a5a5a" stroke-width="0.7"/>
<text x="167.70000000000002" y="381.40000000000003" font-size="8.3" fill="#3a3a3a" text-anchor="end" font-weight="normal">6</text>
<line x1="171.0" y1="412.6" x2="173.8" y2="412.6" stroke="#5a5a5a" stroke-width="0.7"/>
<text x="167.70000000000002" y="415.70000000000005" font-size="8.3" fill="#3a3a3a" text-anchor="end" font-weight="normal">4</text>
<line x1="171.0" y1="447" x2="173.8" y2="447" stroke="#5a5a5a" stroke-width="0.7"/>
<text x="167.70000000000002" y="450.1" font-size="8.3" fill="#3a3a3a" text-anchor="end" font-weight="normal">2</text>
<line x1="171.0" y1="481.5" x2="173.8" y2="481.5" stroke="#5a5a5a" stroke-width="0.7"/>
<text x="167.70000000000002" y="484.6" font-size="8.3" fill="#3a3a3a" text-anchor="end" font-weight="normal">0</text>
<line x1="181" y1="488.1" x2="181" y2="490.70000000000005" stroke="#5a5a5a" stroke-width="0.7"/>
<text x="181" y="499.5" font-size="8.3" fill="#3a3a3a" text-anchor="middle" font-weight="normal">-4</text>
<line x1="218.4" y1="488.1" x2="218.4" y2="490.70000000000005" stroke="#5a5a5a" stroke-width="0.7"/>
<text x="218.4" y="499.5" font-size="8.3" fill="#3a3a3a" text-anchor="middle" font-weight="normal">-2</text>
<line x1="255" y1="488.1" x2="255" y2="490.70000000000005" stroke="#5a5a5a" stroke-width="0.7"/>
<text x="255" y="499.5" font-size="8.3" fill="#3a3a3a" text-anchor="middle" font-weight="normal">0</text>
<line x1="291.6" y1="488.1" x2="291.6" y2="490.70000000000005" stroke="#5a5a5a" stroke-width="0.7"/>
<text x="291.6" y="499.5" font-size="8.3" fill="#3a3a3a" text-anchor="middle" font-weight="normal">2</text>
<line x1="328.5" y1="488.1" x2="328.5" y2="490.70000000000005" stroke="#5a5a5a" stroke-width="0.7"/>
<text x="328.5" y="499.5" font-size="8.3" fill="#3a3a3a" text-anchor="middle" font-weight="normal">4</text>
<text x="221.8" y="513.6" font-size="8.6" fill="#3a3a3a" textLength="72.2" lengthAdjust="spacingAndGlyphs">log<tspan font-size="6" dy="2">2</tspan><tspan dy="-2"> (fold change)</tspan></text>
<text transform="translate(157.6,436.0) rotate(-90)" font-size="8.8" fill="#3a3a3a">−log<tspan font-size="6" dy="2.2">10</tspan><tspan dy="-2.2" font-style="italic">P</tspan><tspan font-size="6" dy="2.2">adj</tspan></text>
<text x="518.2" y="331.5" font-size="8.8" fill="#2e2e2e" text-anchor="start" font-weight="normal" textLength="40.1" lengthAdjust="spacingAndGlyphs">PID27-ECs</text>
<line x1="567.9" y1="480.9" x2="598.5" y2="480.9" stroke="#7c7c7c" stroke-width="1.9"/>
<line x1="605.1" y1="480.9" x2="631" y2="480.9" stroke="#7c7c7c" stroke-width="1.9"/>
<circle cx="582.5" cy="477.7" r="0.75" fill="#7c7c7c"/>
<circle cx="573.7" cy="479.9" r="0.75" fill="#7c7c7c"/>
<circle cx="570.2" cy="478.3" r="0.75" fill="#7c7c7c"/>
<circle cx="594.3" cy="476.4" r="0.75" fill="#7c7c7c"/>
<circle cx="585.0" cy="478.8" r="0.75" fill="#7c7c7c"/>
<circle cx="571.1" cy="477.7" r="0.75" fill="#7c7c7c"/>
<circle cx="589.0" cy="478.0" r="0.75" fill="#7c7c7c"/>
<circle cx="589.6" cy="476.7" r="0.75" fill="#7c7c7c"/>
<circle cx="576.4" cy="476.5" r="0.75" fill="#7c7c7c"/>
<circle cx="583.7" cy="480.2" r="0.75" fill="#7c7c7c"/>
<circle cx="585.9" cy="479.5" r="0.75" fill="#7c7c7c"/>
<circle cx="580.4" cy="479.4" r="0.75" fill="#7c7c7c"/>
<circle cx="572.7" cy="477.3" r="0.75" fill="#7c7c7c"/>
<circle cx="588.2" cy="479.3" r="0.75" fill="#7c7c7c"/>
<circle cx="581.4" cy="476.4" r="0.75" fill="#7c7c7c"/>
<circle cx="577.2" cy="476.9" r="0.75" fill="#7c7c7c"/>
<circle cx="577.6" cy="479.6" r="0.75" fill="#7c7c7c"/>
<circle cx="575.4" cy="480.0" r="0.75" fill="#7c7c7c"/>
<circle cx="593.7" cy="476.2" r="0.75" fill="#7c7c7c"/>
<circle cx="580.2" cy="478.2" r="0.75" fill="#7c7c7c"/>
<circle cx="570.6" cy="477.9" r="0.75" fill="#7c7c7c"/>
<circle cx="594.5" cy="476.5" r="0.75" fill="#7c7c7c"/>
<circle cx="586.1" cy="476.5" r="0.75" fill="#7c7c7c"/>
<circle cx="585.6" cy="480.0" r="0.75" fill="#7c7c7c"/>
<circle cx="575.5" cy="476.0" r="0.75" fill="#7c7c7c"/>
<circle cx="572.3" cy="478.4" r="0.75" fill="#7c7c7c"/>
<circle cx="570.5" cy="476.4" r="0.75" fill="#7c7c7c"/>
<circle cx="583.4" cy="480.1" r="0.75" fill="#7c7c7c"/>
<circle cx="581.3" cy="477.8" r="0.75" fill="#7c7c7c"/>
<circle cx="587.2" cy="476.4" r="0.75" fill="#7c7c7c"/>
<circle cx="585.7" cy="476.8" r="0.75" fill="#7c7c7c"/>
<circle cx="586.4" cy="480.3" r="0.75" fill="#7c7c7c"/>
<circle cx="571.5" cy="478.5" r="0.75" fill="#7c7c7c"/>
<circle cx="586.4" cy="476.7" r="0.75" fill="#7c7c7c"/>
<circle cx="577.2" cy="480.5" r="0.75" fill="#7c7c7c"/>
<circle cx="596.9" cy="476.5" r="0.75" fill="#7c7c7c"/>
<circle cx="589.0" cy="480.3" r="0.75" fill="#7c7c7c"/>
<circle cx="576.4" cy="478.8" r="0.75" fill="#7c7c7c"/>
<circle cx="571.2" cy="477.6" r="0.75" fill="#7c7c7c"/>
<circle cx="588.2" cy="478.7" r="0.75" fill="#7c7c7c"/>
<circle cx="590.9" cy="476.4" r="0.75" fill="#7c7c7c"/>
<circle cx="579.4" cy="479.9" r="0.75" fill="#7c7c7c"/>
<circle cx="585.8" cy="478.0" r="0.75" fill="#7c7c7c"/>
<circle cx="580.9" cy="480.4" r="0.75" fill="#7c7c7c"/>
<circle cx="585.5" cy="476.1" r="0.75" fill="#7c7c7c"/>
<circle cx="591.6" cy="477.5" r="0.75" fill="#7c7c7c"/>
<circle cx="581.7" cy="477.0" r="0.75" fill="#7c7c7c"/>
<circle cx="582.0" cy="477.5" r="0.75" fill="#7c7c7c"/>
<circle cx="572.4" cy="478.8" r="0.75" fill="#7c7c7c"/>
<circle cx="572.8" cy="479.5" r="0.75" fill="#7c7c7c"/>
<circle cx="570.7" cy="479.5" r="0.75" fill="#7c7c7c"/>
<circle cx="591.8" cy="478.2" r="0.75" fill="#7c7c7c"/>
<circle cx="589.2" cy="477.1" r="0.75" fill="#7c7c7c"/>
<circle cx="589.9" cy="477.9" r="0.75" fill="#7c7c7c"/>
<circle cx="576.2" cy="480.3" r="0.75" fill="#7c7c7c"/>
<circle cx="580.8" cy="477.7" r="0.75" fill="#7c7c7c"/>
<circle cx="593.2" cy="477.7" r="0.75" fill="#7c7c7c"/>
<circle cx="588.0" cy="476.8" r="0.75" fill="#7c7c7c"/>
<circle cx="592.8" cy="477.2" r="0.75" fill="#7c7c7c"/>
<circle cx="571.4" cy="480.4" r="0.75" fill="#7c7c7c"/>
<circle cx="574.7" cy="480.3" r="0.75" fill="#7c7c7c"/>
<circle cx="596.6" cy="478.7" r="0.75" fill="#7c7c7c"/>
<circle cx="570.3" cy="476.3" r="0.75" fill="#7c7c7c"/>
<circle cx="575.6" cy="477.7" r="0.75" fill="#7c7c7c"/>
<circle cx="586.5" cy="480.3" r="0.75" fill="#7c7c7c"/>
<circle cx="579.6" cy="476.6" r="0.75" fill="#7c7c7c"/>
<circle cx="585.2" cy="476.6" r="0.75" fill="#7c7c7c"/>
<circle cx="572.3" cy="478.5" r="0.75" fill="#7c7c7c"/>
<circle cx="588.8" cy="476.3" r="0.75" fill="#7c7c7c"/>
<circle cx="582.2" cy="479.2" r="0.75" fill="#7c7c7c"/>
<circle cx="625.9" cy="478.3" r="0.7" fill="#7c7c7c"/>
<circle cx="629.1" cy="477.6" r="0.7" fill="#7c7c7c"/>
<circle cx="624.6" cy="479.7" r="0.7" fill="#7c7c7c"/>
<circle cx="628.9" cy="478.7" r="0.7" fill="#7c7c7c"/>
<circle cx="608.6" cy="477.2" r="0.7" fill="#7c7c7c"/>
<circle cx="619.7" cy="477.6" r="0.7" fill="#7c7c7c"/>
<circle cx="622.4" cy="477.3" r="0.7" fill="#7c7c7c"/>
<circle cx="626.3" cy="477.8" r="0.7" fill="#7c7c7c"/>
<circle cx="606.3" cy="477.6" r="0.7" fill="#7c7c7c"/>
<circle cx="617.9" cy="479.0" r="0.7" fill="#7c7c7c"/>
<circle cx="616.1" cy="477.6" r="0.7" fill="#7c7c7c"/>
<circle cx="618.5" cy="480.3" r="0.7" fill="#7c7c7c"/>
<circle cx="619.9" cy="480.3" r="0.7" fill="#7c7c7c"/>
<circle cx="606.7" cy="480.5" r="0.7" fill="#7c7c7c"/>
<circle cx="629.1" cy="478.9" r="0.7" fill="#7c7c7c"/>
<circle cx="619.6" cy="478.9" r="0.7" fill="#7c7c7c"/>
<circle cx="629.6" cy="477.2" r="0.7" fill="#7c7c7c"/>
<circle cx="622.7" cy="478.9" r="0.7" fill="#7c7c7c"/>
<circle cx="613.8" cy="479.5" r="0.7" fill="#7c7c7c"/>
<circle cx="624.7" cy="477.4" r="0.7" fill="#7c7c7c"/>
<circle cx="624.2" cy="478.6" r="0.7" fill="#7c7c7c"/>
<circle cx="618.7" cy="479.2" r="0.7" fill="#7c7c7c"/>
<circle cx="584.5" cy="469.6" r="0.7" fill="#7c7c7c"/>
<circle cx="587.7" cy="474.1" r="0.7" fill="#7c7c7c"/>
<circle cx="586.3" cy="473.2" r="0.7" fill="#7c7c7c"/>
<circle cx="591.3" cy="470.0" r="0.7" fill="#7c7c7c"/>
<circle cx="592.8" cy="460.6" r="0.7" fill="#7c7c7c"/>
<circle cx="590.0" cy="469.8" r="0.7" fill="#7c7c7c"/>
<circle cx="590.8" cy="466.5" r="0.7" fill="#7c7c7c"/>
<circle cx="584.7" cy="463.0" r="0.7" fill="#7c7c7c"/>
<circle cx="590.1" cy="462.9" r="0.7" fill="#7c7c7c"/>
<circle cx="584.6" cy="465.7" r="0.7" fill="#7c7c7c"/>
<circle cx="588.7" cy="468.6" r="0.7" fill="#7c7c7c"/>
<circle cx="584.3" cy="472.4" r="0.7" fill="#7c7c7c"/>
<circle cx="587.3" cy="472.5" r="0.7" fill="#7c7c7c"/>
<circle cx="584.1" cy="475.3" r="0.7" fill="#7c7c7c"/>
<circle cx="586.5" cy="459.9" r="0.75" fill="#7c7c7c"/>
<circle cx="585.8" cy="465.2" r="0.75" fill="#7c7c7c"/>
<circle cx="590.5" cy="465.8" r="0.75" fill="#7c7c7c"/>
<circle cx="589.2" cy="470.5" r="0.75" fill="#7c7c7c"/>
<circle cx="592.5" cy="470.2" r="0.75" fill="#7c7c7c"/>
<circle cx="590.5" cy="473.8" r="0.75" fill="#7c7c7c"/>
<circle cx="592.5" cy="473.2" r="0.75" fill="#7c7c7c"/>
<circle cx="632.0" cy="475.5" r="0.75" fill="#7c7c7c"/>
<circle cx="635.0" cy="478.0" r="0.75" fill="#7c7c7c"/>
<circle cx="541.0" cy="373.7" r="0.8" fill="#4477cc"/>
<circle cx="544.9" cy="376.8" r="0.8" fill="#4477cc"/>
<circle cx="556.6" cy="388.9" r="0.8" fill="#4477cc"/>
<circle cx="576.0" cy="403.5" r="0.8" fill="#4477cc"/>
<circle cx="546.4" cy="405.2" r="0.8" fill="#4477cc"/>
<circle cx="542.6" cy="411.3" r="0.8" fill="#4477cc"/>
<circle cx="552.4" cy="410.2" r="0.8" fill="#4477cc"/>
<circle cx="551.0" cy="411.0" r="0.8" fill="#4477cc"/>
<circle cx="567.9" cy="422.7" r="0.8" fill="#4477cc"/>
<circle cx="568.6" cy="434.9" r="0.8" fill="#4477cc"/>
<circle cx="559.9" cy="437.5" r="0.8" fill="#4477cc"/>
<circle cx="561.9" cy="437.0" r="0.8" fill="#4477cc"/>
<circle cx="563.9" cy="440.6" r="0.8" fill="#4477cc"/>
<circle cx="573.9" cy="437.9" r="0.8" fill="#4477cc"/>
<circle cx="575.9" cy="437.5" r="0.8" fill="#4477cc"/>
<circle cx="582.5" cy="434.9" r="0.8" fill="#4477cc"/>
<circle cx="583.2" cy="437.5" r="0.8" fill="#4477cc"/>
<circle cx="584.5" cy="437.9" r="0.8" fill="#4477cc"/>
<circle cx="561.9" cy="446.3" r="0.8" fill="#4477cc"/>
<circle cx="569.9" cy="445.9" r="0.8" fill="#4477cc"/>
<circle cx="569.2" cy="447.9" r="0.8" fill="#4477cc"/>
<circle cx="581.2" cy="447.2" r="0.8" fill="#4477cc"/>
<circle cx="582.5" cy="448.2" r="0.8" fill="#4477cc"/>
<circle cx="579.9" cy="450.6" r="0.8" fill="#4477cc"/>
<circle cx="578.5" cy="451.9" r="0.8" fill="#4477cc"/>
<circle cx="581.2" cy="453.2" r="0.8" fill="#4477cc"/>
<circle cx="563.3" cy="459.9" r="0.8" fill="#4477cc"/>
<circle cx="567.2" cy="461.9" r="0.8" fill="#4477cc"/>
<circle cx="572.6" cy="459.9" r="0.8" fill="#4477cc"/>
<circle cx="575.2" cy="459.9" r="0.8" fill="#4477cc"/>
<circle cx="560.6" cy="463.9" r="0.8" fill="#4477cc"/>
<circle cx="561.3" cy="465.2" r="0.8" fill="#4477cc"/>
<circle cx="557.3" cy="468.5" r="0.8" fill="#4477cc"/>
<circle cx="567.9" cy="466.2" r="0.8" fill="#4477cc"/>
<circle cx="569.2" cy="465.8" r="0.8" fill="#4477cc"/>
<circle cx="571.9" cy="463.9" r="0.8" fill="#4477cc"/>
<circle cx="573.9" cy="465.2" r="0.8" fill="#4477cc"/>
<circle cx="575.9" cy="463.2" r="0.8" fill="#4477cc"/>
<circle cx="577.9" cy="465.8" r="0.8" fill="#4477cc"/>
<circle cx="579.9" cy="467.8" r="0.8" fill="#4477cc"/>
<circle cx="581.2" cy="468.5" r="0.8" fill="#4477cc"/>
<circle cx="582.5" cy="469.8" r="0.8" fill="#4477cc"/>
<circle cx="584.5" cy="469.2" r="0.8" fill="#4477cc"/>
<circle cx="571.9" cy="474.5" r="0.8" fill="#4477cc"/>
<circle cx="573.2" cy="475.1" r="0.8" fill="#4477cc"/>
<circle cx="566.0" cy="470.0" r="0.8" fill="#4477cc"/>
<circle cx="568.0" cy="472.5" r="0.8" fill="#4477cc"/>
<circle cx="576.0" cy="471.0" r="0.8" fill="#4477cc"/>
<circle cx="570.0" cy="468.0" r="0.8" fill="#4477cc"/>
<circle cx="582.6" cy="475.9" r="0.8" fill="#4477cc"/>
<circle cx="585.4" cy="475.1" r="0.8" fill="#4477cc"/>
<circle cx="579.2" cy="472.4" r="0.8" fill="#4477cc"/>
<circle cx="580.1" cy="474.8" r="0.8" fill="#4477cc"/>
<circle cx="579.8" cy="471.7" r="0.8" fill="#4477cc"/>
<circle cx="579.3" cy="471.2" r="0.8" fill="#4477cc"/>
<circle cx="585.1" cy="475.9" r="0.8" fill="#4477cc"/>
<circle cx="581.1" cy="474.6" r="0.8" fill="#4477cc"/>
<circle cx="581.8" cy="473.4" r="0.8" fill="#4477cc"/>
<circle cx="581.1" cy="474.0" r="0.8" fill="#4477cc"/>
<circle cx="580.2" cy="471.9" r="0.8" fill="#4477cc"/>
<circle cx="582.1" cy="471.6" r="0.8" fill="#4477cc"/>
<circle cx="581.6" cy="475.7" r="0.8" fill="#4477cc"/>
<circle cx="578.7" cy="471.1" r="0.8" fill="#4477cc"/>
<circle cx="584.1" cy="470.8" r="0.8" fill="#4477cc"/>
<circle cx="580.3" cy="475.2" r="0.8" fill="#4477cc"/>
<circle cx="582.7" cy="471.7" r="0.8" fill="#4477cc"/>
<circle cx="578.9" cy="472.0" r="0.8" fill="#4477cc"/>
<circle cx="580.6" cy="474.9" r="0.8" fill="#4477cc"/>
<circle cx="585.3" cy="474.8" r="0.8" fill="#4477cc"/>
<circle cx="584.8" cy="475.6" r="0.8" fill="#4477cc"/>
<circle cx="584.6" cy="475.6" r="0.8" fill="#4477cc"/>
<circle cx="585.3" cy="471.0" r="0.8" fill="#4477cc"/>
<circle cx="580.7" cy="471.9" r="0.8" fill="#4477cc"/>
<circle cx="582.7" cy="473.2" r="0.8" fill="#4477cc"/>
<circle cx="580.9" cy="475.1" r="0.8" fill="#4477cc"/>
<circle cx="581.3" cy="471.6" r="0.8" fill="#4477cc"/>
<circle cx="580.4" cy="473.0" r="0.8" fill="#4477cc"/>
<circle cx="582.8" cy="473.6" r="0.8" fill="#4477cc"/>
<circle cx="581.6" cy="471.5" r="0.8" fill="#4477cc"/>
<circle cx="539.9" cy="342.8" r="1.9" fill="#2050a6"/>
<circle cx="537.8" cy="440.1" r="1.9" fill="#2050a6"/>
<circle cx="561.4" cy="463.7" r="1.9" fill="#2050a6"/>
<circle cx="575.0" cy="469.4" r="1.9" fill="#2050a6"/>
<circle cx="560.5" cy="462.3" r="1.5" fill="#2050a6"/>
<circle cx="630.0" cy="455.0" r="0.8" fill="#c8407f"/>
<circle cx="626.1" cy="459.1" r="0.8" fill="#c8407f"/>
<circle cx="641.3" cy="462.7" r="0.8" fill="#c8407f"/>
<circle cx="622.0" cy="467.0" r="0.8" fill="#c8407f"/>
<circle cx="627.0" cy="466.0" r="0.8" fill="#c8407f"/>
<circle cx="635.0" cy="468.0" r="0.8" fill="#c8407f"/>
<circle cx="638.0" cy="470.0" r="0.8" fill="#c8407f"/>
<circle cx="620.0" cy="471.0" r="0.8" fill="#c8407f"/>
<circle cx="624.0" cy="472.5" r="0.8" fill="#c8407f"/>
<circle cx="629.0" cy="473.5" r="0.8" fill="#c8407f"/>
<circle cx="633.0" cy="472.0" r="0.8" fill="#c8407f"/>
<circle cx="617.5" cy="475.0" r="0.8" fill="#c8407f"/>
<circle cx="621.0" cy="476.0" r="0.8" fill="#c8407f"/>
<circle cx="626.0" cy="475.5" r="0.8" fill="#c8407f"/>
<circle cx="640.0" cy="474.0" r="0.8" fill="#c8407f"/>
<circle cx="636.0" cy="475.5" r="0.8" fill="#c8407f"/>
<circle cx="629.0" cy="470.5" r="0.8" fill="#c8407f"/>
<circle cx="631.0" cy="466.5" r="0.8" fill="#c8407f"/>
<circle cx="649.8" cy="463.9" r="1.9" fill="#e41e26"/>
<circle cx="645.7" cy="467.6" r="1.9" fill="#e41e26"/>
<circle cx="631.7" cy="470.0" r="1.9" fill="#e41e26"/>
<line x1="586.6" y1="336" x2="586.6" y2="487.3" stroke="#222" stroke-width="0.75" stroke-dasharray="2.2,1.6"/>
<line x1="616.5" y1="336" x2="616.5" y2="487.3" stroke="#222" stroke-width="0.75" stroke-dasharray="2.2,1.6"/>
<line x1="518.2" y1="476.5" x2="685" y2="476.5" stroke="#222" stroke-width="0.85" stroke-dasharray="6,1.5,1.1,1.5"/>
<text x="525.9" y="352.8" font-size="7.4" fill="#3a3a3a" text-anchor="start" font-weight="normal" font-style="italic" textLength="26.1" lengthAdjust="spacingAndGlyphs">Slco1a4</text>
<text x="529.0" y="435.9" font-size="7.4" fill="#3a3a3a" text-anchor="start" font-weight="normal" font-style="italic" textLength="12.6" lengthAdjust="spacingAndGlyphs">Bsg</text>
<text x="538.9" y="461.8" font-size="7.4" fill="#3a3a3a" text-anchor="start" font-weight="normal" font-style="italic" textLength="21.0" lengthAdjust="spacingAndGlyphs">Slc2a1</text>
<text x="563.9" y="456.1" font-size="7.4" fill="#3a3a3a" text-anchor="start" font-weight="normal" font-style="italic" textLength="30.6" lengthAdjust="spacingAndGlyphs">Slc39a10</text>
<line x1="579.2" y1="457.9" x2="575.9" y2="467.2" stroke="#333" stroke-width="0.5"/>
<text x="619.6" y="466.3" font-size="7.4" fill="#3a3a3a" text-anchor="start" font-weight="normal" font-style="italic" textLength="16.9" lengthAdjust="spacingAndGlyphs">Nav3</text>
<line x1="627" y1="466.5" x2="631" y2="469.5" stroke="#333" stroke-width="0.5"/>
<text x="639.7" y="460.3" font-size="7.4" fill="#3a3a3a" text-anchor="start" font-weight="normal" font-style="italic" textLength="25.8" lengthAdjust="spacingAndGlyphs">Slco2a1</text>
<text x="650.3" y="473.6" font-size="7.4" fill="#3a3a3a" text-anchor="start" font-weight="normal" font-style="italic" textLength="17.6" lengthAdjust="spacingAndGlyphs">Tacr1</text>
<line x1="518.2" y1="336.1" x2="518.2" y2="487.3" stroke="#5a5a5a" stroke-width="0.8"/>
<line x1="518.2" y1="487.3" x2="682" y2="487.3" stroke="#5a5a5a" stroke-width="0.8"/>
<line x1="515.4000000000001" y1="349.2" x2="518.2" y2="349.2" stroke="#5a5a5a" stroke-width="0.7"/>
<text x="512.1" y="352.3" font-size="8.3" fill="#3a3a3a" text-anchor="end" font-weight="normal">40</text>
<line x1="515.4000000000001" y1="382" x2="518.2" y2="382" stroke="#5a5a5a" stroke-width="0.7"/>
<text x="512.1" y="385.1" font-size="8.3" fill="#3a3a3a" text-anchor="end" font-weight="normal">30</text>
<line x1="515.4000000000001" y1="415" x2="518.2" y2="415" stroke="#5a5a5a" stroke-width="0.7"/>
<text x="512.1" y="418.1" font-size="8.3" fill="#3a3a3a" text-anchor="end" font-weight="normal">20</text>
<line x1="515.4000000000001" y1="448" x2="518.2" y2="448" stroke="#5a5a5a" stroke-width="0.7"/>
<text x="512.1" y="451.1" font-size="8.3" fill="#3a3a3a" text-anchor="end" font-weight="normal">10</text>
<line x1="515.4000000000001" y1="480.4" x2="518.2" y2="480.4" stroke="#5a5a5a" stroke-width="0.7"/>
<text x="512.1" y="483.5" font-size="8.3" fill="#3a3a3a" text-anchor="end" font-weight="normal">0</text>
<line x1="526.5" y1="487.3" x2="526.5" y2="489.90000000000003" stroke="#5a5a5a" stroke-width="0.7"/>
<text x="526.5" y="498.7" font-size="8.3" fill="#3a3a3a" text-anchor="middle" font-weight="normal">-5</text>
<line x1="563.8" y1="487.3" x2="563.8" y2="489.90000000000003" stroke="#5a5a5a" stroke-width="0.7"/>
<text x="563.8" y="498.7" font-size="8.3" fill="#3a3a3a" text-anchor="middle" font-weight="normal">-2.5</text>
<line x1="601.5" y1="487.3" x2="601.5" y2="489.90000000000003" stroke="#5a5a5a" stroke-width="0.7"/>
<text x="601.5" y="498.7" font-size="8.3" fill="#3a3a3a" text-anchor="middle" font-weight="normal">0</text>
<line x1="638.9" y1="487.3" x2="638.9" y2="489.90000000000003" stroke="#5a5a5a" stroke-width="0.7"/>
<text x="638.9" y="498.7" font-size="8.3" fill="#3a3a3a" text-anchor="middle" font-weight="normal">2.5</text>
<line x1="677.5" y1="487.3" x2="677.5" y2="489.90000000000003" stroke="#5a5a5a" stroke-width="0.7"/>
<text x="677.5" y="498.7" font-size="8.3" fill="#3a3a3a" text-anchor="middle" font-weight="normal">5</text>
<text x="566.2" y="513.6" font-size="8.6" fill="#3a3a3a" textLength="72.0" lengthAdjust="spacingAndGlyphs">log<tspan font-size="6" dy="2">2</tspan><tspan dy="-2"> (fold change)</tspan></text>
<text transform="translate(496.8,433.8) rotate(-90)" font-size="8.8" fill="#3a3a3a">−log<tspan font-size="6" dy="2.2">10</tspan><tspan dy="-2.2" font-style="italic">P</tspan><tspan font-size="6" dy="2.2">adj</tspan></text>
</svg></body></html>
